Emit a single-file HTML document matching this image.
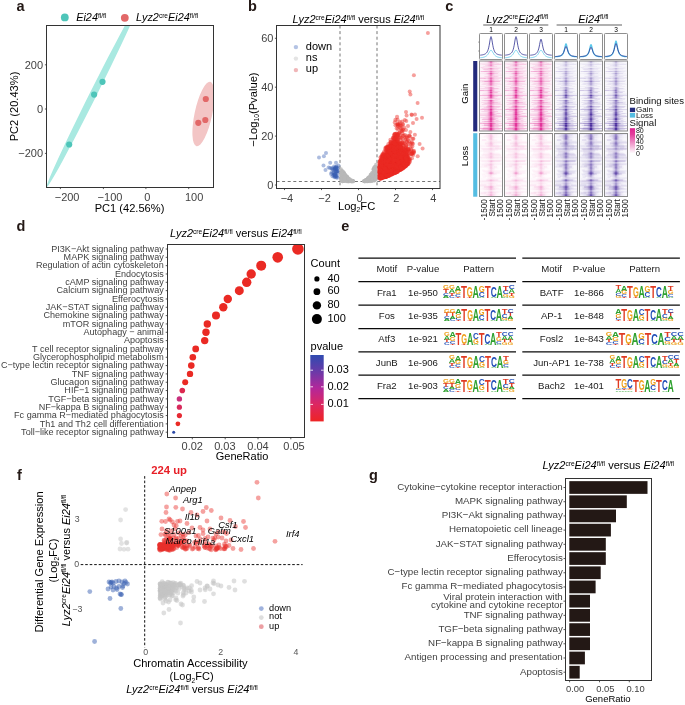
<!DOCTYPE html>
<html lang="en">
<head>
<meta charset="utf-8">
<title>Figure</title>
<style>
html,body{margin:0;padding:0;background:#fff;}
body{width:685px;height:705px;overflow:hidden;}
svg{display:block;font-family:"Liberation Sans", sans-serif;}
svg text{white-space:pre;}
</style>
</head>
<body>
<svg width="685" height="705" viewBox="0 0 685 705">
<rect x="0" y="0" width="685" height="705" fill="#fff"/>
<g id="panel-a">
<text x="16.6" y="11.4" font-size="14.5" font-weight="bold" fill="#231815">a</text>
<circle cx="64.8" cy="17.4" r="3.9" fill="#4ec5b9"/>
<text x="76.2" y="21.4" font-size="10.9"><tspan font-style="italic">Ei24</tspan><tspan font-size="6.54" dy="-3.27">fl/fl</tspan></text>
<circle cx="124.8" cy="17.8" r="3.9" fill="#e26868"/>
<text x="136.1" y="21.4" font-size="10.9"><tspan font-style="italic">Lyz2</tspan><tspan font-size="6.54" dy="-3.27">cre</tspan><tspan font-style="italic" dy="3.27">Ei24</tspan><tspan font-size="6.54" dy="-3.27">fl/fl</tspan></text>
<clipPath id="ca"><rect x="46.5" y="25.5" width="167" height="162"/></clipPath>
<g clip-path="url(#ca)">
<ellipse cx="0" cy="0" rx="104" ry="3.5" fill="#a9e9e1" transform="translate(93 94.6) rotate(-63.4)"/>
<ellipse cx="0" cy="0" rx="33" ry="8.8" fill="#f3c5c5" transform="translate(203.4 114) rotate(-78)"/>
</g>
<circle cx="102.5" cy="81.8" r="3.1" fill="#4ec5b9"/>
<circle cx="94.1" cy="94.6" r="3.1" fill="#4ec5b9"/>
<circle cx="69.2" cy="144.5" r="3.1" fill="#4ec5b9"/>
<circle cx="205.8" cy="99" r="3.1" fill="#e26868"/>
<circle cx="205.3" cy="120" r="3.1" fill="#e26868"/>
<circle cx="198.3" cy="122.8" r="3.1" fill="#e26868"/>
<rect x="46.5" y="25.5" width="167" height="162" fill="none" stroke="#333" stroke-width="1"/>
<text x="43" y="68.7" font-size="11" text-anchor="end" fill="#424242">200</text>
<line x1="44.9" y1="64.8" x2="46.5" y2="64.8" stroke="#333" stroke-width="0.8"/>
<text x="43" y="112.9" font-size="11" text-anchor="end" fill="#424242">0</text>
<line x1="44.9" y1="109" x2="46.5" y2="109" stroke="#333" stroke-width="0.8"/>
<text x="43" y="157.3" font-size="11" text-anchor="end" fill="#424242">−200</text>
<line x1="44.9" y1="153.4" x2="46.5" y2="153.4" stroke="#333" stroke-width="0.8"/>
<text x="67.1" y="200.6" font-size="11" text-anchor="middle" fill="#424242">−200</text>
<line x1="60.4" y1="187.5" x2="60.4" y2="189.1" stroke="#333" stroke-width="0.8"/>
<text x="110" y="200.6" font-size="11" text-anchor="middle" fill="#424242">−100</text>
<line x1="103.4" y1="187.5" x2="103.4" y2="189.1" stroke="#333" stroke-width="0.8"/>
<text x="147.2" y="200.6" font-size="11" text-anchor="middle" fill="#424242">0</text>
<line x1="145.9" y1="187.5" x2="145.9" y2="189.1" stroke="#333" stroke-width="0.8"/>
<text x="194.1" y="200.6" font-size="11" text-anchor="middle" fill="#424242">100</text>
<line x1="188.7" y1="187.5" x2="188.7" y2="189.1" stroke="#333" stroke-width="0.8"/>
<text font-size="11.1" text-anchor="middle" transform="translate(18.2 106.5) rotate(-90)">PC2 (20.43%)</text>
<text x="129.5" y="211.5" font-size="11.1" text-anchor="middle">PC1 (42.56%)</text>
</g>
<g id="panel-b">
<text x="248" y="11.4" font-size="14.5" font-weight="bold" fill="#231815">b</text>
<text x="292.5" y="22.8" font-size="11"><tspan font-style="italic">Lyz2</tspan><tspan font-size="6.6" dy="-3.3">cre</tspan><tspan font-style="italic" dy="3.3">Ei24</tspan><tspan font-size="6.6" dy="-3.3">fl/fl</tspan><tspan dy="3.3"> versus </tspan><tspan font-style="italic">Ei24</tspan><tspan font-size="6.6" dy="-3.3">fl/fl</tspan></text>
<line x1="340" y1="25.5" x2="340" y2="188.5" stroke="#6e6e6e" stroke-width="0.95" stroke-dasharray="3 2.6"/>
<line x1="377" y1="25.5" x2="377" y2="188.5" stroke="#6e6e6e" stroke-width="0.95" stroke-dasharray="3 2.6"/>
<line x1="276.5" y1="181.5" x2="440" y2="181.5" stroke="#6e6e6e" stroke-width="0.95" stroke-dasharray="3 2.6"/>
<g fill="#b8b8b8" fill-opacity="0.75">
<circle cx="375.58" cy="174.71" r="1.8"/>
<circle cx="351.75" cy="180.93" r="1.8"/>
<circle cx="371.89" cy="172.75" r="1.8"/>
<circle cx="352.43" cy="181.17" r="1.8"/>
<circle cx="349.18" cy="179.95" r="1.8"/>
<circle cx="342.6" cy="180.16" r="1.8"/>
<circle cx="344.6" cy="176.71" r="1.8"/>
<circle cx="345.18" cy="178.59" r="1.8"/>
<circle cx="352.24" cy="180.71" r="1.8"/>
<circle cx="370.05" cy="178" r="1.8"/>
<circle cx="371.64" cy="175.26" r="1.8"/>
<circle cx="345.13" cy="176.73" r="1.8"/>
<circle cx="365.69" cy="180.4" r="1.8"/>
<circle cx="344.73" cy="177.53" r="1.8"/>
<circle cx="373.91" cy="175.21" r="1.8"/>
<circle cx="369.36" cy="180.18" r="1.8"/>
<circle cx="343.89" cy="179.28" r="1.8"/>
<circle cx="371.26" cy="174.06" r="1.8"/>
<circle cx="368.44" cy="177.28" r="1.8"/>
<circle cx="345.89" cy="180.49" r="1.8"/>
<circle cx="366.56" cy="180.43" r="1.8"/>
<circle cx="341.29" cy="180.51" r="1.8"/>
<circle cx="369.1" cy="179.74" r="1.8"/>
<circle cx="371.85" cy="177.18" r="1.8"/>
<circle cx="341.45" cy="175.19" r="1.8"/>
<circle cx="351.97" cy="180.79" r="1.8"/>
<circle cx="368.4" cy="179.91" r="1.8"/>
<circle cx="364.23" cy="181.17" r="1.8"/>
<circle cx="344.81" cy="177.61" r="1.8"/>
<circle cx="343.18" cy="180.22" r="1.8"/>
<circle cx="347.2" cy="177.03" r="1.8"/>
<circle cx="365.4" cy="180.92" r="1.8"/>
<circle cx="374.96" cy="168.49" r="1.8"/>
<circle cx="373.19" cy="169.55" r="1.8"/>
<circle cx="375.67" cy="178.92" r="1.8"/>
<circle cx="350.45" cy="180.28" r="1.8"/>
<circle cx="346.19" cy="177.94" r="1.8"/>
<circle cx="368.36" cy="180.95" r="1.8"/>
<circle cx="372.18" cy="178.32" r="1.8"/>
<circle cx="343.98" cy="176.8" r="1.8"/>
<circle cx="346.52" cy="176.55" r="1.8"/>
<circle cx="369.8" cy="179.11" r="1.8"/>
<circle cx="372.44" cy="180.91" r="1.8"/>
<circle cx="341.07" cy="175.34" r="1.8"/>
<circle cx="347.9" cy="181.36" r="1.8"/>
<circle cx="345.29" cy="177.62" r="1.8"/>
<circle cx="372.22" cy="180.85" r="1.8"/>
<circle cx="344.78" cy="180.38" r="1.8"/>
<circle cx="375.65" cy="170.99" r="1.8"/>
<circle cx="366.11" cy="179.91" r="1.8"/>
<circle cx="370.75" cy="179.16" r="1.8"/>
<circle cx="351.23" cy="181.07" r="1.8"/>
<circle cx="370.73" cy="176.24" r="1.8"/>
<circle cx="349.67" cy="179.15" r="1.8"/>
<circle cx="366.48" cy="180.34" r="1.8"/>
<circle cx="343.28" cy="178.49" r="1.8"/>
<circle cx="343.92" cy="179.13" r="1.8"/>
<circle cx="375.2" cy="175.7" r="1.8"/>
<circle cx="345.66" cy="176.23" r="1.8"/>
<circle cx="372.46" cy="174.98" r="1.8"/>
<circle cx="342.8" cy="172.46" r="1.8"/>
<circle cx="349.74" cy="180.35" r="1.8"/>
<circle cx="341.02" cy="170.32" r="1.8"/>
<circle cx="368.06" cy="178.86" r="1.8"/>
<circle cx="370.37" cy="174.89" r="1.8"/>
<circle cx="375.65" cy="175.17" r="1.8"/>
<circle cx="351.23" cy="180.88" r="1.8"/>
<circle cx="367.32" cy="179.65" r="1.8"/>
<circle cx="346.26" cy="177.6" r="1.8"/>
<circle cx="342.52" cy="180.19" r="1.8"/>
<circle cx="373.96" cy="171.24" r="1.8"/>
<circle cx="375.01" cy="174.59" r="1.8"/>
<circle cx="365.51" cy="180.14" r="1.8"/>
<circle cx="370.56" cy="176.06" r="1.8"/>
<circle cx="343.62" cy="179.91" r="1.8"/>
<circle cx="352.65" cy="181.06" r="1.8"/>
<circle cx="374.2" cy="179.49" r="1.8"/>
<circle cx="372.68" cy="177.66" r="1.8"/>
<circle cx="352.8" cy="180.91" r="1.8"/>
<circle cx="345.73" cy="175.25" r="1.8"/>
<circle cx="375.95" cy="178.02" r="1.8"/>
<circle cx="352.64" cy="181.39" r="1.8"/>
<circle cx="343.23" cy="178.17" r="1.8"/>
<circle cx="374.48" cy="180.67" r="1.8"/>
<circle cx="375.1" cy="170.79" r="1.8"/>
<circle cx="374.41" cy="168.63" r="1.8"/>
<circle cx="345.67" cy="177.99" r="1.8"/>
<circle cx="342.15" cy="172.07" r="1.8"/>
<circle cx="343.1" cy="179.98" r="1.8"/>
<circle cx="346.32" cy="177.22" r="1.8"/>
<circle cx="348.08" cy="179.5" r="1.8"/>
<circle cx="373.98" cy="180.11" r="1.8"/>
<circle cx="349.08" cy="180.73" r="1.8"/>
<circle cx="345.94" cy="177.92" r="1.8"/>
<circle cx="346.67" cy="178.16" r="1.8"/>
<circle cx="343.95" cy="177.37" r="1.8"/>
<circle cx="371.06" cy="179.53" r="1.8"/>
<circle cx="375.34" cy="166.54" r="1.8"/>
<circle cx="342.47" cy="179.97" r="1.8"/>
<circle cx="347.27" cy="180.03" r="1.8"/>
<circle cx="346.84" cy="180.43" r="1.8"/>
<circle cx="373.98" cy="169.18" r="1.8"/>
<circle cx="341.5" cy="172.97" r="1.8"/>
<circle cx="366.42" cy="179.61" r="1.8"/>
<circle cx="367.53" cy="178.42" r="1.8"/>
<circle cx="374.97" cy="178.97" r="1.8"/>
<circle cx="350.3" cy="180.68" r="1.8"/>
<circle cx="369.09" cy="180.55" r="1.8"/>
<circle cx="365.6" cy="181" r="1.8"/>
<circle cx="371.57" cy="177.55" r="1.8"/>
<circle cx="347.36" cy="179.1" r="1.8"/>
<circle cx="371.11" cy="181.04" r="1.8"/>
<circle cx="341.19" cy="180.12" r="1.8"/>
<circle cx="368.23" cy="177.84" r="1.8"/>
<circle cx="348.79" cy="181.15" r="1.8"/>
<circle cx="374.63" cy="171.28" r="1.8"/>
<circle cx="369.89" cy="178.15" r="1.8"/>
<circle cx="373.13" cy="180.5" r="1.8"/>
<circle cx="342.87" cy="179.56" r="1.8"/>
<circle cx="348.81" cy="181.52" r="1.8"/>
<circle cx="342.85" cy="180.65" r="1.8"/>
<circle cx="351.86" cy="180.57" r="1.8"/>
<circle cx="363.94" cy="180.79" r="1.8"/>
<circle cx="375.38" cy="177.04" r="1.8"/>
<circle cx="352.31" cy="180.88" r="1.8"/>
<circle cx="341.22" cy="177.94" r="1.8"/>
<circle cx="349.72" cy="180.79" r="1.8"/>
<circle cx="371.32" cy="179.79" r="1.8"/>
<circle cx="370.98" cy="180.13" r="1.8"/>
<circle cx="374.17" cy="167.41" r="1.8"/>
<circle cx="352.96" cy="180.99" r="1.8"/>
<circle cx="345.87" cy="179.96" r="1.8"/>
<circle cx="365.84" cy="180.14" r="1.8"/>
<circle cx="372.67" cy="175.48" r="1.8"/>
<circle cx="375.79" cy="176.06" r="1.8"/>
<circle cx="341.09" cy="176.74" r="1.8"/>
<circle cx="347.12" cy="179.82" r="1.8"/>
<circle cx="342.5" cy="181.41" r="1.8"/>
<circle cx="370.18" cy="181.2" r="1.8"/>
<circle cx="374.83" cy="171.06" r="1.8"/>
<circle cx="372.06" cy="174.64" r="1.8"/>
<circle cx="346.48" cy="180.66" r="1.8"/>
<circle cx="363.68" cy="181.3" r="1.8"/>
<circle cx="375.82" cy="171.75" r="1.8"/>
<circle cx="352.5" cy="180.76" r="1.8"/>
<circle cx="347.7" cy="181.57" r="1.8"/>
<circle cx="365.46" cy="181.16" r="1.8"/>
<circle cx="349.08" cy="179.21" r="1.8"/>
<circle cx="348.87" cy="181.29" r="1.8"/>
<circle cx="371.93" cy="177.72" r="1.8"/>
<circle cx="368.65" cy="180.49" r="1.8"/>
<circle cx="344.32" cy="175.31" r="1.8"/>
<circle cx="373.78" cy="171.92" r="1.8"/>
<circle cx="366.52" cy="179.9" r="1.8"/>
<circle cx="352.3" cy="180.75" r="1.8"/>
<circle cx="373.47" cy="171.21" r="1.8"/>
<circle cx="341.79" cy="171.89" r="1.8"/>
<circle cx="342.6" cy="174.88" r="1.8"/>
<circle cx="351.52" cy="181.52" r="1.8"/>
<circle cx="375.69" cy="174.92" r="1.8"/>
<circle cx="371.62" cy="175.78" r="1.8"/>
<circle cx="346.15" cy="181.56" r="1.8"/>
<circle cx="343.38" cy="176.45" r="1.8"/>
<circle cx="344.3" cy="181" r="1.8"/>
<circle cx="367.97" cy="181.29" r="1.8"/>
<circle cx="367.74" cy="178.89" r="1.8"/>
<circle cx="343.47" cy="171.76" r="1.8"/>
<circle cx="374.59" cy="180.41" r="1.8"/>
<circle cx="373.81" cy="173.27" r="1.8"/>
<circle cx="351.66" cy="181.39" r="1.8"/>
<circle cx="372.62" cy="173.91" r="1.8"/>
<circle cx="353.04" cy="181.53" r="1.8"/>
<circle cx="375.81" cy="179.79" r="1.8"/>
<circle cx="344.13" cy="178.95" r="1.8"/>
<circle cx="370.58" cy="178.1" r="1.8"/>
<circle cx="340.99" cy="173.72" r="1.8"/>
<circle cx="375.87" cy="164.64" r="1.8"/>
<circle cx="348.54" cy="181.31" r="1.8"/>
<circle cx="376.02" cy="174.44" r="1.8"/>
<circle cx="351.71" cy="181.47" r="1.8"/>
<circle cx="375.63" cy="179.25" r="1.8"/>
<circle cx="374.99" cy="170.29" r="1.8"/>
<circle cx="346.05" cy="176" r="1.8"/>
<circle cx="364.28" cy="181.57" r="1.8"/>
<circle cx="372.93" cy="176.84" r="1.8"/>
<circle cx="346.99" cy="179.62" r="1.8"/>
<circle cx="342.46" cy="181.56" r="1.8"/>
<circle cx="374.52" cy="179.78" r="1.8"/>
<circle cx="343.74" cy="172.9" r="1.8"/>
<circle cx="367.99" cy="181.33" r="1.8"/>
<circle cx="376.06" cy="170.65" r="1.8"/>
<circle cx="375.36" cy="168.8" r="1.8"/>
<circle cx="348.65" cy="181.4" r="1.8"/>
<circle cx="372.44" cy="179.98" r="1.8"/>
<circle cx="370.25" cy="179.39" r="1.8"/>
<circle cx="373.99" cy="175.65" r="1.8"/>
<circle cx="342.74" cy="174.49" r="1.8"/>
<circle cx="343.68" cy="181.1" r="1.8"/>
<circle cx="370.42" cy="176.16" r="1.8"/>
<circle cx="370.81" cy="174.43" r="1.8"/>
<circle cx="350.16" cy="180.68" r="1.8"/>
<circle cx="368.57" cy="178.22" r="1.8"/>
<circle cx="369.9" cy="180.05" r="1.8"/>
<circle cx="371.61" cy="177.95" r="1.8"/>
<circle cx="344.47" cy="180.94" r="1.8"/>
<circle cx="371.53" cy="177.47" r="1.8"/>
<circle cx="376.04" cy="173.25" r="1.8"/>
<circle cx="345.49" cy="179.85" r="1.8"/>
<circle cx="347.88" cy="181.19" r="1.8"/>
<circle cx="347.56" cy="177.88" r="1.8"/>
<circle cx="342" cy="172.21" r="1.8"/>
<circle cx="369.62" cy="177.12" r="1.8"/>
<circle cx="347.45" cy="179.99" r="1.8"/>
<circle cx="346.05" cy="177.92" r="1.8"/>
<circle cx="366.15" cy="180.57" r="1.8"/>
<circle cx="351.39" cy="180.33" r="1.8"/>
<circle cx="369.82" cy="178.78" r="1.8"/>
<circle cx="374.62" cy="168.3" r="1.8"/>
<circle cx="350.82" cy="180.84" r="1.8"/>
<circle cx="375.77" cy="172.83" r="1.8"/>
<circle cx="347.28" cy="177.06" r="1.8"/>
<circle cx="375.81" cy="177.12" r="1.8"/>
<circle cx="349.41" cy="181.16" r="1.8"/>
<circle cx="341.48" cy="171.9" r="1.8"/>
<circle cx="365.48" cy="180.41" r="1.8"/>
<circle cx="343.04" cy="179.08" r="1.8"/>
<circle cx="344.45" cy="178.97" r="1.8"/>
<circle cx="344.65" cy="177.21" r="1.8"/>
<circle cx="373.11" cy="180.23" r="1.8"/>
<circle cx="348.4" cy="178.1" r="1.8"/>
<circle cx="347.32" cy="180.5" r="1.8"/>
<circle cx="353.09" cy="181.34" r="1.8"/>
<circle cx="368.32" cy="180.24" r="1.8"/>
<circle cx="346.3" cy="180.16" r="1.8"/>
<circle cx="352.61" cy="181.21" r="1.8"/>
<circle cx="364.93" cy="181.35" r="1.8"/>
<circle cx="365.41" cy="181.24" r="1.8"/>
<circle cx="375.36" cy="177.75" r="1.8"/>
<circle cx="343.92" cy="174.86" r="1.8"/>
<circle cx="372.94" cy="179.26" r="1.8"/>
<circle cx="373.52" cy="175.08" r="1.8"/>
<circle cx="346.07" cy="180.31" r="1.8"/>
<circle cx="349.32" cy="180.95" r="1.8"/>
<circle cx="365.88" cy="180.46" r="1.8"/>
<circle cx="341.91" cy="175.44" r="1.8"/>
<circle cx="341.41" cy="179.6" r="1.8"/>
<circle cx="364.91" cy="181.55" r="1.8"/>
<circle cx="347" cy="177.89" r="1.8"/>
<circle cx="347.26" cy="177.18" r="1.8"/>
<circle cx="373.46" cy="168.87" r="1.8"/>
<circle cx="348.04" cy="180.82" r="1.8"/>
<circle cx="364.44" cy="180.94" r="1.8"/>
<circle cx="374.52" cy="166.8" r="1.8"/>
<circle cx="366.81" cy="181.57" r="1.8"/>
<circle cx="365.4" cy="180.97" r="1.8"/>
<circle cx="345.35" cy="176.05" r="1.8"/>
<circle cx="369.3" cy="177.04" r="1.8"/>
<circle cx="365.52" cy="180.49" r="1.8"/>
<circle cx="347.5" cy="177.33" r="1.8"/>
<circle cx="348.11" cy="178.64" r="1.8"/>
<circle cx="364.41" cy="181.19" r="1.8"/>
<circle cx="364.63" cy="181.54" r="1.8"/>
<circle cx="342.83" cy="180.89" r="1.8"/>
<circle cx="343.39" cy="172.43" r="1.8"/>
<circle cx="369.38" cy="179.69" r="1.8"/>
<circle cx="348.9" cy="179.27" r="1.8"/>
<circle cx="375.35" cy="176.56" r="1.8"/>
<circle cx="352.73" cy="181.38" r="1.8"/>
<circle cx="373.28" cy="175.81" r="1.8"/>
<circle cx="374.03" cy="168.84" r="1.8"/>
<circle cx="366.26" cy="180.54" r="1.8"/>
<circle cx="342.84" cy="173.4" r="1.8"/>
<circle cx="344.85" cy="178.96" r="1.8"/>
<circle cx="370.53" cy="175.79" r="1.8"/>
<circle cx="345.89" cy="179.01" r="1.8"/>
<circle cx="349.09" cy="181.38" r="1.8"/>
<circle cx="346.23" cy="178.24" r="1.8"/>
<circle cx="341.11" cy="169.14" r="1.8"/>
<circle cx="348.86" cy="181.3" r="1.8"/>
<circle cx="346.93" cy="176.36" r="1.8"/>
<circle cx="366.87" cy="181.23" r="1.8"/>
<circle cx="372.29" cy="174.54" r="1.8"/>
<circle cx="343.07" cy="178.43" r="1.8"/>
<circle cx="371.71" cy="178.08" r="1.8"/>
<circle cx="367.25" cy="180.83" r="1.8"/>
<circle cx="349.25" cy="180.76" r="1.8"/>
<circle cx="348.07" cy="179.99" r="1.8"/>
<circle cx="345.94" cy="180.07" r="1.8"/>
<circle cx="344.36" cy="172.96" r="1.8"/>
<circle cx="353.29" cy="180.92" r="1.8"/>
<circle cx="342.46" cy="170.87" r="1.8"/>
<circle cx="342.11" cy="178.71" r="1.8"/>
<circle cx="349.89" cy="179.26" r="1.8"/>
<circle cx="341.59" cy="176.66" r="1.8"/>
<circle cx="346.6" cy="180.1" r="1.8"/>
<circle cx="351.17" cy="180.67" r="1.8"/>
<circle cx="367.5" cy="180.36" r="1.8"/>
<circle cx="352.29" cy="180.59" r="1.8"/>
<circle cx="344.93" cy="176.45" r="1.8"/>
<circle cx="342.72" cy="172.34" r="1.8"/>
<circle cx="372.9" cy="179.43" r="1.8"/>
<circle cx="365.35" cy="181.53" r="1.8"/>
<circle cx="371.51" cy="181.01" r="1.8"/>
<circle cx="342.91" cy="174.29" r="1.8"/>
<circle cx="344.51" cy="180.8" r="1.8"/>
<circle cx="347.2" cy="180.23" r="1.8"/>
<circle cx="372.79" cy="176.81" r="1.8"/>
<circle cx="348.25" cy="179.4" r="1.8"/>
<circle cx="369.99" cy="181.46" r="1.8"/>
<circle cx="372.54" cy="177.31" r="1.8"/>
<circle cx="367.31" cy="181.56" r="1.8"/>
<circle cx="346.9" cy="177.22" r="1.8"/>
<circle cx="371.83" cy="178.07" r="1.8"/>
<circle cx="350.78" cy="181.49" r="1.8"/>
<circle cx="344.5" cy="173.85" r="1.8"/>
<circle cx="345.22" cy="174.66" r="1.8"/>
<circle cx="350.54" cy="181.04" r="1.8"/>
<circle cx="341.63" cy="180.15" r="1.8"/>
<circle cx="373.67" cy="171.14" r="1.8"/>
<circle cx="348.38" cy="178.48" r="1.8"/>
<circle cx="341.16" cy="174.82" r="1.8"/>
<circle cx="344.85" cy="176.49" r="1.8"/>
<circle cx="341.84" cy="173.65" r="1.8"/>
<circle cx="344.5" cy="174.31" r="1.8"/>
<circle cx="372.23" cy="179.55" r="1.8"/>
<circle cx="367.01" cy="180.97" r="1.8"/>
<circle cx="375.49" cy="178.89" r="1.8"/>
<circle cx="366.11" cy="181.09" r="1.8"/>
<circle cx="352.36" cy="181.03" r="1.8"/>
<circle cx="344.21" cy="178.69" r="1.8"/>
</g>
<g fill="#3a60b2" fill-opacity="0.42">
<circle cx="334.61" cy="167.94" r="2"/>
<circle cx="335.12" cy="169.05" r="2"/>
<circle cx="335.81" cy="175.88" r="2"/>
<circle cx="335.16" cy="174.12" r="2"/>
<circle cx="334.8" cy="176.17" r="2"/>
<circle cx="334.52" cy="177.29" r="2"/>
<circle cx="333.68" cy="172.96" r="2"/>
<circle cx="337.25" cy="171.82" r="2"/>
<circle cx="334.79" cy="168.52" r="2"/>
<circle cx="331.52" cy="172.77" r="2"/>
<circle cx="334.57" cy="174.19" r="2"/>
<circle cx="336.24" cy="168.94" r="2"/>
<circle cx="332.45" cy="176.26" r="2"/>
<circle cx="337.45" cy="177.66" r="2"/>
<circle cx="334.9" cy="169.81" r="2"/>
<circle cx="336.16" cy="177.54" r="2"/>
<circle cx="337.5" cy="171.4" r="2"/>
<circle cx="330.13" cy="167.91" r="2"/>
<circle cx="336.31" cy="171.62" r="2"/>
<circle cx="337.38" cy="170.8" r="2"/>
<circle cx="336.15" cy="167.67" r="2"/>
<circle cx="336.41" cy="175.69" r="2"/>
<circle cx="335.26" cy="170.37" r="2"/>
<circle cx="331.79" cy="169.08" r="2"/>
<circle cx="336.4" cy="171.7" r="2"/>
<circle cx="331.05" cy="174.07" r="2"/>
<circle cx="335.43" cy="167.26" r="2"/>
<circle cx="333.26" cy="172.72" r="2"/>
<circle cx="337.36" cy="173.71" r="2"/>
<circle cx="333.52" cy="175.14" r="2"/>
<circle cx="334.94" cy="174.23" r="2"/>
<circle cx="336.47" cy="171.36" r="2"/>
<circle cx="334.2" cy="174.99" r="2"/>
<circle cx="335.99" cy="169.03" r="2"/>
<circle cx="334.58" cy="175.27" r="2"/>
<circle cx="337.47" cy="168.33" r="2"/>
<circle cx="336.49" cy="166.49" r="2"/>
<circle cx="333.51" cy="169.91" r="2"/>
<circle cx="336.35" cy="167.55" r="2"/>
<circle cx="337.54" cy="168.37" r="2"/>
<circle cx="333.24" cy="169.19" r="2"/>
<circle cx="335.24" cy="174.37" r="2"/>
<circle cx="335.13" cy="176.59" r="2"/>
<circle cx="336.89" cy="176.49" r="2"/>
<circle cx="319" cy="157.6" r="2"/>
<circle cx="323.9" cy="156.2" r="2"/>
<circle cx="326" cy="153.1" r="2"/>
<circle cx="323.5" cy="165.4" r="2"/>
<circle cx="325.5" cy="170.1" r="2"/>
<circle cx="330.2" cy="162.7" r="2"/>
<circle cx="336" cy="162.7" r="2"/>
<circle cx="328.6" cy="167.4" r="2"/>
<circle cx="332" cy="168" r="2"/>
<circle cx="334" cy="166.5" r="2"/>
<circle cx="338.5" cy="165.5" r="2"/>
</g>
<g fill="#ea2a24" fill-opacity="0.45">
<circle cx="399.14" cy="163.51" r="2.1"/>
<circle cx="406.09" cy="161.19" r="2.1"/>
<circle cx="380.31" cy="178.27" r="2.1"/>
<circle cx="386.38" cy="172.17" r="2.1"/>
<circle cx="383.73" cy="170.93" r="2.1"/>
<circle cx="385.84" cy="156.14" r="2.1"/>
<circle cx="399.96" cy="155.77" r="2.1"/>
<circle cx="406.4" cy="164.01" r="2.1"/>
<circle cx="381.2" cy="172.32" r="2.1"/>
<circle cx="397.41" cy="160.6" r="2.1"/>
<circle cx="390.5" cy="162.2" r="2.1"/>
<circle cx="401.68" cy="166.3" r="2.1"/>
<circle cx="394.49" cy="136.18" r="2.1"/>
<circle cx="391.65" cy="145.54" r="2.1"/>
<circle cx="385.15" cy="159.5" r="2.1"/>
<circle cx="388.06" cy="162.43" r="2.1"/>
<circle cx="402.24" cy="160.73" r="2.1"/>
<circle cx="381.03" cy="164.71" r="2.1"/>
<circle cx="403.37" cy="165.74" r="2.1"/>
<circle cx="394.39" cy="151.34" r="2.1"/>
<circle cx="390.79" cy="167.13" r="2.1"/>
<circle cx="399.56" cy="147.82" r="2.1"/>
<circle cx="391.06" cy="150.53" r="2.1"/>
<circle cx="393.54" cy="162.04" r="2.1"/>
<circle cx="408.47" cy="163.36" r="2.1"/>
<circle cx="380.05" cy="170.68" r="2.1"/>
<circle cx="394.5" cy="172.74" r="2.1"/>
<circle cx="380.26" cy="167.96" r="2.1"/>
<circle cx="400.25" cy="147.08" r="2.1"/>
<circle cx="381.42" cy="157.99" r="2.1"/>
<circle cx="388.72" cy="148.74" r="2.1"/>
<circle cx="392.23" cy="163.69" r="2.1"/>
<circle cx="382.55" cy="176.6" r="2.1"/>
<circle cx="407.88" cy="157.67" r="2.1"/>
<circle cx="394.07" cy="154.05" r="2.1"/>
<circle cx="383.54" cy="169.27" r="2.1"/>
<circle cx="396.97" cy="136.33" r="2.1"/>
<circle cx="400.21" cy="164.82" r="2.1"/>
<circle cx="403.63" cy="163.97" r="2.1"/>
<circle cx="404.94" cy="161.53" r="2.1"/>
<circle cx="380.73" cy="166.23" r="2.1"/>
<circle cx="392.37" cy="144.96" r="2.1"/>
<circle cx="401.18" cy="161.91" r="2.1"/>
<circle cx="402.48" cy="155.85" r="2.1"/>
<circle cx="379.86" cy="161.56" r="2.1"/>
<circle cx="407.68" cy="162.62" r="2.1"/>
<circle cx="388.66" cy="167.01" r="2.1"/>
<circle cx="388.53" cy="172.99" r="2.1"/>
<circle cx="400.1" cy="169.74" r="2.1"/>
<circle cx="405.1" cy="160" r="2.1"/>
<circle cx="393.71" cy="169.79" r="2.1"/>
<circle cx="404.99" cy="149.81" r="2.1"/>
<circle cx="385.16" cy="159.56" r="2.1"/>
<circle cx="397.96" cy="148.85" r="2.1"/>
<circle cx="396.37" cy="170.99" r="2.1"/>
<circle cx="384.48" cy="166.94" r="2.1"/>
<circle cx="385.5" cy="176.35" r="2.1"/>
<circle cx="395.69" cy="168.55" r="2.1"/>
<circle cx="388.99" cy="174.46" r="2.1"/>
<circle cx="397.35" cy="168.39" r="2.1"/>
<circle cx="390.17" cy="162.05" r="2.1"/>
<circle cx="404.16" cy="156.12" r="2.1"/>
<circle cx="387.32" cy="166.84" r="2.1"/>
<circle cx="396.63" cy="133.59" r="2.1"/>
<circle cx="384.72" cy="175.99" r="2.1"/>
<circle cx="390.06" cy="150.2" r="2.1"/>
<circle cx="401.31" cy="163.03" r="2.1"/>
<circle cx="393.86" cy="171.96" r="2.1"/>
<circle cx="391.75" cy="173.28" r="2.1"/>
<circle cx="394.29" cy="151.25" r="2.1"/>
<circle cx="380.11" cy="166.7" r="2.1"/>
<circle cx="393.6" cy="148.46" r="2.1"/>
<circle cx="393.1" cy="150.48" r="2.1"/>
<circle cx="406.7" cy="155.53" r="2.1"/>
<circle cx="390.3" cy="174.19" r="2.1"/>
<circle cx="404.66" cy="163.52" r="2.1"/>
<circle cx="386.07" cy="174.74" r="2.1"/>
<circle cx="386.65" cy="150.55" r="2.1"/>
<circle cx="380.32" cy="173.76" r="2.1"/>
<circle cx="387.09" cy="169.82" r="2.1"/>
<circle cx="404.68" cy="165.74" r="2.1"/>
<circle cx="383.78" cy="170.28" r="2.1"/>
<circle cx="384.35" cy="163.9" r="2.1"/>
<circle cx="382.54" cy="174.86" r="2.1"/>
<circle cx="394.21" cy="153.43" r="2.1"/>
<circle cx="393.95" cy="143.1" r="2.1"/>
<circle cx="393.04" cy="159.28" r="2.1"/>
<circle cx="385.22" cy="172.79" r="2.1"/>
<circle cx="407.32" cy="158.59" r="2.1"/>
<circle cx="389.9" cy="169.89" r="2.1"/>
<circle cx="393.51" cy="172.32" r="2.1"/>
<circle cx="388.84" cy="154.11" r="2.1"/>
<circle cx="395.45" cy="171.57" r="2.1"/>
<circle cx="403.93" cy="156.67" r="2.1"/>
<circle cx="384.36" cy="172.04" r="2.1"/>
<circle cx="379.86" cy="162.28" r="2.1"/>
<circle cx="384.22" cy="156.22" r="2.1"/>
<circle cx="385.55" cy="162.59" r="2.1"/>
<circle cx="390.8" cy="169.95" r="2.1"/>
<circle cx="399.05" cy="165.69" r="2.1"/>
<circle cx="383.45" cy="165.05" r="2.1"/>
<circle cx="390.8" cy="163.44" r="2.1"/>
<circle cx="388.75" cy="154.16" r="2.1"/>
<circle cx="382.57" cy="176.85" r="2.1"/>
<circle cx="394.55" cy="143.41" r="2.1"/>
<circle cx="382.61" cy="163.18" r="2.1"/>
<circle cx="382.36" cy="168.96" r="2.1"/>
<circle cx="399.31" cy="168.91" r="2.1"/>
<circle cx="390.59" cy="166.67" r="2.1"/>
<circle cx="407.1" cy="160.21" r="2.1"/>
<circle cx="386.38" cy="172.08" r="2.1"/>
<circle cx="381.48" cy="162.11" r="2.1"/>
<circle cx="383.97" cy="155.97" r="2.1"/>
<circle cx="381.94" cy="174.65" r="2.1"/>
<circle cx="389.15" cy="164.12" r="2.1"/>
<circle cx="387.73" cy="174.29" r="2.1"/>
<circle cx="383.21" cy="160.46" r="2.1"/>
<circle cx="383.21" cy="156.02" r="2.1"/>
<circle cx="382.59" cy="163.9" r="2.1"/>
<circle cx="398.9" cy="147.45" r="2.1"/>
<circle cx="384.17" cy="174.12" r="2.1"/>
<circle cx="395.17" cy="159.69" r="2.1"/>
<circle cx="382.23" cy="175.04" r="2.1"/>
<circle cx="388.32" cy="161.2" r="2.1"/>
<circle cx="385.39" cy="168.88" r="2.1"/>
<circle cx="396.7" cy="165.05" r="2.1"/>
<circle cx="401.7" cy="161.99" r="2.1"/>
<circle cx="383.78" cy="165.43" r="2.1"/>
<circle cx="403.51" cy="151.38" r="2.1"/>
<circle cx="404.15" cy="166.03" r="2.1"/>
<circle cx="395.42" cy="137.17" r="2.1"/>
<circle cx="389" cy="170.38" r="2.1"/>
<circle cx="399.49" cy="161.83" r="2.1"/>
<circle cx="389.73" cy="159.88" r="2.1"/>
<circle cx="397.07" cy="165.1" r="2.1"/>
<circle cx="403.06" cy="157.49" r="2.1"/>
<circle cx="390.43" cy="142.54" r="2.1"/>
<circle cx="402.59" cy="163.8" r="2.1"/>
<circle cx="379.8" cy="175.59" r="2.1"/>
<circle cx="397.16" cy="161.64" r="2.1"/>
<circle cx="381.62" cy="160.72" r="2.1"/>
<circle cx="388.9" cy="160.45" r="2.1"/>
<circle cx="379.67" cy="165.83" r="2.1"/>
<circle cx="394.01" cy="135.04" r="2.1"/>
<circle cx="389.01" cy="169.36" r="2.1"/>
<circle cx="386.17" cy="169.01" r="2.1"/>
<circle cx="402.17" cy="158.63" r="2.1"/>
<circle cx="385.29" cy="154.76" r="2.1"/>
<circle cx="405.87" cy="162.74" r="2.1"/>
<circle cx="384.86" cy="170.58" r="2.1"/>
<circle cx="389.49" cy="155.02" r="2.1"/>
<circle cx="385.22" cy="162.68" r="2.1"/>
<circle cx="379.32" cy="174.63" r="2.1"/>
<circle cx="383.18" cy="158.4" r="2.1"/>
<circle cx="382.26" cy="169.3" r="2.1"/>
<circle cx="385.36" cy="161.61" r="2.1"/>
<circle cx="382.07" cy="161.62" r="2.1"/>
<circle cx="401.15" cy="161.17" r="2.1"/>
<circle cx="392.17" cy="171.89" r="2.1"/>
<circle cx="382.9" cy="177.25" r="2.1"/>
<circle cx="398.39" cy="154.91" r="2.1"/>
<circle cx="403.95" cy="162" r="2.1"/>
<circle cx="390.58" cy="146.2" r="2.1"/>
<circle cx="391.86" cy="169.71" r="2.1"/>
<circle cx="382.39" cy="168.48" r="2.1"/>
<circle cx="390.11" cy="161.57" r="2.1"/>
<circle cx="384.28" cy="151.71" r="2.1"/>
<circle cx="396.31" cy="170.13" r="2.1"/>
<circle cx="379.53" cy="176.69" r="2.1"/>
<circle cx="388.09" cy="153.76" r="2.1"/>
<circle cx="386.87" cy="174.08" r="2.1"/>
<circle cx="396.79" cy="138.88" r="2.1"/>
<circle cx="385.1" cy="163" r="2.1"/>
<circle cx="389.72" cy="156.74" r="2.1"/>
<circle cx="393.54" cy="140.68" r="2.1"/>
<circle cx="403.17" cy="153.06" r="2.1"/>
<circle cx="400.84" cy="162.24" r="2.1"/>
<circle cx="395.77" cy="162.57" r="2.1"/>
<circle cx="390.22" cy="149.79" r="2.1"/>
<circle cx="398.64" cy="143.58" r="2.1"/>
<circle cx="390.37" cy="172.26" r="2.1"/>
<circle cx="387.5" cy="163.16" r="2.1"/>
<circle cx="397.38" cy="171.86" r="2.1"/>
<circle cx="381.42" cy="165.3" r="2.1"/>
<circle cx="393.99" cy="139.15" r="2.1"/>
<circle cx="387.52" cy="176.24" r="2.1"/>
<circle cx="381.43" cy="173.51" r="2.1"/>
<circle cx="382.87" cy="169.47" r="2.1"/>
<circle cx="391.22" cy="167.03" r="2.1"/>
<circle cx="388.11" cy="170.64" r="2.1"/>
<circle cx="395.35" cy="152.32" r="2.1"/>
<circle cx="391.59" cy="159.19" r="2.1"/>
<circle cx="395.73" cy="153.53" r="2.1"/>
<circle cx="389.17" cy="174.09" r="2.1"/>
<circle cx="406.65" cy="163.59" r="2.1"/>
<circle cx="396.43" cy="170.14" r="2.1"/>
<circle cx="383.87" cy="159.01" r="2.1"/>
<circle cx="399.92" cy="147.73" r="2.1"/>
<circle cx="396.07" cy="168.88" r="2.1"/>
<circle cx="399.8" cy="157.64" r="2.1"/>
<circle cx="387.73" cy="167.77" r="2.1"/>
<circle cx="380.52" cy="167.54" r="2.1"/>
<circle cx="387.05" cy="153.9" r="2.1"/>
<circle cx="401.3" cy="155.93" r="2.1"/>
<circle cx="399.51" cy="166.34" r="2.1"/>
<circle cx="382.18" cy="170.62" r="2.1"/>
<circle cx="388.93" cy="156.77" r="2.1"/>
<circle cx="385.16" cy="161.8" r="2.1"/>
<circle cx="388.58" cy="151.13" r="2.1"/>
<circle cx="393.64" cy="165.16" r="2.1"/>
<circle cx="383.42" cy="160.65" r="2.1"/>
<circle cx="383.64" cy="157.52" r="2.1"/>
<circle cx="385.56" cy="170.72" r="2.1"/>
<circle cx="386.52" cy="155.41" r="2.1"/>
<circle cx="404.88" cy="159.64" r="2.1"/>
<circle cx="396.67" cy="136.41" r="2.1"/>
<circle cx="394.75" cy="134.04" r="2.1"/>
<circle cx="402.55" cy="159.69" r="2.1"/>
<circle cx="383.76" cy="164.37" r="2.1"/>
<circle cx="398.98" cy="166.04" r="2.1"/>
<circle cx="391.66" cy="172.5" r="2.1"/>
<circle cx="382.38" cy="169.17" r="2.1"/>
<circle cx="387.38" cy="171.6" r="2.1"/>
<circle cx="397.08" cy="140.14" r="2.1"/>
<circle cx="402.22" cy="143.33" r="2.1"/>
<circle cx="382.4" cy="176.98" r="2.1"/>
<circle cx="382.3" cy="162.43" r="2.1"/>
<circle cx="385.09" cy="159.35" r="2.1"/>
<circle cx="382.8" cy="171.02" r="2.1"/>
<circle cx="386.12" cy="159.58" r="2.1"/>
<circle cx="387.38" cy="158.37" r="2.1"/>
<circle cx="383.65" cy="174.89" r="2.1"/>
<circle cx="380.66" cy="176.17" r="2.1"/>
<circle cx="380.98" cy="178.43" r="2.1"/>
<circle cx="403.46" cy="155.1" r="2.1"/>
<circle cx="382.76" cy="157.17" r="2.1"/>
<circle cx="379.79" cy="172.88" r="2.1"/>
<circle cx="395.46" cy="163.64" r="2.1"/>
<circle cx="381.8" cy="178" r="2.1"/>
<circle cx="391.63" cy="166.37" r="2.1"/>
<circle cx="385.38" cy="155.05" r="2.1"/>
<circle cx="384.23" cy="154.8" r="2.1"/>
<circle cx="386.17" cy="172.42" r="2.1"/>
<circle cx="389.42" cy="153.96" r="2.1"/>
<circle cx="389" cy="171.58" r="2.1"/>
<circle cx="400.56" cy="169.88" r="2.1"/>
<circle cx="390.2" cy="166.59" r="2.1"/>
<circle cx="380.65" cy="174.44" r="2.1"/>
<circle cx="386.3" cy="157.78" r="2.1"/>
<circle cx="407.81" cy="162.69" r="2.1"/>
<circle cx="388.7" cy="159.65" r="2.1"/>
<circle cx="394.12" cy="164.18" r="2.1"/>
<circle cx="392.51" cy="155.64" r="2.1"/>
<circle cx="386.35" cy="165.07" r="2.1"/>
<circle cx="382.28" cy="166.41" r="2.1"/>
<circle cx="381.99" cy="167.34" r="2.1"/>
<circle cx="403.96" cy="167.56" r="2.1"/>
<circle cx="381.48" cy="171.87" r="2.1"/>
<circle cx="391.97" cy="160.78" r="2.1"/>
<circle cx="380.44" cy="161.49" r="2.1"/>
<circle cx="382.77" cy="160.07" r="2.1"/>
<circle cx="392.54" cy="164.15" r="2.1"/>
<circle cx="393.51" cy="157.47" r="2.1"/>
<circle cx="399.02" cy="161.65" r="2.1"/>
<circle cx="402.9" cy="148.39" r="2.1"/>
<circle cx="406.04" cy="154" r="2.1"/>
<circle cx="404.52" cy="155.52" r="2.1"/>
<circle cx="381.91" cy="176.37" r="2.1"/>
<circle cx="393.3" cy="137.92" r="2.1"/>
<circle cx="399.58" cy="147.09" r="2.1"/>
<circle cx="391.84" cy="155.61" r="2.1"/>
<circle cx="390.97" cy="165.72" r="2.1"/>
<circle cx="402.52" cy="168.65" r="2.1"/>
<circle cx="389.17" cy="155.55" r="2.1"/>
<circle cx="388.97" cy="151.78" r="2.1"/>
<circle cx="385.62" cy="176.13" r="2.1"/>
<circle cx="395.72" cy="172.24" r="2.1"/>
<circle cx="400.27" cy="168.31" r="2.1"/>
<circle cx="400.5" cy="169.14" r="2.1"/>
<circle cx="387.98" cy="159.03" r="2.1"/>
<circle cx="384.75" cy="177.23" r="2.1"/>
<circle cx="386.7" cy="168.57" r="2.1"/>
<circle cx="379.83" cy="176.85" r="2.1"/>
<circle cx="405.63" cy="165.98" r="2.1"/>
<circle cx="386.69" cy="175.67" r="2.1"/>
<circle cx="398.44" cy="153.85" r="2.1"/>
<circle cx="386.44" cy="172.06" r="2.1"/>
<circle cx="385.11" cy="161.76" r="2.1"/>
<circle cx="396.71" cy="155.02" r="2.1"/>
<circle cx="391.68" cy="149.96" r="2.1"/>
<circle cx="380.33" cy="164.6" r="2.1"/>
<circle cx="387.11" cy="165.43" r="2.1"/>
<circle cx="379.77" cy="172.97" r="2.1"/>
<circle cx="407.88" cy="159.27" r="2.1"/>
<circle cx="401.31" cy="159.24" r="2.1"/>
<circle cx="387.69" cy="170.69" r="2.1"/>
<circle cx="404.41" cy="162.94" r="2.1"/>
<circle cx="380.03" cy="168.25" r="2.1"/>
<circle cx="394.52" cy="138.38" r="2.1"/>
<circle cx="387.18" cy="159.64" r="2.1"/>
<circle cx="386.11" cy="165.25" r="2.1"/>
<circle cx="401.95" cy="166.9" r="2.1"/>
<circle cx="394" cy="143.15" r="2.1"/>
<circle cx="404.71" cy="166.88" r="2.1"/>
<circle cx="389.9" cy="154.89" r="2.1"/>
<circle cx="400.95" cy="168.91" r="2.1"/>
<circle cx="399.77" cy="169.22" r="2.1"/>
<circle cx="382.93" cy="174.45" r="2.1"/>
<circle cx="380.35" cy="160.82" r="2.1"/>
<circle cx="403.03" cy="167.81" r="2.1"/>
<circle cx="382.61" cy="169.17" r="2.1"/>
<circle cx="401.55" cy="157.46" r="2.1"/>
<circle cx="393.62" cy="170.74" r="2.1"/>
<circle cx="381.13" cy="173.56" r="2.1"/>
<circle cx="386.22" cy="173.27" r="2.1"/>
<circle cx="396.53" cy="171.38" r="2.1"/>
<circle cx="388.41" cy="166.85" r="2.1"/>
<circle cx="403.94" cy="164.34" r="2.1"/>
<circle cx="387.6" cy="168.22" r="2.1"/>
<circle cx="395.92" cy="171.63" r="2.1"/>
<circle cx="399.35" cy="144.93" r="2.1"/>
<circle cx="381.19" cy="165.12" r="2.1"/>
<circle cx="394.47" cy="145.82" r="2.1"/>
<circle cx="385.44" cy="156.09" r="2.1"/>
<circle cx="398.08" cy="170.42" r="2.1"/>
<circle cx="394.21" cy="169.33" r="2.1"/>
<circle cx="394.9" cy="154.73" r="2.1"/>
<circle cx="395.02" cy="141.8" r="2.1"/>
<circle cx="383.21" cy="156.6" r="2.1"/>
<circle cx="383.65" cy="161.79" r="2.1"/>
<circle cx="395.2" cy="150.27" r="2.1"/>
<circle cx="392.95" cy="167.99" r="2.1"/>
<circle cx="407.12" cy="158.79" r="2.1"/>
<circle cx="380.07" cy="172.17" r="2.1"/>
<circle cx="409.06" cy="161.98" r="2.1"/>
<circle cx="391.62" cy="155.49" r="2.1"/>
<circle cx="403.74" cy="156.08" r="2.1"/>
<circle cx="381.62" cy="164.36" r="2.1"/>
<circle cx="388.28" cy="159.93" r="2.1"/>
<circle cx="397.03" cy="164" r="2.1"/>
<circle cx="381.52" cy="172.96" r="2.1"/>
<circle cx="384.2" cy="171.36" r="2.1"/>
<circle cx="390.93" cy="152.79" r="2.1"/>
<circle cx="389.87" cy="169.04" r="2.1"/>
<circle cx="382.27" cy="177.12" r="2.1"/>
<circle cx="397.87" cy="169.08" r="2.1"/>
<circle cx="405.7" cy="150.19" r="2.1"/>
<circle cx="384.48" cy="175.47" r="2.1"/>
<circle cx="393.87" cy="149.65" r="2.1"/>
<circle cx="395.11" cy="146.92" r="2.1"/>
<circle cx="404.54" cy="153.32" r="2.1"/>
<circle cx="395.33" cy="141.1" r="2.1"/>
<circle cx="383.02" cy="168.58" r="2.1"/>
<circle cx="404.7" cy="165.65" r="2.1"/>
<circle cx="382.14" cy="168.37" r="2.1"/>
<circle cx="406.98" cy="159.92" r="2.1"/>
<circle cx="391.84" cy="151.38" r="2.1"/>
<circle cx="386.9" cy="153.19" r="2.1"/>
<circle cx="390.63" cy="152.7" r="2.1"/>
<circle cx="386.01" cy="162.24" r="2.1"/>
<circle cx="397.07" cy="170.51" r="2.1"/>
<circle cx="394.92" cy="168.65" r="2.1"/>
<circle cx="409.07" cy="159.24" r="2.1"/>
<circle cx="394.93" cy="153.4" r="2.1"/>
<circle cx="397.16" cy="152" r="2.1"/>
<circle cx="379.66" cy="164.99" r="2.1"/>
<circle cx="382.89" cy="153.95" r="2.1"/>
<circle cx="394.76" cy="149.69" r="2.1"/>
<circle cx="381.36" cy="162.99" r="2.1"/>
<circle cx="384.12" cy="176.16" r="2.1"/>
<circle cx="386.25" cy="175.72" r="2.1"/>
<circle cx="386.68" cy="166.32" r="2.1"/>
<circle cx="380.91" cy="171.87" r="2.1"/>
<circle cx="390.6" cy="141.81" r="2.1"/>
<circle cx="389.02" cy="164.7" r="2.1"/>
<circle cx="396.15" cy="167.41" r="2.1"/>
<circle cx="410" cy="158.92" r="2.1"/>
<circle cx="380.34" cy="178.39" r="2.1"/>
<circle cx="386.37" cy="175.74" r="2.1"/>
<circle cx="396.22" cy="140.39" r="2.1"/>
<circle cx="383.2" cy="165.03" r="2.1"/>
<circle cx="389.59" cy="164.41" r="2.1"/>
<circle cx="400.45" cy="150.73" r="2.1"/>
<circle cx="394.17" cy="157.91" r="2.1"/>
<circle cx="403.04" cy="144.75" r="2.1"/>
<circle cx="383.25" cy="168.85" r="2.1"/>
<circle cx="384.95" cy="174.26" r="2.1"/>
<circle cx="388.42" cy="175.19" r="2.1"/>
<circle cx="380.35" cy="160.31" r="2.1"/>
<circle cx="382" cy="176.61" r="2.1"/>
<circle cx="396.65" cy="152.77" r="2.1"/>
<circle cx="389.8" cy="156.61" r="2.1"/>
<circle cx="391.9" cy="153.91" r="2.1"/>
<circle cx="390.77" cy="173.25" r="2.1"/>
<circle cx="385.63" cy="165.49" r="2.1"/>
<circle cx="401.35" cy="145.27" r="2.1"/>
<circle cx="387.99" cy="151.77" r="2.1"/>
<circle cx="387.03" cy="160.64" r="2.1"/>
<circle cx="385.27" cy="176.47" r="2.1"/>
<circle cx="390.35" cy="145.33" r="2.1"/>
<circle cx="395.73" cy="152.97" r="2.1"/>
<circle cx="389.21" cy="174.38" r="2.1"/>
<circle cx="386.09" cy="176.17" r="2.1"/>
<circle cx="403.34" cy="167.74" r="2.1"/>
<circle cx="398.31" cy="137.71" r="2.1"/>
<circle cx="395.4" cy="149.7" r="2.1"/>
<circle cx="380.63" cy="176.71" r="2.1"/>
<circle cx="390.19" cy="170.16" r="2.1"/>
<circle cx="383" cy="169.81" r="2.1"/>
<circle cx="382.31" cy="168.85" r="2.1"/>
<circle cx="390.71" cy="174.42" r="2.1"/>
<circle cx="389.27" cy="149.83" r="2.1"/>
<circle cx="387.69" cy="165.7" r="2.1"/>
<circle cx="382.26" cy="164.74" r="2.1"/>
<circle cx="407.46" cy="157.56" r="2.1"/>
<circle cx="402.25" cy="154.06" r="2.1"/>
<circle cx="392.48" cy="166.07" r="2.1"/>
<circle cx="380.08" cy="169.29" r="2.1"/>
<circle cx="391.65" cy="167.71" r="2.1"/>
<circle cx="394.52" cy="161.97" r="2.1"/>
<circle cx="384.77" cy="173.83" r="2.1"/>
<circle cx="386.8" cy="171.2" r="2.1"/>
<circle cx="382.03" cy="164.79" r="2.1"/>
<circle cx="393.36" cy="159.31" r="2.1"/>
<circle cx="393.17" cy="171.02" r="2.1"/>
<circle cx="381.15" cy="176.73" r="2.1"/>
<circle cx="380.28" cy="164.83" r="2.1"/>
<circle cx="386.04" cy="164.55" r="2.1"/>
<circle cx="388.34" cy="163.83" r="2.1"/>
<circle cx="395.39" cy="138.18" r="2.1"/>
<circle cx="388.46" cy="175.33" r="2.1"/>
<circle cx="386.91" cy="147.69" r="2.1"/>
<circle cx="401.88" cy="158.58" r="2.1"/>
<circle cx="384.07" cy="171.14" r="2.1"/>
<circle cx="386.15" cy="175.42" r="2.1"/>
<circle cx="396.75" cy="157.9" r="2.1"/>
<circle cx="397.92" cy="163.66" r="2.1"/>
<circle cx="394.32" cy="167.87" r="2.1"/>
<circle cx="392.29" cy="174.11" r="2.1"/>
<circle cx="392.02" cy="152.88" r="2.1"/>
<circle cx="381.91" cy="173.53" r="2.1"/>
<circle cx="402" cy="165.33" r="2.1"/>
<circle cx="389.81" cy="150.72" r="2.1"/>
<circle cx="387.48" cy="173.92" r="2.1"/>
<circle cx="384.82" cy="158.6" r="2.1"/>
<circle cx="385.72" cy="166.95" r="2.1"/>
<circle cx="391.36" cy="170.55" r="2.1"/>
<circle cx="397.9" cy="134.4" r="2.1"/>
<circle cx="387.09" cy="157.79" r="2.1"/>
<circle cx="392.97" cy="167.44" r="2.1"/>
<circle cx="394.51" cy="168.9" r="2.1"/>
<circle cx="384.21" cy="163.34" r="2.1"/>
<circle cx="384.82" cy="170.46" r="2.1"/>
<circle cx="386.8" cy="155.87" r="2.1"/>
<circle cx="402.18" cy="157.2" r="2.1"/>
<circle cx="392.84" cy="161.87" r="2.1"/>
<circle cx="396.8" cy="164.07" r="2.1"/>
<circle cx="400.15" cy="147.19" r="2.1"/>
<circle cx="389" cy="174.41" r="2.1"/>
<circle cx="396.02" cy="148.79" r="2.1"/>
<circle cx="382.05" cy="169.08" r="2.1"/>
<circle cx="406.44" cy="152.16" r="2.1"/>
<circle cx="382.34" cy="167.77" r="2.1"/>
<circle cx="402.75" cy="165.59" r="2.1"/>
<circle cx="406.29" cy="161.71" r="2.1"/>
<circle cx="390.77" cy="144.09" r="2.1"/>
<circle cx="383.19" cy="170.94" r="2.1"/>
<circle cx="388.11" cy="149.35" r="2.1"/>
<circle cx="402.99" cy="148.37" r="2.1"/>
<circle cx="397.86" cy="148.2" r="2.1"/>
<circle cx="388.51" cy="151.2" r="2.1"/>
<circle cx="389.08" cy="149.88" r="2.1"/>
<circle cx="382.54" cy="171.93" r="2.1"/>
<circle cx="395.57" cy="141.6" r="2.1"/>
<circle cx="383.86" cy="168.51" r="2.1"/>
<circle cx="387.05" cy="164.44" r="2.1"/>
<circle cx="381.42" cy="172.31" r="2.1"/>
<circle cx="391.96" cy="149.3" r="2.1"/>
<circle cx="379.73" cy="178.46" r="2.1"/>
<circle cx="403.37" cy="166.51" r="2.1"/>
<circle cx="397.41" cy="150.92" r="2.1"/>
<circle cx="383.74" cy="159.55" r="2.1"/>
<circle cx="404.66" cy="164.8" r="2.1"/>
<circle cx="404.11" cy="164.46" r="2.1"/>
<circle cx="390.03" cy="146.66" r="2.1"/>
<circle cx="397.26" cy="157.66" r="2.1"/>
<circle cx="403.29" cy="162.72" r="2.1"/>
<circle cx="387.88" cy="164.17" r="2.1"/>
<circle cx="382.26" cy="167.7" r="2.1"/>
<circle cx="386.64" cy="167.13" r="2.1"/>
<circle cx="384.52" cy="160.57" r="2.1"/>
<circle cx="388.14" cy="175.66" r="2.1"/>
<circle cx="387.23" cy="149.72" r="2.1"/>
<circle cx="381.87" cy="166.37" r="2.1"/>
<circle cx="393.16" cy="171.17" r="2.1"/>
<circle cx="403.9" cy="146.06" r="2.1"/>
<circle cx="403.51" cy="153.27" r="2.1"/>
<circle cx="384.88" cy="177.12" r="2.1"/>
<circle cx="381.2" cy="173.85" r="2.1"/>
<circle cx="391.8" cy="170.5" r="2.1"/>
<circle cx="387.76" cy="146.63" r="2.1"/>
<circle cx="395.78" cy="149.6" r="2.1"/>
<circle cx="402.28" cy="164.89" r="2.1"/>
<circle cx="394.84" cy="171.64" r="2.1"/>
<circle cx="394.76" cy="145.77" r="2.1"/>
<circle cx="389.74" cy="155.18" r="2.1"/>
<circle cx="381.22" cy="167.36" r="2.1"/>
<circle cx="388.97" cy="155.01" r="2.1"/>
<circle cx="387.83" cy="166.22" r="2.1"/>
<circle cx="380.62" cy="168.41" r="2.1"/>
<circle cx="398.59" cy="168.05" r="2.1"/>
<circle cx="396.72" cy="142.65" r="2.1"/>
<circle cx="409.57" cy="160.52" r="2.1"/>
<circle cx="396.75" cy="154.42" r="2.1"/>
<circle cx="403.16" cy="167.86" r="2.1"/>
<circle cx="383.14" cy="166.28" r="2.1"/>
<circle cx="396.7" cy="155" r="2.1"/>
<circle cx="382.41" cy="162.44" r="2.1"/>
<circle cx="381.09" cy="169.32" r="2.1"/>
<circle cx="401.56" cy="163.43" r="2.1"/>
<circle cx="407.45" cy="155.74" r="2.1"/>
<circle cx="389.58" cy="167.27" r="2.1"/>
<circle cx="386.26" cy="173.35" r="2.1"/>
<circle cx="385.09" cy="162.22" r="2.1"/>
<circle cx="400.71" cy="148.65" r="2.1"/>
<circle cx="385.89" cy="176.29" r="2.1"/>
<circle cx="401.33" cy="160.79" r="2.1"/>
<circle cx="380.43" cy="171.46" r="2.1"/>
<circle cx="394.56" cy="138.3" r="2.1"/>
<circle cx="383.23" cy="172.51" r="2.1"/>
<circle cx="385.32" cy="160.59" r="2.1"/>
<circle cx="391.53" cy="148.07" r="2.1"/>
<circle cx="403.83" cy="165.68" r="2.1"/>
<circle cx="396.06" cy="168.92" r="2.1"/>
<circle cx="401.99" cy="168.06" r="2.1"/>
<circle cx="398.91" cy="169.96" r="2.1"/>
<circle cx="388.1" cy="173.21" r="2.1"/>
<circle cx="393.18" cy="147.51" r="2.1"/>
<circle cx="394.74" cy="160.63" r="2.1"/>
<circle cx="403.09" cy="159.08" r="2.1"/>
<circle cx="397.5" cy="162.98" r="2.1"/>
<circle cx="387.8" cy="164.99" r="2.1"/>
<circle cx="386.91" cy="173.17" r="2.1"/>
<circle cx="398.23" cy="161.69" r="2.1"/>
<circle cx="382.01" cy="164.67" r="2.1"/>
<circle cx="388.09" cy="165.9" r="2.1"/>
<circle cx="383.61" cy="166.48" r="2.1"/>
<circle cx="398.44" cy="168.03" r="2.1"/>
<circle cx="389.01" cy="171.51" r="2.1"/>
<circle cx="405.78" cy="159.59" r="2.1"/>
<circle cx="385.82" cy="176.61" r="2.1"/>
<circle cx="382.95" cy="165.85" r="2.1"/>
<circle cx="381.6" cy="177.75" r="2.1"/>
<circle cx="383.86" cy="161.17" r="2.1"/>
<circle cx="388.54" cy="154.15" r="2.1"/>
<circle cx="399.32" cy="162.15" r="2.1"/>
<circle cx="391.01" cy="152.22" r="2.1"/>
<circle cx="382.29" cy="166.89" r="2.1"/>
<circle cx="385.21" cy="167.16" r="2.1"/>
<circle cx="392.17" cy="156.73" r="2.1"/>
<circle cx="396.46" cy="171.92" r="2.1"/>
<circle cx="382.9" cy="169.19" r="2.1"/>
<circle cx="398.2" cy="150.68" r="2.1"/>
<circle cx="393.37" cy="142.71" r="2.1"/>
<circle cx="395.22" cy="172.89" r="2.1"/>
<circle cx="388.83" cy="147.57" r="2.1"/>
<circle cx="389.64" cy="154.49" r="2.1"/>
<circle cx="397.65" cy="164.31" r="2.1"/>
<circle cx="398.66" cy="154.6" r="2.1"/>
<circle cx="383.64" cy="169.65" r="2.1"/>
<circle cx="392.43" cy="155.19" r="2.1"/>
<circle cx="402.49" cy="165.74" r="2.1"/>
<circle cx="403.63" cy="152.61" r="2.1"/>
<circle cx="389.69" cy="154.6" r="2.1"/>
<circle cx="391.87" cy="150.36" r="2.1"/>
<circle cx="386.44" cy="168.92" r="2.1"/>
<circle cx="385.13" cy="172.23" r="2.1"/>
<circle cx="409.05" cy="159.36" r="2.1"/>
<circle cx="384.14" cy="175.17" r="2.1"/>
<circle cx="407.36" cy="163.88" r="2.1"/>
<circle cx="391.99" cy="173.06" r="2.1"/>
<circle cx="382.06" cy="171.58" r="2.1"/>
<circle cx="399.29" cy="153.77" r="2.1"/>
<circle cx="389.69" cy="175.29" r="2.1"/>
<circle cx="397.83" cy="153.8" r="2.1"/>
<circle cx="381.42" cy="168.48" r="2.1"/>
<circle cx="400.39" cy="148.99" r="2.1"/>
<circle cx="394.27" cy="166.73" r="2.1"/>
<circle cx="405.75" cy="163.34" r="2.1"/>
<circle cx="400.16" cy="147.39" r="2.1"/>
<circle cx="404.94" cy="166.19" r="2.1"/>
<circle cx="394.01" cy="151.21" r="2.1"/>
<circle cx="380.87" cy="163.71" r="2.1"/>
<circle cx="388.18" cy="163.5" r="2.1"/>
<circle cx="405.03" cy="166.43" r="2.1"/>
<circle cx="402.61" cy="154.11" r="2.1"/>
<circle cx="382.06" cy="166.2" r="2.1"/>
<circle cx="396.91" cy="161.93" r="2.1"/>
<circle cx="405.94" cy="150.01" r="2.1"/>
<circle cx="383.34" cy="170.2" r="2.1"/>
<circle cx="386.36" cy="160.78" r="2.1"/>
<circle cx="380.27" cy="177" r="2.1"/>
<circle cx="395.21" cy="143.92" r="2.1"/>
<circle cx="392.18" cy="149.83" r="2.1"/>
<circle cx="404.18" cy="166" r="2.1"/>
<circle cx="389.42" cy="160.51" r="2.1"/>
<circle cx="387.01" cy="157.39" r="2.1"/>
<circle cx="386.01" cy="169.1" r="2.1"/>
<circle cx="381.48" cy="167.15" r="2.1"/>
<circle cx="388.06" cy="149.46" r="2.1"/>
<circle cx="398.47" cy="143.34" r="2.1"/>
<circle cx="386.64" cy="159.88" r="2.1"/>
<circle cx="400.47" cy="165.04" r="2.1"/>
<circle cx="409.87" cy="161.67" r="2.1"/>
<circle cx="406.31" cy="160.22" r="2.1"/>
<circle cx="389.97" cy="163.52" r="2.1"/>
<circle cx="384.4" cy="162.86" r="2.1"/>
<circle cx="397.41" cy="139.14" r="2.1"/>
<circle cx="380.75" cy="171.82" r="2.1"/>
<circle cx="398.35" cy="166.25" r="2.1"/>
<circle cx="380.95" cy="171.82" r="2.1"/>
<circle cx="383.78" cy="174.86" r="2.1"/>
<circle cx="379.79" cy="177.48" r="2.1"/>
<circle cx="399.8" cy="142.51" r="2.1"/>
<circle cx="389.87" cy="173.74" r="2.1"/>
<circle cx="401.54" cy="163.25" r="2.1"/>
<circle cx="393.67" cy="156.14" r="2.1"/>
<circle cx="399.16" cy="168.56" r="2.1"/>
<circle cx="392.67" cy="171.88" r="2.1"/>
<circle cx="388.6" cy="165.46" r="2.1"/>
<circle cx="382.77" cy="159.43" r="2.1"/>
<circle cx="388.27" cy="153.9" r="2.1"/>
<circle cx="399" cy="160.5" r="2.1"/>
<circle cx="386.17" cy="164.73" r="2.1"/>
<circle cx="381.82" cy="159.85" r="2.1"/>
<circle cx="395.28" cy="161.08" r="2.1"/>
<circle cx="392.93" cy="160.95" r="2.1"/>
<circle cx="392.14" cy="144.97" r="2.1"/>
<circle cx="399.9" cy="158.3" r="2.1"/>
<circle cx="388.98" cy="175.68" r="2.1"/>
<circle cx="393.6" cy="164.89" r="2.1"/>
<circle cx="393.04" cy="162.03" r="2.1"/>
<circle cx="393.55" cy="142.72" r="2.1"/>
<circle cx="398.26" cy="169.12" r="2.1"/>
<circle cx="386.79" cy="169.17" r="2.1"/>
<circle cx="394.44" cy="170.47" r="2.1"/>
<circle cx="390.73" cy="158.61" r="2.1"/>
<circle cx="404.52" cy="164.34" r="2.1"/>
<circle cx="388.49" cy="174.59" r="2.1"/>
<circle cx="387.71" cy="167.09" r="2.1"/>
<circle cx="381.35" cy="160.93" r="2.1"/>
<circle cx="392.49" cy="163.24" r="2.1"/>
<circle cx="389.84" cy="173.22" r="2.1"/>
<circle cx="397.66" cy="165.12" r="2.1"/>
<circle cx="380.64" cy="175.28" r="2.1"/>
<circle cx="385.84" cy="167.5" r="2.1"/>
<circle cx="394.55" cy="168.78" r="2.1"/>
<circle cx="382.03" cy="177.76" r="2.1"/>
<circle cx="405.27" cy="154.26" r="2.1"/>
<circle cx="382.24" cy="167.04" r="2.1"/>
<circle cx="379.97" cy="175.95" r="2.1"/>
<circle cx="379.51" cy="172.15" r="2.1"/>
<circle cx="390.78" cy="143.87" r="2.1"/>
<circle cx="389.45" cy="174.38" r="2.1"/>
<circle cx="397.54" cy="171.56" r="2.1"/>
<circle cx="389.03" cy="160.19" r="2.1"/>
<circle cx="379.35" cy="169.24" r="2.1"/>
<circle cx="382.42" cy="170.97" r="2.1"/>
<circle cx="401.94" cy="155.07" r="2.1"/>
<circle cx="385.35" cy="176.71" r="2.1"/>
<circle cx="391.98" cy="153.61" r="2.1"/>
<circle cx="381.92" cy="162.65" r="2.1"/>
<circle cx="406" cy="156.01" r="2.1"/>
<circle cx="391.17" cy="146.7" r="2.1"/>
<circle cx="397.96" cy="171.57" r="2.1"/>
<circle cx="400.29" cy="161.22" r="2.1"/>
<circle cx="384.8" cy="167.96" r="2.1"/>
<circle cx="400.97" cy="167.75" r="2.1"/>
<circle cx="384.74" cy="156.72" r="2.1"/>
<circle cx="385.32" cy="162.57" r="2.1"/>
<circle cx="385.56" cy="164.09" r="2.1"/>
<circle cx="383.06" cy="171.47" r="2.1"/>
<circle cx="395.74" cy="172.73" r="2.1"/>
<circle cx="390.08" cy="145.63" r="2.1"/>
<circle cx="386" cy="168.87" r="2.1"/>
<circle cx="384.12" cy="176.88" r="2.1"/>
<circle cx="387.56" cy="173.02" r="2.1"/>
<circle cx="396.26" cy="159.28" r="2.1"/>
<circle cx="383.57" cy="175.63" r="2.1"/>
<circle cx="397.83" cy="163.18" r="2.1"/>
<circle cx="391.33" cy="151.27" r="2.1"/>
<circle cx="402.05" cy="161.31" r="2.1"/>
<circle cx="402.05" cy="157.77" r="2.1"/>
<circle cx="379.58" cy="169.78" r="2.1"/>
<circle cx="399.42" cy="162.38" r="2.1"/>
<circle cx="398.33" cy="167.4" r="2.1"/>
<circle cx="380.8" cy="167.16" r="2.1"/>
<circle cx="392.84" cy="142.63" r="2.1"/>
<circle cx="388.86" cy="157.18" r="2.1"/>
<circle cx="386.01" cy="167.44" r="2.1"/>
<circle cx="384.61" cy="176.46" r="2.1"/>
<circle cx="395.33" cy="165.15" r="2.1"/>
<circle cx="389" cy="166.71" r="2.1"/>
<circle cx="393.19" cy="137.68" r="2.1"/>
<circle cx="401.64" cy="165.34" r="2.1"/>
<circle cx="385.75" cy="163.77" r="2.1"/>
<circle cx="397.99" cy="153.64" r="2.1"/>
<circle cx="387.54" cy="175.22" r="2.1"/>
<circle cx="392.01" cy="155.91" r="2.1"/>
<circle cx="388.89" cy="171.65" r="2.1"/>
<circle cx="394.53" cy="153.04" r="2.1"/>
<circle cx="396.95" cy="165.85" r="2.1"/>
<circle cx="400.25" cy="148.22" r="2.1"/>
<circle cx="385.66" cy="162.5" r="2.1"/>
<circle cx="388.24" cy="164.82" r="2.1"/>
<circle cx="396.46" cy="151.74" r="2.1"/>
<circle cx="387.39" cy="162.2" r="2.1"/>
<circle cx="400.93" cy="156.02" r="2.1"/>
<circle cx="402.87" cy="159.9" r="2.1"/>
<circle cx="405.42" cy="158.15" r="2.1"/>
<circle cx="387.4" cy="172.78" r="2.1"/>
<circle cx="385.22" cy="162.31" r="2.1"/>
<circle cx="382.73" cy="171.18" r="2.1"/>
<circle cx="390.54" cy="160.71" r="2.1"/>
<circle cx="394.72" cy="156.91" r="2.1"/>
<circle cx="381.53" cy="175.99" r="2.1"/>
<circle cx="396.86" cy="165.25" r="2.1"/>
<circle cx="382.8" cy="177.29" r="2.1"/>
<circle cx="390.39" cy="165.08" r="2.1"/>
<circle cx="394.97" cy="164.31" r="2.1"/>
<circle cx="395.26" cy="155.66" r="2.1"/>
<circle cx="397.84" cy="161.57" r="2.1"/>
<circle cx="393.27" cy="148.29" r="2.1"/>
<circle cx="379.79" cy="172.3" r="2.1"/>
<circle cx="395.7" cy="143.41" r="2.1"/>
<circle cx="387.51" cy="167.1" r="2.1"/>
<circle cx="396.6" cy="170.14" r="2.1"/>
<circle cx="395.42" cy="170.77" r="2.1"/>
<circle cx="398.55" cy="169.98" r="2.1"/>
<circle cx="387.16" cy="160.38" r="2.1"/>
<circle cx="389.95" cy="167.43" r="2.1"/>
<circle cx="405.86" cy="162.17" r="2.1"/>
<circle cx="394.84" cy="173.18" r="2.1"/>
<circle cx="393.12" cy="173.24" r="2.1"/>
<circle cx="400.73" cy="164.32" r="2.1"/>
<circle cx="400.15" cy="167.97" r="2.1"/>
<circle cx="379.88" cy="166.56" r="2.1"/>
<circle cx="389.01" cy="150.51" r="2.1"/>
<circle cx="380.57" cy="173.94" r="2.1"/>
<circle cx="395.43" cy="138.64" r="2.1"/>
<circle cx="385.46" cy="155.96" r="2.1"/>
<circle cx="385.78" cy="164.69" r="2.1"/>
<circle cx="394.58" cy="142.48" r="2.1"/>
<circle cx="397.68" cy="168.59" r="2.1"/>
<circle cx="395.4" cy="165.85" r="2.1"/>
<circle cx="392.12" cy="156.01" r="2.1"/>
<circle cx="395.84" cy="151.93" r="2.1"/>
<circle cx="407.33" cy="164.59" r="2.1"/>
<circle cx="401.93" cy="152.86" r="2.1"/>
<circle cx="400.01" cy="158.11" r="2.1"/>
<circle cx="392.15" cy="170.49" r="2.1"/>
<circle cx="385.35" cy="155.8" r="2.1"/>
<circle cx="406.91" cy="157.63" r="2.1"/>
<circle cx="392.4" cy="173.25" r="2.1"/>
<circle cx="385.61" cy="158.01" r="2.1"/>
<circle cx="384.52" cy="160.92" r="2.1"/>
<circle cx="398.27" cy="156.66" r="2.1"/>
<circle cx="386.28" cy="172.1" r="2.1"/>
<circle cx="403.11" cy="155.45" r="2.1"/>
<circle cx="395.88" cy="169.86" r="2.1"/>
<circle cx="397.59" cy="170.5" r="2.1"/>
<circle cx="381.98" cy="170.82" r="2.1"/>
<circle cx="400.37" cy="161.93" r="2.1"/>
<circle cx="389.9" cy="166.63" r="2.1"/>
<circle cx="393.39" cy="172.36" r="2.1"/>
<circle cx="391.04" cy="166.95" r="2.1"/>
<circle cx="384.82" cy="173.9" r="2.1"/>
<circle cx="381.57" cy="170.83" r="2.1"/>
<circle cx="381.38" cy="165.51" r="2.1"/>
<circle cx="395.89" cy="161.98" r="2.1"/>
<circle cx="380.7" cy="167.9" r="2.1"/>
<circle cx="381.42" cy="176.03" r="2.1"/>
<circle cx="398.25" cy="142.08" r="2.1"/>
<circle cx="400.98" cy="148.11" r="2.1"/>
<circle cx="397.03" cy="141.68" r="2.1"/>
<circle cx="397.66" cy="144.24" r="2.1"/>
<circle cx="382.75" cy="176.48" r="2.1"/>
<circle cx="393.15" cy="138.72" r="2.1"/>
<circle cx="408.57" cy="155.59" r="2.1"/>
<circle cx="393.69" cy="163.02" r="2.1"/>
<circle cx="386.64" cy="167.57" r="2.1"/>
<circle cx="401.24" cy="158.16" r="2.1"/>
<circle cx="406.42" cy="160.78" r="2.1"/>
<circle cx="403.46" cy="165.02" r="2.1"/>
<circle cx="406.43" cy="148.98" r="2.1"/>
<circle cx="384.75" cy="165.7" r="2.1"/>
<circle cx="392.5" cy="145.04" r="2.1"/>
<circle cx="407.71" cy="149.47" r="2.1"/>
<circle cx="383.87" cy="172.23" r="2.1"/>
<circle cx="394.59" cy="170.51" r="2.1"/>
<circle cx="380.91" cy="178.47" r="2.1"/>
<circle cx="392.75" cy="173.17" r="2.1"/>
<circle cx="406.52" cy="156.32" r="2.1"/>
<circle cx="388.47" cy="175.78" r="2.1"/>
<circle cx="380.84" cy="169.43" r="2.1"/>
<circle cx="402.85" cy="150.9" r="2.1"/>
<circle cx="382.87" cy="158.9" r="2.1"/>
<circle cx="388.52" cy="169.32" r="2.1"/>
<circle cx="381.28" cy="177.14" r="2.1"/>
<circle cx="389.81" cy="150.5" r="2.1"/>
<circle cx="382.73" cy="169.34" r="2.1"/>
<circle cx="401.26" cy="158.85" r="2.1"/>
<circle cx="390.62" cy="166.75" r="2.1"/>
<circle cx="402.97" cy="161.2" r="2.1"/>
<circle cx="383.35" cy="156.78" r="2.1"/>
<circle cx="382.94" cy="174.33" r="2.1"/>
<circle cx="402.16" cy="155.01" r="2.1"/>
<circle cx="381.84" cy="170.02" r="2.1"/>
<circle cx="401.32" cy="150.44" r="2.1"/>
<circle cx="384.28" cy="165.97" r="2.1"/>
<circle cx="381.8" cy="174.14" r="2.1"/>
<circle cx="385.94" cy="150.52" r="2.1"/>
<circle cx="408.45" cy="149.79" r="2.1"/>
<circle cx="396.46" cy="169.14" r="2.1"/>
<circle cx="396.52" cy="143.9" r="2.1"/>
<circle cx="404.12" cy="166.92" r="2.1"/>
<circle cx="391.64" cy="161.18" r="2.1"/>
<circle cx="383.78" cy="157.99" r="2.1"/>
<circle cx="397.42" cy="150.95" r="2.1"/>
<circle cx="393.02" cy="160.03" r="2.1"/>
<circle cx="400.04" cy="167.08" r="2.1"/>
<circle cx="391.94" cy="160.16" r="2.1"/>
<circle cx="404.99" cy="151.17" r="2.1"/>
<circle cx="393.72" cy="168.25" r="2.1"/>
<circle cx="399.12" cy="157.8" r="2.1"/>
<circle cx="386.46" cy="165.02" r="2.1"/>
<circle cx="392.76" cy="166.44" r="2.1"/>
<circle cx="384.14" cy="166.33" r="2.1"/>
<circle cx="395.74" cy="170.05" r="2.1"/>
<circle cx="386.32" cy="155.54" r="2.1"/>
<circle cx="393.53" cy="166.51" r="2.1"/>
<circle cx="405.8" cy="154.56" r="2.1"/>
<circle cx="398.67" cy="167.72" r="2.1"/>
<circle cx="394.69" cy="165.35" r="2.1"/>
<circle cx="388.42" cy="144.18" r="2.1"/>
<circle cx="392.37" cy="169.31" r="2.1"/>
<circle cx="397.83" cy="168.97" r="2.1"/>
<circle cx="381.57" cy="169.18" r="2.1"/>
<circle cx="385.97" cy="162.06" r="2.1"/>
<circle cx="406.36" cy="165.63" r="2.1"/>
<circle cx="396.44" cy="159.63" r="2.1"/>
<circle cx="387.51" cy="146.83" r="2.1"/>
<circle cx="385.98" cy="174.68" r="2.1"/>
<circle cx="402.83" cy="162.14" r="2.1"/>
<circle cx="387.8" cy="156.29" r="2.1"/>
<circle cx="388.79" cy="154.53" r="2.1"/>
<circle cx="396.24" cy="154.18" r="2.1"/>
<circle cx="397.93" cy="149.92" r="2.1"/>
<circle cx="395.51" cy="170.48" r="2.1"/>
<circle cx="406.41" cy="155.02" r="2.1"/>
<circle cx="404.48" cy="156.14" r="2.1"/>
<circle cx="387.14" cy="166.74" r="2.1"/>
<circle cx="392.5" cy="151.47" r="2.1"/>
<circle cx="403.27" cy="165.28" r="2.1"/>
<circle cx="402.95" cy="161.42" r="2.1"/>
<circle cx="383.38" cy="174.58" r="2.1"/>
<circle cx="385.44" cy="158.39" r="2.1"/>
<circle cx="381.33" cy="166.82" r="2.1"/>
<circle cx="386.75" cy="156.06" r="2.1"/>
<circle cx="392.57" cy="171.28" r="2.1"/>
<circle cx="390.66" cy="172.48" r="2.1"/>
<circle cx="394.26" cy="141.27" r="2.1"/>
<circle cx="404.35" cy="154.4" r="2.1"/>
<circle cx="381.9" cy="162.54" r="2.1"/>
<circle cx="388.49" cy="169.9" r="2.1"/>
<circle cx="406.22" cy="161.5" r="2.1"/>
<circle cx="401.12" cy="156.79" r="2.1"/>
<circle cx="381.48" cy="177.73" r="2.1"/>
<circle cx="397.14" cy="134.93" r="2.1"/>
<circle cx="384.85" cy="176.99" r="2.1"/>
<circle cx="400.37" cy="169.8" r="2.1"/>
<circle cx="388.46" cy="166.16" r="2.1"/>
<circle cx="406.05" cy="160.1" r="2.1"/>
<circle cx="386.21" cy="165.27" r="2.1"/>
<circle cx="380.48" cy="176.01" r="2.1"/>
<circle cx="381.59" cy="173.96" r="2.1"/>
<circle cx="399.15" cy="167.38" r="2.1"/>
<circle cx="400.49" cy="149.24" r="2.1"/>
<circle cx="396.14" cy="163.36" r="2.1"/>
<circle cx="381.31" cy="162.17" r="2.1"/>
<circle cx="380.18" cy="177.18" r="2.1"/>
<circle cx="399" cy="170.54" r="2.1"/>
<circle cx="400.78" cy="156.44" r="2.1"/>
<circle cx="391.28" cy="146.29" r="2.1"/>
<circle cx="395.06" cy="170.76" r="2.1"/>
<circle cx="388.3" cy="153.66" r="2.1"/>
<circle cx="393.67" cy="157.71" r="2.1"/>
<circle cx="391.6" cy="148.37" r="2.1"/>
<circle cx="397.08" cy="153.94" r="2.1"/>
<circle cx="394.49" cy="164.66" r="2.1"/>
<circle cx="407.75" cy="159.24" r="2.1"/>
<circle cx="396.46" cy="171.37" r="2.1"/>
<circle cx="404.73" cy="152.02" r="2.1"/>
<circle cx="381.61" cy="173.17" r="2.1"/>
<circle cx="394.64" cy="168.14" r="2.1"/>
<circle cx="382.33" cy="175.71" r="2.1"/>
<circle cx="384.37" cy="173.48" r="2.1"/>
<circle cx="388.77" cy="157.43" r="2.1"/>
<circle cx="379.66" cy="170.74" r="2.1"/>
<circle cx="381.73" cy="171.61" r="2.1"/>
<circle cx="390.79" cy="170.46" r="2.1"/>
<circle cx="383.14" cy="168.94" r="2.1"/>
<circle cx="395.67" cy="160.31" r="2.1"/>
<circle cx="396.6" cy="164.83" r="2.1"/>
<circle cx="395.25" cy="158.22" r="2.1"/>
<circle cx="404.59" cy="155.91" r="2.1"/>
<circle cx="404.2" cy="153.52" r="2.1"/>
<circle cx="385.4" cy="173.57" r="2.1"/>
<circle cx="391.97" cy="151.06" r="2.1"/>
<circle cx="394.42" cy="172.94" r="2.1"/>
<circle cx="396.63" cy="160.48" r="2.1"/>
<circle cx="394.34" cy="149.12" r="2.1"/>
<circle cx="386.61" cy="173.89" r="2.1"/>
<circle cx="394.97" cy="144.03" r="2.1"/>
<circle cx="390.08" cy="171.14" r="2.1"/>
<circle cx="392" cy="166.24" r="2.1"/>
<circle cx="381.99" cy="170.24" r="2.1"/>
<circle cx="399.09" cy="149.35" r="2.1"/>
<circle cx="399.21" cy="169.45" r="2.1"/>
<circle cx="405.65" cy="165.77" r="2.1"/>
<circle cx="391.9" cy="150.76" r="2.1"/>
<circle cx="393.25" cy="171.54" r="2.1"/>
<circle cx="402.57" cy="160.78" r="2.1"/>
<circle cx="407.43" cy="163.46" r="2.1"/>
<circle cx="395.75" cy="172.22" r="2.1"/>
<circle cx="384.35" cy="171.42" r="2.1"/>
<circle cx="399.41" cy="150.22" r="2.1"/>
<circle cx="392.7" cy="171.71" r="2.1"/>
<circle cx="394.91" cy="171.25" r="2.1"/>
<circle cx="391.84" cy="142.86" r="2.1"/>
<circle cx="394.92" cy="145.87" r="2.1"/>
<circle cx="391.67" cy="164.28" r="2.1"/>
<circle cx="390.46" cy="167.06" r="2.1"/>
<circle cx="399.75" cy="169.92" r="2.1"/>
<circle cx="400.28" cy="154.82" r="2.1"/>
<circle cx="387.89" cy="151.3" r="2.1"/>
<circle cx="392.82" cy="164.36" r="2.1"/>
<circle cx="380.26" cy="176.62" r="2.1"/>
<circle cx="395.58" cy="153.81" r="2.1"/>
<circle cx="397.29" cy="161.21" r="2.1"/>
<circle cx="387.09" cy="152.38" r="2.1"/>
<circle cx="389.63" cy="165.62" r="2.1"/>
<circle cx="383.71" cy="163.01" r="2.1"/>
<circle cx="392" cy="148.85" r="2.1"/>
<circle cx="399.14" cy="150.55" r="2.1"/>
<circle cx="394.05" cy="155.64" r="2.1"/>
<circle cx="400.21" cy="149.58" r="2.1"/>
<circle cx="400.39" cy="158.7" r="2.1"/>
<circle cx="385.59" cy="176.63" r="2.1"/>
<circle cx="399.07" cy="150.2" r="2.1"/>
<circle cx="384.97" cy="162.08" r="2.1"/>
<circle cx="395.71" cy="154.29" r="2.1"/>
<circle cx="382.38" cy="173.55" r="2.1"/>
<circle cx="389.4" cy="165.29" r="2.1"/>
<circle cx="397.47" cy="169.39" r="2.1"/>
<circle cx="391.55" cy="146.43" r="2.1"/>
<circle cx="390.94" cy="142.04" r="2.1"/>
<circle cx="399.33" cy="145.09" r="2.1"/>
<circle cx="386.06" cy="176.8" r="2.1"/>
<circle cx="393.56" cy="160.91" r="2.1"/>
<circle cx="394.33" cy="147.76" r="2.1"/>
<circle cx="390.83" cy="165.61" r="2.1"/>
<circle cx="396.79" cy="163.95" r="2.1"/>
<circle cx="381.61" cy="156.6" r="2.1"/>
<circle cx="383.47" cy="156.43" r="2.1"/>
<circle cx="386.23" cy="164.08" r="2.1"/>
<circle cx="396.56" cy="165.2" r="2.1"/>
<circle cx="394.17" cy="156.46" r="2.1"/>
<circle cx="383.24" cy="162.63" r="2.1"/>
<circle cx="382.26" cy="161.82" r="2.1"/>
<circle cx="390.21" cy="147.66" r="2.1"/>
<circle cx="380" cy="173.41" r="2.1"/>
<circle cx="388.71" cy="174.18" r="2.1"/>
<circle cx="388.44" cy="150.6" r="2.1"/>
<circle cx="393.09" cy="158.03" r="2.1"/>
<circle cx="407.81" cy="151.96" r="2.1"/>
<circle cx="383.59" cy="163.78" r="2.1"/>
<circle cx="381.48" cy="174.11" r="2.1"/>
<circle cx="407.7" cy="158.95" r="2.1"/>
<circle cx="387.26" cy="172.33" r="2.1"/>
<circle cx="393.21" cy="147.49" r="2.1"/>
<circle cx="395.48" cy="167.43" r="2.1"/>
<circle cx="382.47" cy="173.22" r="2.1"/>
<circle cx="399.73" cy="146.99" r="2.1"/>
<circle cx="388.26" cy="166.75" r="2.1"/>
<circle cx="402.97" cy="153.68" r="2.1"/>
<circle cx="382.19" cy="174.92" r="2.1"/>
<circle cx="388.52" cy="160.52" r="2.1"/>
<circle cx="392.02" cy="165.34" r="2.1"/>
<circle cx="385.21" cy="171.91" r="2.1"/>
<circle cx="386.58" cy="155.76" r="2.1"/>
<circle cx="381.08" cy="168.74" r="2.1"/>
<circle cx="389.79" cy="164.01" r="2.1"/>
<circle cx="380.93" cy="168.45" r="2.1"/>
<circle cx="391.86" cy="149.02" r="2.1"/>
<circle cx="408.48" cy="163.8" r="2.1"/>
<circle cx="380.88" cy="167.79" r="2.1"/>
<circle cx="406.03" cy="165.39" r="2.1"/>
<circle cx="399.51" cy="154.24" r="2.1"/>
<circle cx="388.35" cy="167.81" r="2.1"/>
<circle cx="407.09" cy="154.15" r="2.1"/>
<circle cx="407.02" cy="160.22" r="2.1"/>
<circle cx="385.15" cy="158.95" r="2.1"/>
<circle cx="385.51" cy="147.95" r="2.1"/>
<circle cx="388.8" cy="175.56" r="2.1"/>
<circle cx="396.54" cy="168.56" r="2.1"/>
<circle cx="399.06" cy="165.66" r="2.1"/>
<circle cx="391.25" cy="172.44" r="2.1"/>
<circle cx="385.46" cy="158.69" r="2.1"/>
<circle cx="407.84" cy="153.75" r="2.1"/>
<circle cx="381.85" cy="174.15" r="2.1"/>
<circle cx="380.41" cy="169.83" r="2.1"/>
<circle cx="390.36" cy="148.38" r="2.1"/>
<circle cx="401.64" cy="149.08" r="2.1"/>
<circle cx="387.05" cy="174" r="2.1"/>
<circle cx="387.62" cy="164.28" r="2.1"/>
<circle cx="407.32" cy="162.8" r="2.1"/>
<circle cx="379.69" cy="172.06" r="2.1"/>
<circle cx="398.21" cy="146.3" r="2.1"/>
<circle cx="383.39" cy="174.5" r="2.1"/>
<circle cx="408.45" cy="149.1" r="2.1"/>
<circle cx="383.8" cy="172.78" r="2.1"/>
<circle cx="390.62" cy="168.29" r="2.1"/>
<circle cx="381.8" cy="156.02" r="2.1"/>
<circle cx="393.74" cy="142.46" r="2.1"/>
<circle cx="388.9" cy="146.56" r="2.1"/>
<circle cx="393.16" cy="171.16" r="2.1"/>
<circle cx="383.91" cy="162.09" r="2.1"/>
<circle cx="382.97" cy="154.87" r="2.1"/>
<circle cx="400.53" cy="165.41" r="2.1"/>
<circle cx="382.05" cy="164.78" r="2.1"/>
<circle cx="397.63" cy="142" r="2.1"/>
<circle cx="386.26" cy="147.91" r="2.1"/>
<circle cx="386.61" cy="161.67" r="2.1"/>
<circle cx="407.24" cy="161.15" r="2.1"/>
<circle cx="396.2" cy="164.38" r="2.1"/>
<circle cx="403.51" cy="161.95" r="2.1"/>
<circle cx="383.01" cy="166.43" r="2.1"/>
<circle cx="382.56" cy="175.86" r="2.1"/>
<circle cx="388.25" cy="174" r="2.1"/>
<circle cx="391.05" cy="151.95" r="2.1"/>
<circle cx="380.35" cy="178.53" r="2.1"/>
<circle cx="388" cy="169.42" r="2.1"/>
<circle cx="402.75" cy="163.58" r="2.1"/>
<circle cx="394.15" cy="171.74" r="2.1"/>
<circle cx="385.19" cy="166.98" r="2.1"/>
<circle cx="389.59" cy="159.8" r="2.1"/>
<circle cx="389.81" cy="174.67" r="2.1"/>
<circle cx="404.03" cy="154.96" r="2.1"/>
<circle cx="390.97" cy="158.39" r="2.1"/>
<circle cx="382.17" cy="160.28" r="2.1"/>
<circle cx="386.27" cy="162.01" r="2.1"/>
<circle cx="392.44" cy="147.13" r="2.1"/>
<circle cx="383.69" cy="176.42" r="2.1"/>
<circle cx="386.26" cy="176.29" r="2.1"/>
<circle cx="391.13" cy="168.2" r="2.1"/>
<circle cx="389.71" cy="166.49" r="2.1"/>
<circle cx="396.97" cy="169.01" r="2.1"/>
<circle cx="391.67" cy="168.79" r="2.1"/>
<circle cx="404.31" cy="165.69" r="2.1"/>
<circle cx="395.73" cy="152.17" r="2.1"/>
<circle cx="401.29" cy="157.97" r="2.1"/>
<circle cx="391.61" cy="157.59" r="2.1"/>
<circle cx="394.23" cy="163.11" r="2.1"/>
<circle cx="404.56" cy="165.61" r="2.1"/>
<circle cx="388.31" cy="161.99" r="2.1"/>
<circle cx="379.9" cy="176.28" r="2.1"/>
<circle cx="406.75" cy="151.6" r="2.1"/>
<circle cx="393.97" cy="173.11" r="2.1"/>
<circle cx="384.12" cy="163.94" r="2.1"/>
<circle cx="389.68" cy="163.37" r="2.1"/>
<circle cx="387.01" cy="171.68" r="2.1"/>
<circle cx="397.23" cy="146.22" r="2.1"/>
<circle cx="386.4" cy="174.92" r="2.1"/>
<circle cx="386.94" cy="176.47" r="2.1"/>
<circle cx="395.67" cy="148.72" r="2.1"/>
<circle cx="385.68" cy="159.76" r="2.1"/>
<circle cx="397.73" cy="150.97" r="2.1"/>
<circle cx="405.5" cy="148.74" r="2.1"/>
<circle cx="398.24" cy="139.39" r="2.1"/>
<circle cx="385.97" cy="167.74" r="2.1"/>
<circle cx="390.62" cy="159.31" r="2.1"/>
<circle cx="387.3" cy="173.06" r="2.1"/>
<circle cx="391.86" cy="159.91" r="2.1"/>
<circle cx="400.81" cy="168.68" r="2.1"/>
<circle cx="380.27" cy="171.85" r="2.1"/>
<circle cx="395.92" cy="164.92" r="2.1"/>
<circle cx="381.97" cy="177.39" r="2.1"/>
<circle cx="385.91" cy="156.49" r="2.1"/>
<circle cx="382.6" cy="163.65" r="2.1"/>
<circle cx="403.18" cy="167.73" r="2.1"/>
<circle cx="391.61" cy="161.22" r="2.1"/>
<circle cx="391.44" cy="164.53" r="2.1"/>
<circle cx="392.58" cy="165.38" r="2.1"/>
<circle cx="393.52" cy="167.37" r="2.1"/>
<circle cx="402.31" cy="150.96" r="2.1"/>
<circle cx="386.6" cy="156.73" r="2.1"/>
<circle cx="395.54" cy="161.3" r="2.1"/>
<circle cx="390.46" cy="139.74" r="2.1"/>
<circle cx="399.44" cy="164.08" r="2.1"/>
<circle cx="408.56" cy="155.52" r="2.1"/>
<circle cx="391.89" cy="169.59" r="2.1"/>
<circle cx="388.77" cy="163.6" r="2.1"/>
<circle cx="388.68" cy="163.45" r="2.1"/>
<circle cx="399.91" cy="137.72" r="2.1"/>
<circle cx="380.85" cy="164.64" r="2.1"/>
<circle cx="395.26" cy="171.28" r="2.1"/>
<circle cx="394.25" cy="145.81" r="2.1"/>
<circle cx="406.76" cy="155.06" r="2.1"/>
<circle cx="393.38" cy="158.86" r="2.1"/>
<circle cx="383.74" cy="155.66" r="2.1"/>
<circle cx="399.33" cy="143.84" r="2.1"/>
<circle cx="382.48" cy="171.85" r="2.1"/>
<circle cx="379.25" cy="167.74" r="2.1"/>
<circle cx="389.78" cy="150.46" r="2.1"/>
<circle cx="403.52" cy="154.11" r="2.1"/>
<circle cx="396.79" cy="144.26" r="2.1"/>
<circle cx="389.03" cy="162.56" r="2.1"/>
<circle cx="394.38" cy="158.85" r="2.1"/>
<circle cx="391.43" cy="174.19" r="2.1"/>
<circle cx="397.31" cy="158.86" r="2.1"/>
<circle cx="398.01" cy="162.87" r="2.1"/>
<circle cx="384.42" cy="177.23" r="2.1"/>
<circle cx="401.99" cy="165.12" r="2.1"/>
<circle cx="403.4" cy="164.05" r="2.1"/>
<circle cx="401.08" cy="168.43" r="2.1"/>
<circle cx="393.14" cy="173.29" r="2.1"/>
<circle cx="381.04" cy="178.25" r="2.1"/>
<circle cx="384.26" cy="176.68" r="2.1"/>
<circle cx="381.94" cy="163.39" r="2.1"/>
<circle cx="389" cy="173.36" r="2.1"/>
<circle cx="392.57" cy="163.1" r="2.1"/>
<circle cx="388.94" cy="162.47" r="2.1"/>
<circle cx="398.68" cy="167.36" r="2.1"/>
<circle cx="387.15" cy="167.62" r="2.1"/>
<circle cx="399" cy="155.84" r="2.1"/>
<circle cx="400.26" cy="161.94" r="2.1"/>
<circle cx="391.73" cy="153.84" r="2.1"/>
<circle cx="391.73" cy="151.48" r="2.1"/>
<circle cx="394.45" cy="148.04" r="2.1"/>
<circle cx="394.46" cy="165.62" r="2.1"/>
<circle cx="386.23" cy="151.74" r="2.1"/>
<circle cx="397.91" cy="135.27" r="2.1"/>
<circle cx="388.48" cy="150.07" r="2.1"/>
<circle cx="395.07" cy="169.93" r="2.1"/>
<circle cx="395.05" cy="171.68" r="2.1"/>
<circle cx="400.65" cy="164.67" r="2.1"/>
<circle cx="383.45" cy="157.66" r="2.1"/>
<circle cx="379.55" cy="166.84" r="2.1"/>
<circle cx="385.98" cy="171.26" r="2.1"/>
<circle cx="383.32" cy="176.95" r="2.1"/>
<circle cx="384.54" cy="157.56" r="2.1"/>
<circle cx="398.14" cy="170.16" r="2.1"/>
<circle cx="405.39" cy="155.83" r="2.1"/>
<circle cx="399.2" cy="167.19" r="2.1"/>
<circle cx="394.43" cy="157.89" r="2.1"/>
<circle cx="391.41" cy="169.08" r="2.1"/>
<circle cx="382.14" cy="174.91" r="2.1"/>
<circle cx="405.83" cy="163.9" r="2.1"/>
<circle cx="380.66" cy="171.59" r="2.1"/>
<circle cx="384.53" cy="163.71" r="2.1"/>
<circle cx="386.34" cy="176" r="2.1"/>
<circle cx="391.62" cy="163.71" r="2.1"/>
<circle cx="385.28" cy="167.72" r="2.1"/>
<circle cx="389.24" cy="169.49" r="2.1"/>
<circle cx="398.54" cy="144.3" r="2.1"/>
<circle cx="400.06" cy="145.75" r="2.1"/>
<circle cx="390.06" cy="150.08" r="2.1"/>
<circle cx="382.78" cy="175.3" r="2.1"/>
<circle cx="406.55" cy="164.44" r="2.1"/>
<circle cx="387.11" cy="169.59" r="2.1"/>
<circle cx="395.17" cy="143.43" r="2.1"/>
<circle cx="383.45" cy="163.62" r="2.1"/>
<circle cx="389.78" cy="168.13" r="2.1"/>
<circle cx="384.29" cy="171.5" r="2.1"/>
<circle cx="382.21" cy="165.42" r="2.1"/>
<circle cx="401.32" cy="169.08" r="2.1"/>
<circle cx="379.56" cy="175.56" r="2.1"/>
<circle cx="383.18" cy="176.31" r="2.1"/>
<circle cx="391.38" cy="174.8" r="2.1"/>
<circle cx="388.05" cy="148.55" r="2.1"/>
<circle cx="391.42" cy="174.08" r="2.1"/>
<circle cx="386.18" cy="155.17" r="2.1"/>
<circle cx="386.77" cy="157.14" r="2.1"/>
<circle cx="385.95" cy="158.01" r="2.1"/>
<circle cx="398.5" cy="158.72" r="2.1"/>
<circle cx="392.14" cy="150.82" r="2.1"/>
<circle cx="386.48" cy="169.73" r="2.1"/>
<circle cx="394.05" cy="151.56" r="2.1"/>
<circle cx="386.84" cy="175.09" r="2.1"/>
<circle cx="406.67" cy="164.47" r="2.1"/>
<circle cx="383.63" cy="170.33" r="2.1"/>
<circle cx="388.24" cy="161.25" r="2.1"/>
<circle cx="402.06" cy="142.62" r="2.1"/>
<circle cx="386.59" cy="173.88" r="2.1"/>
<circle cx="396.61" cy="155.04" r="2.1"/>
<circle cx="391.53" cy="166.82" r="2.1"/>
<circle cx="389.76" cy="152.38" r="2.1"/>
<circle cx="385" cy="155.65" r="2.1"/>
<circle cx="386.31" cy="174.62" r="2.1"/>
<circle cx="401.26" cy="148.12" r="2.1"/>
<circle cx="395.26" cy="150.47" r="2.1"/>
<circle cx="402.09" cy="153.75" r="2.1"/>
<circle cx="389.81" cy="161.3" r="2.1"/>
<circle cx="394.14" cy="162.45" r="2.1"/>
<circle cx="386.33" cy="176.57" r="2.1"/>
<circle cx="388.92" cy="151.72" r="2.1"/>
<circle cx="388.94" cy="157.27" r="2.1"/>
<circle cx="400.58" cy="154.72" r="2.1"/>
<circle cx="388.39" cy="173.08" r="2.1"/>
<circle cx="400.67" cy="149.8" r="2.1"/>
<circle cx="388.09" cy="157.96" r="2.1"/>
<circle cx="380.6" cy="172.12" r="2.1"/>
<circle cx="393.53" cy="157.27" r="2.1"/>
<circle cx="401.27" cy="165.87" r="2.1"/>
<circle cx="398.98" cy="166.32" r="2.1"/>
<circle cx="403.08" cy="161.88" r="2.1"/>
<circle cx="401.65" cy="147.94" r="2.1"/>
<circle cx="396.04" cy="144.07" r="2.1"/>
<circle cx="391.35" cy="152.92" r="2.1"/>
<circle cx="404.99" cy="164.95" r="2.1"/>
<circle cx="382.83" cy="171.51" r="2.1"/>
<circle cx="380.86" cy="172.19" r="2.1"/>
<circle cx="380.69" cy="163.42" r="2.1"/>
<circle cx="381.2" cy="171.35" r="2.1"/>
<circle cx="385.52" cy="173.22" r="2.1"/>
<circle cx="389.92" cy="163.33" r="2.1"/>
<circle cx="394.87" cy="160.91" r="2.1"/>
<circle cx="406.3" cy="161.21" r="2.1"/>
<circle cx="405.69" cy="153.88" r="2.1"/>
<circle cx="400.26" cy="152.2" r="2.1"/>
<circle cx="388.81" cy="161.3" r="2.1"/>
<circle cx="392.93" cy="159.27" r="2.1"/>
<circle cx="397.13" cy="155.61" r="2.1"/>
<circle cx="389.5" cy="159.01" r="2.1"/>
<circle cx="386.37" cy="147" r="2.1"/>
<circle cx="394.92" cy="164.49" r="2.1"/>
<circle cx="402.95" cy="155.08" r="2.1"/>
<circle cx="396.79" cy="159.13" r="2.1"/>
<circle cx="379.91" cy="170.43" r="2.1"/>
<circle cx="384.54" cy="173.07" r="2.1"/>
<circle cx="398.31" cy="145.96" r="2.1"/>
<circle cx="392.88" cy="159.58" r="2.1"/>
<circle cx="383.16" cy="171.61" r="2.1"/>
<circle cx="390.02" cy="170.55" r="2.1"/>
<circle cx="389.35" cy="166.2" r="2.1"/>
<circle cx="379.65" cy="167.49" r="2.1"/>
<circle cx="405.86" cy="150.89" r="2.1"/>
<circle cx="402.3" cy="164.61" r="2.1"/>
<circle cx="391.87" cy="174.07" r="2.1"/>
<circle cx="397.2" cy="170.72" r="2.1"/>
<circle cx="393.78" cy="164.51" r="2.1"/>
<circle cx="400.01" cy="167.83" r="2.1"/>
<circle cx="393.22" cy="164.28" r="2.1"/>
<circle cx="382.02" cy="177.64" r="2.1"/>
<circle cx="400.11" cy="150.13" r="2.1"/>
<circle cx="379.49" cy="171.19" r="2.1"/>
<circle cx="392.92" cy="173.9" r="2.1"/>
<circle cx="381.76" cy="176.84" r="2.1"/>
<circle cx="390.84" cy="165.2" r="2.1"/>
<circle cx="384.23" cy="167.78" r="2.1"/>
<circle cx="384.68" cy="175.71" r="2.1"/>
<circle cx="382.13" cy="169.67" r="2.1"/>
<circle cx="396.45" cy="154.41" r="2.1"/>
<circle cx="388.52" cy="172.77" r="2.1"/>
<circle cx="384.96" cy="168.52" r="2.1"/>
<circle cx="401.52" cy="164.05" r="2.1"/>
<circle cx="382.2" cy="154.95" r="2.1"/>
<circle cx="407.85" cy="164.26" r="2.1"/>
<circle cx="385.06" cy="166.09" r="2.1"/>
<circle cx="397.87" cy="163.32" r="2.1"/>
<circle cx="391.94" cy="165.25" r="2.1"/>
<circle cx="381.77" cy="174.13" r="2.1"/>
<circle cx="388.52" cy="157.82" r="2.1"/>
<circle cx="399.36" cy="168.11" r="2.1"/>
<circle cx="400.35" cy="163.36" r="2.1"/>
<circle cx="394.27" cy="151.8" r="2.1"/>
<circle cx="393.33" cy="142.56" r="2.1"/>
<circle cx="393.32" cy="172.05" r="2.1"/>
<circle cx="395.98" cy="165.72" r="2.1"/>
<circle cx="385.28" cy="167.39" r="2.1"/>
<circle cx="397.3" cy="165.85" r="2.1"/>
<circle cx="402.01" cy="160.02" r="2.1"/>
<circle cx="380.22" cy="171.46" r="2.1"/>
<circle cx="399.97" cy="147.9" r="2.1"/>
<circle cx="381.2" cy="177.18" r="2.1"/>
<circle cx="382.93" cy="166.75" r="2.1"/>
<circle cx="398.39" cy="166.79" r="2.1"/>
<circle cx="401.36" cy="147.37" r="2.1"/>
<circle cx="396.87" cy="160.21" r="2.1"/>
<circle cx="385.92" cy="175.99" r="2.1"/>
<circle cx="386.89" cy="173.47" r="2.1"/>
<circle cx="381.35" cy="174.57" r="2.1"/>
<circle cx="391.49" cy="149.04" r="2.1"/>
<circle cx="383.84" cy="162.24" r="2.1"/>
<circle cx="389.76" cy="149.18" r="2.1"/>
<circle cx="398.51" cy="166.71" r="2.1"/>
<circle cx="398.96" cy="153.95" r="2.1"/>
<circle cx="393.46" cy="162.86" r="2.1"/>
<circle cx="401.9" cy="160.2" r="2.1"/>
<circle cx="382.95" cy="169.25" r="2.1"/>
<circle cx="386.4" cy="168.24" r="2.1"/>
<circle cx="392.8" cy="161.78" r="2.1"/>
<circle cx="406.88" cy="160.08" r="2.1"/>
<circle cx="394.14" cy="142.89" r="2.1"/>
<circle cx="397.34" cy="161.07" r="2.1"/>
<circle cx="389.71" cy="167.29" r="2.1"/>
<circle cx="397.39" cy="161.47" r="2.1"/>
<circle cx="399" cy="157.79" r="2.1"/>
<circle cx="396.97" cy="167.56" r="2.1"/>
<circle cx="406.4" cy="165.05" r="2.1"/>
<circle cx="391.7" cy="159.84" r="2.1"/>
<circle cx="392.79" cy="155.91" r="2.1"/>
<circle cx="391.96" cy="173.93" r="2.1"/>
<circle cx="386.6" cy="174.88" r="2.1"/>
<circle cx="388.63" cy="166.63" r="2.1"/>
<circle cx="392.81" cy="155.96" r="2.1"/>
<circle cx="389.82" cy="148.63" r="2.1"/>
<circle cx="389.6" cy="170.62" r="2.1"/>
<circle cx="384.63" cy="172.25" r="2.1"/>
<circle cx="388.59" cy="146.65" r="2.1"/>
<circle cx="406.89" cy="163.67" r="2.1"/>
<circle cx="393.43" cy="161.78" r="2.1"/>
<circle cx="401.44" cy="155.9" r="2.1"/>
<circle cx="405.45" cy="147.83" r="2.1"/>
<circle cx="380.12" cy="164.31" r="2.1"/>
<circle cx="382.67" cy="172.99" r="2.1"/>
<circle cx="401.48" cy="154.28" r="2.1"/>
<circle cx="387.41" cy="162.3" r="2.1"/>
<circle cx="398.62" cy="169.76" r="2.1"/>
<circle cx="390.49" cy="172.42" r="2.1"/>
<circle cx="408.27" cy="160.56" r="2.1"/>
<circle cx="396.21" cy="164.6" r="2.1"/>
<circle cx="391.42" cy="165.24" r="2.1"/>
<circle cx="389.59" cy="158.97" r="2.1"/>
<circle cx="386.44" cy="164.61" r="2.1"/>
<circle cx="388.38" cy="155.7" r="2.1"/>
<circle cx="396.48" cy="149.88" r="2.1"/>
<circle cx="379.86" cy="161.84" r="2.1"/>
<circle cx="396.94" cy="168.3" r="2.1"/>
<circle cx="396.28" cy="155.33" r="2.1"/>
<circle cx="397.31" cy="159.58" r="2.1"/>
<circle cx="383.19" cy="159.75" r="2.1"/>
<circle cx="396.3" cy="160.17" r="2.1"/>
<circle cx="384.76" cy="175.11" r="2.1"/>
<circle cx="385.86" cy="176.88" r="2.1"/>
<circle cx="387.02" cy="175.4" r="2.1"/>
<circle cx="389.46" cy="150.59" r="2.1"/>
<circle cx="386.95" cy="175.45" r="2.1"/>
<circle cx="396.13" cy="171.39" r="2.1"/>
<circle cx="387.9" cy="164.37" r="2.1"/>
<circle cx="384.05" cy="167.28" r="2.1"/>
<circle cx="406.3" cy="159.56" r="2.1"/>
<circle cx="383.91" cy="176.19" r="2.1"/>
<circle cx="382.67" cy="177.15" r="2.1"/>
<circle cx="393.12" cy="163.37" r="2.1"/>
<circle cx="403.37" cy="148.33" r="2.1"/>
<circle cx="380.2" cy="177.1" r="2.1"/>
<circle cx="399.42" cy="147.32" r="2.1"/>
<circle cx="397.46" cy="154.75" r="2.1"/>
<circle cx="403.27" cy="162.98" r="2.1"/>
<circle cx="381.51" cy="165.06" r="2.1"/>
<circle cx="403.8" cy="164.19" r="2.1"/>
<circle cx="398.96" cy="164.69" r="2.1"/>
<circle cx="397.32" cy="171.62" r="2.1"/>
<circle cx="398.7" cy="155.64" r="2.1"/>
<circle cx="390.33" cy="170.82" r="2.1"/>
<circle cx="388.95" cy="165.63" r="2.1"/>
<circle cx="390.28" cy="173.7" r="2.1"/>
<circle cx="380.55" cy="157.29" r="2.1"/>
<circle cx="380.78" cy="160.23" r="2.1"/>
<circle cx="382.38" cy="177.5" r="2.1"/>
<circle cx="401.34" cy="168.65" r="2.1"/>
<circle cx="382.1" cy="159.57" r="2.1"/>
<circle cx="389.61" cy="147.19" r="2.1"/>
<circle cx="385.85" cy="155.92" r="2.1"/>
<circle cx="391.02" cy="169.01" r="2.1"/>
<circle cx="405.13" cy="157.95" r="2.1"/>
<circle cx="394.99" cy="144.17" r="2.1"/>
<circle cx="405.73" cy="162.64" r="2.1"/>
<circle cx="394.34" cy="147.96" r="2.1"/>
<circle cx="394.89" cy="172.02" r="2.1"/>
<circle cx="391.93" cy="171.22" r="2.1"/>
<circle cx="385.13" cy="174.26" r="2.1"/>
<circle cx="405.71" cy="160.2" r="2.1"/>
<circle cx="390.6" cy="170.95" r="2.1"/>
<circle cx="387.07" cy="171.27" r="2.1"/>
<circle cx="406.44" cy="157.95" r="2.1"/>
<circle cx="383.27" cy="174.47" r="2.1"/>
<circle cx="387.05" cy="176.48" r="2.1"/>
<circle cx="384.46" cy="170.19" r="2.1"/>
<circle cx="381.65" cy="175.66" r="2.1"/>
<circle cx="388.97" cy="175.67" r="2.1"/>
<circle cx="384.24" cy="174.18" r="2.1"/>
<circle cx="401.27" cy="157.52" r="2.1"/>
<circle cx="381.03" cy="170.66" r="2.1"/>
<circle cx="387.21" cy="164.22" r="2.1"/>
<circle cx="379.34" cy="167.36" r="2.1"/>
<circle cx="404.73" cy="149.79" r="2.1"/>
<circle cx="400.35" cy="157.09" r="2.1"/>
<circle cx="398.56" cy="146.73" r="2.1"/>
<circle cx="386.02" cy="163.98" r="2.1"/>
<circle cx="388.16" cy="165.3" r="2.1"/>
<circle cx="390.71" cy="153.97" r="2.1"/>
<circle cx="395.88" cy="156.47" r="2.1"/>
<circle cx="386.7" cy="154.41" r="2.1"/>
<circle cx="394.08" cy="159.53" r="2.1"/>
<circle cx="403.43" cy="152.98" r="2.1"/>
<circle cx="382.2" cy="175.7" r="2.1"/>
<circle cx="393.37" cy="168.99" r="2.1"/>
<circle cx="396.32" cy="166.58" r="2.1"/>
<circle cx="382.35" cy="171.87" r="2.1"/>
<circle cx="388.36" cy="171.71" r="2.1"/>
<circle cx="382.08" cy="168.61" r="2.1"/>
<circle cx="399.76" cy="162.05" r="2.1"/>
<circle cx="380.53" cy="170.12" r="2.1"/>
<circle cx="394.94" cy="152.27" r="2.1"/>
<circle cx="388.16" cy="175.69" r="2.1"/>
<circle cx="381.34" cy="175.38" r="2.1"/>
<circle cx="387.06" cy="160.65" r="2.1"/>
<circle cx="383.39" cy="160.07" r="2.1"/>
<circle cx="387.68" cy="154.56" r="2.1"/>
<circle cx="383.63" cy="162.02" r="2.1"/>
<circle cx="381.84" cy="175.8" r="2.1"/>
<circle cx="391.96" cy="165.6" r="2.1"/>
<circle cx="387.92" cy="171.49" r="2.1"/>
<circle cx="398.1" cy="163.82" r="2.1"/>
<circle cx="390.45" cy="153.35" r="2.1"/>
<circle cx="400.76" cy="148.47" r="2.1"/>
<circle cx="400.27" cy="146.45" r="2.1"/>
<circle cx="385.93" cy="175.29" r="2.1"/>
<circle cx="386.02" cy="160.91" r="2.1"/>
<circle cx="404.25" cy="166.53" r="2.1"/>
<circle cx="383.36" cy="177.54" r="2.1"/>
<circle cx="398.89" cy="161.46" r="2.1"/>
<circle cx="398.15" cy="152.17" r="2.1"/>
<circle cx="400.61" cy="143.48" r="2.1"/>
<circle cx="401.21" cy="167.44" r="2.1"/>
<circle cx="398.75" cy="162.74" r="2.1"/>
<circle cx="401.59" cy="168.52" r="2.1"/>
<circle cx="400.15" cy="167.22" r="2.1"/>
<circle cx="391.27" cy="172.45" r="2.1"/>
<circle cx="393.61" cy="160.41" r="2.1"/>
<circle cx="386.19" cy="171.03" r="2.1"/>
<circle cx="387.41" cy="148.18" r="2.1"/>
<circle cx="394.76" cy="134.6" r="2.1"/>
<circle cx="393.08" cy="156.99" r="2.1"/>
<circle cx="381.31" cy="176.19" r="2.1"/>
<circle cx="385.33" cy="149.22" r="2.1"/>
<circle cx="380.99" cy="162.87" r="2.1"/>
<circle cx="387.77" cy="170.27" r="2.1"/>
<circle cx="390.99" cy="146.25" r="2.1"/>
<circle cx="382.81" cy="166.64" r="2.1"/>
<circle cx="379.27" cy="163.49" r="2.1"/>
<circle cx="390.43" cy="174.77" r="2.1"/>
<circle cx="394.72" cy="157" r="2.1"/>
<circle cx="390.26" cy="170.69" r="2.1"/>
<circle cx="385.1" cy="160.43" r="2.1"/>
<circle cx="395.59" cy="172.23" r="2.1"/>
<circle cx="382.12" cy="157.75" r="2.1"/>
<circle cx="385" cy="169.45" r="2.1"/>
<circle cx="391.26" cy="170.78" r="2.1"/>
<circle cx="381.45" cy="164.72" r="2.1"/>
<circle cx="388.36" cy="155.78" r="2.1"/>
<circle cx="383.71" cy="154.13" r="2.1"/>
<circle cx="397.18" cy="171.8" r="2.1"/>
<circle cx="383.41" cy="174.15" r="2.1"/>
<circle cx="379.37" cy="178.32" r="2.1"/>
<circle cx="400.38" cy="143.55" r="2.1"/>
<circle cx="388.17" cy="160.76" r="2.1"/>
<circle cx="393.14" cy="149.46" r="2.1"/>
<circle cx="395.05" cy="155.27" r="2.1"/>
<circle cx="383.78" cy="172.34" r="2.1"/>
<circle cx="402.2" cy="168.87" r="2.1"/>
<circle cx="389.45" cy="167.07" r="2.1"/>
<circle cx="385.8" cy="175.05" r="2.1"/>
<circle cx="383.77" cy="153.11" r="2.1"/>
<circle cx="381.85" cy="162.33" r="2.1"/>
<circle cx="387.1" cy="161.89" r="2.1"/>
<circle cx="389.63" cy="152.55" r="2.1"/>
<circle cx="394.85" cy="160.25" r="2.1"/>
<circle cx="382" cy="176.58" r="2.1"/>
<circle cx="388.91" cy="151.56" r="2.1"/>
<circle cx="382.05" cy="178.07" r="2.1"/>
<circle cx="381.32" cy="165.65" r="2.1"/>
<circle cx="381.27" cy="159.15" r="2.1"/>
<circle cx="394.06" cy="166.26" r="2.1"/>
<circle cx="386.91" cy="176.04" r="2.1"/>
<circle cx="397.04" cy="148.15" r="2.1"/>
<circle cx="385.4" cy="168.89" r="2.1"/>
<circle cx="399.38" cy="123.49" r="2.1"/>
<circle cx="406.23" cy="145.57" r="2.1"/>
<circle cx="402.97" cy="139.19" r="2.1"/>
<circle cx="406.63" cy="141.66" r="2.1"/>
<circle cx="412.96" cy="143.77" r="2.1"/>
<circle cx="401.76" cy="130.41" r="2.1"/>
<circle cx="403.55" cy="135.64" r="2.1"/>
<circle cx="402.58" cy="124.82" r="2.1"/>
<circle cx="399.43" cy="133.36" r="2.1"/>
<circle cx="397.73" cy="124.05" r="2.1"/>
<circle cx="400.69" cy="139.98" r="2.1"/>
<circle cx="406.81" cy="142.04" r="2.1"/>
<circle cx="396.16" cy="133.97" r="2.1"/>
<circle cx="397.07" cy="116.94" r="2.1"/>
<circle cx="412.15" cy="153.75" r="2.1"/>
<circle cx="411.36" cy="150.66" r="2.1"/>
<circle cx="412.29" cy="146.39" r="2.1"/>
<circle cx="395.07" cy="133.86" r="2.1"/>
<circle cx="402.33" cy="133.37" r="2.1"/>
<circle cx="413.6" cy="151.59" r="2.1"/>
<circle cx="403.3" cy="143.47" r="2.1"/>
<circle cx="397.74" cy="125.9" r="2.1"/>
<circle cx="410.66" cy="146.81" r="2.1"/>
<circle cx="395.44" cy="119.97" r="2.1"/>
<circle cx="410.17" cy="143.53" r="2.1"/>
<circle cx="413.79" cy="152.8" r="2.1"/>
<circle cx="399.93" cy="127.58" r="2.1"/>
<circle cx="399.01" cy="125.02" r="2.1"/>
<circle cx="406.71" cy="136.43" r="2.1"/>
<circle cx="406.95" cy="137.92" r="2.1"/>
<circle cx="399.76" cy="132.22" r="2.1"/>
<circle cx="408.45" cy="150.26" r="2.1"/>
<circle cx="411.18" cy="153.61" r="2.1"/>
<circle cx="396.75" cy="128.55" r="2.1"/>
<circle cx="397.27" cy="124.85" r="2.1"/>
<circle cx="405.46" cy="139.51" r="2.1"/>
<circle cx="409.41" cy="135.7" r="2.1"/>
<circle cx="413.88" cy="150.94" r="2.1"/>
<circle cx="394.81" cy="122.42" r="2.1"/>
<circle cx="413.53" cy="152.45" r="2.1"/>
<circle cx="406.18" cy="146.88" r="2.1"/>
<circle cx="410.04" cy="136.65" r="2.1"/>
<circle cx="402.83" cy="135.82" r="2.1"/>
<circle cx="409.56" cy="151.71" r="2.1"/>
<circle cx="411.8" cy="142.31" r="2.1"/>
<circle cx="398.32" cy="134.97" r="2.1"/>
<circle cx="405.94" cy="137.56" r="2.1"/>
<circle cx="399.94" cy="136.38" r="2.1"/>
<circle cx="406.18" cy="145.28" r="2.1"/>
<circle cx="404.34" cy="143.19" r="2.1"/>
<circle cx="411.82" cy="143.46" r="2.1"/>
<circle cx="401.01" cy="128.69" r="2.1"/>
<circle cx="397.57" cy="119.83" r="2.1"/>
<circle cx="400.21" cy="125.64" r="2.1"/>
<circle cx="402.86" cy="129.32" r="2.1"/>
<circle cx="403.32" cy="130.39" r="2.1"/>
<circle cx="402.81" cy="142.53" r="2.1"/>
<circle cx="411.28" cy="149.45" r="2.1"/>
<circle cx="409.76" cy="151.39" r="2.1"/>
<circle cx="408.08" cy="148.62" r="2.1"/>
<circle cx="409.18" cy="140.75" r="2.1"/>
<circle cx="412.66" cy="138.75" r="2.1"/>
<circle cx="411.59" cy="153.73" r="2.1"/>
<circle cx="395.57" cy="125.28" r="2.1"/>
<circle cx="412.2" cy="152.85" r="2.1"/>
<circle cx="413.15" cy="154.9" r="2.1"/>
<circle cx="411.78" cy="154.05" r="2.1"/>
<circle cx="401.72" cy="137.59" r="2.1"/>
<circle cx="408.39" cy="143.79" r="2.1"/>
<circle cx="407.81" cy="139.99" r="2.1"/>
<circle cx="427.9" cy="32.9" r="2"/>
<circle cx="413.9" cy="75.3" r="2"/>
<circle cx="409.7" cy="91.4" r="2"/>
<circle cx="410.4" cy="94.6" r="2"/>
<circle cx="417.6" cy="103" r="2"/>
<circle cx="406" cy="112.1" r="2"/>
<circle cx="406.6" cy="115.6" r="2"/>
<circle cx="411.5" cy="114.4" r="2"/>
<circle cx="411.8" cy="114.9" r="2"/>
<circle cx="415" cy="114.4" r="2"/>
<circle cx="422" cy="117.7" r="2"/>
<circle cx="416.6" cy="119.1" r="2"/>
<circle cx="404.8" cy="120" r="2"/>
<circle cx="406.3" cy="121" r="2"/>
<circle cx="402.2" cy="121.5" r="2"/>
<circle cx="413" cy="122.9" r="2"/>
<circle cx="397.7" cy="124.5" r="2"/>
<circle cx="401.2" cy="125.5" r="2"/>
<circle cx="404.2" cy="127.6" r="2"/>
<circle cx="410.4" cy="132.1" r="2"/>
<circle cx="414.9" cy="134.7" r="2"/>
<circle cx="413.4" cy="138.8" r="2"/>
<circle cx="419.6" cy="143.9" r="2"/>
<circle cx="422.6" cy="148.6" r="2"/>
<circle cx="417.7" cy="156.2" r="2"/>
<circle cx="412" cy="158.2" r="2"/>
<circle cx="400" cy="122" r="2"/>
<circle cx="403" cy="124" r="2"/>
<circle cx="408" cy="126" r="2"/>
<circle cx="398" cy="129" r="2"/>
<circle cx="402" cy="131" r="2"/>
<circle cx="406" cy="130" r="2"/>
<circle cx="399" cy="133" r="2"/>
<circle cx="409" cy="136" r="2"/>
<circle cx="405" cy="135" r="2"/>
</g>
<rect x="276.5" y="25.5" width="163.5" height="163" fill="none" stroke="#333" stroke-width="1"/>
<text x="273.4" y="42.2" font-size="11" text-anchor="end" fill="#424242">60</text>
<line x1="274.9" y1="38.3" x2="276.5" y2="38.3" stroke="#333" stroke-width="0.8"/>
<text x="273.4" y="91.1" font-size="11" text-anchor="end" fill="#424242">40</text>
<line x1="274.9" y1="87.2" x2="276.5" y2="87.2" stroke="#333" stroke-width="0.8"/>
<text x="273.4" y="140" font-size="11" text-anchor="end" fill="#424242">20</text>
<line x1="274.9" y1="136.1" x2="276.5" y2="136.1" stroke="#333" stroke-width="0.8"/>
<text x="273.4" y="188.9" font-size="11" text-anchor="end" fill="#424242">0</text>
<line x1="274.9" y1="185" x2="276.5" y2="185" stroke="#333" stroke-width="0.8"/>
<text x="286.9" y="201.5" font-size="11" text-anchor="middle" fill="#424242">−4</text>
<line x1="284.5" y1="188.5" x2="284.5" y2="190.1" stroke="#333" stroke-width="0.8"/>
<text x="324.6" y="201.5" font-size="11" text-anchor="middle" fill="#424242">−2</text>
<line x1="321.5" y1="188.5" x2="321.5" y2="190.1" stroke="#333" stroke-width="0.8"/>
<text x="359.6" y="201.5" font-size="11" text-anchor="middle" fill="#424242">0</text>
<line x1="358.5" y1="188.5" x2="358.5" y2="190.1" stroke="#333" stroke-width="0.8"/>
<text x="396.4" y="201.5" font-size="11" text-anchor="middle" fill="#424242">2</text>
<line x1="395.5" y1="188.5" x2="395.5" y2="190.1" stroke="#333" stroke-width="0.8"/>
<text x="433.4" y="201.5" font-size="11" text-anchor="middle" fill="#424242">4</text>
<line x1="432.5" y1="188.5" x2="432.5" y2="190.1" stroke="#333" stroke-width="0.8"/>
<text x="356.6" y="210" font-size="11.2" text-anchor="middle"><tspan>Log</tspan><tspan font-size="6.72" dy="2.24">2</tspan><tspan dy="-2.24">FC</tspan></text>
<text font-size="11.2" text-anchor="middle" transform="translate(256.8 109.6) rotate(-90)"><tspan>−Log</tspan><tspan font-size="6.72" dy="2.24">10</tspan><tspan dy="-2.24">(Pvalue)</tspan></text>
<circle cx="295.9" cy="47.1" r="2.2" fill="#b4c3e4"/>
<text x="305.8" y="49.7" font-size="11">down</text>
<circle cx="295.9" cy="58.6" r="2.2" fill="#e4e4e4"/>
<text x="305.8" y="61" font-size="11">ns</text>
<circle cx="295.9" cy="70.1" r="2.2" fill="#f0b6b8"/>
<text x="305.8" y="71.6" font-size="11">up</text>
</g>
<g id="panel-c">
<text x="445.2" y="11.4" font-size="14.5" font-weight="bold" fill="#231815">c</text>
<text x="486.3" y="22.6" font-size="10.9"><tspan font-style="italic">Lyz2</tspan><tspan font-size="6.54" dy="-3.27">cre</tspan><tspan font-style="italic" dy="3.27">Ei24</tspan><tspan font-size="6.54" dy="-3.27">fl/fl</tspan></text>
<text x="578.3" y="22.6" font-size="10.9"><tspan font-style="italic">Ei24</tspan><tspan font-size="6.54" dy="-3.27">fl/fl</tspan></text>
<line x1="483.2" y1="24.9" x2="548.3" y2="24.9" stroke="#969696" stroke-width="1.5"/>
<line x1="556.6" y1="24.9" x2="622" y2="24.9" stroke="#969696" stroke-width="1.5"/>
<defs>
<linearGradient id="gp" x1="0" x2="1" y1="0" y2="0"><stop offset="0.12" stop-color="#e2339a" stop-opacity="0"/><stop offset="0.33" stop-color="#e2339a" stop-opacity="0.1"/><stop offset="0.43" stop-color="#e2339a" stop-opacity="0.5"/><stop offset="0.475" stop-color="#e2339a" stop-opacity="1"/><stop offset="0.525" stop-color="#e2339a" stop-opacity="1"/><stop offset="0.57" stop-color="#e2339a" stop-opacity="0.5"/><stop offset="0.67" stop-color="#e2339a" stop-opacity="0.1"/><stop offset="0.88" stop-color="#e2339a" stop-opacity="0"/></linearGradient>
<linearGradient id="gv" x1="0" x2="1" y1="0" y2="0"><stop offset="0.12" stop-color="#4b2e9e" stop-opacity="0"/><stop offset="0.33" stop-color="#4b2e9e" stop-opacity="0.1"/><stop offset="0.43" stop-color="#4b2e9e" stop-opacity="0.5"/><stop offset="0.475" stop-color="#4b2e9e" stop-opacity="1"/><stop offset="0.525" stop-color="#4b2e9e" stop-opacity="1"/><stop offset="0.57" stop-color="#4b2e9e" stop-opacity="0.5"/><stop offset="0.67" stop-color="#4b2e9e" stop-opacity="0.1"/><stop offset="0.88" stop-color="#4b2e9e" stop-opacity="0"/></linearGradient>
<linearGradient id="sig" x1="0" x2="0" y1="0" y2="1"><stop offset="0" stop-color="#e0218f"/><stop offset="0.25" stop-color="#e33f9d"/><stop offset="1" stop-color="#ffffff"/></linearGradient>
<rect id="h0" x="479.5" width="23" height="1.06" fill="url(#gp)"/>
<rect id="h1" x="504.5" width="23" height="1.06" fill="url(#gp)"/>
<rect id="h2" x="529.5" width="23" height="1.06" fill="url(#gp)"/>
<rect id="h3" x="554.5" width="23" height="1.06" fill="url(#gv)"/>
<rect id="h4" x="579.5" width="23" height="1.06" fill="url(#gv)"/>
<rect id="h5" x="604.5" width="23" height="1.06" fill="url(#gv)"/>
</defs>
<rect x="479.5" y="33.5" width="23" height="26" fill="#fff" stroke="#8f8f8f" stroke-width="1" rx="0.8"/>
<polyline points="480.2,57.75 480.67,57.7 481.14,57.65 481.61,57.59 482.08,57.52 482.55,57.45 483.02,57.36 483.49,57.25 483.96,57.12 484.43,56.98 484.9,56.8 485.37,56.59 485.83,56.33 486.3,56.02 486.77,55.65 487.24,55.2 487.71,54.65 488.18,54.01 488.65,53.28 489.12,52.47 489.59,51.64 490.06,50.91 490.53,50.39 491,50.2 491.47,50.39 491.94,50.91 492.41,51.64 492.88,52.47 493.35,53.28 493.82,54.01 494.29,54.65 494.76,55.2 495.23,55.65 495.7,56.02 496.17,56.33 496.63,56.59 497.1,56.8 497.57,56.98 498.04,57.12 498.51,57.25 498.98,57.36 499.45,57.45 499.92,57.52 500.39,57.59 500.86,57.65 501.33,57.7 501.8,57.75" fill="none" stroke="#5cc8ea" stroke-width="0.8" stroke-linejoin="round"/>
<polyline points="480.2,55.15 480.67,55.11 481.14,55.05 481.61,54.99 482.08,54.92 482.55,54.83 483.02,54.73 483.49,54.61 483.96,54.47 484.43,54.29 484.9,54.08 485.37,53.81 485.83,53.47 486.3,53.05 486.77,52.49 487.24,51.77 487.71,50.81 488.18,49.54 488.65,47.85 489.12,45.66 489.59,42.96 490.06,40.03 490.53,37.58 491,36.6 491.47,37.58 491.94,40.03 492.41,42.96 492.88,45.66 493.35,47.85 493.82,49.54 494.29,50.81 494.76,51.77 495.23,52.49 495.7,53.05 496.17,53.47 496.63,53.81 497.1,54.08 497.57,54.29 498.04,54.47 498.51,54.61 498.98,54.73 499.45,54.83 499.92,54.92 500.39,54.99 500.86,55.05 501.33,55.11 501.8,55.15" fill="none" stroke="#2e3192" stroke-width="0.8" stroke-linejoin="round"/>
<rect x="479.5" y="61" width="23" height="70" fill="#fff"/>
<rect x="479.5" y="61" width="23" height="70" fill="#e2339a" opacity="0.06"/>
<g fill="#e2339a"><rect x="484.49" y="61" width="16.5" height="1.05" opacity="0.09"/><rect x="493.83" y="62" width="3.05" height="1.05" opacity="0.06"/><rect x="496.46" y="63" width="6.01" height="1.05" opacity="0.05"/><rect x="479.62" y="63" width="19.32" height="1.05" opacity="0.04"/><rect x="480.06" y="63" width="19.42" height="1.05" opacity="0.02"/><rect x="479.84" y="64" width="22.62" height="1.05" opacity="0.05"/><rect x="482.34" y="64" width="18.58" height="1.05" opacity="0.06"/><rect x="494.78" y="64" width="6.75" height="1.05" opacity="0.08"/><rect x="485.13" y="65" width="4.29" height="1.05" opacity="0.1"/><rect x="483.28" y="66" width="13.91" height="1.05" opacity="0.08"/><rect x="481.73" y="66" width="19.47" height="1.05" opacity="0.02"/><rect x="480.54" y="67" width="20.05" height="1.05" opacity="0.07"/><rect x="480.72" y="67" width="2.9" height="1.05" opacity="0.08"/><rect x="482.46" y="68" width="18" height="1.05" opacity="0.06"/><rect x="481.83" y="68" width="16.68" height="1.05" opacity="0.06"/><rect x="483.93" y="68" width="17.27" height="1.05" opacity="0.03"/><rect x="483.56" y="69" width="4.76" height="1.05" opacity="0.12"/><rect x="482.75" y="69" width="15.52" height="1.05" opacity="0.09"/><rect x="484.61" y="70" width="16.87" height="1.05" opacity="0.06"/><rect x="483.47" y="71" width="16.9" height="1.05" opacity="0.08"/><rect x="480.36" y="71" width="15.87" height="1.05" opacity="0.07"/><rect x="480.99" y="71" width="21.22" height="1.05" opacity="0.04"/><rect x="480.65" y="71" width="6.9" height="1.05" opacity="0.19"/><rect x="492.49" y="72" width="6.89" height="1.05" opacity="0.07"/><rect x="480.01" y="73" width="21.1" height="1.05" opacity="0.05"/><rect x="486.4" y="73" width="11.5" height="1.05" opacity="0.12"/><rect x="484.5" y="74" width="17.57" height="1.05" opacity="0.04"/><rect x="493.88" y="75" width="8.43" height="1.05" opacity="0.07"/><rect x="493.52" y="76" width="4.19" height="1.05" opacity="0.12"/><rect x="484.38" y="76" width="6.1" height="1.05" opacity="0.07"/><rect x="484.55" y="76" width="14.43" height="1.05" opacity="0.05"/><rect x="480.12" y="77" width="22.11" height="1.05" opacity="0.1"/><rect x="487.83" y="77" width="8.55" height="1.05" opacity="0.03"/><rect x="483.77" y="78" width="16.56" height="1.05" opacity="0.07"/><rect x="479.84" y="78" width="22.44" height="1.05" opacity="0.06"/><rect x="479.96" y="78" width="5.75" height="1.05" opacity="0.18"/><rect x="492.93" y="79" width="5.83" height="1.05" opacity="0.07"/><rect x="479.79" y="80" width="21.31" height="1.05" opacity="0.11"/><rect x="479.61" y="81" width="8.06" height="1.05" opacity="0.09"/><rect x="484.91" y="81" width="3.08" height="1.05" opacity="0.07"/><rect x="482.01" y="81" width="17.69" height="1.05" opacity="0.11"/><rect x="484.1" y="81" width="16.1" height="1.05" opacity="0.17"/><rect x="480.5" y="82" width="14.97" height="1.05" opacity="0.03"/><rect x="489.38" y="83" width="3.31" height="1.05" opacity="0.07"/><rect x="483.36" y="83" width="17.03" height="1.05" opacity="0.07"/><rect x="481.95" y="83" width="15.56" height="1.05" opacity="0.04"/><rect x="480.92" y="84" width="5.21" height="1.05" opacity="0.04"/><rect x="482.35" y="84" width="19.36" height="1.05" opacity="0.07"/><rect x="486" y="85" width="5.54" height="1.05" opacity="0.07"/><rect x="491.67" y="85" width="5.47" height="1.05" opacity="0.07"/><rect x="479.7" y="86" width="20.2" height="1.05" opacity="0.06"/><rect x="484.82" y="87" width="8.79" height="1.05" opacity="0.13"/><rect x="480.11" y="88" width="18.07" height="1.05" opacity="0.12"/><rect x="491.01" y="88" width="8.47" height="1.05" opacity="0.11"/><rect x="491.01" y="89" width="3.42" height="1.05" opacity="0.03"/><rect x="479.59" y="89" width="20.92" height="1.05" opacity="0.03"/><rect x="479.95" y="90" width="3.91" height="1.05" opacity="0.13"/><rect x="479.5" y="90" width="11.5" height="1.05" opacity="0.23"/><rect x="492.8" y="91" width="7.1" height="1.05" opacity="0.13"/><rect x="494.85" y="92" width="2.99" height="1.05" opacity="0.09"/><rect x="494.14" y="92" width="3.45" height="1.05" opacity="0.15"/><rect x="482.82" y="93" width="18.99" height="1.05" opacity="0.05"/><rect x="482.16" y="94" width="19.47" height="1.05" opacity="0.07"/><rect x="482" y="95" width="17.02" height="1.05" opacity="0.03"/><rect x="479.5" y="95" width="23" height="1.05" opacity="0.28"/><rect x="492.64" y="96" width="5.42" height="1.05" opacity="0.05"/><rect x="489.86" y="96" width="7.63" height="1.05" opacity="0.08"/><rect x="481.66" y="97" width="8.54" height="1.05" opacity="0.04"/><rect x="486.92" y="97" width="8.66" height="1.05" opacity="0.07"/><rect x="480.84" y="98" width="16.26" height="1.05" opacity="0.08"/><rect x="484.38" y="98" width="15.94" height="1.05" opacity="0.11"/><rect x="494.51" y="99" width="5.42" height="1.05" opacity="0.1"/><rect x="483.81" y="100" width="14.01" height="1.05" opacity="0.07"/><rect x="481.8" y="100" width="11.5" height="1.05" opacity="0.14"/><rect x="484.33" y="101" width="16.76" height="1.05" opacity="0.04"/><rect x="481.23" y="102" width="19.31" height="1.05" opacity="0.11"/><rect x="487.51" y="102" width="6.35" height="1.05" opacity="0.11"/><rect x="492.46" y="102" width="5.34" height="1.05" opacity="0.13"/><rect x="484.55" y="103" width="15.96" height="1.05" opacity="0.12"/><rect x="483.07" y="103" width="8.26" height="1.05" opacity="0.06"/><rect x="481.83" y="104" width="20.28" height="1.05" opacity="0.13"/><rect x="487.21" y="105" width="4.78" height="1.05" opacity="0.14"/><rect x="479.95" y="106" width="21.47" height="1.05" opacity="0.08"/><rect x="486.4" y="106" width="13.8" height="1.05" opacity="0.15"/><rect x="486.26" y="107" width="2.8" height="1.05" opacity="0.08"/><rect x="483.75" y="107" width="15.73" height="1.05" opacity="0.13"/><rect x="481.73" y="108" width="14.9" height="1.05" opacity="0.13"/><rect x="480.89" y="109" width="8.61" height="1.05" opacity="0.14"/><rect x="479.5" y="109" width="23" height="1.05" opacity="0.18"/><rect x="484.04" y="110" width="7.64" height="1.05" opacity="0.11"/><rect x="493.47" y="111" width="4.47" height="1.05" opacity="0.17"/><rect x="481.4" y="111" width="6.21" height="1.05" opacity="0.12"/><rect x="488.49" y="112" width="7.13" height="1.05" opacity="0.06"/><rect x="496.49" y="113" width="3.91" height="1.05" opacity="0.12"/><rect x="479.59" y="113" width="22.37" height="1.05" opacity="0.08"/><rect x="490.29" y="114" width="6.33" height="1.05" opacity="0.12"/><rect x="480.02" y="114" width="15.42" height="1.05" opacity="0.1"/><rect x="480.36" y="115" width="20.6" height="1.05" opacity="0.06"/><rect x="479.55" y="115" width="21.83" height="1.05" opacity="0.1"/><rect x="485.48" y="116" width="5.04" height="1.05" opacity="0.11"/><rect x="493.3" y="116" width="9.2" height="1.05" opacity="0.21"/><rect x="494.72" y="117" width="5.03" height="1.05" opacity="0.06"/><rect x="480.43" y="117" width="14.72" height="1.05" opacity="0.13"/><rect x="482.61" y="118" width="15.54" height="1.05" opacity="0.12"/><rect x="488.63" y="118" width="7.58" height="1.05" opacity="0.06"/><rect x="481.97" y="119" width="18.65" height="1.05" opacity="0.05"/><rect x="481.8" y="119" width="13.8" height="1.05" opacity="0.2"/><rect x="495.6" y="120" width="2.95" height="1.05" opacity="0.15"/><rect x="481.9" y="121" width="18.88" height="1.05" opacity="0.12"/><rect x="484.24" y="121" width="7.18" height="1.05" opacity="0.14"/><rect x="482.17" y="121" width="19.33" height="1.05" opacity="0.03"/><rect x="488.44" y="122" width="5.93" height="1.05" opacity="0.09"/><rect x="479.66" y="122" width="18.67" height="1.05" opacity="0.09"/><rect x="483.33" y="123" width="19.01" height="1.05" opacity="0.15"/><rect x="480.69" y="123" width="21.09" height="1.05" opacity="0.03"/><rect x="479.5" y="123" width="16.1" height="1.05" opacity="0.29"/><rect x="484.07" y="124" width="14.52" height="1.05" opacity="0.17"/><rect x="481.62" y="125" width="7.23" height="1.05" opacity="0.14"/><rect x="484.1" y="125" width="18.4" height="1.05" opacity="0.22"/><rect x="491.06" y="126" width="7.37" height="1.05" opacity="0.07"/><rect x="491.77" y="126" width="8.76" height="1.05" opacity="0.09"/><rect x="479.85" y="127" width="14.8" height="1.05" opacity="0.03"/><rect x="483.34" y="127" width="15.28" height="1.05" opacity="0.13"/><rect x="480.48" y="128" width="19.77" height="1.05" opacity="0.1"/><rect x="482.69" y="128" width="5.35" height="1.05" opacity="0.2"/><rect x="479.5" y="128" width="23" height="1.05" opacity="0.24"/><rect x="482.56" y="129" width="17.21" height="1.05" opacity="0.12"/><rect x="481.42" y="129" width="13.82" height="1.05" opacity="0.12"/><rect x="481.05" y="130" width="15.6" height="1.05" opacity="0.06"/></g>
<use href="#h0" y="61" opacity="0.74"/><use href="#h0" y="62" opacity="0.59"/><use href="#h0" y="63" opacity="0.35"/><use href="#h0" y="64" opacity="0.39"/><use href="#h0" y="65" opacity="0.53"/><use href="#h0" y="66" opacity="0.22"/><use href="#h0" y="67" opacity="0.09"/><use href="#h0" y="68" opacity="0.47"/><use href="#h0" y="69" opacity="0.32"/><use href="#h0" y="70" opacity="0.23"/><use href="#h0" y="71" opacity="0.57"/><use href="#h0" y="72" opacity="0.46"/><use href="#h0" y="73" opacity="0.75"/><use href="#h0" y="74" opacity="0.52"/><use href="#h0" y="75" opacity="0.5"/><use href="#h0" y="76" opacity="0.33"/><use href="#h0" y="77" opacity="0.46"/><use href="#h0" y="78" opacity="0.66"/><use href="#h0" y="79" opacity="0.55"/><use href="#h0" y="80" opacity="0.66"/><use href="#h0" y="81" opacity="0.8"/><use href="#h0" y="82" opacity="0.58"/><use href="#h0" y="83" opacity="0.54"/><use href="#h0" y="84" opacity="0.59"/><use href="#h0" y="85" opacity="0.41"/><use href="#h0" y="86" opacity="0.18"/><use href="#h0" y="87" opacity="0.54"/><use href="#h0" y="88" opacity="0.51"/><use href="#h0" y="89" opacity="0.6"/><use href="#h0" y="90" opacity="0.86"/><use href="#h0" y="91" opacity="0.68"/><use href="#h0" y="92" opacity="0.9"/><use href="#h0" y="93" opacity="0.58"/><use href="#h0" y="94" opacity="0.7"/><use href="#h0" y="95" opacity="1"/><use href="#h0" y="96" opacity="0.84"/><use href="#h0" y="97" opacity="0.8"/><use href="#h0" y="98" opacity="0.41"/><use href="#h0" y="99" opacity="0.27"/><use href="#h0" y="100" opacity="0.83"/><use href="#h0" y="101" opacity="0.68"/><use href="#h0" y="102" opacity="0.56"/><use href="#h0" y="103" opacity="0.6"/><use href="#h0" y="104" opacity="0.48"/><use href="#h0" y="105" opacity="0.47"/><use href="#h0" y="106" opacity="0.8"/><use href="#h0" y="107" opacity="0.57"/><use href="#h0" y="108" opacity="0.59"/><use href="#h0" y="109" opacity="0.98"/><use href="#h0" y="110" opacity="0.76"/><use href="#h0" y="111" opacity="0.8"/><use href="#h0" y="112" opacity="0.98"/><use href="#h0" y="113" opacity="0.97"/><use href="#h0" y="114" opacity="0.97"/><use href="#h0" y="115" opacity="0.88"/><use href="#h0" y="116" opacity="0.73"/><use href="#h0" y="117" opacity="0.8"/><use href="#h0" y="118" opacity="0.9"/><use href="#h0" y="119" opacity="0.95"/><use href="#h0" y="120" opacity="0.8"/><use href="#h0" y="121" opacity="0.83"/><use href="#h0" y="122" opacity="0.48"/><use href="#h0" y="123" opacity="1"/><use href="#h0" y="124" opacity="0.89"/><use href="#h0" y="125" opacity="1"/><use href="#h0" y="126" opacity="0.9"/><use href="#h0" y="127" opacity="0.65"/><use href="#h0" y="128" opacity="1"/><use href="#h0" y="129" opacity="1"/><use href="#h0" y="130" opacity="0.83"/>
<rect x="479.5" y="61" width="23" height="70" fill="none" stroke="#8a8a8a" stroke-width="1"/>
<rect x="479.5" y="133.5" width="23" height="63" fill="#fff"/>
<rect x="479.5" y="133.5" width="23" height="63" fill="#e2339a" opacity="0.01"/>
<g fill="#e2339a"><rect x="479.54" y="133.5" width="19.12" height="1.05" opacity="0.01"/><rect x="479.58" y="133.5" width="22.59" height="1.05" opacity="0.07"/><rect x="485.89" y="134.5" width="4.98" height="1.05" opacity="0.05"/><rect x="494.13" y="134.5" width="3.46" height="1.05" opacity="0.07"/><rect x="498.42" y="134.5" width="3" height="1.05" opacity="0.02"/><rect x="484.37" y="135.5" width="8.67" height="1.05" opacity="0.07"/><rect x="480.62" y="136.5" width="16.71" height="1.05" opacity="0.02"/><rect x="482.35" y="136.5" width="20.14" height="1.05" opacity="0.03"/><rect x="486.32" y="137.5" width="6.2" height="1.05" opacity="0.03"/><rect x="486.8" y="138.5" width="5.69" height="1.05" opacity="0.03"/><rect x="489.39" y="138.5" width="2.97" height="1.05" opacity="0.06"/><rect x="488.4" y="139.5" width="8.88" height="1.05" opacity="0.06"/><rect x="481.8" y="139.5" width="4.6" height="1.05" opacity="0.14"/><rect x="486.11" y="140.5" width="15.17" height="1.05" opacity="0.03"/><rect x="493.9" y="141.5" width="8.25" height="1.05" opacity="0.04"/><rect x="480.69" y="141.5" width="20.51" height="1.05" opacity="0.03"/><rect x="485.17" y="142.5" width="17.27" height="1.05" opacity="0.07"/><rect x="480.04" y="143.5" width="16.91" height="1.05" opacity="0.03"/><rect x="484.79" y="143.5" width="8.35" height="1.05" opacity="0.06"/><rect x="491.63" y="144.5" width="7.04" height="1.05" opacity="0.04"/><rect x="488.45" y="144.5" width="4.57" height="1.05" opacity="0.06"/><rect x="479.83" y="145.5" width="22.5" height="1.05" opacity="0.04"/><rect x="480.54" y="145.5" width="18.83" height="1.05" opacity="0.05"/><rect x="486.4" y="145.5" width="16.1" height="1.05" opacity="0.09"/><rect x="492.32" y="146.5" width="6.93" height="1.05" opacity="0.03"/><rect x="492.33" y="146.5" width="7.51" height="1.05" opacity="0.04"/><rect x="494.93" y="147.5" width="7.19" height="1.05" opacity="0.08"/><rect x="480.22" y="147.5" width="18.67" height="1.05" opacity="0.05"/><rect x="481.54" y="148.5" width="20.16" height="1.05" opacity="0.05"/><rect x="480.67" y="148.5" width="20.98" height="1.05" opacity="0.04"/><rect x="482.18" y="148.5" width="19.54" height="1.05" opacity="0.04"/><rect x="482.91" y="149.5" width="15.27" height="1.05" opacity="0.06"/><rect x="481.32" y="149.5" width="20.11" height="1.05" opacity="0.01"/><rect x="480.66" y="150.5" width="14.3" height="1.05" opacity="0.03"/><rect x="479.76" y="150.5" width="15.58" height="1.05" opacity="0.04"/><rect x="483.41" y="151.5" width="6.56" height="1.05" opacity="0.07"/><rect x="482.22" y="152.5" width="16.36" height="1.05" opacity="0.02"/><rect x="484.94" y="153.5" width="14.13" height="1.05" opacity="0.01"/><rect x="483.03" y="153.5" width="16.92" height="1.05" opacity="0.06"/><rect x="480.61" y="154.5" width="21.28" height="1.05" opacity="0.03"/><rect x="481.6" y="154.5" width="19.28" height="1.05" opacity="0.08"/><rect x="495.56" y="155.5" width="5.02" height="1.05" opacity="0.02"/><rect x="481.96" y="155.5" width="19.01" height="1.05" opacity="0.02"/><rect x="484.95" y="155.5" width="8.5" height="1.05" opacity="0.05"/><rect x="479.6" y="156.5" width="22.75" height="1.05" opacity="0.08"/><rect x="497.71" y="157.5" width="4.43" height="1.05" opacity="0.04"/><rect x="485.67" y="157.5" width="16.74" height="1.05" opacity="0.04"/><rect x="480.09" y="157.5" width="18.19" height="1.05" opacity="0.06"/><rect x="481.16" y="158.5" width="20.99" height="1.05" opacity="0.02"/><rect x="479.97" y="159.5" width="22.4" height="1.05" opacity="0.03"/><rect x="487.19" y="159.5" width="15.22" height="1.05" opacity="0.03"/><rect x="481.47" y="160.5" width="19.73" height="1.05" opacity="0.07"/><rect x="480.16" y="160.5" width="20.8" height="1.05" opacity="0.04"/><rect x="491" y="160.5" width="9.2" height="1.05" opacity="0.09"/><rect x="481.51" y="161.5" width="18.67" height="1.05" opacity="0.04"/><rect x="484.55" y="162.5" width="2.99" height="1.05" opacity="0.04"/><rect x="487.42" y="162.5" width="8.48" height="1.05" opacity="0.02"/><rect x="482.26" y="163.5" width="19.1" height="1.05" opacity="0.04"/><rect x="479.81" y="163.5" width="22.19" height="1.05" opacity="0.04"/><rect x="484.87" y="164.5" width="16.53" height="1.05" opacity="0.01"/><rect x="486.32" y="164.5" width="7.23" height="1.05" opacity="0.03"/><rect x="481.55" y="164.5" width="8.62" height="1.05" opacity="0.06"/><rect x="480.45" y="165.5" width="16.84" height="1.05" opacity="0.04"/><rect x="484.05" y="165.5" width="3.2" height="1.05" opacity="0.06"/><rect x="494.01" y="166.5" width="2.92" height="1.05" opacity="0.09"/><rect x="480.27" y="166.5" width="7.28" height="1.05" opacity="0.06"/><rect x="489.55" y="167.5" width="8.89" height="1.05" opacity="0.03"/><rect x="491.27" y="168.5" width="3.72" height="1.05" opacity="0.04"/><rect x="481.66" y="169.5" width="3.04" height="1.05" opacity="0.04"/><rect x="482.4" y="170.5" width="19.09" height="1.05" opacity="0.07"/><rect x="483.28" y="171.5" width="16.69" height="1.05" opacity="0.04"/><rect x="485.56" y="172.5" width="14.31" height="1.05" opacity="0.03"/><rect x="494.96" y="172.5" width="6.02" height="1.05" opacity="0.05"/><rect x="489.73" y="172.5" width="4.46" height="1.05" opacity="0.04"/><rect x="488.7" y="172.5" width="4.6" height="1.05" opacity="0.18"/><rect x="481.37" y="173.5" width="15.03" height="1.05" opacity="0.03"/><rect x="493.11" y="173.5" width="3.91" height="1.05" opacity="0.05"/><rect x="481.95" y="174.5" width="3.35" height="1.05" opacity="0.05"/><rect x="485.04" y="175.5" width="5.85" height="1.05" opacity="0.06"/><rect x="482.5" y="176.5" width="3.11" height="1.05" opacity="0.07"/><rect x="487.41" y="177.5" width="14.87" height="1.05" opacity="0.06"/><rect x="491.58" y="177.5" width="3.66" height="1.05" opacity="0.04"/><rect x="480.74" y="178.5" width="19.45" height="1.05" opacity="0.04"/><rect x="492.43" y="179.5" width="6.93" height="1.05" opacity="0.04"/><rect x="486.4" y="179.5" width="11.5" height="1.05" opacity="0.11"/><rect x="481.65" y="180.5" width="19.25" height="1.05" opacity="0.06"/><rect x="479.78" y="180.5" width="14.69" height="1.05" opacity="0.03"/><rect x="479.99" y="180.5" width="21.98" height="1.05" opacity="0.05"/><rect x="480.13" y="181.5" width="21.99" height="1.05" opacity="0.04"/><rect x="480.74" y="182.5" width="15.22" height="1.05" opacity="0.03"/><rect x="479.67" y="182.5" width="21.9" height="1.05" opacity="0.02"/><rect x="481.04" y="183.5" width="16.44" height="1.05" opacity="0.05"/><rect x="496.26" y="184.5" width="5.14" height="1.05" opacity="0.06"/><rect x="479.5" y="184.5" width="6.9" height="1.05" opacity="0.11"/><rect x="479.56" y="185.5" width="22.5" height="1.05" opacity="0.06"/><rect x="481.68" y="185.5" width="20.01" height="1.05" opacity="0.03"/><rect x="480.05" y="186.5" width="15.92" height="1.05" opacity="0.04"/><rect x="484.1" y="186.5" width="9.2" height="1.05" opacity="0.17"/><rect x="482.46" y="187.5" width="16.67" height="1.05" opacity="0.03"/><rect x="482.05" y="187.5" width="7.38" height="1.05" opacity="0.03"/><rect x="488.66" y="187.5" width="8.82" height="1.05" opacity="0.04"/><rect x="486.23" y="188.5" width="14.36" height="1.05" opacity="0.03"/><rect x="483.61" y="188.5" width="18.85" height="1.05" opacity="0.05"/><rect x="480.09" y="188.5" width="14.66" height="1.05" opacity="0.07"/><rect x="484.34" y="189.5" width="3.11" height="1.05" opacity="0.02"/><rect x="481.71" y="189.5" width="14.35" height="1.05" opacity="0.03"/><rect x="488.1" y="190.5" width="14.15" height="1.05" opacity="0.03"/><rect x="479.86" y="191.5" width="18.69" height="1.05" opacity="0.04"/><rect x="483.38" y="191.5" width="18.79" height="1.05" opacity="0.04"/><rect x="484.38" y="192.5" width="13.96" height="1.05" opacity="0.04"/><rect x="490.64" y="192.5" width="5.19" height="1.05" opacity="0.07"/><rect x="487.7" y="192.5" width="4.74" height="1.05" opacity="0.07"/><rect x="480.65" y="192.5" width="5.75" height="1.05" opacity="0.12"/><rect x="480.05" y="193.5" width="16.67" height="1.05" opacity="0.05"/><rect x="480.16" y="194.5" width="14.99" height="1.05" opacity="0.02"/><rect x="482.53" y="194.5" width="17.74" height="1.05" opacity="0.02"/><rect x="486.4" y="194.5" width="9.2" height="1.05" opacity="0.09"/><rect x="483.48" y="195.5" width="3.07" height="1.05" opacity="0.04"/></g>
<use href="#h0" y="133.5" opacity="0.17"/><use href="#h0" y="134.5" opacity="0.22"/><use href="#h0" y="135.5" opacity="0.21"/><use href="#h0" y="136.5" opacity="0.27"/><use href="#h0" y="137.5" opacity="0.22"/><use href="#h0" y="138.5" opacity="0.24"/><use href="#h0" y="139.5" opacity="0.12"/><use href="#h0" y="140.5" opacity="0.13"/><use href="#h0" y="141.5" opacity="0.22"/><use href="#h0" y="142.5" opacity="0.22"/><use href="#h0" y="143.5" opacity="0.25"/><use href="#h0" y="144.5" opacity="0.12"/><use href="#h0" y="145.5" opacity="0.14"/><use href="#h0" y="146.5" opacity="0.09"/><use href="#h0" y="147.5" opacity="0.12"/><use href="#h0" y="148.5" opacity="0.14"/><use href="#h0" y="149.5" opacity="0.07"/><use href="#h0" y="150.5" opacity="0.07"/><use href="#h0" y="151.5" opacity="0.08"/><use href="#h0" y="152.5" opacity="0.23"/><use href="#h0" y="153.5" opacity="0.22"/><use href="#h0" y="154.5" opacity="0.1"/><use href="#h0" y="155.5" opacity="0.2"/><use href="#h0" y="156.5" opacity="0.22"/><use href="#h0" y="157.5" opacity="0.16"/><use href="#h0" y="158.5" opacity="0.09"/><use href="#h0" y="159.5" opacity="0.03"/><use href="#h0" y="160.5" opacity="0.26"/><use href="#h0" y="161.5" opacity="0.17"/><use href="#h0" y="162.5" opacity="0.08"/><use href="#h0" y="163.5" opacity="0.22"/><use href="#h0" y="164.5" opacity="0.23"/><use href="#h0" y="165.5" opacity="0.16"/><use href="#h0" y="166.5" opacity="0.24"/><use href="#h0" y="167.5" opacity="0.2"/><use href="#h0" y="168.5" opacity="0.2"/><use href="#h0" y="169.5" opacity="0.12"/><use href="#h0" y="170.5" opacity="0.21"/><use href="#h0" y="171.5" opacity="0.21"/><use href="#h0" y="172.5" opacity="0.44"/><use href="#h0" y="173.5" opacity="0.31"/><use href="#h0" y="174.5" opacity="0.15"/><use href="#h0" y="175.5" opacity="0.12"/><use href="#h0" y="176.5" opacity="0.08"/><use href="#h0" y="177.5" opacity="0.06"/><use href="#h0" y="178.5" opacity="0.03"/><use href="#h0" y="179.5" opacity="0.27"/><use href="#h0" y="180.5" opacity="0.18"/><use href="#h0" y="181.5" opacity="0.05"/><use href="#h0" y="182.5" opacity="0.14"/><use href="#h0" y="183.5" opacity="0.13"/><use href="#h0" y="184.5" opacity="0.15"/><use href="#h0" y="185.5" opacity="0.2"/><use href="#h0" y="186.5" opacity="0.33"/><use href="#h0" y="187.5" opacity="0.21"/><use href="#h0" y="188.5" opacity="0.28"/><use href="#h0" y="189.5" opacity="0.17"/><use href="#h0" y="190.5" opacity="0.08"/><use href="#h0" y="191.5" opacity="0.23"/><use href="#h0" y="192.5" opacity="0.16"/><use href="#h0" y="193.5" opacity="0.16"/><use href="#h0" y="194.5" opacity="0.38"/><use href="#h0" y="195.5" opacity="0.23"/>
<rect x="479.5" y="133.5" width="23" height="63" fill="none" stroke="#8a8a8a" stroke-width="1"/>
<rect x="504.5" y="33.5" width="23" height="26" fill="#fff" stroke="#8f8f8f" stroke-width="1" rx="0.8"/>
<polyline points="505.2,57.75 505.67,57.7 506.14,57.65 506.61,57.59 507.08,57.52 507.55,57.45 508.02,57.36 508.49,57.25 508.96,57.12 509.43,56.98 509.9,56.8 510.37,56.59 510.83,56.33 511.3,56.02 511.77,55.65 512.24,55.2 512.71,54.65 513.18,54.01 513.65,53.28 514.12,52.47 514.59,51.64 515.06,50.91 515.53,50.39 516,50.2 516.47,50.39 516.94,50.91 517.41,51.64 517.88,52.47 518.35,53.28 518.82,54.01 519.29,54.65 519.76,55.2 520.23,55.65 520.7,56.02 521.17,56.33 521.63,56.59 522.1,56.8 522.57,56.98 523.04,57.12 523.51,57.25 523.98,57.36 524.45,57.45 524.92,57.52 525.39,57.59 525.86,57.65 526.33,57.7 526.8,57.75" fill="none" stroke="#5cc8ea" stroke-width="0.8" stroke-linejoin="round"/>
<polyline points="505.2,55.15 505.67,55.11 506.14,55.05 506.61,54.99 507.08,54.92 507.55,54.83 508.02,54.73 508.49,54.61 508.96,54.47 509.43,54.29 509.9,54.08 510.37,53.81 510.83,53.47 511.3,53.05 511.77,52.49 512.24,51.77 512.71,50.81 513.18,49.54 513.65,47.85 514.12,45.66 514.59,42.96 515.06,40.03 515.53,37.58 516,36.6 516.47,37.58 516.94,40.03 517.41,42.96 517.88,45.66 518.35,47.85 518.82,49.54 519.29,50.81 519.76,51.77 520.23,52.49 520.7,53.05 521.17,53.47 521.63,53.81 522.1,54.08 522.57,54.29 523.04,54.47 523.51,54.61 523.98,54.73 524.45,54.83 524.92,54.92 525.39,54.99 525.86,55.05 526.33,55.11 526.8,55.15" fill="none" stroke="#2e3192" stroke-width="0.8" stroke-linejoin="round"/>
<rect x="504.5" y="61" width="23" height="70" fill="#fff"/>
<rect x="504.5" y="61" width="23" height="70" fill="#e2339a" opacity="0.06"/>
<g fill="#e2339a"><rect x="509.49" y="61" width="16.5" height="1.05" opacity="0.09"/><rect x="518.83" y="62" width="3.05" height="1.05" opacity="0.06"/><rect x="521.46" y="63" width="6.01" height="1.05" opacity="0.05"/><rect x="504.62" y="63" width="19.32" height="1.05" opacity="0.03"/><rect x="505.06" y="63" width="19.42" height="1.05" opacity="0.03"/><rect x="504.84" y="64" width="22.62" height="1.05" opacity="0.05"/><rect x="507.34" y="64" width="18.58" height="1.05" opacity="0.07"/><rect x="519.78" y="64" width="6.75" height="1.05" opacity="0.08"/><rect x="510.13" y="65" width="4.29" height="1.05" opacity="0.1"/><rect x="508.28" y="66" width="13.91" height="1.05" opacity="0.06"/><rect x="506.73" y="66" width="19.47" height="1.05" opacity="0.03"/><rect x="505.54" y="67" width="20.05" height="1.05" opacity="0.09"/><rect x="505.72" y="67" width="2.9" height="1.05" opacity="0.08"/><rect x="507.46" y="68" width="18" height="1.05" opacity="0.04"/><rect x="506.83" y="68" width="16.68" height="1.05" opacity="0.06"/><rect x="508.93" y="68" width="17.27" height="1.05" opacity="0.02"/><rect x="508.56" y="69" width="4.76" height="1.05" opacity="0.09"/><rect x="507.75" y="69" width="15.52" height="1.05" opacity="0.07"/><rect x="509.61" y="70" width="16.87" height="1.05" opacity="0.07"/><rect x="508.47" y="71" width="16.9" height="1.05" opacity="0.1"/><rect x="505.36" y="71" width="15.87" height="1.05" opacity="0.07"/><rect x="505.99" y="71" width="21.22" height="1.05" opacity="0.03"/><rect x="505.65" y="71" width="6.9" height="1.05" opacity="0.17"/><rect x="517.49" y="72" width="6.89" height="1.05" opacity="0.07"/><rect x="505.01" y="73" width="21.1" height="1.05" opacity="0.06"/><rect x="511.4" y="73" width="11.5" height="1.05" opacity="0.13"/><rect x="509.5" y="74" width="17.57" height="1.05" opacity="0.03"/><rect x="518.88" y="75" width="8.43" height="1.05" opacity="0.08"/><rect x="518.52" y="76" width="4.19" height="1.05" opacity="0.13"/><rect x="509.38" y="76" width="6.1" height="1.05" opacity="0.07"/><rect x="509.55" y="76" width="14.43" height="1.05" opacity="0.06"/><rect x="505.12" y="77" width="22.11" height="1.05" opacity="0.12"/><rect x="512.83" y="77" width="8.55" height="1.05" opacity="0.04"/><rect x="508.77" y="78" width="16.56" height="1.05" opacity="0.08"/><rect x="504.84" y="78" width="22.44" height="1.05" opacity="0.06"/><rect x="504.96" y="78" width="5.75" height="1.05" opacity="0.19"/><rect x="517.93" y="79" width="5.83" height="1.05" opacity="0.06"/><rect x="504.79" y="80" width="21.31" height="1.05" opacity="0.1"/><rect x="504.61" y="81" width="8.06" height="1.05" opacity="0.09"/><rect x="509.91" y="81" width="3.08" height="1.05" opacity="0.07"/><rect x="507.01" y="81" width="17.69" height="1.05" opacity="0.11"/><rect x="509.1" y="81" width="16.1" height="1.05" opacity="0.18"/><rect x="505.5" y="82" width="14.97" height="1.05" opacity="0.02"/><rect x="514.38" y="83" width="3.31" height="1.05" opacity="0.07"/><rect x="508.36" y="83" width="17.03" height="1.05" opacity="0.08"/><rect x="506.95" y="83" width="15.56" height="1.05" opacity="0.04"/><rect x="505.92" y="84" width="5.21" height="1.05" opacity="0.05"/><rect x="507.35" y="84" width="19.36" height="1.05" opacity="0.07"/><rect x="511" y="85" width="5.54" height="1.05" opacity="0.1"/><rect x="516.67" y="85" width="5.47" height="1.05" opacity="0.09"/><rect x="504.7" y="86" width="20.2" height="1.05" opacity="0.08"/><rect x="509.82" y="87" width="8.79" height="1.05" opacity="0.15"/><rect x="505.11" y="88" width="18.07" height="1.05" opacity="0.1"/><rect x="516.01" y="88" width="8.47" height="1.05" opacity="0.1"/><rect x="516.01" y="89" width="3.42" height="1.05" opacity="0.04"/><rect x="504.59" y="89" width="20.92" height="1.05" opacity="0.04"/><rect x="504.95" y="90" width="3.91" height="1.05" opacity="0.12"/><rect x="504.5" y="90" width="11.5" height="1.05" opacity="0.18"/><rect x="517.8" y="91" width="7.1" height="1.05" opacity="0.11"/><rect x="519.85" y="92" width="2.99" height="1.05" opacity="0.07"/><rect x="519.14" y="92" width="3.45" height="1.05" opacity="0.13"/><rect x="507.82" y="93" width="18.99" height="1.05" opacity="0.06"/><rect x="507.16" y="94" width="19.47" height="1.05" opacity="0.06"/><rect x="507" y="95" width="17.02" height="1.05" opacity="0.04"/><rect x="504.5" y="95" width="23" height="1.05" opacity="0.25"/><rect x="517.64" y="96" width="5.42" height="1.05" opacity="0.05"/><rect x="514.86" y="96" width="7.63" height="1.05" opacity="0.09"/><rect x="506.66" y="97" width="8.54" height="1.05" opacity="0.04"/><rect x="511.92" y="97" width="8.66" height="1.05" opacity="0.1"/><rect x="505.84" y="98" width="16.26" height="1.05" opacity="0.1"/><rect x="509.38" y="98" width="15.94" height="1.05" opacity="0.11"/><rect x="519.51" y="99" width="5.42" height="1.05" opacity="0.09"/><rect x="508.81" y="100" width="14.01" height="1.05" opacity="0.06"/><rect x="506.8" y="100" width="11.5" height="1.05" opacity="0.16"/><rect x="509.33" y="101" width="16.76" height="1.05" opacity="0.05"/><rect x="506.23" y="102" width="19.31" height="1.05" opacity="0.12"/><rect x="512.51" y="102" width="6.35" height="1.05" opacity="0.14"/><rect x="517.46" y="102" width="5.34" height="1.05" opacity="0.17"/><rect x="509.55" y="103" width="15.96" height="1.05" opacity="0.12"/><rect x="508.07" y="103" width="8.26" height="1.05" opacity="0.07"/><rect x="506.83" y="104" width="20.28" height="1.05" opacity="0.14"/><rect x="512.21" y="105" width="4.78" height="1.05" opacity="0.1"/><rect x="504.95" y="106" width="21.47" height="1.05" opacity="0.06"/><rect x="511.4" y="106" width="13.8" height="1.05" opacity="0.18"/><rect x="511.26" y="107" width="2.8" height="1.05" opacity="0.08"/><rect x="508.75" y="107" width="15.73" height="1.05" opacity="0.14"/><rect x="506.73" y="108" width="14.9" height="1.05" opacity="0.1"/><rect x="505.89" y="109" width="8.61" height="1.05" opacity="0.18"/><rect x="504.5" y="109" width="23" height="1.05" opacity="0.26"/><rect x="509.04" y="110" width="7.64" height="1.05" opacity="0.12"/><rect x="518.47" y="111" width="4.47" height="1.05" opacity="0.17"/><rect x="506.4" y="111" width="6.21" height="1.05" opacity="0.12"/><rect x="513.49" y="112" width="7.13" height="1.05" opacity="0.07"/><rect x="521.49" y="113" width="3.91" height="1.05" opacity="0.12"/><rect x="504.59" y="113" width="22.37" height="1.05" opacity="0.06"/><rect x="515.29" y="114" width="6.33" height="1.05" opacity="0.11"/><rect x="505.02" y="114" width="15.42" height="1.05" opacity="0.14"/><rect x="505.36" y="115" width="20.6" height="1.05" opacity="0.06"/><rect x="504.55" y="115" width="21.83" height="1.05" opacity="0.08"/><rect x="510.48" y="116" width="5.04" height="1.05" opacity="0.1"/><rect x="518.3" y="116" width="9.2" height="1.05" opacity="0.31"/><rect x="519.72" y="117" width="5.03" height="1.05" opacity="0.06"/><rect x="505.43" y="117" width="14.72" height="1.05" opacity="0.12"/><rect x="507.61" y="118" width="15.54" height="1.05" opacity="0.12"/><rect x="513.63" y="118" width="7.58" height="1.05" opacity="0.06"/><rect x="506.97" y="119" width="18.65" height="1.05" opacity="0.06"/><rect x="506.8" y="119" width="13.8" height="1.05" opacity="0.17"/><rect x="520.6" y="120" width="2.95" height="1.05" opacity="0.14"/><rect x="506.9" y="121" width="18.88" height="1.05" opacity="0.09"/><rect x="509.24" y="121" width="7.18" height="1.05" opacity="0.17"/><rect x="507.17" y="121" width="19.33" height="1.05" opacity="0.03"/><rect x="513.44" y="122" width="5.93" height="1.05" opacity="0.1"/><rect x="504.66" y="122" width="18.67" height="1.05" opacity="0.09"/><rect x="508.33" y="123" width="19.01" height="1.05" opacity="0.15"/><rect x="505.69" y="123" width="21.09" height="1.05" opacity="0.03"/><rect x="504.5" y="123" width="16.1" height="1.05" opacity="0.29"/><rect x="509.07" y="124" width="14.52" height="1.05" opacity="0.17"/><rect x="506.62" y="125" width="7.23" height="1.05" opacity="0.16"/><rect x="509.1" y="125" width="18.4" height="1.05" opacity="0.25"/><rect x="516.06" y="126" width="7.37" height="1.05" opacity="0.09"/><rect x="516.77" y="126" width="8.76" height="1.05" opacity="0.09"/><rect x="504.85" y="127" width="14.8" height="1.05" opacity="0.04"/><rect x="508.34" y="127" width="15.28" height="1.05" opacity="0.15"/><rect x="505.48" y="128" width="19.77" height="1.05" opacity="0.08"/><rect x="507.69" y="128" width="5.35" height="1.05" opacity="0.16"/><rect x="504.5" y="128" width="23" height="1.05" opacity="0.23"/><rect x="507.56" y="129" width="17.21" height="1.05" opacity="0.12"/><rect x="506.42" y="129" width="13.82" height="1.05" opacity="0.13"/><rect x="506.05" y="130" width="15.6" height="1.05" opacity="0.05"/></g>
<use href="#h1" y="61" opacity="0.76"/><use href="#h1" y="62" opacity="0.62"/><use href="#h1" y="63" opacity="0.33"/><use href="#h1" y="64" opacity="0.45"/><use href="#h1" y="65" opacity="0.52"/><use href="#h1" y="66" opacity="0.22"/><use href="#h1" y="67" opacity="0.11"/><use href="#h1" y="68" opacity="0.45"/><use href="#h1" y="69" opacity="0.3"/><use href="#h1" y="70" opacity="0.24"/><use href="#h1" y="71" opacity="0.58"/><use href="#h1" y="72" opacity="0.52"/><use href="#h1" y="73" opacity="0.73"/><use href="#h1" y="74" opacity="0.49"/><use href="#h1" y="75" opacity="0.55"/><use href="#h1" y="76" opacity="0.32"/><use href="#h1" y="77" opacity="0.48"/><use href="#h1" y="78" opacity="0.65"/><use href="#h1" y="79" opacity="0.53"/><use href="#h1" y="80" opacity="0.64"/><use href="#h1" y="81" opacity="0.78"/><use href="#h1" y="82" opacity="0.6"/><use href="#h1" y="83" opacity="0.53"/><use href="#h1" y="84" opacity="0.52"/><use href="#h1" y="85" opacity="0.4"/><use href="#h1" y="86" opacity="0.19"/><use href="#h1" y="87" opacity="0.61"/><use href="#h1" y="88" opacity="0.54"/><use href="#h1" y="89" opacity="0.61"/><use href="#h1" y="90" opacity="0.95"/><use href="#h1" y="91" opacity="0.67"/><use href="#h1" y="92" opacity="0.77"/><use href="#h1" y="93" opacity="0.55"/><use href="#h1" y="94" opacity="0.66"/><use href="#h1" y="95" opacity="1"/><use href="#h1" y="96" opacity="0.79"/><use href="#h1" y="97" opacity="0.81"/><use href="#h1" y="98" opacity="0.43"/><use href="#h1" y="99" opacity="0.25"/><use href="#h1" y="100" opacity="0.86"/><use href="#h1" y="101" opacity="0.64"/><use href="#h1" y="102" opacity="0.59"/><use href="#h1" y="103" opacity="0.57"/><use href="#h1" y="104" opacity="0.41"/><use href="#h1" y="105" opacity="0.48"/><use href="#h1" y="106" opacity="0.84"/><use href="#h1" y="107" opacity="0.62"/><use href="#h1" y="108" opacity="0.49"/><use href="#h1" y="109" opacity="0.99"/><use href="#h1" y="110" opacity="0.85"/><use href="#h1" y="111" opacity="0.84"/><use href="#h1" y="112" opacity="0.9"/><use href="#h1" y="113" opacity="0.88"/><use href="#h1" y="114" opacity="1"/><use href="#h1" y="115" opacity="0.78"/><use href="#h1" y="116" opacity="0.83"/><use href="#h1" y="117" opacity="0.84"/><use href="#h1" y="118" opacity="1"/><use href="#h1" y="119" opacity="0.92"/><use href="#h1" y="120" opacity="0.74"/><use href="#h1" y="121" opacity="0.75"/><use href="#h1" y="122" opacity="0.45"/><use href="#h1" y="123" opacity="1"/><use href="#h1" y="124" opacity="0.97"/><use href="#h1" y="125" opacity="1"/><use href="#h1" y="126" opacity="0.84"/><use href="#h1" y="127" opacity="0.64"/><use href="#h1" y="128" opacity="1"/><use href="#h1" y="129" opacity="0.97"/><use href="#h1" y="130" opacity="0.75"/>
<rect x="504.5" y="61" width="23" height="70" fill="none" stroke="#8a8a8a" stroke-width="1"/>
<rect x="504.5" y="133.5" width="23" height="63" fill="#fff"/>
<rect x="504.5" y="133.5" width="23" height="63" fill="#e2339a" opacity="0.01"/>
<g fill="#e2339a"><rect x="504.54" y="133.5" width="19.12" height="1.05" opacity="0.02"/><rect x="504.58" y="133.5" width="22.59" height="1.05" opacity="0.07"/><rect x="510.89" y="134.5" width="4.98" height="1.05" opacity="0.05"/><rect x="519.13" y="134.5" width="3.46" height="1.05" opacity="0.06"/><rect x="523.42" y="134.5" width="3" height="1.05" opacity="0.02"/><rect x="509.37" y="135.5" width="8.67" height="1.05" opacity="0.06"/><rect x="505.62" y="136.5" width="16.71" height="1.05" opacity="0.02"/><rect x="507.35" y="136.5" width="20.14" height="1.05" opacity="0.02"/><rect x="511.32" y="137.5" width="6.2" height="1.05" opacity="0.04"/><rect x="511.8" y="138.5" width="5.69" height="1.05" opacity="0.02"/><rect x="514.39" y="138.5" width="2.97" height="1.05" opacity="0.08"/><rect x="513.4" y="139.5" width="8.88" height="1.05" opacity="0.07"/><rect x="506.8" y="139.5" width="4.6" height="1.05" opacity="0.14"/><rect x="511.11" y="140.5" width="15.17" height="1.05" opacity="0.02"/><rect x="518.9" y="141.5" width="8.25" height="1.05" opacity="0.05"/><rect x="505.69" y="141.5" width="20.51" height="1.05" opacity="0.03"/><rect x="510.17" y="142.5" width="17.27" height="1.05" opacity="0.08"/><rect x="505.04" y="143.5" width="16.91" height="1.05" opacity="0.03"/><rect x="509.79" y="143.5" width="8.35" height="1.05" opacity="0.06"/><rect x="516.63" y="144.5" width="7.04" height="1.05" opacity="0.04"/><rect x="513.45" y="144.5" width="4.57" height="1.05" opacity="0.08"/><rect x="504.83" y="145.5" width="22.5" height="1.05" opacity="0.05"/><rect x="505.54" y="145.5" width="18.83" height="1.05" opacity="0.06"/><rect x="511.4" y="145.5" width="16.1" height="1.05" opacity="0.11"/><rect x="517.32" y="146.5" width="6.93" height="1.05" opacity="0.04"/><rect x="517.33" y="146.5" width="7.51" height="1.05" opacity="0.05"/><rect x="519.93" y="147.5" width="7.19" height="1.05" opacity="0.07"/><rect x="505.22" y="147.5" width="18.67" height="1.05" opacity="0.07"/><rect x="506.54" y="148.5" width="20.16" height="1.05" opacity="0.06"/><rect x="505.67" y="148.5" width="20.98" height="1.05" opacity="0.05"/><rect x="507.18" y="148.5" width="19.54" height="1.05" opacity="0.05"/><rect x="507.91" y="149.5" width="15.27" height="1.05" opacity="0.04"/><rect x="506.32" y="149.5" width="20.11" height="1.05" opacity="0.02"/><rect x="505.66" y="150.5" width="14.3" height="1.05" opacity="0.04"/><rect x="504.76" y="150.5" width="15.58" height="1.05" opacity="0.04"/><rect x="508.41" y="151.5" width="6.56" height="1.05" opacity="0.06"/><rect x="507.22" y="152.5" width="16.36" height="1.05" opacity="0.02"/><rect x="509.94" y="153.5" width="14.13" height="1.05" opacity="0.02"/><rect x="508.03" y="153.5" width="16.92" height="1.05" opacity="0.06"/><rect x="505.61" y="154.5" width="21.28" height="1.05" opacity="0.04"/><rect x="506.6" y="154.5" width="19.28" height="1.05" opacity="0.07"/><rect x="520.56" y="155.5" width="5.02" height="1.05" opacity="0.02"/><rect x="506.96" y="155.5" width="19.01" height="1.05" opacity="0.02"/><rect x="509.95" y="155.5" width="8.5" height="1.05" opacity="0.04"/><rect x="504.6" y="156.5" width="22.75" height="1.05" opacity="0.08"/><rect x="522.71" y="157.5" width="4.43" height="1.05" opacity="0.04"/><rect x="510.67" y="157.5" width="16.74" height="1.05" opacity="0.04"/><rect x="505.09" y="157.5" width="18.19" height="1.05" opacity="0.05"/><rect x="506.16" y="158.5" width="20.99" height="1.05" opacity="0.01"/><rect x="504.97" y="159.5" width="22.4" height="1.05" opacity="0.03"/><rect x="512.19" y="159.5" width="15.22" height="1.05" opacity="0.03"/><rect x="506.47" y="160.5" width="19.73" height="1.05" opacity="0.05"/><rect x="505.16" y="160.5" width="20.8" height="1.05" opacity="0.05"/><rect x="516" y="160.5" width="9.2" height="1.05" opacity="0.1"/><rect x="506.51" y="161.5" width="18.67" height="1.05" opacity="0.04"/><rect x="509.55" y="162.5" width="2.99" height="1.05" opacity="0.04"/><rect x="512.42" y="162.5" width="8.48" height="1.05" opacity="0.02"/><rect x="507.26" y="163.5" width="19.1" height="1.05" opacity="0.06"/><rect x="504.81" y="163.5" width="22.19" height="1.05" opacity="0.04"/><rect x="509.87" y="164.5" width="16.53" height="1.05" opacity="0.02"/><rect x="511.32" y="164.5" width="7.23" height="1.05" opacity="0.04"/><rect x="506.55" y="164.5" width="8.62" height="1.05" opacity="0.04"/><rect x="505.45" y="165.5" width="16.84" height="1.05" opacity="0.04"/><rect x="509.05" y="165.5" width="3.2" height="1.05" opacity="0.08"/><rect x="519.01" y="166.5" width="2.92" height="1.05" opacity="0.09"/><rect x="505.27" y="166.5" width="7.28" height="1.05" opacity="0.07"/><rect x="514.55" y="167.5" width="8.89" height="1.05" opacity="0.02"/><rect x="516.27" y="168.5" width="3.72" height="1.05" opacity="0.04"/><rect x="506.66" y="169.5" width="3.04" height="1.05" opacity="0.04"/><rect x="507.4" y="170.5" width="19.09" height="1.05" opacity="0.07"/><rect x="508.28" y="171.5" width="16.69" height="1.05" opacity="0.04"/><rect x="510.56" y="172.5" width="14.31" height="1.05" opacity="0.02"/><rect x="519.96" y="172.5" width="6.02" height="1.05" opacity="0.05"/><rect x="514.73" y="172.5" width="4.46" height="1.05" opacity="0.04"/><rect x="513.7" y="172.5" width="4.6" height="1.05" opacity="0.13"/><rect x="506.37" y="173.5" width="15.03" height="1.05" opacity="0.04"/><rect x="518.11" y="173.5" width="3.91" height="1.05" opacity="0.05"/><rect x="506.95" y="174.5" width="3.35" height="1.05" opacity="0.05"/><rect x="510.04" y="175.5" width="5.85" height="1.05" opacity="0.07"/><rect x="507.5" y="176.5" width="3.11" height="1.05" opacity="0.08"/><rect x="512.41" y="177.5" width="14.87" height="1.05" opacity="0.05"/><rect x="516.58" y="177.5" width="3.66" height="1.05" opacity="0.04"/><rect x="505.74" y="178.5" width="19.45" height="1.05" opacity="0.04"/><rect x="517.43" y="179.5" width="6.93" height="1.05" opacity="0.04"/><rect x="511.4" y="179.5" width="11.5" height="1.05" opacity="0.11"/><rect x="506.65" y="180.5" width="19.25" height="1.05" opacity="0.06"/><rect x="504.78" y="180.5" width="14.69" height="1.05" opacity="0.03"/><rect x="504.99" y="180.5" width="21.98" height="1.05" opacity="0.05"/><rect x="505.13" y="181.5" width="21.99" height="1.05" opacity="0.04"/><rect x="505.74" y="182.5" width="15.22" height="1.05" opacity="0.04"/><rect x="504.67" y="182.5" width="21.9" height="1.05" opacity="0.03"/><rect x="506.04" y="183.5" width="16.44" height="1.05" opacity="0.04"/><rect x="521.26" y="184.5" width="5.14" height="1.05" opacity="0.05"/><rect x="504.5" y="184.5" width="6.9" height="1.05" opacity="0.1"/><rect x="504.56" y="185.5" width="22.5" height="1.05" opacity="0.06"/><rect x="506.68" y="185.5" width="20.01" height="1.05" opacity="0.03"/><rect x="505.05" y="186.5" width="15.92" height="1.05" opacity="0.04"/><rect x="509.1" y="186.5" width="9.2" height="1.05" opacity="0.13"/><rect x="507.46" y="187.5" width="16.67" height="1.05" opacity="0.04"/><rect x="507.05" y="187.5" width="7.38" height="1.05" opacity="0.04"/><rect x="513.66" y="187.5" width="8.82" height="1.05" opacity="0.04"/><rect x="511.23" y="188.5" width="14.36" height="1.05" opacity="0.04"/><rect x="508.61" y="188.5" width="18.85" height="1.05" opacity="0.05"/><rect x="505.09" y="188.5" width="14.66" height="1.05" opacity="0.06"/><rect x="509.34" y="189.5" width="3.11" height="1.05" opacity="0.02"/><rect x="506.71" y="189.5" width="14.35" height="1.05" opacity="0.04"/><rect x="513.1" y="190.5" width="14.15" height="1.05" opacity="0.02"/><rect x="504.86" y="191.5" width="18.69" height="1.05" opacity="0.04"/><rect x="508.38" y="191.5" width="18.79" height="1.05" opacity="0.06"/><rect x="509.38" y="192.5" width="13.96" height="1.05" opacity="0.04"/><rect x="515.64" y="192.5" width="5.19" height="1.05" opacity="0.07"/><rect x="512.7" y="192.5" width="4.74" height="1.05" opacity="0.07"/><rect x="505.65" y="192.5" width="5.75" height="1.05" opacity="0.15"/><rect x="505.05" y="193.5" width="16.67" height="1.05" opacity="0.06"/><rect x="505.16" y="194.5" width="14.99" height="1.05" opacity="0.03"/><rect x="507.53" y="194.5" width="17.74" height="1.05" opacity="0.03"/><rect x="511.4" y="194.5" width="9.2" height="1.05" opacity="0.12"/><rect x="508.48" y="195.5" width="3.07" height="1.05" opacity="0.04"/></g>
<use href="#h1" y="133.5" opacity="0.16"/><use href="#h1" y="134.5" opacity="0.2"/><use href="#h1" y="135.5" opacity="0.21"/><use href="#h1" y="136.5" opacity="0.28"/><use href="#h1" y="137.5" opacity="0.26"/><use href="#h1" y="138.5" opacity="0.24"/><use href="#h1" y="139.5" opacity="0.12"/><use href="#h1" y="140.5" opacity="0.13"/><use href="#h1" y="141.5" opacity="0.23"/><use href="#h1" y="142.5" opacity="0.2"/><use href="#h1" y="143.5" opacity="0.27"/><use href="#h1" y="144.5" opacity="0.12"/><use href="#h1" y="145.5" opacity="0.14"/><use href="#h1" y="146.5" opacity="0.09"/><use href="#h1" y="147.5" opacity="0.13"/><use href="#h1" y="148.5" opacity="0.15"/><use href="#h1" y="149.5" opacity="0.07"/><use href="#h1" y="150.5" opacity="0.07"/><use href="#h1" y="151.5" opacity="0.08"/><use href="#h1" y="152.5" opacity="0.22"/><use href="#h1" y="153.5" opacity="0.23"/><use href="#h1" y="154.5" opacity="0.11"/><use href="#h1" y="155.5" opacity="0.18"/><use href="#h1" y="156.5" opacity="0.22"/><use href="#h1" y="157.5" opacity="0.15"/><use href="#h1" y="158.5" opacity="0.08"/><use href="#h1" y="159.5" opacity="0.03"/><use href="#h1" y="160.5" opacity="0.24"/><use href="#h1" y="161.5" opacity="0.16"/><use href="#h1" y="162.5" opacity="0.09"/><use href="#h1" y="163.5" opacity="0.2"/><use href="#h1" y="164.5" opacity="0.22"/><use href="#h1" y="165.5" opacity="0.14"/><use href="#h1" y="166.5" opacity="0.23"/><use href="#h1" y="167.5" opacity="0.18"/><use href="#h1" y="168.5" opacity="0.2"/><use href="#h1" y="169.5" opacity="0.13"/><use href="#h1" y="170.5" opacity="0.2"/><use href="#h1" y="171.5" opacity="0.21"/><use href="#h1" y="172.5" opacity="0.46"/><use href="#h1" y="173.5" opacity="0.34"/><use href="#h1" y="174.5" opacity="0.15"/><use href="#h1" y="175.5" opacity="0.13"/><use href="#h1" y="176.5" opacity="0.08"/><use href="#h1" y="177.5" opacity="0.06"/><use href="#h1" y="178.5" opacity="0.04"/><use href="#h1" y="179.5" opacity="0.25"/><use href="#h1" y="180.5" opacity="0.21"/><use href="#h1" y="181.5" opacity="0.05"/><use href="#h1" y="182.5" opacity="0.14"/><use href="#h1" y="183.5" opacity="0.11"/><use href="#h1" y="184.5" opacity="0.16"/><use href="#h1" y="185.5" opacity="0.17"/><use href="#h1" y="186.5" opacity="0.34"/><use href="#h1" y="187.5" opacity="0.25"/><use href="#h1" y="188.5" opacity="0.26"/><use href="#h1" y="189.5" opacity="0.18"/><use href="#h1" y="190.5" opacity="0.08"/><use href="#h1" y="191.5" opacity="0.19"/><use href="#h1" y="192.5" opacity="0.14"/><use href="#h1" y="193.5" opacity="0.17"/><use href="#h1" y="194.5" opacity="0.39"/><use href="#h1" y="195.5" opacity="0.23"/>
<rect x="504.5" y="133.5" width="23" height="63" fill="none" stroke="#8a8a8a" stroke-width="1"/>
<rect x="529.5" y="33.5" width="23" height="26" fill="#fff" stroke="#8f8f8f" stroke-width="1" rx="0.8"/>
<polyline points="530.2,57.75 530.67,57.7 531.14,57.65 531.61,57.59 532.08,57.52 532.55,57.45 533.02,57.36 533.49,57.25 533.96,57.12 534.43,56.98 534.9,56.8 535.37,56.59 535.83,56.33 536.3,56.02 536.77,55.65 537.24,55.2 537.71,54.65 538.18,54.01 538.65,53.28 539.12,52.47 539.59,51.64 540.06,50.91 540.53,50.39 541,50.2 541.47,50.39 541.94,50.91 542.41,51.64 542.88,52.47 543.35,53.28 543.82,54.01 544.29,54.65 544.76,55.2 545.23,55.65 545.7,56.02 546.17,56.33 546.63,56.59 547.1,56.8 547.57,56.98 548.04,57.12 548.51,57.25 548.98,57.36 549.45,57.45 549.92,57.52 550.39,57.59 550.86,57.65 551.33,57.7 551.8,57.75" fill="none" stroke="#5cc8ea" stroke-width="0.8" stroke-linejoin="round"/>
<polyline points="530.2,55.21 530.67,55.17 531.14,55.13 531.61,55.07 532.08,55.01 532.55,54.94 533.02,54.85 533.49,54.75 533.96,54.62 534.43,54.47 534.9,54.29 535.37,54.06 535.83,53.77 536.3,53.4 536.77,52.92 537.24,52.29 537.71,51.47 538.18,50.37 538.65,48.91 539.12,47.02 539.59,44.69 540.06,42.16 540.53,40.05 541,39.2 541.47,40.05 541.94,42.16 542.41,44.69 542.88,47.02 543.35,48.91 543.82,50.37 544.29,51.47 544.76,52.29 545.23,52.92 545.7,53.4 546.17,53.77 546.63,54.06 547.1,54.29 547.57,54.47 548.04,54.62 548.51,54.75 548.98,54.85 549.45,54.94 549.92,55.01 550.39,55.07 550.86,55.13 551.33,55.17 551.8,55.21" fill="none" stroke="#2e3192" stroke-width="0.8" stroke-linejoin="round"/>
<rect x="529.5" y="61" width="23" height="70" fill="#fff"/>
<rect x="529.5" y="61" width="23" height="70" fill="#e2339a" opacity="0.06"/>
<g fill="#e2339a"><rect x="534.49" y="61" width="16.5" height="1.05" opacity="0.08"/><rect x="543.83" y="62" width="3.05" height="1.05" opacity="0.05"/><rect x="546.46" y="63" width="6.01" height="1.05" opacity="0.05"/><rect x="529.62" y="63" width="19.32" height="1.05" opacity="0.04"/><rect x="530.06" y="63" width="19.42" height="1.05" opacity="0.02"/><rect x="529.84" y="64" width="22.62" height="1.05" opacity="0.04"/><rect x="532.34" y="64" width="18.58" height="1.05" opacity="0.08"/><rect x="544.78" y="64" width="6.75" height="1.05" opacity="0.08"/><rect x="535.13" y="65" width="4.29" height="1.05" opacity="0.09"/><rect x="533.28" y="66" width="13.91" height="1.05" opacity="0.08"/><rect x="531.73" y="66" width="19.47" height="1.05" opacity="0.02"/><rect x="530.54" y="67" width="20.05" height="1.05" opacity="0.09"/><rect x="530.72" y="67" width="2.9" height="1.05" opacity="0.1"/><rect x="532.46" y="68" width="18" height="1.05" opacity="0.05"/><rect x="531.83" y="68" width="16.68" height="1.05" opacity="0.08"/><rect x="533.93" y="68" width="17.27" height="1.05" opacity="0.02"/><rect x="533.56" y="69" width="4.76" height="1.05" opacity="0.11"/><rect x="532.75" y="69" width="15.52" height="1.05" opacity="0.07"/><rect x="534.61" y="70" width="16.87" height="1.05" opacity="0.07"/><rect x="533.47" y="71" width="16.9" height="1.05" opacity="0.09"/><rect x="530.36" y="71" width="15.87" height="1.05" opacity="0.06"/><rect x="530.99" y="71" width="21.22" height="1.05" opacity="0.04"/><rect x="530.65" y="71" width="6.9" height="1.05" opacity="0.21"/><rect x="542.49" y="72" width="6.89" height="1.05" opacity="0.05"/><rect x="530.01" y="73" width="21.1" height="1.05" opacity="0.06"/><rect x="536.4" y="73" width="11.5" height="1.05" opacity="0.11"/><rect x="534.5" y="74" width="17.57" height="1.05" opacity="0.04"/><rect x="543.88" y="75" width="8.43" height="1.05" opacity="0.07"/><rect x="543.52" y="76" width="4.19" height="1.05" opacity="0.09"/><rect x="534.38" y="76" width="6.1" height="1.05" opacity="0.06"/><rect x="534.55" y="76" width="14.43" height="1.05" opacity="0.04"/><rect x="530.12" y="77" width="22.11" height="1.05" opacity="0.09"/><rect x="537.83" y="77" width="8.55" height="1.05" opacity="0.03"/><rect x="533.77" y="78" width="16.56" height="1.05" opacity="0.06"/><rect x="529.84" y="78" width="22.44" height="1.05" opacity="0.05"/><rect x="529.96" y="78" width="5.75" height="1.05" opacity="0.2"/><rect x="542.93" y="79" width="5.83" height="1.05" opacity="0.06"/><rect x="529.79" y="80" width="21.31" height="1.05" opacity="0.1"/><rect x="529.61" y="81" width="8.06" height="1.05" opacity="0.08"/><rect x="534.91" y="81" width="3.08" height="1.05" opacity="0.05"/><rect x="532.01" y="81" width="17.69" height="1.05" opacity="0.11"/><rect x="534.1" y="81" width="16.1" height="1.05" opacity="0.13"/><rect x="530.5" y="82" width="14.97" height="1.05" opacity="0.02"/><rect x="539.38" y="83" width="3.31" height="1.05" opacity="0.08"/><rect x="533.36" y="83" width="17.03" height="1.05" opacity="0.09"/><rect x="531.95" y="83" width="15.56" height="1.05" opacity="0.03"/><rect x="530.92" y="84" width="5.21" height="1.05" opacity="0.05"/><rect x="532.35" y="84" width="19.36" height="1.05" opacity="0.06"/><rect x="536" y="85" width="5.54" height="1.05" opacity="0.08"/><rect x="541.67" y="85" width="5.47" height="1.05" opacity="0.07"/><rect x="529.7" y="86" width="20.2" height="1.05" opacity="0.08"/><rect x="534.82" y="87" width="8.79" height="1.05" opacity="0.13"/><rect x="530.11" y="88" width="18.07" height="1.05" opacity="0.09"/><rect x="541.01" y="88" width="8.47" height="1.05" opacity="0.13"/><rect x="541.01" y="89" width="3.42" height="1.05" opacity="0.03"/><rect x="529.59" y="89" width="20.92" height="1.05" opacity="0.04"/><rect x="529.95" y="90" width="3.91" height="1.05" opacity="0.14"/><rect x="529.5" y="90" width="11.5" height="1.05" opacity="0.22"/><rect x="542.8" y="91" width="7.1" height="1.05" opacity="0.15"/><rect x="544.85" y="92" width="2.99" height="1.05" opacity="0.09"/><rect x="544.14" y="92" width="3.45" height="1.05" opacity="0.16"/><rect x="532.82" y="93" width="18.99" height="1.05" opacity="0.06"/><rect x="532.16" y="94" width="19.47" height="1.05" opacity="0.06"/><rect x="532" y="95" width="17.02" height="1.05" opacity="0.04"/><rect x="529.5" y="95" width="23" height="1.05" opacity="0.28"/><rect x="542.64" y="96" width="5.42" height="1.05" opacity="0.06"/><rect x="539.86" y="96" width="7.63" height="1.05" opacity="0.1"/><rect x="531.66" y="97" width="8.54" height="1.05" opacity="0.05"/><rect x="536.92" y="97" width="8.66" height="1.05" opacity="0.07"/><rect x="530.84" y="98" width="16.26" height="1.05" opacity="0.09"/><rect x="534.38" y="98" width="15.94" height="1.05" opacity="0.11"/><rect x="544.51" y="99" width="5.42" height="1.05" opacity="0.11"/><rect x="533.81" y="100" width="14.01" height="1.05" opacity="0.06"/><rect x="531.8" y="100" width="11.5" height="1.05" opacity="0.17"/><rect x="534.33" y="101" width="16.76" height="1.05" opacity="0.03"/><rect x="531.23" y="102" width="19.31" height="1.05" opacity="0.14"/><rect x="537.51" y="102" width="6.35" height="1.05" opacity="0.14"/><rect x="542.46" y="102" width="5.34" height="1.05" opacity="0.16"/><rect x="534.55" y="103" width="15.96" height="1.05" opacity="0.1"/><rect x="533.07" y="103" width="8.26" height="1.05" opacity="0.07"/><rect x="531.83" y="104" width="20.28" height="1.05" opacity="0.12"/><rect x="537.21" y="105" width="4.78" height="1.05" opacity="0.14"/><rect x="529.95" y="106" width="21.47" height="1.05" opacity="0.07"/><rect x="536.4" y="106" width="13.8" height="1.05" opacity="0.16"/><rect x="536.26" y="107" width="2.8" height="1.05" opacity="0.09"/><rect x="533.75" y="107" width="15.73" height="1.05" opacity="0.13"/><rect x="531.73" y="108" width="14.9" height="1.05" opacity="0.12"/><rect x="530.89" y="109" width="8.61" height="1.05" opacity="0.17"/><rect x="529.5" y="109" width="23" height="1.05" opacity="0.23"/><rect x="534.04" y="110" width="7.64" height="1.05" opacity="0.14"/><rect x="543.47" y="111" width="4.47" height="1.05" opacity="0.17"/><rect x="531.4" y="111" width="6.21" height="1.05" opacity="0.11"/><rect x="538.49" y="112" width="7.13" height="1.05" opacity="0.07"/><rect x="546.49" y="113" width="3.91" height="1.05" opacity="0.11"/><rect x="529.59" y="113" width="22.37" height="1.05" opacity="0.08"/><rect x="540.29" y="114" width="6.33" height="1.05" opacity="0.1"/><rect x="530.02" y="114" width="15.42" height="1.05" opacity="0.13"/><rect x="530.36" y="115" width="20.6" height="1.05" opacity="0.07"/><rect x="529.55" y="115" width="21.83" height="1.05" opacity="0.1"/><rect x="535.48" y="116" width="5.04" height="1.05" opacity="0.08"/><rect x="543.3" y="116" width="9.2" height="1.05" opacity="0.25"/><rect x="544.72" y="117" width="5.03" height="1.05" opacity="0.05"/><rect x="530.43" y="117" width="14.72" height="1.05" opacity="0.14"/><rect x="532.61" y="118" width="15.54" height="1.05" opacity="0.15"/><rect x="538.63" y="118" width="7.58" height="1.05" opacity="0.05"/><rect x="531.97" y="119" width="18.65" height="1.05" opacity="0.06"/><rect x="531.8" y="119" width="13.8" height="1.05" opacity="0.21"/><rect x="545.6" y="120" width="2.95" height="1.05" opacity="0.18"/><rect x="531.9" y="121" width="18.88" height="1.05" opacity="0.12"/><rect x="534.24" y="121" width="7.18" height="1.05" opacity="0.13"/><rect x="532.17" y="121" width="19.33" height="1.05" opacity="0.03"/><rect x="538.44" y="122" width="5.93" height="1.05" opacity="0.09"/><rect x="529.66" y="122" width="18.67" height="1.05" opacity="0.08"/><rect x="533.33" y="123" width="19.01" height="1.05" opacity="0.15"/><rect x="530.69" y="123" width="21.09" height="1.05" opacity="0.04"/><rect x="529.5" y="123" width="16.1" height="1.05" opacity="0.34"/><rect x="534.07" y="124" width="14.52" height="1.05" opacity="0.18"/><rect x="531.62" y="125" width="7.23" height="1.05" opacity="0.17"/><rect x="534.1" y="125" width="18.4" height="1.05" opacity="0.23"/><rect x="541.06" y="126" width="7.37" height="1.05" opacity="0.09"/><rect x="541.77" y="126" width="8.76" height="1.05" opacity="0.09"/><rect x="529.85" y="127" width="14.8" height="1.05" opacity="0.04"/><rect x="533.34" y="127" width="15.28" height="1.05" opacity="0.14"/><rect x="530.48" y="128" width="19.77" height="1.05" opacity="0.08"/><rect x="532.69" y="128" width="5.35" height="1.05" opacity="0.18"/><rect x="529.5" y="128" width="23" height="1.05" opacity="0.24"/><rect x="532.56" y="129" width="17.21" height="1.05" opacity="0.09"/><rect x="531.42" y="129" width="13.82" height="1.05" opacity="0.12"/><rect x="531.05" y="130" width="15.6" height="1.05" opacity="0.06"/></g>
<use href="#h2" y="61" opacity="0.76"/><use href="#h2" y="62" opacity="0.58"/><use href="#h2" y="63" opacity="0.34"/><use href="#h2" y="64" opacity="0.41"/><use href="#h2" y="65" opacity="0.47"/><use href="#h2" y="66" opacity="0.25"/><use href="#h2" y="67" opacity="0.09"/><use href="#h2" y="68" opacity="0.44"/><use href="#h2" y="69" opacity="0.34"/><use href="#h2" y="70" opacity="0.27"/><use href="#h2" y="71" opacity="0.66"/><use href="#h2" y="72" opacity="0.45"/><use href="#h2" y="73" opacity="0.64"/><use href="#h2" y="74" opacity="0.47"/><use href="#h2" y="75" opacity="0.59"/><use href="#h2" y="76" opacity="0.27"/><use href="#h2" y="77" opacity="0.43"/><use href="#h2" y="78" opacity="0.62"/><use href="#h2" y="79" opacity="0.57"/><use href="#h2" y="80" opacity="0.58"/><use href="#h2" y="81" opacity="0.71"/><use href="#h2" y="82" opacity="0.55"/><use href="#h2" y="83" opacity="0.52"/><use href="#h2" y="84" opacity="0.52"/><use href="#h2" y="85" opacity="0.39"/><use href="#h2" y="86" opacity="0.18"/><use href="#h2" y="87" opacity="0.62"/><use href="#h2" y="88" opacity="0.49"/><use href="#h2" y="89" opacity="0.61"/><use href="#h2" y="90" opacity="0.95"/><use href="#h2" y="91" opacity="0.68"/><use href="#h2" y="92" opacity="0.87"/><use href="#h2" y="93" opacity="0.53"/><use href="#h2" y="94" opacity="0.72"/><use href="#h2" y="95" opacity="1"/><use href="#h2" y="96" opacity="0.77"/><use href="#h2" y="97" opacity="0.88"/><use href="#h2" y="98" opacity="0.39"/><use href="#h2" y="99" opacity="0.23"/><use href="#h2" y="100" opacity="0.82"/><use href="#h2" y="101" opacity="0.63"/><use href="#h2" y="102" opacity="0.57"/><use href="#h2" y="103" opacity="0.61"/><use href="#h2" y="104" opacity="0.45"/><use href="#h2" y="105" opacity="0.53"/><use href="#h2" y="106" opacity="0.93"/><use href="#h2" y="107" opacity="0.61"/><use href="#h2" y="108" opacity="0.59"/><use href="#h2" y="109" opacity="1"/><use href="#h2" y="110" opacity="0.75"/><use href="#h2" y="111" opacity="0.73"/><use href="#h2" y="112" opacity="0.87"/><use href="#h2" y="113" opacity="0.86"/><use href="#h2" y="114" opacity="1"/><use href="#h2" y="115" opacity="0.87"/><use href="#h2" y="116" opacity="0.75"/><use href="#h2" y="117" opacity="0.83"/><use href="#h2" y="118" opacity="0.95"/><use href="#h2" y="119" opacity="0.94"/><use href="#h2" y="120" opacity="0.86"/><use href="#h2" y="121" opacity="0.78"/><use href="#h2" y="122" opacity="0.47"/><use href="#h2" y="123" opacity="1"/><use href="#h2" y="124" opacity="0.98"/><use href="#h2" y="125" opacity="1"/><use href="#h2" y="126" opacity="0.86"/><use href="#h2" y="127" opacity="0.65"/><use href="#h2" y="128" opacity="1"/><use href="#h2" y="129" opacity="1"/><use href="#h2" y="130" opacity="0.82"/>
<rect x="529.5" y="61" width="23" height="70" fill="none" stroke="#8a8a8a" stroke-width="1"/>
<rect x="529.5" y="133.5" width="23" height="63" fill="#fff"/>
<rect x="529.5" y="133.5" width="23" height="63" fill="#e2339a" opacity="0.01"/>
<g fill="#e2339a"><rect x="529.54" y="133.5" width="19.12" height="1.05" opacity="0.01"/><rect x="529.58" y="133.5" width="22.59" height="1.05" opacity="0.05"/><rect x="535.89" y="134.5" width="4.98" height="1.05" opacity="0.06"/><rect x="544.13" y="134.5" width="3.46" height="1.05" opacity="0.08"/><rect x="548.42" y="134.5" width="3" height="1.05" opacity="0.03"/><rect x="534.37" y="135.5" width="8.67" height="1.05" opacity="0.08"/><rect x="530.62" y="136.5" width="16.71" height="1.05" opacity="0.02"/><rect x="532.35" y="136.5" width="20.14" height="1.05" opacity="0.02"/><rect x="536.32" y="137.5" width="6.2" height="1.05" opacity="0.03"/><rect x="536.8" y="138.5" width="5.69" height="1.05" opacity="0.03"/><rect x="539.39" y="138.5" width="2.97" height="1.05" opacity="0.08"/><rect x="538.4" y="139.5" width="8.88" height="1.05" opacity="0.07"/><rect x="531.8" y="139.5" width="4.6" height="1.05" opacity="0.11"/><rect x="536.11" y="140.5" width="15.17" height="1.05" opacity="0.03"/><rect x="543.9" y="141.5" width="8.25" height="1.05" opacity="0.05"/><rect x="530.69" y="141.5" width="20.51" height="1.05" opacity="0.03"/><rect x="535.17" y="142.5" width="17.27" height="1.05" opacity="0.08"/><rect x="530.04" y="143.5" width="16.91" height="1.05" opacity="0.03"/><rect x="534.79" y="143.5" width="8.35" height="1.05" opacity="0.07"/><rect x="541.63" y="144.5" width="7.04" height="1.05" opacity="0.05"/><rect x="538.45" y="144.5" width="4.57" height="1.05" opacity="0.07"/><rect x="529.83" y="145.5" width="22.5" height="1.05" opacity="0.05"/><rect x="530.54" y="145.5" width="18.83" height="1.05" opacity="0.05"/><rect x="536.4" y="145.5" width="16.1" height="1.05" opacity="0.1"/><rect x="542.32" y="146.5" width="6.93" height="1.05" opacity="0.04"/><rect x="542.33" y="146.5" width="7.51" height="1.05" opacity="0.05"/><rect x="544.93" y="147.5" width="7.19" height="1.05" opacity="0.08"/><rect x="530.22" y="147.5" width="18.67" height="1.05" opacity="0.05"/><rect x="531.54" y="148.5" width="20.16" height="1.05" opacity="0.07"/><rect x="530.67" y="148.5" width="20.98" height="1.05" opacity="0.05"/><rect x="532.18" y="148.5" width="19.54" height="1.05" opacity="0.06"/><rect x="532.91" y="149.5" width="15.27" height="1.05" opacity="0.06"/><rect x="531.32" y="149.5" width="20.11" height="1.05" opacity="0.02"/><rect x="530.66" y="150.5" width="14.3" height="1.05" opacity="0.04"/><rect x="529.76" y="150.5" width="15.58" height="1.05" opacity="0.04"/><rect x="533.41" y="151.5" width="6.56" height="1.05" opacity="0.07"/><rect x="532.22" y="152.5" width="16.36" height="1.05" opacity="0.02"/><rect x="534.94" y="153.5" width="14.13" height="1.05" opacity="0.02"/><rect x="533.03" y="153.5" width="16.92" height="1.05" opacity="0.06"/><rect x="530.61" y="154.5" width="21.28" height="1.05" opacity="0.03"/><rect x="531.6" y="154.5" width="19.28" height="1.05" opacity="0.06"/><rect x="545.56" y="155.5" width="5.02" height="1.05" opacity="0.02"/><rect x="531.96" y="155.5" width="19.01" height="1.05" opacity="0.02"/><rect x="534.95" y="155.5" width="8.5" height="1.05" opacity="0.04"/><rect x="529.6" y="156.5" width="22.75" height="1.05" opacity="0.07"/><rect x="547.71" y="157.5" width="4.43" height="1.05" opacity="0.04"/><rect x="535.67" y="157.5" width="16.74" height="1.05" opacity="0.05"/><rect x="530.09" y="157.5" width="18.19" height="1.05" opacity="0.04"/><rect x="531.16" y="158.5" width="20.99" height="1.05" opacity="0.01"/><rect x="529.97" y="159.5" width="22.4" height="1.05" opacity="0.02"/><rect x="537.19" y="159.5" width="15.22" height="1.05" opacity="0.03"/><rect x="531.47" y="160.5" width="19.73" height="1.05" opacity="0.06"/><rect x="530.16" y="160.5" width="20.8" height="1.05" opacity="0.05"/><rect x="541" y="160.5" width="9.2" height="1.05" opacity="0.11"/><rect x="531.51" y="161.5" width="18.67" height="1.05" opacity="0.03"/><rect x="534.55" y="162.5" width="2.99" height="1.05" opacity="0.05"/><rect x="537.42" y="162.5" width="8.48" height="1.05" opacity="0.02"/><rect x="532.26" y="163.5" width="19.1" height="1.05" opacity="0.06"/><rect x="529.81" y="163.5" width="22.19" height="1.05" opacity="0.04"/><rect x="534.87" y="164.5" width="16.53" height="1.05" opacity="0.02"/><rect x="536.32" y="164.5" width="7.23" height="1.05" opacity="0.03"/><rect x="531.55" y="164.5" width="8.62" height="1.05" opacity="0.05"/><rect x="530.45" y="165.5" width="16.84" height="1.05" opacity="0.05"/><rect x="534.05" y="165.5" width="3.2" height="1.05" opacity="0.06"/><rect x="544.01" y="166.5" width="2.92" height="1.05" opacity="0.09"/><rect x="530.27" y="166.5" width="7.28" height="1.05" opacity="0.08"/><rect x="539.55" y="167.5" width="8.89" height="1.05" opacity="0.03"/><rect x="541.27" y="168.5" width="3.72" height="1.05" opacity="0.04"/><rect x="531.66" y="169.5" width="3.04" height="1.05" opacity="0.04"/><rect x="532.4" y="170.5" width="19.09" height="1.05" opacity="0.06"/><rect x="533.28" y="171.5" width="16.69" height="1.05" opacity="0.05"/><rect x="535.56" y="172.5" width="14.31" height="1.05" opacity="0.02"/><rect x="544.96" y="172.5" width="6.02" height="1.05" opacity="0.06"/><rect x="539.73" y="172.5" width="4.46" height="1.05" opacity="0.04"/><rect x="538.7" y="172.5" width="4.6" height="1.05" opacity="0.16"/><rect x="531.37" y="173.5" width="15.03" height="1.05" opacity="0.04"/><rect x="543.11" y="173.5" width="3.91" height="1.05" opacity="0.06"/><rect x="531.95" y="174.5" width="3.35" height="1.05" opacity="0.06"/><rect x="535.04" y="175.5" width="5.85" height="1.05" opacity="0.08"/><rect x="532.5" y="176.5" width="3.11" height="1.05" opacity="0.08"/><rect x="537.41" y="177.5" width="14.87" height="1.05" opacity="0.05"/><rect x="541.58" y="177.5" width="3.66" height="1.05" opacity="0.03"/><rect x="530.74" y="178.5" width="19.45" height="1.05" opacity="0.04"/><rect x="542.43" y="179.5" width="6.93" height="1.05" opacity="0.04"/><rect x="536.4" y="179.5" width="11.5" height="1.05" opacity="0.12"/><rect x="531.65" y="180.5" width="19.25" height="1.05" opacity="0.05"/><rect x="529.78" y="180.5" width="14.69" height="1.05" opacity="0.03"/><rect x="529.99" y="180.5" width="21.98" height="1.05" opacity="0.06"/><rect x="530.13" y="181.5" width="21.99" height="1.05" opacity="0.04"/><rect x="530.74" y="182.5" width="15.22" height="1.05" opacity="0.03"/><rect x="529.67" y="182.5" width="21.9" height="1.05" opacity="0.02"/><rect x="531.04" y="183.5" width="16.44" height="1.05" opacity="0.04"/><rect x="546.26" y="184.5" width="5.14" height="1.05" opacity="0.05"/><rect x="529.5" y="184.5" width="6.9" height="1.05" opacity="0.12"/><rect x="529.56" y="185.5" width="22.5" height="1.05" opacity="0.05"/><rect x="531.68" y="185.5" width="20.01" height="1.05" opacity="0.02"/><rect x="530.05" y="186.5" width="15.92" height="1.05" opacity="0.03"/><rect x="534.1" y="186.5" width="9.2" height="1.05" opacity="0.14"/><rect x="532.46" y="187.5" width="16.67" height="1.05" opacity="0.03"/><rect x="532.05" y="187.5" width="7.38" height="1.05" opacity="0.03"/><rect x="538.66" y="187.5" width="8.82" height="1.05" opacity="0.04"/><rect x="536.23" y="188.5" width="14.36" height="1.05" opacity="0.04"/><rect x="533.61" y="188.5" width="18.85" height="1.05" opacity="0.04"/><rect x="530.09" y="188.5" width="14.66" height="1.05" opacity="0.06"/><rect x="534.34" y="189.5" width="3.11" height="1.05" opacity="0.02"/><rect x="531.71" y="189.5" width="14.35" height="1.05" opacity="0.04"/><rect x="538.1" y="190.5" width="14.15" height="1.05" opacity="0.02"/><rect x="529.86" y="191.5" width="18.69" height="1.05" opacity="0.03"/><rect x="533.38" y="191.5" width="18.79" height="1.05" opacity="0.06"/><rect x="534.38" y="192.5" width="13.96" height="1.05" opacity="0.04"/><rect x="540.64" y="192.5" width="5.19" height="1.05" opacity="0.06"/><rect x="537.7" y="192.5" width="4.74" height="1.05" opacity="0.07"/><rect x="530.65" y="192.5" width="5.75" height="1.05" opacity="0.15"/><rect x="530.05" y="193.5" width="16.67" height="1.05" opacity="0.05"/><rect x="530.16" y="194.5" width="14.99" height="1.05" opacity="0.03"/><rect x="532.53" y="194.5" width="17.74" height="1.05" opacity="0.03"/><rect x="536.4" y="194.5" width="9.2" height="1.05" opacity="0.12"/><rect x="533.48" y="195.5" width="3.07" height="1.05" opacity="0.04"/></g>
<use href="#h2" y="133.5" opacity="0.19"/><use href="#h2" y="134.5" opacity="0.19"/><use href="#h2" y="135.5" opacity="0.23"/><use href="#h2" y="136.5" opacity="0.27"/><use href="#h2" y="137.5" opacity="0.22"/><use href="#h2" y="138.5" opacity="0.28"/><use href="#h2" y="139.5" opacity="0.13"/><use href="#h2" y="140.5" opacity="0.14"/><use href="#h2" y="141.5" opacity="0.24"/><use href="#h2" y="142.5" opacity="0.21"/><use href="#h2" y="143.5" opacity="0.24"/><use href="#h2" y="144.5" opacity="0.12"/><use href="#h2" y="145.5" opacity="0.14"/><use href="#h2" y="146.5" opacity="0.1"/><use href="#h2" y="147.5" opacity="0.14"/><use href="#h2" y="148.5" opacity="0.17"/><use href="#h2" y="149.5" opacity="0.07"/><use href="#h2" y="150.5" opacity="0.06"/><use href="#h2" y="151.5" opacity="0.08"/><use href="#h2" y="152.5" opacity="0.2"/><use href="#h2" y="153.5" opacity="0.22"/><use href="#h2" y="154.5" opacity="0.12"/><use href="#h2" y="155.5" opacity="0.21"/><use href="#h2" y="156.5" opacity="0.23"/><use href="#h2" y="157.5" opacity="0.16"/><use href="#h2" y="158.5" opacity="0.08"/><use href="#h2" y="159.5" opacity="0.03"/><use href="#h2" y="160.5" opacity="0.26"/><use href="#h2" y="161.5" opacity="0.17"/><use href="#h2" y="162.5" opacity="0.08"/><use href="#h2" y="163.5" opacity="0.21"/><use href="#h2" y="164.5" opacity="0.23"/><use href="#h2" y="165.5" opacity="0.14"/><use href="#h2" y="166.5" opacity="0.22"/><use href="#h2" y="167.5" opacity="0.19"/><use href="#h2" y="168.5" opacity="0.2"/><use href="#h2" y="169.5" opacity="0.11"/><use href="#h2" y="170.5" opacity="0.23"/><use href="#h2" y="171.5" opacity="0.23"/><use href="#h2" y="172.5" opacity="0.41"/><use href="#h2" y="173.5" opacity="0.33"/><use href="#h2" y="174.5" opacity="0.15"/><use href="#h2" y="175.5" opacity="0.14"/><use href="#h2" y="176.5" opacity="0.09"/><use href="#h2" y="177.5" opacity="0.05"/><use href="#h2" y="178.5" opacity="0.04"/><use href="#h2" y="179.5" opacity="0.26"/><use href="#h2" y="180.5" opacity="0.2"/><use href="#h2" y="181.5" opacity="0.05"/><use href="#h2" y="182.5" opacity="0.16"/><use href="#h2" y="183.5" opacity="0.11"/><use href="#h2" y="184.5" opacity="0.16"/><use href="#h2" y="185.5" opacity="0.19"/><use href="#h2" y="186.5" opacity="0.32"/><use href="#h2" y="187.5" opacity="0.24"/><use href="#h2" y="188.5" opacity="0.25"/><use href="#h2" y="189.5" opacity="0.21"/><use href="#h2" y="190.5" opacity="0.08"/><use href="#h2" y="191.5" opacity="0.2"/><use href="#h2" y="192.5" opacity="0.14"/><use href="#h2" y="193.5" opacity="0.17"/><use href="#h2" y="194.5" opacity="0.37"/><use href="#h2" y="195.5" opacity="0.27"/>
<rect x="529.5" y="133.5" width="23" height="63" fill="none" stroke="#8a8a8a" stroke-width="1"/>
<rect x="554.5" y="33.5" width="23" height="26" fill="#fff" stroke="#8f8f8f" stroke-width="1" rx="0.8"/>
<polyline points="555.2,56.75 555.67,56.73 556.14,56.7 556.61,56.66 557.08,56.62 557.55,56.58 558.02,56.52 558.49,56.45 558.96,56.37 559.43,56.27 559.9,56.15 560.37,56 560.83,55.8 561.3,55.55 561.77,55.23 562.24,54.79 562.71,54.21 563.18,53.41 563.65,52.31 564.12,50.82 564.59,48.88 565.06,46.63 565.53,44.63 566,43.8 566.47,44.63 566.94,46.63 567.41,48.88 567.88,50.82 568.35,52.31 568.82,53.41 569.29,54.21 569.76,54.79 570.23,55.23 570.7,55.55 571.17,55.8 571.63,56 572.1,56.15 572.57,56.27 573.04,56.37 573.51,56.45 573.98,56.52 574.45,56.58 574.92,56.62 575.39,56.66 575.86,56.7 576.33,56.73 576.8,56.75" fill="none" stroke="#5cc8ea" stroke-width="1.3" stroke-linejoin="round"/>
<polyline points="555.2,56.53 555.67,56.5 556.14,56.47 556.61,56.43 557.08,56.39 557.55,56.33 558.02,56.27 558.49,56.2 558.96,56.11 559.43,56.01 559.9,55.88 560.37,55.72 560.83,55.52 561.3,55.27 561.77,54.94 562.24,54.52 562.71,53.97 563.18,53.24 563.65,52.3 564.12,51.1 564.59,49.65 565.06,48.13 565.53,46.89 566,46.4 566.47,46.89 566.94,48.13 567.41,49.65 567.88,51.1 568.35,52.3 568.82,53.24 569.29,53.97 569.76,54.52 570.23,54.94 570.7,55.27 571.17,55.52 571.63,55.72 572.1,55.88 572.57,56.01 573.04,56.11 573.51,56.2 573.98,56.27 574.45,56.33 574.92,56.39 575.39,56.43 575.86,56.47 576.33,56.5 576.8,56.53" fill="none" stroke="#2e3192" stroke-width="0.8" stroke-linejoin="round"/>
<rect x="554.5" y="61" width="23" height="70" fill="#fff"/>
<rect x="554.5" y="61" width="23" height="70" fill="#4b2e9e" opacity="0.03"/>
<g fill="#4b2e9e"><rect x="559.49" y="61" width="16.5" height="1.05" opacity="0.04"/><rect x="568.83" y="62" width="3.05" height="1.05" opacity="0.03"/><rect x="571.46" y="63" width="6.01" height="1.05" opacity="0.02"/><rect x="554.62" y="63" width="19.32" height="1.05" opacity="0.02"/><rect x="555.06" y="63" width="19.42" height="1.05" opacity="0.01"/><rect x="554.84" y="64" width="22.62" height="1.05" opacity="0.02"/><rect x="557.34" y="64" width="18.58" height="1.05" opacity="0.03"/><rect x="569.78" y="64" width="6.75" height="1.05" opacity="0.04"/><rect x="560.13" y="65" width="4.29" height="1.05" opacity="0.05"/><rect x="558.28" y="66" width="13.91" height="1.05" opacity="0.03"/><rect x="556.73" y="66" width="19.47" height="1.05" opacity="0.01"/><rect x="555.54" y="67" width="20.05" height="1.05" opacity="0.04"/><rect x="555.72" y="67" width="2.9" height="1.05" opacity="0.04"/><rect x="557.46" y="68" width="18" height="1.05" opacity="0.02"/><rect x="556.83" y="68" width="16.68" height="1.05" opacity="0.03"/><rect x="558.93" y="68" width="17.27" height="1.05" opacity="0.01"/><rect x="558.56" y="69" width="4.76" height="1.05" opacity="0.05"/><rect x="557.75" y="69" width="15.52" height="1.05" opacity="0.04"/><rect x="559.61" y="70" width="16.87" height="1.05" opacity="0.03"/><rect x="558.47" y="71" width="16.9" height="1.05" opacity="0.05"/><rect x="555.36" y="71" width="15.87" height="1.05" opacity="0.03"/><rect x="555.99" y="71" width="21.22" height="1.05" opacity="0.02"/><rect x="555.65" y="71" width="6.9" height="1.05" opacity="0.1"/><rect x="567.49" y="72" width="6.89" height="1.05" opacity="0.03"/><rect x="555.01" y="73" width="21.1" height="1.05" opacity="0.03"/><rect x="561.4" y="73" width="11.5" height="1.05" opacity="0.05"/><rect x="559.5" y="74" width="17.57" height="1.05" opacity="0.02"/><rect x="568.88" y="75" width="8.43" height="1.05" opacity="0.04"/><rect x="568.52" y="76" width="4.19" height="1.05" opacity="0.07"/><rect x="559.38" y="76" width="6.1" height="1.05" opacity="0.03"/><rect x="559.55" y="76" width="14.43" height="1.05" opacity="0.03"/><rect x="555.12" y="77" width="22.11" height="1.05" opacity="0.06"/><rect x="562.83" y="77" width="8.55" height="1.05" opacity="0.02"/><rect x="558.77" y="78" width="16.56" height="1.05" opacity="0.05"/><rect x="554.84" y="78" width="22.44" height="1.05" opacity="0.03"/><rect x="554.96" y="78" width="5.75" height="1.05" opacity="0.1"/><rect x="567.93" y="79" width="5.83" height="1.05" opacity="0.03"/><rect x="554.79" y="80" width="21.31" height="1.05" opacity="0.07"/><rect x="554.61" y="81" width="8.06" height="1.05" opacity="0.06"/><rect x="559.91" y="81" width="3.08" height="1.05" opacity="0.04"/><rect x="557.01" y="81" width="17.69" height="1.05" opacity="0.07"/><rect x="559.1" y="81" width="16.1" height="1.05" opacity="0.1"/><rect x="555.5" y="82" width="14.97" height="1.05" opacity="0.02"/><rect x="564.38" y="83" width="3.31" height="1.05" opacity="0.04"/><rect x="558.36" y="83" width="17.03" height="1.05" opacity="0.05"/><rect x="556.95" y="83" width="15.56" height="1.05" opacity="0.02"/><rect x="555.92" y="84" width="5.21" height="1.05" opacity="0.03"/><rect x="557.35" y="84" width="19.36" height="1.05" opacity="0.03"/><rect x="561" y="85" width="5.54" height="1.05" opacity="0.05"/><rect x="566.67" y="85" width="5.47" height="1.05" opacity="0.06"/><rect x="554.7" y="86" width="20.2" height="1.05" opacity="0.04"/><rect x="559.82" y="87" width="8.79" height="1.05" opacity="0.09"/><rect x="555.11" y="88" width="18.07" height="1.05" opacity="0.08"/><rect x="566.01" y="88" width="8.47" height="1.05" opacity="0.06"/><rect x="566.01" y="89" width="3.42" height="1.05" opacity="0.02"/><rect x="554.59" y="89" width="20.92" height="1.05" opacity="0.03"/><rect x="554.95" y="90" width="3.91" height="1.05" opacity="0.08"/><rect x="554.5" y="90" width="11.5" height="1.05" opacity="0.13"/><rect x="567.8" y="91" width="7.1" height="1.05" opacity="0.09"/><rect x="569.85" y="92" width="2.99" height="1.05" opacity="0.06"/><rect x="569.14" y="92" width="3.45" height="1.05" opacity="0.08"/><rect x="557.82" y="93" width="18.99" height="1.05" opacity="0.03"/><rect x="557.16" y="94" width="19.47" height="1.05" opacity="0.04"/><rect x="557" y="95" width="17.02" height="1.05" opacity="0.03"/><rect x="554.5" y="95" width="23" height="1.05" opacity="0.21"/><rect x="567.64" y="96" width="5.42" height="1.05" opacity="0.03"/><rect x="564.86" y="96" width="7.63" height="1.05" opacity="0.07"/><rect x="556.66" y="97" width="8.54" height="1.05" opacity="0.04"/><rect x="561.92" y="97" width="8.66" height="1.05" opacity="0.06"/><rect x="555.84" y="98" width="16.26" height="1.05" opacity="0.05"/><rect x="559.38" y="98" width="15.94" height="1.05" opacity="0.09"/><rect x="569.51" y="99" width="5.42" height="1.05" opacity="0.07"/><rect x="558.81" y="100" width="14.01" height="1.05" opacity="0.06"/><rect x="556.8" y="100" width="11.5" height="1.05" opacity="0.12"/><rect x="559.33" y="101" width="16.76" height="1.05" opacity="0.04"/><rect x="556.23" y="102" width="19.31" height="1.05" opacity="0.07"/><rect x="562.51" y="102" width="6.35" height="1.05" opacity="0.1"/><rect x="567.46" y="102" width="5.34" height="1.05" opacity="0.12"/><rect x="559.55" y="103" width="15.96" height="1.05" opacity="0.07"/><rect x="558.07" y="103" width="8.26" height="1.05" opacity="0.04"/><rect x="556.83" y="104" width="20.28" height="1.05" opacity="0.1"/><rect x="562.21" y="105" width="4.78" height="1.05" opacity="0.11"/><rect x="554.95" y="106" width="21.47" height="1.05" opacity="0.05"/><rect x="561.4" y="106" width="13.8" height="1.05" opacity="0.12"/><rect x="561.26" y="107" width="2.8" height="1.05" opacity="0.06"/><rect x="558.75" y="107" width="15.73" height="1.05" opacity="0.13"/><rect x="556.73" y="108" width="14.9" height="1.05" opacity="0.09"/><rect x="555.89" y="109" width="8.61" height="1.05" opacity="0.14"/><rect x="554.5" y="109" width="23" height="1.05" opacity="0.15"/><rect x="559.04" y="110" width="7.64" height="1.05" opacity="0.08"/><rect x="568.47" y="111" width="4.47" height="1.05" opacity="0.12"/><rect x="556.4" y="111" width="6.21" height="1.05" opacity="0.08"/><rect x="563.49" y="112" width="7.13" height="1.05" opacity="0.05"/><rect x="571.49" y="113" width="3.91" height="1.05" opacity="0.08"/><rect x="554.59" y="113" width="22.37" height="1.05" opacity="0.06"/><rect x="565.29" y="114" width="6.33" height="1.05" opacity="0.08"/><rect x="555.02" y="114" width="15.42" height="1.05" opacity="0.1"/><rect x="555.36" y="115" width="20.6" height="1.05" opacity="0.04"/><rect x="554.55" y="115" width="21.83" height="1.05" opacity="0.06"/><rect x="560.48" y="116" width="5.04" height="1.05" opacity="0.08"/><rect x="568.3" y="116" width="9.2" height="1.05" opacity="0.23"/><rect x="569.72" y="117" width="5.03" height="1.05" opacity="0.05"/><rect x="555.43" y="117" width="14.72" height="1.05" opacity="0.12"/><rect x="557.61" y="118" width="15.54" height="1.05" opacity="0.11"/><rect x="563.63" y="118" width="7.58" height="1.05" opacity="0.06"/><rect x="556.97" y="119" width="18.65" height="1.05" opacity="0.05"/><rect x="556.8" y="119" width="13.8" height="1.05" opacity="0.13"/><rect x="570.6" y="120" width="2.95" height="1.05" opacity="0.16"/><rect x="556.9" y="121" width="18.88" height="1.05" opacity="0.11"/><rect x="559.24" y="121" width="7.18" height="1.05" opacity="0.14"/><rect x="557.17" y="121" width="19.33" height="1.05" opacity="0.02"/><rect x="563.44" y="122" width="5.93" height="1.05" opacity="0.07"/><rect x="554.66" y="122" width="18.67" height="1.05" opacity="0.09"/><rect x="558.33" y="123" width="19.01" height="1.05" opacity="0.15"/><rect x="555.69" y="123" width="21.09" height="1.05" opacity="0.03"/><rect x="554.5" y="123" width="16.1" height="1.05" opacity="0.22"/><rect x="559.07" y="124" width="14.52" height="1.05" opacity="0.14"/><rect x="556.62" y="125" width="7.23" height="1.05" opacity="0.15"/><rect x="559.1" y="125" width="18.4" height="1.05" opacity="0.27"/><rect x="566.06" y="126" width="7.37" height="1.05" opacity="0.09"/><rect x="566.77" y="126" width="8.76" height="1.05" opacity="0.08"/><rect x="554.85" y="127" width="14.8" height="1.05" opacity="0.04"/><rect x="558.34" y="127" width="15.28" height="1.05" opacity="0.1"/><rect x="555.48" y="128" width="19.77" height="1.05" opacity="0.08"/><rect x="557.69" y="128" width="5.35" height="1.05" opacity="0.16"/><rect x="554.5" y="128" width="23" height="1.05" opacity="0.21"/><rect x="557.56" y="129" width="17.21" height="1.05" opacity="0.11"/><rect x="556.42" y="129" width="13.82" height="1.05" opacity="0.13"/><rect x="556.05" y="130" width="15.6" height="1.05" opacity="0.05"/></g>
<use href="#h3" y="61" opacity="0.35"/><use href="#h3" y="62" opacity="0.26"/><use href="#h3" y="63" opacity="0.16"/><use href="#h3" y="64" opacity="0.22"/><use href="#h3" y="65" opacity="0.25"/><use href="#h3" y="66" opacity="0.12"/><use href="#h3" y="67" opacity="0.05"/><use href="#h3" y="68" opacity="0.22"/><use href="#h3" y="69" opacity="0.18"/><use href="#h3" y="70" opacity="0.12"/><use href="#h3" y="71" opacity="0.32"/><use href="#h3" y="72" opacity="0.28"/><use href="#h3" y="73" opacity="0.35"/><use href="#h3" y="74" opacity="0.26"/><use href="#h3" y="75" opacity="0.3"/><use href="#h3" y="76" opacity="0.17"/><use href="#h3" y="77" opacity="0.25"/><use href="#h3" y="78" opacity="0.38"/><use href="#h3" y="79" opacity="0.3"/><use href="#h3" y="80" opacity="0.39"/><use href="#h3" y="81" opacity="0.45"/><use href="#h3" y="82" opacity="0.33"/><use href="#h3" y="83" opacity="0.31"/><use href="#h3" y="84" opacity="0.33"/><use href="#h3" y="85" opacity="0.24"/><use href="#h3" y="86" opacity="0.11"/><use href="#h3" y="87" opacity="0.35"/><use href="#h3" y="88" opacity="0.29"/><use href="#h3" y="89" opacity="0.41"/><use href="#h3" y="90" opacity="0.59"/><use href="#h3" y="91" opacity="0.46"/><use href="#h3" y="92" opacity="0.57"/><use href="#h3" y="93" opacity="0.41"/><use href="#h3" y="94" opacity="0.53"/><use href="#h3" y="95" opacity="0.8"/><use href="#h3" y="96" opacity="0.58"/><use href="#h3" y="97" opacity="0.65"/><use href="#h3" y="98" opacity="0.26"/><use href="#h3" y="99" opacity="0.18"/><use href="#h3" y="100" opacity="0.6"/><use href="#h3" y="101" opacity="0.53"/><use href="#h3" y="102" opacity="0.42"/><use href="#h3" y="103" opacity="0.49"/><use href="#h3" y="104" opacity="0.3"/><use href="#h3" y="105" opacity="0.35"/><use href="#h3" y="106" opacity="0.66"/><use href="#h3" y="107" opacity="0.42"/><use href="#h3" y="108" opacity="0.39"/><use href="#h3" y="109" opacity="0.77"/><use href="#h3" y="110" opacity="0.64"/><use href="#h3" y="111" opacity="0.57"/><use href="#h3" y="112" opacity="0.72"/><use href="#h3" y="113" opacity="0.77"/><use href="#h3" y="114" opacity="0.76"/><use href="#h3" y="115" opacity="0.64"/><use href="#h3" y="116" opacity="0.6"/><use href="#h3" y="117" opacity="0.7"/><use href="#h3" y="118" opacity="0.8"/><use href="#h3" y="119" opacity="0.77"/><use href="#h3" y="120" opacity="0.67"/><use href="#h3" y="121" opacity="0.69"/><use href="#h3" y="122" opacity="0.45"/><use href="#h3" y="123" opacity="1"/><use href="#h3" y="124" opacity="0.75"/><use href="#h3" y="125" opacity="1"/><use href="#h3" y="126" opacity="0.84"/><use href="#h3" y="127" opacity="0.58"/><use href="#h3" y="128" opacity="1"/><use href="#h3" y="129" opacity="0.89"/><use href="#h3" y="130" opacity="0.67"/>
<rect x="554.5" y="61" width="23" height="70" fill="none" stroke="#8a8a8a" stroke-width="1"/>
<rect x="554.5" y="133.5" width="23" height="63" fill="#fff"/>
<rect x="554.5" y="133.5" width="23" height="63" fill="#4b2e9e" opacity="0.03"/>
<g fill="#4b2e9e"><rect x="554.54" y="133.5" width="19.12" height="1.05" opacity="0.03"/><rect x="554.58" y="133.5" width="22.59" height="1.05" opacity="0.09"/><rect x="560.89" y="134.5" width="4.98" height="1.05" opacity="0.09"/><rect x="569.13" y="134.5" width="3.46" height="1.05" opacity="0.12"/><rect x="573.42" y="134.5" width="3" height="1.05" opacity="0.04"/><rect x="559.37" y="135.5" width="8.67" height="1.05" opacity="0.14"/><rect x="555.62" y="136.5" width="16.71" height="1.05" opacity="0.03"/><rect x="557.35" y="136.5" width="20.14" height="1.05" opacity="0.04"/><rect x="561.32" y="137.5" width="6.2" height="1.05" opacity="0.06"/><rect x="561.8" y="138.5" width="5.69" height="1.05" opacity="0.04"/><rect x="564.39" y="138.5" width="2.97" height="1.05" opacity="0.1"/><rect x="563.4" y="139.5" width="8.88" height="1.05" opacity="0.12"/><rect x="556.8" y="139.5" width="4.6" height="1.05" opacity="0.22"/><rect x="561.11" y="140.5" width="15.17" height="1.05" opacity="0.06"/><rect x="568.9" y="141.5" width="8.25" height="1.05" opacity="0.08"/><rect x="555.69" y="141.5" width="20.51" height="1.05" opacity="0.04"/><rect x="560.17" y="142.5" width="17.27" height="1.05" opacity="0.12"/><rect x="555.04" y="143.5" width="16.91" height="1.05" opacity="0.06"/><rect x="559.79" y="143.5" width="8.35" height="1.05" opacity="0.12"/><rect x="566.63" y="144.5" width="7.04" height="1.05" opacity="0.08"/><rect x="563.45" y="144.5" width="4.57" height="1.05" opacity="0.1"/><rect x="554.83" y="145.5" width="22.5" height="1.05" opacity="0.09"/><rect x="555.54" y="145.5" width="18.83" height="1.05" opacity="0.08"/><rect x="561.4" y="145.5" width="16.1" height="1.05" opacity="0.15"/><rect x="567.32" y="146.5" width="6.93" height="1.05" opacity="0.07"/><rect x="567.33" y="146.5" width="7.51" height="1.05" opacity="0.05"/><rect x="569.93" y="147.5" width="7.19" height="1.05" opacity="0.12"/><rect x="555.22" y="147.5" width="18.67" height="1.05" opacity="0.1"/><rect x="556.54" y="148.5" width="20.16" height="1.05" opacity="0.08"/><rect x="555.67" y="148.5" width="20.98" height="1.05" opacity="0.09"/><rect x="557.18" y="148.5" width="19.54" height="1.05" opacity="0.09"/><rect x="557.91" y="149.5" width="15.27" height="1.05" opacity="0.09"/><rect x="556.32" y="149.5" width="20.11" height="1.05" opacity="0.02"/><rect x="555.66" y="150.5" width="14.3" height="1.05" opacity="0.06"/><rect x="554.76" y="150.5" width="15.58" height="1.05" opacity="0.06"/><rect x="558.41" y="151.5" width="6.56" height="1.05" opacity="0.14"/><rect x="557.22" y="152.5" width="16.36" height="1.05" opacity="0.04"/><rect x="559.94" y="153.5" width="14.13" height="1.05" opacity="0.03"/><rect x="558.03" y="153.5" width="16.92" height="1.05" opacity="0.13"/><rect x="555.61" y="154.5" width="21.28" height="1.05" opacity="0.05"/><rect x="556.6" y="154.5" width="19.28" height="1.05" opacity="0.13"/><rect x="570.56" y="155.5" width="5.02" height="1.05" opacity="0.03"/><rect x="556.96" y="155.5" width="19.01" height="1.05" opacity="0.03"/><rect x="559.95" y="155.5" width="8.5" height="1.05" opacity="0.09"/><rect x="554.6" y="156.5" width="22.75" height="1.05" opacity="0.13"/><rect x="572.71" y="157.5" width="4.43" height="1.05" opacity="0.07"/><rect x="560.67" y="157.5" width="16.74" height="1.05" opacity="0.06"/><rect x="555.09" y="157.5" width="18.19" height="1.05" opacity="0.08"/><rect x="556.16" y="158.5" width="20.99" height="1.05" opacity="0.03"/><rect x="554.97" y="159.5" width="22.4" height="1.05" opacity="0.06"/><rect x="562.19" y="159.5" width="15.22" height="1.05" opacity="0.04"/><rect x="556.47" y="160.5" width="19.73" height="1.05" opacity="0.11"/><rect x="555.16" y="160.5" width="20.8" height="1.05" opacity="0.07"/><rect x="566" y="160.5" width="9.2" height="1.05" opacity="0.19"/><rect x="556.51" y="161.5" width="18.67" height="1.05" opacity="0.06"/><rect x="559.55" y="162.5" width="2.99" height="1.05" opacity="0.06"/><rect x="562.42" y="162.5" width="8.48" height="1.05" opacity="0.04"/><rect x="557.26" y="163.5" width="19.1" height="1.05" opacity="0.09"/><rect x="554.81" y="163.5" width="22.19" height="1.05" opacity="0.05"/><rect x="559.87" y="164.5" width="16.53" height="1.05" opacity="0.03"/><rect x="561.32" y="164.5" width="7.23" height="1.05" opacity="0.05"/><rect x="556.55" y="164.5" width="8.62" height="1.05" opacity="0.09"/><rect x="555.45" y="165.5" width="16.84" height="1.05" opacity="0.08"/><rect x="559.05" y="165.5" width="3.2" height="1.05" opacity="0.13"/><rect x="569.01" y="166.5" width="2.92" height="1.05" opacity="0.15"/><rect x="555.27" y="166.5" width="7.28" height="1.05" opacity="0.1"/><rect x="564.55" y="167.5" width="8.89" height="1.05" opacity="0.05"/><rect x="566.27" y="168.5" width="3.72" height="1.05" opacity="0.08"/><rect x="556.66" y="169.5" width="3.04" height="1.05" opacity="0.06"/><rect x="557.4" y="170.5" width="19.09" height="1.05" opacity="0.12"/><rect x="558.28" y="171.5" width="16.69" height="1.05" opacity="0.08"/><rect x="560.56" y="172.5" width="14.31" height="1.05" opacity="0.03"/><rect x="569.96" y="172.5" width="6.02" height="1.05" opacity="0.08"/><rect x="564.73" y="172.5" width="4.46" height="1.05" opacity="0.05"/><rect x="563.7" y="172.5" width="4.6" height="1.05" opacity="0.3"/><rect x="556.37" y="173.5" width="15.03" height="1.05" opacity="0.07"/><rect x="568.11" y="173.5" width="3.91" height="1.05" opacity="0.1"/><rect x="556.95" y="174.5" width="3.35" height="1.05" opacity="0.09"/><rect x="560.04" y="175.5" width="5.85" height="1.05" opacity="0.12"/><rect x="557.5" y="176.5" width="3.11" height="1.05" opacity="0.15"/><rect x="562.41" y="177.5" width="14.87" height="1.05" opacity="0.1"/><rect x="566.58" y="177.5" width="3.66" height="1.05" opacity="0.07"/><rect x="555.74" y="178.5" width="19.45" height="1.05" opacity="0.05"/><rect x="567.43" y="179.5" width="6.93" height="1.05" opacity="0.09"/><rect x="561.4" y="179.5" width="11.5" height="1.05" opacity="0.15"/><rect x="556.65" y="180.5" width="19.25" height="1.05" opacity="0.09"/><rect x="554.78" y="180.5" width="14.69" height="1.05" opacity="0.05"/><rect x="554.99" y="180.5" width="21.98" height="1.05" opacity="0.09"/><rect x="555.13" y="181.5" width="21.99" height="1.05" opacity="0.06"/><rect x="555.74" y="182.5" width="15.22" height="1.05" opacity="0.05"/><rect x="554.67" y="182.5" width="21.9" height="1.05" opacity="0.04"/><rect x="556.04" y="183.5" width="16.44" height="1.05" opacity="0.08"/><rect x="571.26" y="184.5" width="5.14" height="1.05" opacity="0.12"/><rect x="554.5" y="184.5" width="6.9" height="1.05" opacity="0.21"/><rect x="554.56" y="185.5" width="22.5" height="1.05" opacity="0.1"/><rect x="556.68" y="185.5" width="20.01" height="1.05" opacity="0.04"/><rect x="555.05" y="186.5" width="15.92" height="1.05" opacity="0.05"/><rect x="559.1" y="186.5" width="9.2" height="1.05" opacity="0.28"/><rect x="557.46" y="187.5" width="16.67" height="1.05" opacity="0.04"/><rect x="557.05" y="187.5" width="7.38" height="1.05" opacity="0.05"/><rect x="563.66" y="187.5" width="8.82" height="1.05" opacity="0.08"/><rect x="561.23" y="188.5" width="14.36" height="1.05" opacity="0.05"/><rect x="558.61" y="188.5" width="18.85" height="1.05" opacity="0.07"/><rect x="555.09" y="188.5" width="14.66" height="1.05" opacity="0.13"/><rect x="559.34" y="189.5" width="3.11" height="1.05" opacity="0.04"/><rect x="556.71" y="189.5" width="14.35" height="1.05" opacity="0.07"/><rect x="563.1" y="190.5" width="14.15" height="1.05" opacity="0.03"/><rect x="554.86" y="191.5" width="18.69" height="1.05" opacity="0.05"/><rect x="558.38" y="191.5" width="18.79" height="1.05" opacity="0.1"/><rect x="559.38" y="192.5" width="13.96" height="1.05" opacity="0.08"/><rect x="565.64" y="192.5" width="5.19" height="1.05" opacity="0.09"/><rect x="562.7" y="192.5" width="4.74" height="1.05" opacity="0.14"/><rect x="555.65" y="192.5" width="5.75" height="1.05" opacity="0.24"/><rect x="555.05" y="193.5" width="16.67" height="1.05" opacity="0.1"/><rect x="555.16" y="194.5" width="14.99" height="1.05" opacity="0.05"/><rect x="557.53" y="194.5" width="17.74" height="1.05" opacity="0.05"/><rect x="561.4" y="194.5" width="9.2" height="1.05" opacity="0.19"/><rect x="558.48" y="195.5" width="3.07" height="1.05" opacity="0.07"/></g>
<use href="#h3" y="133.5" opacity="0.45"/><use href="#h3" y="134.5" opacity="0.57"/><use href="#h3" y="135.5" opacity="0.63"/><use href="#h3" y="136.5" opacity="0.7"/><use href="#h3" y="137.5" opacity="0.69"/><use href="#h3" y="138.5" opacity="0.68"/><use href="#h3" y="139.5" opacity="0.31"/><use href="#h3" y="140.5" opacity="0.33"/><use href="#h3" y="141.5" opacity="0.6"/><use href="#h3" y="142.5" opacity="0.56"/><use href="#h3" y="143.5" opacity="0.63"/><use href="#h3" y="144.5" opacity="0.32"/><use href="#h3" y="145.5" opacity="0.39"/><use href="#h3" y="146.5" opacity="0.29"/><use href="#h3" y="147.5" opacity="0.4"/><use href="#h3" y="148.5" opacity="0.43"/><use href="#h3" y="149.5" opacity="0.18"/><use href="#h3" y="150.5" opacity="0.19"/><use href="#h3" y="151.5" opacity="0.22"/><use href="#h3" y="152.5" opacity="0.65"/><use href="#h3" y="153.5" opacity="0.66"/><use href="#h3" y="154.5" opacity="0.34"/><use href="#h3" y="155.5" opacity="0.55"/><use href="#h3" y="156.5" opacity="0.63"/><use href="#h3" y="157.5" opacity="0.41"/><use href="#h3" y="158.5" opacity="0.23"/><use href="#h3" y="159.5" opacity="0.1"/><use href="#h3" y="160.5" opacity="0.68"/><use href="#h3" y="161.5" opacity="0.52"/><use href="#h3" y="162.5" opacity="0.22"/><use href="#h3" y="163.5" opacity="0.6"/><use href="#h3" y="164.5" opacity="0.71"/><use href="#h3" y="165.5" opacity="0.45"/><use href="#h3" y="166.5" opacity="0.75"/><use href="#h3" y="167.5" opacity="0.57"/><use href="#h3" y="168.5" opacity="0.64"/><use href="#h3" y="169.5" opacity="0.34"/><use href="#h3" y="170.5" opacity="0.61"/><use href="#h3" y="171.5" opacity="0.57"/><use href="#h3" y="172.5" opacity="1"/><use href="#h3" y="173.5" opacity="1"/><use href="#h3" y="174.5" opacity="0.49"/><use href="#h3" y="175.5" opacity="0.4"/><use href="#h3" y="176.5" opacity="0.24"/><use href="#h3" y="177.5" opacity="0.17"/><use href="#h3" y="178.5" opacity="0.1"/><use href="#h3" y="179.5" opacity="0.86"/><use href="#h3" y="180.5" opacity="0.53"/><use href="#h3" y="181.5" opacity="0.17"/><use href="#h3" y="182.5" opacity="0.41"/><use href="#h3" y="183.5" opacity="0.38"/><use href="#h3" y="184.5" opacity="0.49"/><use href="#h3" y="185.5" opacity="0.61"/><use href="#h3" y="186.5" opacity="1"/><use href="#h3" y="187.5" opacity="0.73"/><use href="#h3" y="188.5" opacity="0.8"/><use href="#h3" y="189.5" opacity="0.64"/><use href="#h3" y="190.5" opacity="0.25"/><use href="#h3" y="191.5" opacity="0.67"/><use href="#h3" y="192.5" opacity="0.45"/><use href="#h3" y="193.5" opacity="0.6"/><use href="#h3" y="194.5" opacity="1"/><use href="#h3" y="195.5" opacity="0.86"/>
<rect x="554.5" y="133.5" width="23" height="63" fill="none" stroke="#8a8a8a" stroke-width="1"/>
<rect x="579.5" y="33.5" width="23" height="26" fill="#fff" stroke="#8f8f8f" stroke-width="1" rx="0.8"/>
<polyline points="580.2,56.77 580.67,56.74 581.14,56.72 581.61,56.68 582.08,56.65 582.55,56.6 583.02,56.55 583.49,56.49 583.96,56.41 584.43,56.32 584.9,56.2 585.37,56.06 585.83,55.87 586.3,55.64 586.77,55.33 587.24,54.93 587.71,54.38 588.18,53.62 588.65,52.59 589.12,51.19 589.59,49.37 590.06,47.26 590.53,45.38 591,44.6 591.47,45.38 591.94,47.26 592.41,49.37 592.88,51.19 593.35,52.59 593.82,53.62 594.29,54.38 594.76,54.93 595.23,55.33 595.7,55.64 596.17,55.87 596.63,56.06 597.1,56.2 597.57,56.32 598.04,56.41 598.51,56.49 598.98,56.55 599.45,56.6 599.92,56.65 600.39,56.68 600.86,56.72 601.33,56.74 601.8,56.77" fill="none" stroke="#5cc8ea" stroke-width="1.3" stroke-linejoin="round"/>
<polyline points="580.2,56.55 580.67,56.52 581.14,56.49 581.61,56.46 582.08,56.42 582.55,56.37 583.02,56.31 583.49,56.25 583.96,56.17 584.43,56.07 584.9,55.95 585.37,55.8 585.83,55.62 586.3,55.39 586.77,55.09 587.24,54.7 587.71,54.19 588.18,53.52 588.65,52.65 589.12,51.53 589.59,50.2 590.06,48.8 590.53,47.65 591,47.2 591.47,47.65 591.94,48.8 592.41,50.2 592.88,51.53 593.35,52.65 593.82,53.52 594.29,54.19 594.76,54.7 595.23,55.09 595.7,55.39 596.17,55.62 596.63,55.8 597.1,55.95 597.57,56.07 598.04,56.17 598.51,56.25 598.98,56.31 599.45,56.37 599.92,56.42 600.39,56.46 600.86,56.49 601.33,56.52 601.8,56.55" fill="none" stroke="#2e3192" stroke-width="0.8" stroke-linejoin="round"/>
<rect x="579.5" y="61" width="23" height="70" fill="#fff"/>
<rect x="579.5" y="61" width="23" height="70" fill="#4b2e9e" opacity="0.03"/>
<g fill="#4b2e9e"><rect x="584.49" y="61" width="16.5" height="1.05" opacity="0.03"/><rect x="593.83" y="62" width="3.05" height="1.05" opacity="0.02"/><rect x="596.46" y="63" width="6.01" height="1.05" opacity="0.02"/><rect x="579.62" y="63" width="19.32" height="1.05" opacity="0.02"/><rect x="580.06" y="63" width="19.42" height="1.05" opacity="0.01"/><rect x="579.84" y="64" width="22.62" height="1.05" opacity="0.03"/><rect x="582.34" y="64" width="18.58" height="1.05" opacity="0.03"/><rect x="594.78" y="64" width="6.75" height="1.05" opacity="0.03"/><rect x="585.13" y="65" width="4.29" height="1.05" opacity="0.05"/><rect x="583.28" y="66" width="13.91" height="1.05" opacity="0.04"/><rect x="581.73" y="66" width="19.47" height="1.05" opacity="0.01"/><rect x="580.54" y="67" width="20.05" height="1.05" opacity="0.03"/><rect x="580.72" y="67" width="2.9" height="1.05" opacity="0.04"/><rect x="582.46" y="68" width="18" height="1.05" opacity="0.03"/><rect x="581.83" y="68" width="16.68" height="1.05" opacity="0.03"/><rect x="583.93" y="68" width="17.27" height="1.05" opacity="0.01"/><rect x="583.56" y="69" width="4.76" height="1.05" opacity="0.05"/><rect x="582.75" y="69" width="15.52" height="1.05" opacity="0.05"/><rect x="584.61" y="70" width="16.87" height="1.05" opacity="0.03"/><rect x="583.47" y="71" width="16.9" height="1.05" opacity="0.05"/><rect x="580.36" y="71" width="15.87" height="1.05" opacity="0.03"/><rect x="580.99" y="71" width="21.22" height="1.05" opacity="0.02"/><rect x="580.65" y="71" width="6.9" height="1.05" opacity="0.09"/><rect x="592.49" y="72" width="6.89" height="1.05" opacity="0.03"/><rect x="580.01" y="73" width="21.1" height="1.05" opacity="0.03"/><rect x="586.4" y="73" width="11.5" height="1.05" opacity="0.06"/><rect x="584.5" y="74" width="17.57" height="1.05" opacity="0.02"/><rect x="593.88" y="75" width="8.43" height="1.05" opacity="0.03"/><rect x="593.52" y="76" width="4.19" height="1.05" opacity="0.06"/><rect x="584.38" y="76" width="6.1" height="1.05" opacity="0.03"/><rect x="584.55" y="76" width="14.43" height="1.05" opacity="0.03"/><rect x="580.12" y="77" width="22.11" height="1.05" opacity="0.07"/><rect x="587.83" y="77" width="8.55" height="1.05" opacity="0.02"/><rect x="583.77" y="78" width="16.56" height="1.05" opacity="0.04"/><rect x="579.84" y="78" width="22.44" height="1.05" opacity="0.03"/><rect x="579.96" y="78" width="5.75" height="1.05" opacity="0.11"/><rect x="592.93" y="79" width="5.83" height="1.05" opacity="0.05"/><rect x="579.79" y="80" width="21.31" height="1.05" opacity="0.06"/><rect x="579.61" y="81" width="8.06" height="1.05" opacity="0.06"/><rect x="584.91" y="81" width="3.08" height="1.05" opacity="0.03"/><rect x="582.01" y="81" width="17.69" height="1.05" opacity="0.07"/><rect x="584.1" y="81" width="16.1" height="1.05" opacity="0.1"/><rect x="580.5" y="82" width="14.97" height="1.05" opacity="0.02"/><rect x="589.38" y="83" width="3.31" height="1.05" opacity="0.03"/><rect x="583.36" y="83" width="17.03" height="1.05" opacity="0.05"/><rect x="581.95" y="83" width="15.56" height="1.05" opacity="0.03"/><rect x="580.92" y="84" width="5.21" height="1.05" opacity="0.03"/><rect x="582.35" y="84" width="19.36" height="1.05" opacity="0.04"/><rect x="586" y="85" width="5.54" height="1.05" opacity="0.04"/><rect x="591.67" y="85" width="5.47" height="1.05" opacity="0.06"/><rect x="579.7" y="86" width="20.2" height="1.05" opacity="0.04"/><rect x="584.82" y="87" width="8.79" height="1.05" opacity="0.09"/><rect x="580.11" y="88" width="18.07" height="1.05" opacity="0.08"/><rect x="591.01" y="88" width="8.47" height="1.05" opacity="0.07"/><rect x="591.01" y="89" width="3.42" height="1.05" opacity="0.03"/><rect x="579.59" y="89" width="20.92" height="1.05" opacity="0.02"/><rect x="579.95" y="90" width="3.91" height="1.05" opacity="0.07"/><rect x="579.5" y="90" width="11.5" height="1.05" opacity="0.17"/><rect x="592.8" y="91" width="7.1" height="1.05" opacity="0.1"/><rect x="594.85" y="92" width="2.99" height="1.05" opacity="0.07"/><rect x="594.14" y="92" width="3.45" height="1.05" opacity="0.11"/><rect x="582.82" y="93" width="18.99" height="1.05" opacity="0.04"/><rect x="582.16" y="94" width="19.47" height="1.05" opacity="0.05"/><rect x="582" y="95" width="17.02" height="1.05" opacity="0.03"/><rect x="579.5" y="95" width="23" height="1.05" opacity="0.19"/><rect x="592.64" y="96" width="5.42" height="1.05" opacity="0.04"/><rect x="589.86" y="96" width="7.63" height="1.05" opacity="0.07"/><rect x="581.66" y="97" width="8.54" height="1.05" opacity="0.04"/><rect x="586.92" y="97" width="8.66" height="1.05" opacity="0.07"/><rect x="580.84" y="98" width="16.26" height="1.05" opacity="0.07"/><rect x="584.38" y="98" width="15.94" height="1.05" opacity="0.1"/><rect x="594.51" y="99" width="5.42" height="1.05" opacity="0.09"/><rect x="583.81" y="100" width="14.01" height="1.05" opacity="0.06"/><rect x="581.8" y="100" width="11.5" height="1.05" opacity="0.1"/><rect x="584.33" y="101" width="16.76" height="1.05" opacity="0.03"/><rect x="581.23" y="102" width="19.31" height="1.05" opacity="0.08"/><rect x="587.51" y="102" width="6.35" height="1.05" opacity="0.09"/><rect x="592.46" y="102" width="5.34" height="1.05" opacity="0.1"/><rect x="584.55" y="103" width="15.96" height="1.05" opacity="0.09"/><rect x="583.07" y="103" width="8.26" height="1.05" opacity="0.05"/><rect x="581.83" y="104" width="20.28" height="1.05" opacity="0.09"/><rect x="587.21" y="105" width="4.78" height="1.05" opacity="0.09"/><rect x="579.95" y="106" width="21.47" height="1.05" opacity="0.06"/><rect x="586.4" y="106" width="13.8" height="1.05" opacity="0.14"/><rect x="586.26" y="107" width="2.8" height="1.05" opacity="0.07"/><rect x="583.75" y="107" width="15.73" height="1.05" opacity="0.1"/><rect x="581.73" y="108" width="14.9" height="1.05" opacity="0.08"/><rect x="580.89" y="109" width="8.61" height="1.05" opacity="0.12"/><rect x="579.5" y="109" width="23" height="1.05" opacity="0.18"/><rect x="584.04" y="110" width="7.64" height="1.05" opacity="0.11"/><rect x="593.47" y="111" width="4.47" height="1.05" opacity="0.14"/><rect x="581.4" y="111" width="6.21" height="1.05" opacity="0.07"/><rect x="588.49" y="112" width="7.13" height="1.05" opacity="0.06"/><rect x="596.49" y="113" width="3.91" height="1.05" opacity="0.08"/><rect x="579.59" y="113" width="22.37" height="1.05" opacity="0.05"/><rect x="590.29" y="114" width="6.33" height="1.05" opacity="0.09"/><rect x="580.02" y="114" width="15.42" height="1.05" opacity="0.11"/><rect x="580.36" y="115" width="20.6" height="1.05" opacity="0.06"/><rect x="579.55" y="115" width="21.83" height="1.05" opacity="0.08"/><rect x="585.48" y="116" width="5.04" height="1.05" opacity="0.07"/><rect x="593.3" y="116" width="9.2" height="1.05" opacity="0.2"/><rect x="594.72" y="117" width="5.03" height="1.05" opacity="0.05"/><rect x="580.43" y="117" width="14.72" height="1.05" opacity="0.1"/><rect x="582.61" y="118" width="15.54" height="1.05" opacity="0.1"/><rect x="588.63" y="118" width="7.58" height="1.05" opacity="0.05"/><rect x="581.97" y="119" width="18.65" height="1.05" opacity="0.04"/><rect x="581.8" y="119" width="13.8" height="1.05" opacity="0.13"/><rect x="595.6" y="120" width="2.95" height="1.05" opacity="0.15"/><rect x="581.9" y="121" width="18.88" height="1.05" opacity="0.09"/><rect x="584.24" y="121" width="7.18" height="1.05" opacity="0.13"/><rect x="582.17" y="121" width="19.33" height="1.05" opacity="0.02"/><rect x="588.44" y="122" width="5.93" height="1.05" opacity="0.09"/><rect x="579.66" y="122" width="18.67" height="1.05" opacity="0.1"/><rect x="583.33" y="123" width="19.01" height="1.05" opacity="0.14"/><rect x="580.69" y="123" width="21.09" height="1.05" opacity="0.03"/><rect x="579.5" y="123" width="16.1" height="1.05" opacity="0.3"/><rect x="584.07" y="124" width="14.52" height="1.05" opacity="0.13"/><rect x="581.62" y="125" width="7.23" height="1.05" opacity="0.15"/><rect x="584.1" y="125" width="18.4" height="1.05" opacity="0.25"/><rect x="591.06" y="126" width="7.37" height="1.05" opacity="0.07"/><rect x="591.77" y="126" width="8.76" height="1.05" opacity="0.11"/><rect x="579.85" y="127" width="14.8" height="1.05" opacity="0.03"/><rect x="583.34" y="127" width="15.28" height="1.05" opacity="0.1"/><rect x="580.48" y="128" width="19.77" height="1.05" opacity="0.08"/><rect x="582.69" y="128" width="5.35" height="1.05" opacity="0.16"/><rect x="579.5" y="128" width="23" height="1.05" opacity="0.28"/><rect x="582.56" y="129" width="17.21" height="1.05" opacity="0.1"/><rect x="581.42" y="129" width="13.82" height="1.05" opacity="0.12"/><rect x="581.05" y="130" width="15.6" height="1.05" opacity="0.05"/></g>
<use href="#h4" y="61" opacity="0.41"/><use href="#h4" y="62" opacity="0.27"/><use href="#h4" y="63" opacity="0.14"/><use href="#h4" y="64" opacity="0.22"/><use href="#h4" y="65" opacity="0.22"/><use href="#h4" y="66" opacity="0.11"/><use href="#h4" y="67" opacity="0.05"/><use href="#h4" y="68" opacity="0.25"/><use href="#h4" y="69" opacity="0.16"/><use href="#h4" y="70" opacity="0.12"/><use href="#h4" y="71" opacity="0.29"/><use href="#h4" y="72" opacity="0.27"/><use href="#h4" y="73" opacity="0.39"/><use href="#h4" y="74" opacity="0.29"/><use href="#h4" y="75" opacity="0.28"/><use href="#h4" y="76" opacity="0.16"/><use href="#h4" y="77" opacity="0.27"/><use href="#h4" y="78" opacity="0.4"/><use href="#h4" y="79" opacity="0.33"/><use href="#h4" y="80" opacity="0.35"/><use href="#h4" y="81" opacity="0.5"/><use href="#h4" y="82" opacity="0.34"/><use href="#h4" y="83" opacity="0.3"/><use href="#h4" y="84" opacity="0.35"/><use href="#h4" y="85" opacity="0.22"/><use href="#h4" y="86" opacity="0.11"/><use href="#h4" y="87" opacity="0.33"/><use href="#h4" y="88" opacity="0.34"/><use href="#h4" y="89" opacity="0.41"/><use href="#h4" y="90" opacity="0.57"/><use href="#h4" y="91" opacity="0.44"/><use href="#h4" y="92" opacity="0.57"/><use href="#h4" y="93" opacity="0.38"/><use href="#h4" y="94" opacity="0.44"/><use href="#h4" y="95" opacity="0.83"/><use href="#h4" y="96" opacity="0.54"/><use href="#h4" y="97" opacity="0.63"/><use href="#h4" y="98" opacity="0.27"/><use href="#h4" y="99" opacity="0.16"/><use href="#h4" y="100" opacity="0.58"/><use href="#h4" y="101" opacity="0.53"/><use href="#h4" y="102" opacity="0.38"/><use href="#h4" y="103" opacity="0.42"/><use href="#h4" y="104" opacity="0.32"/><use href="#h4" y="105" opacity="0.35"/><use href="#h4" y="106" opacity="0.68"/><use href="#h4" y="107" opacity="0.47"/><use href="#h4" y="108" opacity="0.43"/><use href="#h4" y="109" opacity="0.8"/><use href="#h4" y="110" opacity="0.62"/><use href="#h4" y="111" opacity="0.64"/><use href="#h4" y="112" opacity="0.7"/><use href="#h4" y="113" opacity="0.78"/><use href="#h4" y="114" opacity="0.92"/><use href="#h4" y="115" opacity="0.72"/><use href="#h4" y="116" opacity="0.63"/><use href="#h4" y="117" opacity="0.64"/><use href="#h4" y="118" opacity="0.8"/><use href="#h4" y="119" opacity="0.87"/><use href="#h4" y="120" opacity="0.72"/><use href="#h4" y="121" opacity="0.65"/><use href="#h4" y="122" opacity="0.38"/><use href="#h4" y="123" opacity="1"/><use href="#h4" y="124" opacity="0.84"/><use href="#h4" y="125" opacity="1"/><use href="#h4" y="126" opacity="0.83"/><use href="#h4" y="127" opacity="0.69"/><use href="#h4" y="128" opacity="1"/><use href="#h4" y="129" opacity="1"/><use href="#h4" y="130" opacity="0.69"/>
<rect x="579.5" y="61" width="23" height="70" fill="none" stroke="#8a8a8a" stroke-width="1"/>
<rect x="579.5" y="133.5" width="23" height="63" fill="#fff"/>
<rect x="579.5" y="133.5" width="23" height="63" fill="#4b2e9e" opacity="0.03"/>
<g fill="#4b2e9e"><rect x="579.54" y="133.5" width="19.12" height="1.05" opacity="0.03"/><rect x="579.58" y="133.5" width="22.59" height="1.05" opacity="0.09"/><rect x="585.89" y="134.5" width="4.98" height="1.05" opacity="0.1"/><rect x="594.13" y="134.5" width="3.46" height="1.05" opacity="0.13"/><rect x="598.42" y="134.5" width="3" height="1.05" opacity="0.04"/><rect x="584.37" y="135.5" width="8.67" height="1.05" opacity="0.14"/><rect x="580.62" y="136.5" width="16.71" height="1.05" opacity="0.03"/><rect x="582.35" y="136.5" width="20.14" height="1.05" opacity="0.03"/><rect x="586.32" y="137.5" width="6.2" height="1.05" opacity="0.06"/><rect x="586.8" y="138.5" width="5.69" height="1.05" opacity="0.03"/><rect x="589.39" y="138.5" width="2.97" height="1.05" opacity="0.13"/><rect x="588.4" y="139.5" width="8.88" height="1.05" opacity="0.09"/><rect x="581.8" y="139.5" width="4.6" height="1.05" opacity="0.19"/><rect x="586.11" y="140.5" width="15.17" height="1.05" opacity="0.05"/><rect x="593.9" y="141.5" width="8.25" height="1.05" opacity="0.07"/><rect x="580.69" y="141.5" width="20.51" height="1.05" opacity="0.06"/><rect x="585.17" y="142.5" width="17.27" height="1.05" opacity="0.1"/><rect x="580.04" y="143.5" width="16.91" height="1.05" opacity="0.04"/><rect x="584.79" y="143.5" width="8.35" height="1.05" opacity="0.11"/><rect x="591.63" y="144.5" width="7.04" height="1.05" opacity="0.07"/><rect x="588.45" y="144.5" width="4.57" height="1.05" opacity="0.1"/><rect x="579.83" y="145.5" width="22.5" height="1.05" opacity="0.08"/><rect x="580.54" y="145.5" width="18.83" height="1.05" opacity="0.09"/><rect x="586.4" y="145.5" width="16.1" height="1.05" opacity="0.18"/><rect x="592.32" y="146.5" width="6.93" height="1.05" opacity="0.07"/><rect x="592.33" y="146.5" width="7.51" height="1.05" opacity="0.06"/><rect x="594.93" y="147.5" width="7.19" height="1.05" opacity="0.11"/><rect x="580.22" y="147.5" width="18.67" height="1.05" opacity="0.1"/><rect x="581.54" y="148.5" width="20.16" height="1.05" opacity="0.1"/><rect x="580.67" y="148.5" width="20.98" height="1.05" opacity="0.08"/><rect x="582.18" y="148.5" width="19.54" height="1.05" opacity="0.1"/><rect x="582.91" y="149.5" width="15.27" height="1.05" opacity="0.1"/><rect x="581.32" y="149.5" width="20.11" height="1.05" opacity="0.02"/><rect x="580.66" y="150.5" width="14.3" height="1.05" opacity="0.06"/><rect x="579.76" y="150.5" width="15.58" height="1.05" opacity="0.07"/><rect x="583.41" y="151.5" width="6.56" height="1.05" opacity="0.13"/><rect x="582.22" y="152.5" width="16.36" height="1.05" opacity="0.03"/><rect x="584.94" y="153.5" width="14.13" height="1.05" opacity="0.03"/><rect x="583.03" y="153.5" width="16.92" height="1.05" opacity="0.14"/><rect x="580.61" y="154.5" width="21.28" height="1.05" opacity="0.05"/><rect x="581.6" y="154.5" width="19.28" height="1.05" opacity="0.12"/><rect x="595.56" y="155.5" width="5.02" height="1.05" opacity="0.03"/><rect x="581.96" y="155.5" width="19.01" height="1.05" opacity="0.04"/><rect x="584.95" y="155.5" width="8.5" height="1.05" opacity="0.07"/><rect x="579.6" y="156.5" width="22.75" height="1.05" opacity="0.1"/><rect x="597.71" y="157.5" width="4.43" height="1.05" opacity="0.08"/><rect x="585.67" y="157.5" width="16.74" height="1.05" opacity="0.07"/><rect x="580.09" y="157.5" width="18.19" height="1.05" opacity="0.08"/><rect x="581.16" y="158.5" width="20.99" height="1.05" opacity="0.03"/><rect x="579.97" y="159.5" width="22.4" height="1.05" opacity="0.04"/><rect x="587.19" y="159.5" width="15.22" height="1.05" opacity="0.05"/><rect x="581.47" y="160.5" width="19.73" height="1.05" opacity="0.09"/><rect x="580.16" y="160.5" width="20.8" height="1.05" opacity="0.08"/><rect x="591" y="160.5" width="9.2" height="1.05" opacity="0.19"/><rect x="581.51" y="161.5" width="18.67" height="1.05" opacity="0.06"/><rect x="584.55" y="162.5" width="2.99" height="1.05" opacity="0.08"/><rect x="587.42" y="162.5" width="8.48" height="1.05" opacity="0.03"/><rect x="582.26" y="163.5" width="19.1" height="1.05" opacity="0.1"/><rect x="579.81" y="163.5" width="22.19" height="1.05" opacity="0.06"/><rect x="584.87" y="164.5" width="16.53" height="1.05" opacity="0.03"/><rect x="586.32" y="164.5" width="7.23" height="1.05" opacity="0.05"/><rect x="581.55" y="164.5" width="8.62" height="1.05" opacity="0.08"/><rect x="580.45" y="165.5" width="16.84" height="1.05" opacity="0.08"/><rect x="584.05" y="165.5" width="3.2" height="1.05" opacity="0.12"/><rect x="594.01" y="166.5" width="2.92" height="1.05" opacity="0.11"/><rect x="580.27" y="166.5" width="7.28" height="1.05" opacity="0.1"/><rect x="589.55" y="167.5" width="8.89" height="1.05" opacity="0.04"/><rect x="591.27" y="168.5" width="3.72" height="1.05" opacity="0.08"/><rect x="581.66" y="169.5" width="3.04" height="1.05" opacity="0.08"/><rect x="582.4" y="170.5" width="19.09" height="1.05" opacity="0.1"/><rect x="583.28" y="171.5" width="16.69" height="1.05" opacity="0.07"/><rect x="585.56" y="172.5" width="14.31" height="1.05" opacity="0.04"/><rect x="594.96" y="172.5" width="6.02" height="1.05" opacity="0.1"/><rect x="589.73" y="172.5" width="4.46" height="1.05" opacity="0.06"/><rect x="588.7" y="172.5" width="4.6" height="1.05" opacity="0.31"/><rect x="581.37" y="173.5" width="15.03" height="1.05" opacity="0.07"/><rect x="593.11" y="173.5" width="3.91" height="1.05" opacity="0.1"/><rect x="581.95" y="174.5" width="3.35" height="1.05" opacity="0.09"/><rect x="585.04" y="175.5" width="5.85" height="1.05" opacity="0.11"/><rect x="582.5" y="176.5" width="3.11" height="1.05" opacity="0.12"/><rect x="587.41" y="177.5" width="14.87" height="1.05" opacity="0.09"/><rect x="591.58" y="177.5" width="3.66" height="1.05" opacity="0.06"/><rect x="580.74" y="178.5" width="19.45" height="1.05" opacity="0.05"/><rect x="592.43" y="179.5" width="6.93" height="1.05" opacity="0.07"/><rect x="586.4" y="179.5" width="11.5" height="1.05" opacity="0.18"/><rect x="581.65" y="180.5" width="19.25" height="1.05" opacity="0.11"/><rect x="579.78" y="180.5" width="14.69" height="1.05" opacity="0.03"/><rect x="579.99" y="180.5" width="21.98" height="1.05" opacity="0.11"/><rect x="580.13" y="181.5" width="21.99" height="1.05" opacity="0.07"/><rect x="580.74" y="182.5" width="15.22" height="1.05" opacity="0.06"/><rect x="579.67" y="182.5" width="21.9" height="1.05" opacity="0.06"/><rect x="581.04" y="183.5" width="16.44" height="1.05" opacity="0.07"/><rect x="596.26" y="184.5" width="5.14" height="1.05" opacity="0.09"/><rect x="579.5" y="184.5" width="6.9" height="1.05" opacity="0.17"/><rect x="579.56" y="185.5" width="22.5" height="1.05" opacity="0.08"/><rect x="581.68" y="185.5" width="20.01" height="1.05" opacity="0.04"/><rect x="580.05" y="186.5" width="15.92" height="1.05" opacity="0.06"/><rect x="584.1" y="186.5" width="9.2" height="1.05" opacity="0.29"/><rect x="582.46" y="187.5" width="16.67" height="1.05" opacity="0.06"/><rect x="582.05" y="187.5" width="7.38" height="1.05" opacity="0.06"/><rect x="588.66" y="187.5" width="8.82" height="1.05" opacity="0.07"/><rect x="586.23" y="188.5" width="14.36" height="1.05" opacity="0.06"/><rect x="583.61" y="188.5" width="18.85" height="1.05" opacity="0.07"/><rect x="580.09" y="188.5" width="14.66" height="1.05" opacity="0.09"/><rect x="584.34" y="189.5" width="3.11" height="1.05" opacity="0.04"/><rect x="581.71" y="189.5" width="14.35" height="1.05" opacity="0.07"/><rect x="588.1" y="190.5" width="14.15" height="1.05" opacity="0.04"/><rect x="579.86" y="191.5" width="18.69" height="1.05" opacity="0.06"/><rect x="583.38" y="191.5" width="18.79" height="1.05" opacity="0.07"/><rect x="584.38" y="192.5" width="13.96" height="1.05" opacity="0.06"/><rect x="590.64" y="192.5" width="5.19" height="1.05" opacity="0.13"/><rect x="587.7" y="192.5" width="4.74" height="1.05" opacity="0.12"/><rect x="580.65" y="192.5" width="5.75" height="1.05" opacity="0.18"/><rect x="580.05" y="193.5" width="16.67" height="1.05" opacity="0.09"/><rect x="580.16" y="194.5" width="14.99" height="1.05" opacity="0.04"/><rect x="582.53" y="194.5" width="17.74" height="1.05" opacity="0.04"/><rect x="586.4" y="194.5" width="9.2" height="1.05" opacity="0.2"/><rect x="583.48" y="195.5" width="3.07" height="1.05" opacity="0.05"/></g>
<use href="#h4" y="133.5" opacity="0.46"/><use href="#h4" y="134.5" opacity="0.57"/><use href="#h4" y="135.5" opacity="0.57"/><use href="#h4" y="136.5" opacity="0.63"/><use href="#h4" y="137.5" opacity="0.66"/><use href="#h4" y="138.5" opacity="0.73"/><use href="#h4" y="139.5" opacity="0.34"/><use href="#h4" y="140.5" opacity="0.31"/><use href="#h4" y="141.5" opacity="0.62"/><use href="#h4" y="142.5" opacity="0.54"/><use href="#h4" y="143.5" opacity="0.62"/><use href="#h4" y="144.5" opacity="0.29"/><use href="#h4" y="145.5" opacity="0.33"/><use href="#h4" y="146.5" opacity="0.24"/><use href="#h4" y="147.5" opacity="0.41"/><use href="#h4" y="148.5" opacity="0.45"/><use href="#h4" y="149.5" opacity="0.18"/><use href="#h4" y="150.5" opacity="0.18"/><use href="#h4" y="151.5" opacity="0.21"/><use href="#h4" y="152.5" opacity="0.62"/><use href="#h4" y="153.5" opacity="0.57"/><use href="#h4" y="154.5" opacity="0.33"/><use href="#h4" y="155.5" opacity="0.5"/><use href="#h4" y="156.5" opacity="0.56"/><use href="#h4" y="157.5" opacity="0.43"/><use href="#h4" y="158.5" opacity="0.23"/><use href="#h4" y="159.5" opacity="0.09"/><use href="#h4" y="160.5" opacity="0.63"/><use href="#h4" y="161.5" opacity="0.46"/><use href="#h4" y="162.5" opacity="0.26"/><use href="#h4" y="163.5" opacity="0.56"/><use href="#h4" y="164.5" opacity="0.65"/><use href="#h4" y="165.5" opacity="0.44"/><use href="#h4" y="166.5" opacity="0.63"/><use href="#h4" y="167.5" opacity="0.59"/><use href="#h4" y="168.5" opacity="0.61"/><use href="#h4" y="169.5" opacity="0.36"/><use href="#h4" y="170.5" opacity="0.65"/><use href="#h4" y="171.5" opacity="0.6"/><use href="#h4" y="172.5" opacity="1"/><use href="#h4" y="173.5" opacity="0.96"/><use href="#h4" y="174.5" opacity="0.49"/><use href="#h4" y="175.5" opacity="0.43"/><use href="#h4" y="176.5" opacity="0.23"/><use href="#h4" y="177.5" opacity="0.16"/><use href="#h4" y="178.5" opacity="0.1"/><use href="#h4" y="179.5" opacity="0.83"/><use href="#h4" y="180.5" opacity="0.53"/><use href="#h4" y="181.5" opacity="0.18"/><use href="#h4" y="182.5" opacity="0.46"/><use href="#h4" y="183.5" opacity="0.36"/><use href="#h4" y="184.5" opacity="0.48"/><use href="#h4" y="185.5" opacity="0.65"/><use href="#h4" y="186.5" opacity="1"/><use href="#h4" y="187.5" opacity="0.76"/><use href="#h4" y="188.5" opacity="0.81"/><use href="#h4" y="189.5" opacity="0.58"/><use href="#h4" y="190.5" opacity="0.25"/><use href="#h4" y="191.5" opacity="0.66"/><use href="#h4" y="192.5" opacity="0.53"/><use href="#h4" y="193.5" opacity="0.54"/><use href="#h4" y="194.5" opacity="1"/><use href="#h4" y="195.5" opacity="0.86"/>
<rect x="579.5" y="133.5" width="23" height="63" fill="none" stroke="#8a8a8a" stroke-width="1"/>
<rect x="604.5" y="33.5" width="23" height="26" fill="#fff" stroke="#8f8f8f" stroke-width="1" rx="0.8"/>
<polyline points="605.2,56.7 605.67,56.67 606.14,56.63 606.61,56.59 607.08,56.54 607.55,56.49 608.02,56.42 608.49,56.34 608.96,56.24 609.43,56.12 609.9,55.97 610.37,55.78 610.83,55.55 611.3,55.25 611.77,54.85 612.24,54.32 612.71,53.61 613.18,52.64 613.65,51.31 614.12,49.5 614.59,47.15 615.06,44.43 615.53,42.01 616,41 616.47,42.01 616.94,44.43 617.41,47.15 617.88,49.5 618.35,51.31 618.82,52.64 619.29,53.61 619.76,54.32 620.23,54.85 620.7,55.25 621.17,55.55 621.63,55.78 622.1,55.97 622.57,56.12 623.04,56.24 623.51,56.34 623.98,56.42 624.45,56.49 624.92,56.54 625.39,56.59 625.86,56.63 626.33,56.67 626.8,56.7" fill="none" stroke="#5cc8ea" stroke-width="1.3" stroke-linejoin="round"/>
<polyline points="605.2,56.45 605.67,56.42 606.14,56.38 606.61,56.33 607.08,56.27 607.55,56.21 608.02,56.13 608.49,56.04 608.96,55.93 609.43,55.8 609.9,55.63 610.37,55.43 610.83,55.18 611.3,54.85 611.77,54.44 612.24,53.91 612.71,53.21 613.18,52.29 613.65,51.09 614.12,49.56 614.59,47.73 615.06,45.8 615.53,44.22 616,43.6 616.47,44.22 616.94,45.8 617.41,47.73 617.88,49.56 618.35,51.09 618.82,52.29 619.29,53.21 619.76,53.91 620.23,54.44 620.7,54.85 621.17,55.18 621.63,55.43 622.1,55.63 622.57,55.8 623.04,55.93 623.51,56.04 623.98,56.13 624.45,56.21 624.92,56.27 625.39,56.33 625.86,56.38 626.33,56.42 626.8,56.45" fill="none" stroke="#2e3192" stroke-width="0.8" stroke-linejoin="round"/>
<rect x="604.5" y="61" width="23" height="70" fill="#fff"/>
<rect x="604.5" y="61" width="23" height="70" fill="#4b2e9e" opacity="0.03"/>
<g fill="#4b2e9e"><rect x="609.49" y="61" width="16.5" height="1.05" opacity="0.04"/><rect x="618.83" y="62" width="3.05" height="1.05" opacity="0.02"/><rect x="621.46" y="63" width="6.01" height="1.05" opacity="0.02"/><rect x="604.62" y="63" width="19.32" height="1.05" opacity="0.01"/><rect x="605.06" y="63" width="19.42" height="1.05" opacity="0.01"/><rect x="604.84" y="64" width="22.62" height="1.05" opacity="0.02"/><rect x="607.34" y="64" width="18.58" height="1.05" opacity="0.03"/><rect x="619.78" y="64" width="6.75" height="1.05" opacity="0.04"/><rect x="610.13" y="65" width="4.29" height="1.05" opacity="0.06"/><rect x="608.28" y="66" width="13.91" height="1.05" opacity="0.03"/><rect x="606.73" y="66" width="19.47" height="1.05" opacity="0.01"/><rect x="605.54" y="67" width="20.05" height="1.05" opacity="0.04"/><rect x="605.72" y="67" width="2.9" height="1.05" opacity="0.04"/><rect x="607.46" y="68" width="18" height="1.05" opacity="0.03"/><rect x="606.83" y="68" width="16.68" height="1.05" opacity="0.03"/><rect x="608.93" y="68" width="17.27" height="1.05" opacity="0.01"/><rect x="608.56" y="69" width="4.76" height="1.05" opacity="0.05"/><rect x="607.75" y="69" width="15.52" height="1.05" opacity="0.04"/><rect x="609.61" y="70" width="16.87" height="1.05" opacity="0.04"/><rect x="608.47" y="71" width="16.9" height="1.05" opacity="0.06"/><rect x="605.36" y="71" width="15.87" height="1.05" opacity="0.04"/><rect x="605.99" y="71" width="21.22" height="1.05" opacity="0.02"/><rect x="605.65" y="71" width="6.9" height="1.05" opacity="0.09"/><rect x="617.49" y="72" width="6.89" height="1.05" opacity="0.04"/><rect x="605.01" y="73" width="21.1" height="1.05" opacity="0.03"/><rect x="611.4" y="73" width="11.5" height="1.05" opacity="0.07"/><rect x="609.5" y="74" width="17.57" height="1.05" opacity="0.02"/><rect x="618.88" y="75" width="8.43" height="1.05" opacity="0.05"/><rect x="618.52" y="76" width="4.19" height="1.05" opacity="0.06"/><rect x="609.38" y="76" width="6.1" height="1.05" opacity="0.04"/><rect x="609.55" y="76" width="14.43" height="1.05" opacity="0.03"/><rect x="605.12" y="77" width="22.11" height="1.05" opacity="0.06"/><rect x="612.83" y="77" width="8.55" height="1.05" opacity="0.02"/><rect x="608.77" y="78" width="16.56" height="1.05" opacity="0.05"/><rect x="604.84" y="78" width="22.44" height="1.05" opacity="0.03"/><rect x="604.96" y="78" width="5.75" height="1.05" opacity="0.09"/><rect x="617.93" y="79" width="5.83" height="1.05" opacity="0.03"/><rect x="604.79" y="80" width="21.31" height="1.05" opacity="0.06"/><rect x="604.61" y="81" width="8.06" height="1.05" opacity="0.06"/><rect x="609.91" y="81" width="3.08" height="1.05" opacity="0.03"/><rect x="607.01" y="81" width="17.69" height="1.05" opacity="0.05"/><rect x="609.1" y="81" width="16.1" height="1.05" opacity="0.08"/><rect x="605.5" y="82" width="14.97" height="1.05" opacity="0.02"/><rect x="614.38" y="83" width="3.31" height="1.05" opacity="0.04"/><rect x="608.36" y="83" width="17.03" height="1.05" opacity="0.06"/><rect x="606.95" y="83" width="15.56" height="1.05" opacity="0.02"/><rect x="605.92" y="84" width="5.21" height="1.05" opacity="0.04"/><rect x="607.35" y="84" width="19.36" height="1.05" opacity="0.04"/><rect x="611" y="85" width="5.54" height="1.05" opacity="0.04"/><rect x="616.67" y="85" width="5.47" height="1.05" opacity="0.05"/><rect x="604.7" y="86" width="20.2" height="1.05" opacity="0.05"/><rect x="609.82" y="87" width="8.79" height="1.05" opacity="0.07"/><rect x="605.11" y="88" width="18.07" height="1.05" opacity="0.06"/><rect x="616.01" y="88" width="8.47" height="1.05" opacity="0.07"/><rect x="616.01" y="89" width="3.42" height="1.05" opacity="0.02"/><rect x="604.59" y="89" width="20.92" height="1.05" opacity="0.03"/><rect x="604.95" y="90" width="3.91" height="1.05" opacity="0.07"/><rect x="604.5" y="90" width="11.5" height="1.05" opacity="0.17"/><rect x="617.8" y="91" width="7.1" height="1.05" opacity="0.09"/><rect x="619.85" y="92" width="2.99" height="1.05" opacity="0.07"/><rect x="619.14" y="92" width="3.45" height="1.05" opacity="0.09"/><rect x="607.82" y="93" width="18.99" height="1.05" opacity="0.03"/><rect x="607.16" y="94" width="19.47" height="1.05" opacity="0.06"/><rect x="607" y="95" width="17.02" height="1.05" opacity="0.02"/><rect x="604.5" y="95" width="23" height="1.05" opacity="0.15"/><rect x="617.64" y="96" width="5.42" height="1.05" opacity="0.04"/><rect x="614.86" y="96" width="7.63" height="1.05" opacity="0.07"/><rect x="606.66" y="97" width="8.54" height="1.05" opacity="0.04"/><rect x="611.92" y="97" width="8.66" height="1.05" opacity="0.07"/><rect x="605.84" y="98" width="16.26" height="1.05" opacity="0.08"/><rect x="609.38" y="98" width="15.94" height="1.05" opacity="0.1"/><rect x="619.51" y="99" width="5.42" height="1.05" opacity="0.07"/><rect x="608.81" y="100" width="14.01" height="1.05" opacity="0.05"/><rect x="606.8" y="100" width="11.5" height="1.05" opacity="0.12"/><rect x="609.33" y="101" width="16.76" height="1.05" opacity="0.03"/><rect x="606.23" y="102" width="19.31" height="1.05" opacity="0.1"/><rect x="612.51" y="102" width="6.35" height="1.05" opacity="0.09"/><rect x="617.46" y="102" width="5.34" height="1.05" opacity="0.12"/><rect x="609.55" y="103" width="15.96" height="1.05" opacity="0.09"/><rect x="608.07" y="103" width="8.26" height="1.05" opacity="0.04"/><rect x="606.83" y="104" width="20.28" height="1.05" opacity="0.09"/><rect x="612.21" y="105" width="4.78" height="1.05" opacity="0.11"/><rect x="604.95" y="106" width="21.47" height="1.05" opacity="0.05"/><rect x="611.4" y="106" width="13.8" height="1.05" opacity="0.12"/><rect x="611.26" y="107" width="2.8" height="1.05" opacity="0.06"/><rect x="608.75" y="107" width="15.73" height="1.05" opacity="0.13"/><rect x="606.73" y="108" width="14.9" height="1.05" opacity="0.08"/><rect x="605.89" y="109" width="8.61" height="1.05" opacity="0.11"/><rect x="604.5" y="109" width="23" height="1.05" opacity="0.15"/><rect x="609.04" y="110" width="7.64" height="1.05" opacity="0.09"/><rect x="618.47" y="111" width="4.47" height="1.05" opacity="0.14"/><rect x="606.4" y="111" width="6.21" height="1.05" opacity="0.09"/><rect x="613.49" y="112" width="7.13" height="1.05" opacity="0.05"/><rect x="621.49" y="113" width="3.91" height="1.05" opacity="0.09"/><rect x="604.59" y="113" width="22.37" height="1.05" opacity="0.06"/><rect x="615.29" y="114" width="6.33" height="1.05" opacity="0.07"/><rect x="605.02" y="114" width="15.42" height="1.05" opacity="0.11"/><rect x="605.36" y="115" width="20.6" height="1.05" opacity="0.04"/><rect x="604.55" y="115" width="21.83" height="1.05" opacity="0.06"/><rect x="610.48" y="116" width="5.04" height="1.05" opacity="0.09"/><rect x="618.3" y="116" width="9.2" height="1.05" opacity="0.19"/><rect x="619.72" y="117" width="5.03" height="1.05" opacity="0.05"/><rect x="605.43" y="117" width="14.72" height="1.05" opacity="0.11"/><rect x="607.61" y="118" width="15.54" height="1.05" opacity="0.1"/><rect x="613.63" y="118" width="7.58" height="1.05" opacity="0.06"/><rect x="606.97" y="119" width="18.65" height="1.05" opacity="0.04"/><rect x="606.8" y="119" width="13.8" height="1.05" opacity="0.14"/><rect x="620.6" y="120" width="2.95" height="1.05" opacity="0.12"/><rect x="606.9" y="121" width="18.88" height="1.05" opacity="0.11"/><rect x="609.24" y="121" width="7.18" height="1.05" opacity="0.12"/><rect x="607.17" y="121" width="19.33" height="1.05" opacity="0.03"/><rect x="613.44" y="122" width="5.93" height="1.05" opacity="0.1"/><rect x="604.66" y="122" width="18.67" height="1.05" opacity="0.09"/><rect x="608.33" y="123" width="19.01" height="1.05" opacity="0.12"/><rect x="605.69" y="123" width="21.09" height="1.05" opacity="0.03"/><rect x="604.5" y="123" width="16.1" height="1.05" opacity="0.25"/><rect x="609.07" y="124" width="14.52" height="1.05" opacity="0.12"/><rect x="606.62" y="125" width="7.23" height="1.05" opacity="0.14"/><rect x="609.1" y="125" width="18.4" height="1.05" opacity="0.25"/><rect x="616.06" y="126" width="7.37" height="1.05" opacity="0.08"/><rect x="616.77" y="126" width="8.76" height="1.05" opacity="0.11"/><rect x="604.85" y="127" width="14.8" height="1.05" opacity="0.04"/><rect x="608.34" y="127" width="15.28" height="1.05" opacity="0.1"/><rect x="605.48" y="128" width="19.77" height="1.05" opacity="0.07"/><rect x="607.69" y="128" width="5.35" height="1.05" opacity="0.18"/><rect x="604.5" y="128" width="23" height="1.05" opacity="0.21"/><rect x="607.56" y="129" width="17.21" height="1.05" opacity="0.11"/><rect x="606.42" y="129" width="13.82" height="1.05" opacity="0.11"/><rect x="606.05" y="130" width="15.6" height="1.05" opacity="0.05"/></g>
<use href="#h5" y="61" opacity="0.39"/><use href="#h5" y="62" opacity="0.27"/><use href="#h5" y="63" opacity="0.17"/><use href="#h5" y="64" opacity="0.19"/><use href="#h5" y="65" opacity="0.23"/><use href="#h5" y="66" opacity="0.12"/><use href="#h5" y="67" opacity="0.04"/><use href="#h5" y="68" opacity="0.24"/><use href="#h5" y="69" opacity="0.16"/><use href="#h5" y="70" opacity="0.14"/><use href="#h5" y="71" opacity="0.3"/><use href="#h5" y="72" opacity="0.24"/><use href="#h5" y="73" opacity="0.37"/><use href="#h5" y="74" opacity="0.26"/><use href="#h5" y="75" opacity="0.29"/><use href="#h5" y="76" opacity="0.17"/><use href="#h5" y="77" opacity="0.24"/><use href="#h5" y="78" opacity="0.39"/><use href="#h5" y="79" opacity="0.29"/><use href="#h5" y="80" opacity="0.34"/><use href="#h5" y="81" opacity="0.42"/><use href="#h5" y="82" opacity="0.34"/><use href="#h5" y="83" opacity="0.31"/><use href="#h5" y="84" opacity="0.36"/><use href="#h5" y="85" opacity="0.22"/><use href="#h5" y="86" opacity="0.12"/><use href="#h5" y="87" opacity="0.35"/><use href="#h5" y="88" opacity="0.34"/><use href="#h5" y="89" opacity="0.42"/><use href="#h5" y="90" opacity="0.55"/><use href="#h5" y="91" opacity="0.48"/><use href="#h5" y="92" opacity="0.59"/><use href="#h5" y="93" opacity="0.36"/><use href="#h5" y="94" opacity="0.5"/><use href="#h5" y="95" opacity="0.72"/><use href="#h5" y="96" opacity="0.52"/><use href="#h5" y="97" opacity="0.54"/><use href="#h5" y="98" opacity="0.3"/><use href="#h5" y="99" opacity="0.17"/><use href="#h5" y="100" opacity="0.59"/><use href="#h5" y="101" opacity="0.49"/><use href="#h5" y="102" opacity="0.39"/><use href="#h5" y="103" opacity="0.44"/><use href="#h5" y="104" opacity="0.36"/><use href="#h5" y="105" opacity="0.4"/><use href="#h5" y="106" opacity="0.59"/><use href="#h5" y="107" opacity="0.48"/><use href="#h5" y="108" opacity="0.4"/><use href="#h5" y="109" opacity="0.77"/><use href="#h5" y="110" opacity="0.61"/><use href="#h5" y="111" opacity="0.62"/><use href="#h5" y="112" opacity="0.73"/><use href="#h5" y="113" opacity="0.76"/><use href="#h5" y="114" opacity="0.85"/><use href="#h5" y="115" opacity="0.73"/><use href="#h5" y="116" opacity="0.59"/><use href="#h5" y="117" opacity="0.58"/><use href="#h5" y="118" opacity="0.84"/><use href="#h5" y="119" opacity="0.93"/><use href="#h5" y="120" opacity="0.61"/><use href="#h5" y="121" opacity="0.67"/><use href="#h5" y="122" opacity="0.37"/><use href="#h5" y="123" opacity="1"/><use href="#h5" y="124" opacity="0.86"/><use href="#h5" y="125" opacity="1"/><use href="#h5" y="126" opacity="0.76"/><use href="#h5" y="127" opacity="0.68"/><use href="#h5" y="128" opacity="1"/><use href="#h5" y="129" opacity="0.94"/><use href="#h5" y="130" opacity="0.68"/>
<rect x="604.5" y="61" width="23" height="70" fill="none" stroke="#8a8a8a" stroke-width="1"/>
<rect x="604.5" y="133.5" width="23" height="63" fill="#fff"/>
<rect x="604.5" y="133.5" width="23" height="63" fill="#4b2e9e" opacity="0.03"/>
<g fill="#4b2e9e"><rect x="604.54" y="133.5" width="19.12" height="1.05" opacity="0.03"/><rect x="604.58" y="133.5" width="22.59" height="1.05" opacity="0.09"/><rect x="610.89" y="134.5" width="4.98" height="1.05" opacity="0.08"/><rect x="619.13" y="134.5" width="3.46" height="1.05" opacity="0.1"/><rect x="623.42" y="134.5" width="3" height="1.05" opacity="0.04"/><rect x="609.37" y="135.5" width="8.67" height="1.05" opacity="0.15"/><rect x="605.62" y="136.5" width="16.71" height="1.05" opacity="0.02"/><rect x="607.35" y="136.5" width="20.14" height="1.05" opacity="0.03"/><rect x="611.32" y="137.5" width="6.2" height="1.05" opacity="0.06"/><rect x="611.8" y="138.5" width="5.69" height="1.05" opacity="0.04"/><rect x="614.39" y="138.5" width="2.97" height="1.05" opacity="0.13"/><rect x="613.4" y="139.5" width="8.88" height="1.05" opacity="0.09"/><rect x="606.8" y="139.5" width="4.6" height="1.05" opacity="0.24"/><rect x="611.11" y="140.5" width="15.17" height="1.05" opacity="0.06"/><rect x="618.9" y="141.5" width="8.25" height="1.05" opacity="0.09"/><rect x="605.69" y="141.5" width="20.51" height="1.05" opacity="0.04"/><rect x="610.17" y="142.5" width="17.27" height="1.05" opacity="0.14"/><rect x="605.04" y="143.5" width="16.91" height="1.05" opacity="0.04"/><rect x="609.79" y="143.5" width="8.35" height="1.05" opacity="0.1"/><rect x="616.63" y="144.5" width="7.04" height="1.05" opacity="0.07"/><rect x="613.45" y="144.5" width="4.57" height="1.05" opacity="0.12"/><rect x="604.83" y="145.5" width="22.5" height="1.05" opacity="0.07"/><rect x="605.54" y="145.5" width="18.83" height="1.05" opacity="0.09"/><rect x="611.4" y="145.5" width="16.1" height="1.05" opacity="0.13"/><rect x="617.32" y="146.5" width="6.93" height="1.05" opacity="0.07"/><rect x="617.33" y="146.5" width="7.51" height="1.05" opacity="0.05"/><rect x="619.93" y="147.5" width="7.19" height="1.05" opacity="0.14"/><rect x="605.22" y="147.5" width="18.67" height="1.05" opacity="0.09"/><rect x="606.54" y="148.5" width="20.16" height="1.05" opacity="0.1"/><rect x="605.67" y="148.5" width="20.98" height="1.05" opacity="0.1"/><rect x="607.18" y="148.5" width="19.54" height="1.05" opacity="0.07"/><rect x="607.91" y="149.5" width="15.27" height="1.05" opacity="0.09"/><rect x="606.32" y="149.5" width="20.11" height="1.05" opacity="0.03"/><rect x="605.66" y="150.5" width="14.3" height="1.05" opacity="0.06"/><rect x="604.76" y="150.5" width="15.58" height="1.05" opacity="0.06"/><rect x="608.41" y="151.5" width="6.56" height="1.05" opacity="0.11"/><rect x="607.22" y="152.5" width="16.36" height="1.05" opacity="0.03"/><rect x="609.94" y="153.5" width="14.13" height="1.05" opacity="0.04"/><rect x="608.03" y="153.5" width="16.92" height="1.05" opacity="0.11"/><rect x="605.61" y="154.5" width="21.28" height="1.05" opacity="0.06"/><rect x="606.6" y="154.5" width="19.28" height="1.05" opacity="0.14"/><rect x="620.56" y="155.5" width="5.02" height="1.05" opacity="0.04"/><rect x="606.96" y="155.5" width="19.01" height="1.05" opacity="0.04"/><rect x="609.95" y="155.5" width="8.5" height="1.05" opacity="0.09"/><rect x="604.6" y="156.5" width="22.75" height="1.05" opacity="0.11"/><rect x="622.71" y="157.5" width="4.43" height="1.05" opacity="0.08"/><rect x="610.67" y="157.5" width="16.74" height="1.05" opacity="0.06"/><rect x="605.09" y="157.5" width="18.19" height="1.05" opacity="0.09"/><rect x="606.16" y="158.5" width="20.99" height="1.05" opacity="0.03"/><rect x="604.97" y="159.5" width="22.4" height="1.05" opacity="0.05"/><rect x="612.19" y="159.5" width="15.22" height="1.05" opacity="0.04"/><rect x="606.47" y="160.5" width="19.73" height="1.05" opacity="0.1"/><rect x="605.16" y="160.5" width="20.8" height="1.05" opacity="0.06"/><rect x="616" y="160.5" width="9.2" height="1.05" opacity="0.18"/><rect x="606.51" y="161.5" width="18.67" height="1.05" opacity="0.06"/><rect x="609.55" y="162.5" width="2.99" height="1.05" opacity="0.08"/><rect x="612.42" y="162.5" width="8.48" height="1.05" opacity="0.04"/><rect x="607.26" y="163.5" width="19.1" height="1.05" opacity="0.08"/><rect x="604.81" y="163.5" width="22.19" height="1.05" opacity="0.07"/><rect x="609.87" y="164.5" width="16.53" height="1.05" opacity="0.03"/><rect x="611.32" y="164.5" width="7.23" height="1.05" opacity="0.05"/><rect x="606.55" y="164.5" width="8.62" height="1.05" opacity="0.09"/><rect x="605.45" y="165.5" width="16.84" height="1.05" opacity="0.08"/><rect x="609.05" y="165.5" width="3.2" height="1.05" opacity="0.13"/><rect x="619.01" y="166.5" width="2.92" height="1.05" opacity="0.13"/><rect x="605.27" y="166.5" width="7.28" height="1.05" opacity="0.13"/><rect x="614.55" y="167.5" width="8.89" height="1.05" opacity="0.05"/><rect x="616.27" y="168.5" width="3.72" height="1.05" opacity="0.09"/><rect x="606.66" y="169.5" width="3.04" height="1.05" opacity="0.08"/><rect x="607.4" y="170.5" width="19.09" height="1.05" opacity="0.12"/><rect x="608.28" y="171.5" width="16.69" height="1.05" opacity="0.07"/><rect x="610.56" y="172.5" width="14.31" height="1.05" opacity="0.04"/><rect x="619.96" y="172.5" width="6.02" height="1.05" opacity="0.1"/><rect x="614.73" y="172.5" width="4.46" height="1.05" opacity="0.06"/><rect x="613.7" y="172.5" width="4.6" height="1.05" opacity="0.29"/><rect x="606.37" y="173.5" width="15.03" height="1.05" opacity="0.07"/><rect x="618.11" y="173.5" width="3.91" height="1.05" opacity="0.12"/><rect x="606.95" y="174.5" width="3.35" height="1.05" opacity="0.08"/><rect x="610.04" y="175.5" width="5.85" height="1.05" opacity="0.11"/><rect x="607.5" y="176.5" width="3.11" height="1.05" opacity="0.12"/><rect x="612.41" y="177.5" width="14.87" height="1.05" opacity="0.09"/><rect x="616.58" y="177.5" width="3.66" height="1.05" opacity="0.06"/><rect x="605.74" y="178.5" width="19.45" height="1.05" opacity="0.05"/><rect x="617.43" y="179.5" width="6.93" height="1.05" opacity="0.07"/><rect x="611.4" y="179.5" width="11.5" height="1.05" opacity="0.18"/><rect x="606.65" y="180.5" width="19.25" height="1.05" opacity="0.1"/><rect x="604.78" y="180.5" width="14.69" height="1.05" opacity="0.04"/><rect x="604.99" y="180.5" width="21.98" height="1.05" opacity="0.11"/><rect x="605.13" y="181.5" width="21.99" height="1.05" opacity="0.06"/><rect x="605.74" y="182.5" width="15.22" height="1.05" opacity="0.07"/><rect x="604.67" y="182.5" width="21.9" height="1.05" opacity="0.04"/><rect x="606.04" y="183.5" width="16.44" height="1.05" opacity="0.06"/><rect x="621.26" y="184.5" width="5.14" height="1.05" opacity="0.09"/><rect x="604.5" y="184.5" width="6.9" height="1.05" opacity="0.2"/><rect x="604.56" y="185.5" width="22.5" height="1.05" opacity="0.1"/><rect x="606.68" y="185.5" width="20.01" height="1.05" opacity="0.04"/><rect x="605.05" y="186.5" width="15.92" height="1.05" opacity="0.07"/><rect x="609.1" y="186.5" width="9.2" height="1.05" opacity="0.24"/><rect x="607.46" y="187.5" width="16.67" height="1.05" opacity="0.06"/><rect x="607.05" y="187.5" width="7.38" height="1.05" opacity="0.05"/><rect x="613.66" y="187.5" width="8.82" height="1.05" opacity="0.06"/><rect x="611.23" y="188.5" width="14.36" height="1.05" opacity="0.07"/><rect x="608.61" y="188.5" width="18.85" height="1.05" opacity="0.09"/><rect x="605.09" y="188.5" width="14.66" height="1.05" opacity="0.13"/><rect x="609.34" y="189.5" width="3.11" height="1.05" opacity="0.04"/><rect x="606.71" y="189.5" width="14.35" height="1.05" opacity="0.05"/><rect x="613.1" y="190.5" width="14.15" height="1.05" opacity="0.04"/><rect x="604.86" y="191.5" width="18.69" height="1.05" opacity="0.05"/><rect x="608.38" y="191.5" width="18.79" height="1.05" opacity="0.09"/><rect x="609.38" y="192.5" width="13.96" height="1.05" opacity="0.06"/><rect x="615.64" y="192.5" width="5.19" height="1.05" opacity="0.11"/><rect x="612.7" y="192.5" width="4.74" height="1.05" opacity="0.12"/><rect x="605.65" y="192.5" width="5.75" height="1.05" opacity="0.21"/><rect x="605.05" y="193.5" width="16.67" height="1.05" opacity="0.08"/><rect x="605.16" y="194.5" width="14.99" height="1.05" opacity="0.05"/><rect x="607.53" y="194.5" width="17.74" height="1.05" opacity="0.05"/><rect x="611.4" y="194.5" width="9.2" height="1.05" opacity="0.19"/><rect x="608.48" y="195.5" width="3.07" height="1.05" opacity="0.06"/></g>
<use href="#h5" y="133.5" opacity="0.45"/><use href="#h5" y="134.5" opacity="0.56"/><use href="#h5" y="135.5" opacity="0.53"/><use href="#h5" y="136.5" opacity="0.71"/><use href="#h5" y="137.5" opacity="0.68"/><use href="#h5" y="138.5" opacity="0.71"/><use href="#h5" y="139.5" opacity="0.34"/><use href="#h5" y="140.5" opacity="0.33"/><use href="#h5" y="141.5" opacity="0.54"/><use href="#h5" y="142.5" opacity="0.6"/><use href="#h5" y="143.5" opacity="0.66"/><use href="#h5" y="144.5" opacity="0.35"/><use href="#h5" y="145.5" opacity="0.38"/><use href="#h5" y="146.5" opacity="0.27"/><use href="#h5" y="147.5" opacity="0.38"/><use href="#h5" y="148.5" opacity="0.42"/><use href="#h5" y="149.5" opacity="0.16"/><use href="#h5" y="150.5" opacity="0.17"/><use href="#h5" y="151.5" opacity="0.22"/><use href="#h5" y="152.5" opacity="0.64"/><use href="#h5" y="153.5" opacity="0.58"/><use href="#h5" y="154.5" opacity="0.3"/><use href="#h5" y="155.5" opacity="0.5"/><use href="#h5" y="156.5" opacity="0.6"/><use href="#h5" y="157.5" opacity="0.45"/><use href="#h5" y="158.5" opacity="0.25"/><use href="#h5" y="159.5" opacity="0.11"/><use href="#h5" y="160.5" opacity="0.74"/><use href="#h5" y="161.5" opacity="0.44"/><use href="#h5" y="162.5" opacity="0.22"/><use href="#h5" y="163.5" opacity="0.56"/><use href="#h5" y="164.5" opacity="0.67"/><use href="#h5" y="165.5" opacity="0.45"/><use href="#h5" y="166.5" opacity="0.74"/><use href="#h5" y="167.5" opacity="0.57"/><use href="#h5" y="168.5" opacity="0.53"/><use href="#h5" y="169.5" opacity="0.33"/><use href="#h5" y="170.5" opacity="0.59"/><use href="#h5" y="171.5" opacity="0.68"/><use href="#h5" y="172.5" opacity="1"/><use href="#h5" y="173.5" opacity="1"/><use href="#h5" y="174.5" opacity="0.51"/><use href="#h5" y="175.5" opacity="0.37"/><use href="#h5" y="176.5" opacity="0.25"/><use href="#h5" y="177.5" opacity="0.19"/><use href="#h5" y="178.5" opacity="0.1"/><use href="#h5" y="179.5" opacity="0.91"/><use href="#h5" y="180.5" opacity="0.63"/><use href="#h5" y="181.5" opacity="0.16"/><use href="#h5" y="182.5" opacity="0.45"/><use href="#h5" y="183.5" opacity="0.4"/><use href="#h5" y="184.5" opacity="0.52"/><use href="#h5" y="185.5" opacity="0.54"/><use href="#h5" y="186.5" opacity="1"/><use href="#h5" y="187.5" opacity="0.73"/><use href="#h5" y="188.5" opacity="0.93"/><use href="#h5" y="189.5" opacity="0.55"/><use href="#h5" y="190.5" opacity="0.28"/><use href="#h5" y="191.5" opacity="0.63"/><use href="#h5" y="192.5" opacity="0.45"/><use href="#h5" y="193.5" opacity="0.57"/><use href="#h5" y="194.5" opacity="1"/><use href="#h5" y="195.5" opacity="0.86"/>
<rect x="604.5" y="133.5" width="23" height="63" fill="none" stroke="#8a8a8a" stroke-width="1"/>
<line x1="478.2" y1="42.1" x2="479.3" y2="42.1" stroke="#555" stroke-width="0.6"/>
<line x1="478.2" y1="51" x2="479.3" y2="51" stroke="#555" stroke-width="0.6"/>
<text x="491" y="31.9" font-size="6.6" text-anchor="middle">1</text>
<text x="516" y="31.9" font-size="6.6" text-anchor="middle">2</text>
<text x="541" y="31.9" font-size="6.6" text-anchor="middle">3</text>
<text x="566" y="31.9" font-size="6.6" text-anchor="middle">1</text>
<text x="591" y="31.9" font-size="6.6" text-anchor="middle">2</text>
<text x="616" y="31.9" font-size="6.6" text-anchor="middle">3</text>
<rect x="473.2" y="61" width="4.1" height="70.4" fill="#232a7c"/>
<rect x="473.2" y="133.2" width="4.1" height="63.5" fill="#55bde2"/>
<text font-size="9.6" text-anchor="middle" transform="translate(467.9 93.7) rotate(-90)">Gain</text>
<text font-size="9.6" text-anchor="middle" transform="translate(467.9 156) rotate(-90)">Loss</text>
<text font-size="8.2" text-anchor="end" fill="#111" transform="translate(486.8 199.2) rotate(-90)">-1500</text>
<text font-size="8.2" text-anchor="end" fill="#111" transform="translate(494.6 199.2) rotate(-90)">Start</text>
<text font-size="8.2" text-anchor="end" fill="#111" transform="translate(502.6 199.2) rotate(-90)">1500</text>
<text font-size="8.2" text-anchor="end" fill="#111" transform="translate(511.8 199.2) rotate(-90)">-1500</text>
<text font-size="8.2" text-anchor="end" fill="#111" transform="translate(519.6 199.2) rotate(-90)">Start</text>
<text font-size="8.2" text-anchor="end" fill="#111" transform="translate(527.6 199.2) rotate(-90)">1500</text>
<text font-size="8.2" text-anchor="end" fill="#111" transform="translate(536.8 199.2) rotate(-90)">-1500</text>
<text font-size="8.2" text-anchor="end" fill="#111" transform="translate(544.6 199.2) rotate(-90)">Start</text>
<text font-size="8.2" text-anchor="end" fill="#111" transform="translate(552.6 199.2) rotate(-90)">1500</text>
<text font-size="8.2" text-anchor="end" fill="#111" transform="translate(561.8 199.2) rotate(-90)">-1500</text>
<text font-size="8.2" text-anchor="end" fill="#111" transform="translate(569.6 199.2) rotate(-90)">Start</text>
<text font-size="8.2" text-anchor="end" fill="#111" transform="translate(577.6 199.2) rotate(-90)">1500</text>
<text font-size="8.2" text-anchor="end" fill="#111" transform="translate(586.8 199.2) rotate(-90)">-1500</text>
<text font-size="8.2" text-anchor="end" fill="#111" transform="translate(594.6 199.2) rotate(-90)">Start</text>
<text font-size="8.2" text-anchor="end" fill="#111" transform="translate(602.6 199.2) rotate(-90)">1500</text>
<text font-size="8.2" text-anchor="end" fill="#111" transform="translate(611.8 199.2) rotate(-90)">-1500</text>
<text font-size="8.2" text-anchor="end" fill="#111" transform="translate(619.6 199.2) rotate(-90)">Start</text>
<text font-size="8.2" text-anchor="end" fill="#111" transform="translate(627.6 199.2) rotate(-90)">1500</text>
<text x="629.6" y="103.9" font-size="9.6" fill="#111">Binding sites</text>
<rect x="629.9" y="107.7" width="5.2" height="4.4" fill="#232a7c"/>
<rect x="629.9" y="113" width="5.2" height="4.6" fill="#55bde2"/>
<text x="636.1" y="112" font-size="8" fill="#111">Gain</text>
<text x="636.1" y="117.6" font-size="8" fill="#111">Loss</text>
<text x="629.6" y="125.5" font-size="9.6" fill="#111">Signal</text>
<rect x="629.9" y="128.2" width="5.2" height="25.3" fill="url(#sig)"/>
<text x="635.9" y="132.9" font-size="7" fill="#111">80</text>
<text x="635.9" y="138.6" font-size="7" fill="#111">60</text>
<text x="635.9" y="144.4" font-size="7" fill="#111">40</text>
<text x="635.9" y="150" font-size="7" fill="#111">20</text>
<text x="635.9" y="156" font-size="7" fill="#111">0</text>
</g>
<g id="panel-d">
<text x="16.6" y="230.7" font-size="14.5" font-weight="bold" fill="#231815">d</text>
<text x="170" y="237.1" font-size="11"><tspan font-style="italic">Lyz2</tspan><tspan font-size="6.6" dy="-3.3">cre</tspan><tspan font-style="italic" dy="3.3">Ei24</tspan><tspan font-size="6.6" dy="-3.3">fl/fl</tspan><tspan dy="3.3"> versus </tspan><tspan font-style="italic">Ei24</tspan><tspan font-size="6.6" dy="-3.3">fl/fl</tspan></text>
<text x="163.7" y="251.8" font-size="9.05" text-anchor="end" fill="#424242">PI3K−Akt signaling pathway</text>
<line x1="165.7" y1="249" x2="167.5" y2="249" stroke="#333" stroke-width="0.8"/>
<text x="163.7" y="260.13" font-size="9.05" text-anchor="end" fill="#424242">MAPK signaling pathway</text>
<line x1="165.7" y1="257.33" x2="167.5" y2="257.33" stroke="#333" stroke-width="0.8"/>
<text x="163.7" y="268.45" font-size="9.05" text-anchor="end" fill="#424242">Regulation of actin cytoskeleton</text>
<line x1="165.7" y1="265.65" x2="167.5" y2="265.65" stroke="#333" stroke-width="0.8"/>
<text x="163.7" y="276.78" font-size="9.05" text-anchor="end" fill="#424242">Endocytosis</text>
<line x1="165.7" y1="273.98" x2="167.5" y2="273.98" stroke="#333" stroke-width="0.8"/>
<text x="163.7" y="285.11" font-size="9.05" text-anchor="end" fill="#424242">cAMP signaling pathway</text>
<line x1="165.7" y1="282.31" x2="167.5" y2="282.31" stroke="#333" stroke-width="0.8"/>
<text x="163.7" y="293.44" font-size="9.05" text-anchor="end" fill="#424242">Calcium signaling pathway</text>
<line x1="165.7" y1="290.64" x2="167.5" y2="290.64" stroke="#333" stroke-width="0.8"/>
<text x="163.7" y="301.76" font-size="9.05" text-anchor="end" fill="#424242">Efferocytosis</text>
<line x1="165.7" y1="298.96" x2="167.5" y2="298.96" stroke="#333" stroke-width="0.8"/>
<text x="163.7" y="310.09" font-size="9.05" text-anchor="end" fill="#424242">JAK−STAT signaling pathway</text>
<line x1="165.7" y1="307.29" x2="167.5" y2="307.29" stroke="#333" stroke-width="0.8"/>
<text x="163.7" y="318.42" font-size="9.05" text-anchor="end" fill="#424242">Chemokine signaling pathway</text>
<line x1="165.7" y1="315.62" x2="167.5" y2="315.62" stroke="#333" stroke-width="0.8"/>
<text x="163.7" y="326.75" font-size="9.05" text-anchor="end" fill="#424242">mTOR signaling pathway</text>
<line x1="165.7" y1="323.95" x2="167.5" y2="323.95" stroke="#333" stroke-width="0.8"/>
<text x="163.7" y="335.07" font-size="9.05" text-anchor="end" fill="#424242">Autophagy − animal</text>
<line x1="165.7" y1="332.27" x2="167.5" y2="332.27" stroke="#333" stroke-width="0.8"/>
<text x="163.7" y="343.4" font-size="9.05" text-anchor="end" fill="#424242">Apoptosis</text>
<line x1="165.7" y1="340.6" x2="167.5" y2="340.6" stroke="#333" stroke-width="0.8"/>
<text x="163.7" y="351.73" font-size="9.05" text-anchor="end" fill="#424242">T cell receptor signaling pathway</text>
<line x1="165.7" y1="348.93" x2="167.5" y2="348.93" stroke="#333" stroke-width="0.8"/>
<text x="163.7" y="360.05" font-size="9.05" text-anchor="end" fill="#424242">Glycerophospholipid metabolism</text>
<line x1="165.7" y1="357.25" x2="167.5" y2="357.25" stroke="#333" stroke-width="0.8"/>
<text x="163.7" y="368.38" font-size="9.05" text-anchor="end" fill="#424242">C−type lectin receptor signaling pathway</text>
<line x1="165.7" y1="365.58" x2="167.5" y2="365.58" stroke="#333" stroke-width="0.8"/>
<text x="163.7" y="376.71" font-size="9.05" text-anchor="end" fill="#424242">TNF signaling pathway</text>
<line x1="165.7" y1="373.91" x2="167.5" y2="373.91" stroke="#333" stroke-width="0.8"/>
<text x="163.7" y="385.04" font-size="9.05" text-anchor="end" fill="#424242">Glucagon signaling pathway</text>
<line x1="165.7" y1="382.24" x2="167.5" y2="382.24" stroke="#333" stroke-width="0.8"/>
<text x="163.7" y="393.36" font-size="9.05" text-anchor="end" fill="#424242">HIF−1 signaling pathway</text>
<line x1="165.7" y1="390.56" x2="167.5" y2="390.56" stroke="#333" stroke-width="0.8"/>
<text x="163.7" y="401.69" font-size="9.05" text-anchor="end" fill="#424242">TGF−beta signaling pathway</text>
<line x1="165.7" y1="398.89" x2="167.5" y2="398.89" stroke="#333" stroke-width="0.8"/>
<text x="163.7" y="410.02" font-size="9.05" text-anchor="end" fill="#424242">NF−kappa B signaling pathway</text>
<line x1="165.7" y1="407.22" x2="167.5" y2="407.22" stroke="#333" stroke-width="0.8"/>
<text x="163.7" y="418.35" font-size="9.05" text-anchor="end" fill="#424242">Fc gamma R−mediated phagocytosis</text>
<line x1="165.7" y1="415.55" x2="167.5" y2="415.55" stroke="#333" stroke-width="0.8"/>
<text x="163.7" y="426.67" font-size="9.05" text-anchor="end" fill="#424242">Th1 and Th2 cell differentiation</text>
<line x1="165.7" y1="423.87" x2="167.5" y2="423.87" stroke="#333" stroke-width="0.8"/>
<text x="163.7" y="435" font-size="9.05" text-anchor="end" fill="#424242">Toll−like receptor signaling pathway</text>
<line x1="165.7" y1="432.2" x2="167.5" y2="432.2" stroke="#333" stroke-width="0.8"/>
<clipPath id="cd"><rect x="167.5" y="244.5" width="137" height="193"/></clipPath>
<g clip-path="url(#cd)">
<circle cx="297.9" cy="249" r="5.8" fill="#ea2a24"/>
<circle cx="277.7" cy="257.33" r="5.3" fill="#ea2a24"/>
<circle cx="261.2" cy="265.65" r="5" fill="#ea2a24"/>
<circle cx="251.2" cy="273.98" r="4.7" fill="#ea2a24"/>
<circle cx="246.7" cy="282.31" r="4.7" fill="#ea2a24"/>
<circle cx="239.3" cy="290.64" r="4.5" fill="#ea2a24"/>
<circle cx="227.8" cy="298.96" r="4.2" fill="#ea2a24"/>
<circle cx="223.3" cy="307.29" r="4.2" fill="#ea2a24"/>
<circle cx="216" cy="315.62" r="4" fill="#ea2a24"/>
<circle cx="207.3" cy="323.95" r="3.7" fill="#ea2a24"/>
<circle cx="206" cy="332.27" r="3.7" fill="#ea2a24"/>
<circle cx="204.7" cy="340.6" r="3.7" fill="#ea2a24"/>
<circle cx="195.7" cy="348.93" r="3.4" fill="#ea2a24"/>
<circle cx="192.8" cy="357.25" r="3.3" fill="#ea2a24"/>
<circle cx="191.3" cy="365.58" r="3.3" fill="#ea2a24"/>
<circle cx="190" cy="373.91" r="3.2" fill="#ea2a24"/>
<circle cx="185.2" cy="382.24" r="3" fill="#ea2a24"/>
<circle cx="182.3" cy="390.56" r="2.8" fill="#dc2950"/>
<circle cx="179.4" cy="398.89" r="2.7" fill="#c82f7c"/>
<circle cx="179.4" cy="407.22" r="2.6" fill="#d82a5c"/>
<circle cx="179.4" cy="415.55" r="2.6" fill="#e62a34"/>
<circle cx="177.9" cy="423.87" r="2.4" fill="#ea2a24"/>
<circle cx="173.7" cy="432.2" r="1.5" fill="#2b49a6"/>
</g>
<rect x="167.5" y="244.5" width="137" height="193" fill="none" stroke="#333" stroke-width="1"/>
<text x="192.3" y="450.1" font-size="11" text-anchor="middle" fill="#424242">0.02</text>
<line x1="192.3" y1="437.5" x2="192.3" y2="439.3" stroke="#333" stroke-width="0.8"/>
<text x="224.9" y="450.1" font-size="11" text-anchor="middle" fill="#424242">0.03</text>
<line x1="225.2" y1="437.5" x2="225.2" y2="439.3" stroke="#333" stroke-width="0.8"/>
<text x="258" y="450.1" font-size="11" text-anchor="middle" fill="#424242">0.04</text>
<line x1="258" y1="437.5" x2="258" y2="439.3" stroke="#333" stroke-width="0.8"/>
<text x="294" y="450.1" font-size="11" text-anchor="middle" fill="#424242">0.05</text>
<line x1="290.8" y1="437.5" x2="290.8" y2="439.3" stroke="#333" stroke-width="0.8"/>
<text x="242" y="459.6" font-size="11" text-anchor="middle">GeneRatio</text>
<text x="310.6" y="266.8" font-size="11">Count</text>
<circle cx="316.9" cy="278.9" r="2.6" fill="#000"/>
<text x="327.4" y="281.6" font-size="11">40</text>
<circle cx="316.9" cy="291.7" r="3.4" fill="#000"/>
<text x="327.4" y="294.4" font-size="11">60</text>
<circle cx="316.9" cy="305.4" r="4.2" fill="#000"/>
<text x="327.4" y="308.1" font-size="11">80</text>
<circle cx="316.9" cy="319.1" r="5" fill="#000"/>
<text x="327.4" y="321.8" font-size="11">100</text>
<text x="310.6" y="349.7" font-size="11">pvalue</text>
<defs><linearGradient id="pv" x1="0" x2="0" y1="0" y2="1"><stop offset="0" stop-color="#2f4bb0"/><stop offset="0.25" stop-color="#6a3aa8"/><stop offset="0.5" stop-color="#b3279a"/><stop offset="0.75" stop-color="#dd2760"/><stop offset="1" stop-color="#ee2424"/></linearGradient></defs>
<rect x="310.3" y="355" width="13.4" height="66.4" fill="url(#pv)"/>
<line x1="310.3" y1="370.2" x2="313" y2="370.2" stroke="#fff" stroke-width="0.8"/>
<line x1="321" y1="370.2" x2="323.7" y2="370.2" stroke="#fff" stroke-width="0.8"/>
<text x="327.4" y="373.2" font-size="11">0.03</text>
<line x1="310.3" y1="386.8" x2="313" y2="386.8" stroke="#fff" stroke-width="0.8"/>
<line x1="321" y1="386.8" x2="323.7" y2="386.8" stroke="#fff" stroke-width="0.8"/>
<text x="327.4" y="389.8" font-size="11">0.02</text>
<line x1="310.3" y1="404.4" x2="313" y2="404.4" stroke="#fff" stroke-width="0.8"/>
<line x1="321" y1="404.4" x2="323.7" y2="404.4" stroke="#fff" stroke-width="0.8"/>
<text x="327.4" y="407.4" font-size="11">0.01</text>
</g>
<g id="panel-e">
<text x="341.3" y="230.7" font-size="14.5" font-weight="bold" fill="#231815">e</text>
<line x1="358.4" y1="258.1" x2="516" y2="258.1" stroke="#0a0a0a" stroke-width="1.25"/>
<line x1="358.4" y1="281.7" x2="516" y2="281.7" stroke="#0a0a0a" stroke-width="1.25"/>
<line x1="358.4" y1="305.1" x2="516" y2="305.1" stroke="#0a0a0a" stroke-width="1.25"/>
<line x1="358.4" y1="328.5" x2="516" y2="328.5" stroke="#0a0a0a" stroke-width="1.25"/>
<line x1="358.4" y1="351.8" x2="516" y2="351.8" stroke="#0a0a0a" stroke-width="1.25"/>
<line x1="358.4" y1="375.2" x2="516" y2="375.2" stroke="#0a0a0a" stroke-width="1.25"/>
<line x1="358.4" y1="398.6" x2="516" y2="398.6" stroke="#0a0a0a" stroke-width="1.25"/>
<line x1="522.3" y1="258.1" x2="679.9" y2="258.1" stroke="#0a0a0a" stroke-width="1.25"/>
<line x1="522.3" y1="281.7" x2="679.9" y2="281.7" stroke="#0a0a0a" stroke-width="1.25"/>
<line x1="522.3" y1="305.1" x2="679.9" y2="305.1" stroke="#0a0a0a" stroke-width="1.25"/>
<line x1="522.3" y1="328.5" x2="679.9" y2="328.5" stroke="#0a0a0a" stroke-width="1.25"/>
<line x1="522.3" y1="351.8" x2="679.9" y2="351.8" stroke="#0a0a0a" stroke-width="1.25"/>
<line x1="522.3" y1="375.2" x2="679.9" y2="375.2" stroke="#0a0a0a" stroke-width="1.25"/>
<line x1="522.3" y1="398.6" x2="679.9" y2="398.6" stroke="#0a0a0a" stroke-width="1.25"/>
<text x="386.8" y="272.2" font-size="9.6" text-anchor="middle" fill="#1a1a1a">Motif</text><text x="423" y="272.2" font-size="9.6" text-anchor="middle" fill="#1a1a1a">P-value</text><text x="478.7" y="272.2" font-size="9.6" text-anchor="middle" fill="#1a1a1a">Pattern</text>
<text x="551.6" y="272.2" font-size="9.6" text-anchor="middle" fill="#1a1a1a">Motif</text><text x="589" y="272.2" font-size="9.6" text-anchor="middle" fill="#1a1a1a">P-value</text><text x="644.6" y="272.2" font-size="9.6" text-anchor="middle" fill="#1a1a1a">Pattern</text>
<text x="386.8" y="295.5" font-size="9.6" text-anchor="middle" fill="#1a1a1a">Fra1</text><text x="423" y="295.5" font-size="9.6" text-anchor="middle" fill="#1a1a1a">1e-950</text>
<text x="386.8" y="318.9" font-size="9.6" text-anchor="middle" fill="#1a1a1a">Fos</text><text x="423" y="318.9" font-size="9.6" text-anchor="middle" fill="#1a1a1a">1e-935</text>
<text x="386.8" y="342.25" font-size="9.6" text-anchor="middle" fill="#1a1a1a">Atf3</text><text x="423" y="342.25" font-size="9.6" text-anchor="middle" fill="#1a1a1a">1e-921</text>
<text x="386.8" y="365.6" font-size="9.6" text-anchor="middle" fill="#1a1a1a">JunB</text><text x="423" y="365.6" font-size="9.6" text-anchor="middle" fill="#1a1a1a">1e-906</text>
<text x="386.8" y="389" font-size="9.6" text-anchor="middle" fill="#1a1a1a">Fra2</text><text x="423" y="389" font-size="9.6" text-anchor="middle" fill="#1a1a1a">1e-903</text>
<text x="551.6" y="295.5" font-size="9.6" text-anchor="middle" fill="#1a1a1a">BATF</text><text x="589" y="295.5" font-size="9.6" text-anchor="middle" fill="#1a1a1a">1e-866</text>
<text x="551.6" y="318.9" font-size="9.6" text-anchor="middle" fill="#1a1a1a">AP-1</text><text x="589" y="318.9" font-size="9.6" text-anchor="middle" fill="#1a1a1a">1e-848</text>
<text x="551.6" y="342.25" font-size="9.6" text-anchor="middle" fill="#1a1a1a">Fosl2</text><text x="589" y="342.25" font-size="9.6" text-anchor="middle" fill="#1a1a1a">1e-843</text>
<text x="551.6" y="365.6" font-size="9.6" text-anchor="middle" fill="#1a1a1a">Jun-AP1</text><text x="589" y="365.6" font-size="9.6" text-anchor="middle" fill="#1a1a1a">1e-738</text>
<text x="551.6" y="389" font-size="9.6" text-anchor="middle" fill="#1a1a1a">Bach2</text><text x="589" y="389" font-size="9.6" text-anchor="middle" fill="#1a1a1a">1e-401</text>
<text transform="translate(445.98 298) scale(0.89 0.344)" font-size="10" font-weight="bold" text-anchor="middle" fill="#2ea12e">A</text><text transform="translate(445.98 295.54) scale(0.83 0.344)" font-size="10" font-weight="bold" text-anchor="middle" fill="#2450b8">C</text><text transform="translate(445.98 293.08) scale(0.98 0.515)" font-size="10" font-weight="bold" text-anchor="middle" fill="#e03a22">T</text><text transform="translate(445.98 289.39) scale(0.77 0.515)" font-size="10" font-weight="bold" text-anchor="middle" fill="#eea11d">G</text><text transform="translate(451.95 298) scale(0.83 0.344)" font-size="10" font-weight="bold" text-anchor="middle" fill="#2450b8">C</text><text transform="translate(451.95 295.54) scale(0.98 0.344)" font-size="10" font-weight="bold" text-anchor="middle" fill="#e03a22">T</text><text transform="translate(451.95 293.08) scale(0.89 0.515)" font-size="10" font-weight="bold" text-anchor="middle" fill="#2ea12e">A</text><text transform="translate(451.95 289.39) scale(0.77 0.515)" font-size="10" font-weight="bold" text-anchor="middle" fill="#eea11d">G</text><text transform="translate(457.92 298) scale(0.98 0.172)" font-size="10" font-weight="bold" text-anchor="middle" fill="#e03a22">T</text><text transform="translate(457.92 296.77) scale(0.83 0.344)" font-size="10" font-weight="bold" text-anchor="middle" fill="#2450b8">C</text><text transform="translate(457.92 294.31) scale(0.77 0.515)" font-size="10" font-weight="bold" text-anchor="middle" fill="#eea11d">G</text><text transform="translate(457.92 290.62) scale(0.89 0.687)" font-size="10" font-weight="bold" text-anchor="middle" fill="#2ea12e">A</text><text transform="translate(463.88 298) scale(0.98 1.718)" font-size="10" font-weight="bold" text-anchor="middle" fill="#e03a22">T</text><text transform="translate(469.85 298) scale(0.98 0.172)" font-size="10" font-weight="bold" text-anchor="middle" fill="#e03a22">T</text><text transform="translate(469.85 296.77) scale(0.77 1.546)" font-size="10" font-weight="bold" text-anchor="middle" fill="#eea11d">G</text><text transform="translate(475.82 298) scale(0.89 1.718)" font-size="10" font-weight="bold" text-anchor="middle" fill="#2ea12e">A</text><text transform="translate(481.78 298) scale(0.89 0.172)" font-size="10" font-weight="bold" text-anchor="middle" fill="#2ea12e">A</text><text transform="translate(481.78 296.77) scale(0.83 0.687)" font-size="10" font-weight="bold" text-anchor="middle" fill="#2450b8">C</text><text transform="translate(481.78 291.85) scale(0.77 0.859)" font-size="10" font-weight="bold" text-anchor="middle" fill="#eea11d">G</text><text transform="translate(487.75 298) scale(0.98 1.718)" font-size="10" font-weight="bold" text-anchor="middle" fill="#e03a22">T</text><text transform="translate(493.72 298) scale(0.89 0.172)" font-size="10" font-weight="bold" text-anchor="middle" fill="#2ea12e">A</text><text transform="translate(493.72 296.77) scale(0.83 1.546)" font-size="10" font-weight="bold" text-anchor="middle" fill="#2450b8">C</text><text transform="translate(499.68 298) scale(0.89 1.718)" font-size="10" font-weight="bold" text-anchor="middle" fill="#2ea12e">A</text><text transform="translate(505.65 298) scale(0.89 0.172)" font-size="10" font-weight="bold" text-anchor="middle" fill="#2ea12e">A</text><text transform="translate(505.65 296.77) scale(0.77 0.344)" font-size="10" font-weight="bold" text-anchor="middle" fill="#eea11d">G</text><text transform="translate(505.65 294.31) scale(0.83 0.515)" font-size="10" font-weight="bold" text-anchor="middle" fill="#2450b8">C</text><text transform="translate(505.65 290.62) scale(0.98 0.687)" font-size="10" font-weight="bold" text-anchor="middle" fill="#e03a22">T</text><text transform="translate(511.62 298) scale(0.77 0.344)" font-size="10" font-weight="bold" text-anchor="middle" fill="#eea11d">G</text><text transform="translate(511.62 295.54) scale(0.98 0.344)" font-size="10" font-weight="bold" text-anchor="middle" fill="#e03a22">T</text><text transform="translate(511.62 293.08) scale(0.89 0.515)" font-size="10" font-weight="bold" text-anchor="middle" fill="#2ea12e">A</text><text transform="translate(511.62 289.39) scale(0.83 0.515)" font-size="10" font-weight="bold" text-anchor="middle" fill="#2450b8">C</text>
<text transform="translate(446.89 321.4) scale(0.87 0.344)" font-size="10" font-weight="bold" text-anchor="middle" fill="#2ea12e">A</text><text transform="translate(446.89 318.94) scale(0.8 0.344)" font-size="10" font-weight="bold" text-anchor="middle" fill="#2450b8">C</text><text transform="translate(446.89 316.48) scale(0.95 0.515)" font-size="10" font-weight="bold" text-anchor="middle" fill="#e03a22">T</text><text transform="translate(446.89 312.79) scale(0.74 0.515)" font-size="10" font-weight="bold" text-anchor="middle" fill="#eea11d">G</text><text transform="translate(452.68 321.4) scale(0.8 0.344)" font-size="10" font-weight="bold" text-anchor="middle" fill="#2450b8">C</text><text transform="translate(452.68 318.94) scale(0.87 0.344)" font-size="10" font-weight="bold" text-anchor="middle" fill="#2ea12e">A</text><text transform="translate(452.68 316.48) scale(0.95 0.515)" font-size="10" font-weight="bold" text-anchor="middle" fill="#e03a22">T</text><text transform="translate(452.68 312.79) scale(0.74 0.515)" font-size="10" font-weight="bold" text-anchor="middle" fill="#eea11d">G</text><text transform="translate(458.46 321.4) scale(0.95 0.172)" font-size="10" font-weight="bold" text-anchor="middle" fill="#e03a22">T</text><text transform="translate(458.46 320.17) scale(0.8 0.344)" font-size="10" font-weight="bold" text-anchor="middle" fill="#2450b8">C</text><text transform="translate(458.46 317.71) scale(0.74 0.515)" font-size="10" font-weight="bold" text-anchor="middle" fill="#eea11d">G</text><text transform="translate(458.46 314.02) scale(0.87 0.687)" font-size="10" font-weight="bold" text-anchor="middle" fill="#2ea12e">A</text><text transform="translate(464.24 321.4) scale(0.95 1.718)" font-size="10" font-weight="bold" text-anchor="middle" fill="#e03a22">T</text><text transform="translate(470.02 321.4) scale(0.95 0.172)" font-size="10" font-weight="bold" text-anchor="middle" fill="#e03a22">T</text><text transform="translate(470.02 320.17) scale(0.74 1.546)" font-size="10" font-weight="bold" text-anchor="middle" fill="#eea11d">G</text><text transform="translate(475.81 321.4) scale(0.87 1.718)" font-size="10" font-weight="bold" text-anchor="middle" fill="#2ea12e">A</text><text transform="translate(481.59 321.4) scale(0.87 0.172)" font-size="10" font-weight="bold" text-anchor="middle" fill="#2ea12e">A</text><text transform="translate(481.59 320.17) scale(0.8 0.687)" font-size="10" font-weight="bold" text-anchor="middle" fill="#2450b8">C</text><text transform="translate(481.59 315.25) scale(0.74 0.859)" font-size="10" font-weight="bold" text-anchor="middle" fill="#eea11d">G</text><text transform="translate(487.38 321.4) scale(0.95 1.718)" font-size="10" font-weight="bold" text-anchor="middle" fill="#e03a22">T</text><text transform="translate(493.16 321.4) scale(0.87 0.172)" font-size="10" font-weight="bold" text-anchor="middle" fill="#2ea12e">A</text><text transform="translate(493.16 320.17) scale(0.8 1.546)" font-size="10" font-weight="bold" text-anchor="middle" fill="#2450b8">C</text><text transform="translate(498.94 321.4) scale(0.87 1.718)" font-size="10" font-weight="bold" text-anchor="middle" fill="#2ea12e">A</text><text transform="translate(504.72 321.4) scale(0.87 0.172)" font-size="10" font-weight="bold" text-anchor="middle" fill="#2ea12e">A</text><text transform="translate(504.72 320.17) scale(0.74 0.344)" font-size="10" font-weight="bold" text-anchor="middle" fill="#eea11d">G</text><text transform="translate(504.72 317.71) scale(0.8 0.515)" font-size="10" font-weight="bold" text-anchor="middle" fill="#2450b8">C</text><text transform="translate(504.72 314.02) scale(0.95 0.687)" font-size="10" font-weight="bold" text-anchor="middle" fill="#e03a22">T</text><text transform="translate(510.51 321.4) scale(0.74 0.344)" font-size="10" font-weight="bold" text-anchor="middle" fill="#eea11d">G</text><text transform="translate(510.51 318.94) scale(0.87 0.344)" font-size="10" font-weight="bold" text-anchor="middle" fill="#2ea12e">A</text><text transform="translate(510.51 316.48) scale(0.95 0.515)" font-size="10" font-weight="bold" text-anchor="middle" fill="#e03a22">T</text><text transform="translate(510.51 312.79) scale(0.8 0.515)" font-size="10" font-weight="bold" text-anchor="middle" fill="#2450b8">C</text>
<text transform="translate(446.89 344.75) scale(0.8 0.344)" font-size="10" font-weight="bold" text-anchor="middle" fill="#2450b8">C</text><text transform="translate(446.89 342.29) scale(0.95 0.344)" font-size="10" font-weight="bold" text-anchor="middle" fill="#e03a22">T</text><text transform="translate(446.89 339.83) scale(0.87 0.515)" font-size="10" font-weight="bold" text-anchor="middle" fill="#2ea12e">A</text><text transform="translate(446.89 336.14) scale(0.74 0.515)" font-size="10" font-weight="bold" text-anchor="middle" fill="#eea11d">G</text><text transform="translate(452.68 344.75) scale(0.95 0.172)" font-size="10" font-weight="bold" text-anchor="middle" fill="#e03a22">T</text><text transform="translate(452.68 343.52) scale(0.8 0.344)" font-size="10" font-weight="bold" text-anchor="middle" fill="#2450b8">C</text><text transform="translate(452.68 341.06) scale(0.74 0.515)" font-size="10" font-weight="bold" text-anchor="middle" fill="#eea11d">G</text><text transform="translate(452.68 337.37) scale(0.87 0.687)" font-size="10" font-weight="bold" text-anchor="middle" fill="#2ea12e">A</text><text transform="translate(458.46 344.75) scale(0.95 1.718)" font-size="10" font-weight="bold" text-anchor="middle" fill="#e03a22">T</text><text transform="translate(464.24 344.75) scale(0.95 0.172)" font-size="10" font-weight="bold" text-anchor="middle" fill="#e03a22">T</text><text transform="translate(464.24 343.52) scale(0.74 1.546)" font-size="10" font-weight="bold" text-anchor="middle" fill="#eea11d">G</text><text transform="translate(470.02 344.75) scale(0.87 1.718)" font-size="10" font-weight="bold" text-anchor="middle" fill="#2ea12e">A</text><text transform="translate(475.81 344.75) scale(0.87 0.172)" font-size="10" font-weight="bold" text-anchor="middle" fill="#2ea12e">A</text><text transform="translate(475.81 343.52) scale(0.74 0.687)" font-size="10" font-weight="bold" text-anchor="middle" fill="#eea11d">G</text><text transform="translate(475.81 338.6) scale(0.8 0.859)" font-size="10" font-weight="bold" text-anchor="middle" fill="#2450b8">C</text><text transform="translate(481.59 344.75) scale(0.95 1.718)" font-size="10" font-weight="bold" text-anchor="middle" fill="#e03a22">T</text><text transform="translate(487.38 344.75) scale(0.87 0.172)" font-size="10" font-weight="bold" text-anchor="middle" fill="#2ea12e">A</text><text transform="translate(487.38 343.52) scale(0.8 1.546)" font-size="10" font-weight="bold" text-anchor="middle" fill="#2450b8">C</text><text transform="translate(493.16 344.75) scale(0.87 1.718)" font-size="10" font-weight="bold" text-anchor="middle" fill="#2ea12e">A</text><text transform="translate(498.94 344.75) scale(0.87 0.172)" font-size="10" font-weight="bold" text-anchor="middle" fill="#2ea12e">A</text><text transform="translate(498.94 343.52) scale(0.8 0.344)" font-size="10" font-weight="bold" text-anchor="middle" fill="#2450b8">C</text><text transform="translate(498.94 341.06) scale(0.74 0.515)" font-size="10" font-weight="bold" text-anchor="middle" fill="#eea11d">G</text><text transform="translate(498.94 337.37) scale(0.95 0.687)" font-size="10" font-weight="bold" text-anchor="middle" fill="#e03a22">T</text><text transform="translate(504.72 344.75) scale(0.74 0.344)" font-size="10" font-weight="bold" text-anchor="middle" fill="#eea11d">G</text><text transform="translate(504.72 342.29) scale(0.95 0.344)" font-size="10" font-weight="bold" text-anchor="middle" fill="#e03a22">T</text><text transform="translate(504.72 339.83) scale(0.87 0.515)" font-size="10" font-weight="bold" text-anchor="middle" fill="#2ea12e">A</text><text transform="translate(504.72 336.14) scale(0.8 0.515)" font-size="10" font-weight="bold" text-anchor="middle" fill="#2450b8">C</text><text transform="translate(510.51 344.75) scale(0.74 0.344)" font-size="10" font-weight="bold" text-anchor="middle" fill="#eea11d">G</text><text transform="translate(510.51 342.29) scale(0.95 0.344)" font-size="10" font-weight="bold" text-anchor="middle" fill="#e03a22">T</text><text transform="translate(510.51 339.83) scale(0.87 0.515)" font-size="10" font-weight="bold" text-anchor="middle" fill="#2ea12e">A</text><text transform="translate(510.51 336.14) scale(0.8 0.515)" font-size="10" font-weight="bold" text-anchor="middle" fill="#2450b8">C</text>
<text transform="translate(452 368.1) scale(0.83 0.344)" font-size="10" font-weight="bold" text-anchor="middle" fill="#2450b8">C</text><text transform="translate(452 365.64) scale(0.98 0.344)" font-size="10" font-weight="bold" text-anchor="middle" fill="#e03a22">T</text><text transform="translate(452 363.18) scale(0.9 0.515)" font-size="10" font-weight="bold" text-anchor="middle" fill="#2ea12e">A</text><text transform="translate(452 359.49) scale(0.77 0.515)" font-size="10" font-weight="bold" text-anchor="middle" fill="#eea11d">G</text><text transform="translate(458 368.1) scale(0.98 0.172)" font-size="10" font-weight="bold" text-anchor="middle" fill="#e03a22">T</text><text transform="translate(458 366.87) scale(0.83 0.344)" font-size="10" font-weight="bold" text-anchor="middle" fill="#2450b8">C</text><text transform="translate(458 364.41) scale(0.77 0.515)" font-size="10" font-weight="bold" text-anchor="middle" fill="#eea11d">G</text><text transform="translate(458 360.72) scale(0.9 0.687)" font-size="10" font-weight="bold" text-anchor="middle" fill="#2ea12e">A</text><text transform="translate(464 368.1) scale(0.98 1.718)" font-size="10" font-weight="bold" text-anchor="middle" fill="#e03a22">T</text><text transform="translate(470 368.1) scale(0.98 0.172)" font-size="10" font-weight="bold" text-anchor="middle" fill="#e03a22">T</text><text transform="translate(470 366.87) scale(0.77 1.546)" font-size="10" font-weight="bold" text-anchor="middle" fill="#eea11d">G</text><text transform="translate(476 368.1) scale(0.9 1.718)" font-size="10" font-weight="bold" text-anchor="middle" fill="#2ea12e">A</text><text transform="translate(482 368.1) scale(0.9 0.172)" font-size="10" font-weight="bold" text-anchor="middle" fill="#2ea12e">A</text><text transform="translate(482 366.87) scale(0.77 0.687)" font-size="10" font-weight="bold" text-anchor="middle" fill="#eea11d">G</text><text transform="translate(482 361.95) scale(0.83 0.859)" font-size="10" font-weight="bold" text-anchor="middle" fill="#2450b8">C</text><text transform="translate(488 368.1) scale(0.98 1.718)" font-size="10" font-weight="bold" text-anchor="middle" fill="#e03a22">T</text><text transform="translate(494 368.1) scale(0.9 0.172)" font-size="10" font-weight="bold" text-anchor="middle" fill="#2ea12e">A</text><text transform="translate(494 366.87) scale(0.83 1.546)" font-size="10" font-weight="bold" text-anchor="middle" fill="#2450b8">C</text><text transform="translate(500 368.1) scale(0.9 1.718)" font-size="10" font-weight="bold" text-anchor="middle" fill="#2ea12e">A</text><text transform="translate(506 368.1) scale(0.9 0.172)" font-size="10" font-weight="bold" text-anchor="middle" fill="#2ea12e">A</text><text transform="translate(506 366.87) scale(0.83 0.344)" font-size="10" font-weight="bold" text-anchor="middle" fill="#2450b8">C</text><text transform="translate(506 364.41) scale(0.77 0.515)" font-size="10" font-weight="bold" text-anchor="middle" fill="#eea11d">G</text><text transform="translate(506 360.72) scale(0.98 0.687)" font-size="10" font-weight="bold" text-anchor="middle" fill="#e03a22">T</text>
<text transform="translate(445.98 391.5) scale(0.89 0.344)" font-size="10" font-weight="bold" text-anchor="middle" fill="#2ea12e">A</text><text transform="translate(445.98 389.04) scale(0.83 0.344)" font-size="10" font-weight="bold" text-anchor="middle" fill="#2450b8">C</text><text transform="translate(445.98 386.58) scale(0.98 0.515)" font-size="10" font-weight="bold" text-anchor="middle" fill="#e03a22">T</text><text transform="translate(445.98 382.89) scale(0.77 0.515)" font-size="10" font-weight="bold" text-anchor="middle" fill="#eea11d">G</text><text transform="translate(451.95 391.5) scale(0.83 0.344)" font-size="10" font-weight="bold" text-anchor="middle" fill="#2450b8">C</text><text transform="translate(451.95 389.04) scale(0.89 0.344)" font-size="10" font-weight="bold" text-anchor="middle" fill="#2ea12e">A</text><text transform="translate(451.95 386.58) scale(0.98 0.515)" font-size="10" font-weight="bold" text-anchor="middle" fill="#e03a22">T</text><text transform="translate(451.95 382.89) scale(0.77 0.515)" font-size="10" font-weight="bold" text-anchor="middle" fill="#eea11d">G</text><text transform="translate(457.92 391.5) scale(0.98 0.172)" font-size="10" font-weight="bold" text-anchor="middle" fill="#e03a22">T</text><text transform="translate(457.92 390.27) scale(0.83 0.344)" font-size="10" font-weight="bold" text-anchor="middle" fill="#2450b8">C</text><text transform="translate(457.92 387.81) scale(0.77 0.515)" font-size="10" font-weight="bold" text-anchor="middle" fill="#eea11d">G</text><text transform="translate(457.92 384.12) scale(0.89 0.687)" font-size="10" font-weight="bold" text-anchor="middle" fill="#2ea12e">A</text><text transform="translate(463.88 391.5) scale(0.98 1.718)" font-size="10" font-weight="bold" text-anchor="middle" fill="#e03a22">T</text><text transform="translate(469.85 391.5) scale(0.98 0.172)" font-size="10" font-weight="bold" text-anchor="middle" fill="#e03a22">T</text><text transform="translate(469.85 390.27) scale(0.77 1.546)" font-size="10" font-weight="bold" text-anchor="middle" fill="#eea11d">G</text><text transform="translate(475.82 391.5) scale(0.89 1.718)" font-size="10" font-weight="bold" text-anchor="middle" fill="#2ea12e">A</text><text transform="translate(481.78 391.5) scale(0.89 0.172)" font-size="10" font-weight="bold" text-anchor="middle" fill="#2ea12e">A</text><text transform="translate(481.78 390.27) scale(0.77 0.687)" font-size="10" font-weight="bold" text-anchor="middle" fill="#eea11d">G</text><text transform="translate(481.78 385.35) scale(0.83 0.859)" font-size="10" font-weight="bold" text-anchor="middle" fill="#2450b8">C</text><text transform="translate(487.75 391.5) scale(0.98 1.718)" font-size="10" font-weight="bold" text-anchor="middle" fill="#e03a22">T</text><text transform="translate(493.72 391.5) scale(0.89 0.172)" font-size="10" font-weight="bold" text-anchor="middle" fill="#2ea12e">A</text><text transform="translate(493.72 390.27) scale(0.83 1.546)" font-size="10" font-weight="bold" text-anchor="middle" fill="#2450b8">C</text><text transform="translate(499.68 391.5) scale(0.89 1.718)" font-size="10" font-weight="bold" text-anchor="middle" fill="#2ea12e">A</text><text transform="translate(505.65 391.5) scale(0.89 0.172)" font-size="10" font-weight="bold" text-anchor="middle" fill="#2ea12e">A</text><text transform="translate(505.65 390.27) scale(0.77 0.344)" font-size="10" font-weight="bold" text-anchor="middle" fill="#eea11d">G</text><text transform="translate(505.65 387.81) scale(0.83 0.515)" font-size="10" font-weight="bold" text-anchor="middle" fill="#2450b8">C</text><text transform="translate(505.65 384.12) scale(0.98 0.687)" font-size="10" font-weight="bold" text-anchor="middle" fill="#e03a22">T</text><text transform="translate(511.62 391.5) scale(0.77 0.344)" font-size="10" font-weight="bold" text-anchor="middle" fill="#eea11d">G</text><text transform="translate(511.62 389.04) scale(0.89 0.344)" font-size="10" font-weight="bold" text-anchor="middle" fill="#2ea12e">A</text><text transform="translate(511.62 386.58) scale(0.98 0.515)" font-size="10" font-weight="bold" text-anchor="middle" fill="#e03a22">T</text><text transform="translate(511.62 382.89) scale(0.83 0.515)" font-size="10" font-weight="bold" text-anchor="middle" fill="#2450b8">C</text>
<text transform="translate(618.4 298) scale(0.75 0.344)" font-size="10" font-weight="bold" text-anchor="middle" fill="#eea11d">G</text><text transform="translate(618.4 295.54) scale(0.8 0.344)" font-size="10" font-weight="bold" text-anchor="middle" fill="#2450b8">C</text><text transform="translate(618.4 293.08) scale(0.87 0.515)" font-size="10" font-weight="bold" text-anchor="middle" fill="#2ea12e">A</text><text transform="translate(618.4 289.39) scale(0.95 0.515)" font-size="10" font-weight="bold" text-anchor="middle" fill="#e03a22">T</text><text transform="translate(624.2 298) scale(0.95 0.172)" font-size="10" font-weight="bold" text-anchor="middle" fill="#e03a22">T</text><text transform="translate(624.2 296.77) scale(0.8 0.344)" font-size="10" font-weight="bold" text-anchor="middle" fill="#2450b8">C</text><text transform="translate(624.2 294.31) scale(0.75 0.515)" font-size="10" font-weight="bold" text-anchor="middle" fill="#eea11d">G</text><text transform="translate(624.2 290.62) scale(0.87 0.687)" font-size="10" font-weight="bold" text-anchor="middle" fill="#2ea12e">A</text><text transform="translate(630 298) scale(0.95 1.718)" font-size="10" font-weight="bold" text-anchor="middle" fill="#e03a22">T</text><text transform="translate(635.8 298) scale(0.95 0.172)" font-size="10" font-weight="bold" text-anchor="middle" fill="#e03a22">T</text><text transform="translate(635.8 296.77) scale(0.75 1.546)" font-size="10" font-weight="bold" text-anchor="middle" fill="#eea11d">G</text><text transform="translate(641.6 298) scale(0.87 1.718)" font-size="10" font-weight="bold" text-anchor="middle" fill="#2ea12e">A</text><text transform="translate(647.4 298) scale(0.87 0.172)" font-size="10" font-weight="bold" text-anchor="middle" fill="#2ea12e">A</text><text transform="translate(647.4 296.77) scale(0.8 0.687)" font-size="10" font-weight="bold" text-anchor="middle" fill="#2450b8">C</text><text transform="translate(647.4 291.85) scale(0.75 0.859)" font-size="10" font-weight="bold" text-anchor="middle" fill="#eea11d">G</text><text transform="translate(653.2 298) scale(0.95 1.718)" font-size="10" font-weight="bold" text-anchor="middle" fill="#e03a22">T</text><text transform="translate(659 298) scale(0.87 0.172)" font-size="10" font-weight="bold" text-anchor="middle" fill="#2ea12e">A</text><text transform="translate(659 296.77) scale(0.8 1.546)" font-size="10" font-weight="bold" text-anchor="middle" fill="#2450b8">C</text><text transform="translate(664.8 298) scale(0.87 1.718)" font-size="10" font-weight="bold" text-anchor="middle" fill="#2ea12e">A</text><text transform="translate(670.6 298) scale(0.87 0.172)" font-size="10" font-weight="bold" text-anchor="middle" fill="#2ea12e">A</text><text transform="translate(670.6 296.77) scale(0.8 0.344)" font-size="10" font-weight="bold" text-anchor="middle" fill="#2450b8">C</text><text transform="translate(670.6 294.31) scale(0.75 0.515)" font-size="10" font-weight="bold" text-anchor="middle" fill="#eea11d">G</text><text transform="translate(670.6 290.62) scale(0.95 0.687)" font-size="10" font-weight="bold" text-anchor="middle" fill="#e03a22">T</text>
<text transform="translate(618.4 321.4) scale(0.95 0.172)" font-size="10" font-weight="bold" text-anchor="middle" fill="#e03a22">T</text><text transform="translate(618.4 320.17) scale(0.8 0.344)" font-size="10" font-weight="bold" text-anchor="middle" fill="#2450b8">C</text><text transform="translate(618.4 317.71) scale(0.75 0.515)" font-size="10" font-weight="bold" text-anchor="middle" fill="#eea11d">G</text><text transform="translate(618.4 314.02) scale(0.87 0.687)" font-size="10" font-weight="bold" text-anchor="middle" fill="#2ea12e">A</text><text transform="translate(624.2 321.4) scale(0.95 1.718)" font-size="10" font-weight="bold" text-anchor="middle" fill="#e03a22">T</text><text transform="translate(630 321.4) scale(0.95 0.172)" font-size="10" font-weight="bold" text-anchor="middle" fill="#e03a22">T</text><text transform="translate(630 320.17) scale(0.75 1.546)" font-size="10" font-weight="bold" text-anchor="middle" fill="#eea11d">G</text><text transform="translate(635.8 321.4) scale(0.87 1.718)" font-size="10" font-weight="bold" text-anchor="middle" fill="#2ea12e">A</text><text transform="translate(641.6 321.4) scale(0.87 0.172)" font-size="10" font-weight="bold" text-anchor="middle" fill="#2ea12e">A</text><text transform="translate(641.6 320.17) scale(0.75 0.687)" font-size="10" font-weight="bold" text-anchor="middle" fill="#eea11d">G</text><text transform="translate(641.6 315.25) scale(0.8 0.859)" font-size="10" font-weight="bold" text-anchor="middle" fill="#2450b8">C</text><text transform="translate(647.4 321.4) scale(0.95 1.718)" font-size="10" font-weight="bold" text-anchor="middle" fill="#e03a22">T</text><text transform="translate(653.2 321.4) scale(0.87 0.172)" font-size="10" font-weight="bold" text-anchor="middle" fill="#2ea12e">A</text><text transform="translate(653.2 320.17) scale(0.8 1.546)" font-size="10" font-weight="bold" text-anchor="middle" fill="#2450b8">C</text><text transform="translate(659 321.4) scale(0.87 1.718)" font-size="10" font-weight="bold" text-anchor="middle" fill="#2ea12e">A</text><text transform="translate(664.8 321.4) scale(0.87 0.172)" font-size="10" font-weight="bold" text-anchor="middle" fill="#2ea12e">A</text><text transform="translate(664.8 320.17) scale(0.75 0.344)" font-size="10" font-weight="bold" text-anchor="middle" fill="#eea11d">G</text><text transform="translate(664.8 317.71) scale(0.8 0.515)" font-size="10" font-weight="bold" text-anchor="middle" fill="#2450b8">C</text><text transform="translate(664.8 314.02) scale(0.95 0.687)" font-size="10" font-weight="bold" text-anchor="middle" fill="#e03a22">T</text><text transform="translate(670.6 321.4) scale(0.75 0.344)" font-size="10" font-weight="bold" text-anchor="middle" fill="#eea11d">G</text><text transform="translate(670.6 318.94) scale(0.87 0.344)" font-size="10" font-weight="bold" text-anchor="middle" fill="#2ea12e">A</text><text transform="translate(670.6 316.48) scale(0.95 0.515)" font-size="10" font-weight="bold" text-anchor="middle" fill="#e03a22">T</text><text transform="translate(670.6 312.79) scale(0.8 0.515)" font-size="10" font-weight="bold" text-anchor="middle" fill="#2450b8">C</text>
<text transform="translate(609.05 344.75) scale(0.9 0.344)" font-size="10" font-weight="bold" text-anchor="middle" fill="#2450b8">C</text><text transform="translate(609.05 342.29) scale(1.06 0.344)" font-size="10" font-weight="bold" text-anchor="middle" fill="#e03a22">T</text><text transform="translate(609.05 339.83) scale(0.97 0.515)" font-size="10" font-weight="bold" text-anchor="middle" fill="#2ea12e">A</text><text transform="translate(609.05 336.14) scale(0.83 0.515)" font-size="10" font-weight="bold" text-anchor="middle" fill="#eea11d">G</text><text transform="translate(615.54 344.75) scale(1.06 0.172)" font-size="10" font-weight="bold" text-anchor="middle" fill="#e03a22">T</text><text transform="translate(615.54 343.52) scale(0.9 0.344)" font-size="10" font-weight="bold" text-anchor="middle" fill="#2450b8">C</text><text transform="translate(615.54 341.06) scale(0.83 0.515)" font-size="10" font-weight="bold" text-anchor="middle" fill="#eea11d">G</text><text transform="translate(615.54 337.37) scale(0.97 0.687)" font-size="10" font-weight="bold" text-anchor="middle" fill="#2ea12e">A</text><text transform="translate(622.03 344.75) scale(1.06 1.718)" font-size="10" font-weight="bold" text-anchor="middle" fill="#e03a22">T</text><text transform="translate(628.52 344.75) scale(1.06 0.172)" font-size="10" font-weight="bold" text-anchor="middle" fill="#e03a22">T</text><text transform="translate(628.52 343.52) scale(0.83 1.546)" font-size="10" font-weight="bold" text-anchor="middle" fill="#eea11d">G</text><text transform="translate(635.01 344.75) scale(0.97 1.718)" font-size="10" font-weight="bold" text-anchor="middle" fill="#2ea12e">A</text><text transform="translate(641.5 344.75) scale(0.97 0.172)" font-size="10" font-weight="bold" text-anchor="middle" fill="#2ea12e">A</text><text transform="translate(641.5 343.52) scale(0.9 0.687)" font-size="10" font-weight="bold" text-anchor="middle" fill="#2450b8">C</text><text transform="translate(641.5 338.6) scale(0.83 0.859)" font-size="10" font-weight="bold" text-anchor="middle" fill="#eea11d">G</text><text transform="translate(648 344.75) scale(1.06 1.718)" font-size="10" font-weight="bold" text-anchor="middle" fill="#e03a22">T</text><text transform="translate(654.49 344.75) scale(0.97 0.172)" font-size="10" font-weight="bold" text-anchor="middle" fill="#2ea12e">A</text><text transform="translate(654.49 343.52) scale(0.9 1.546)" font-size="10" font-weight="bold" text-anchor="middle" fill="#2450b8">C</text><text transform="translate(660.98 344.75) scale(0.97 1.718)" font-size="10" font-weight="bold" text-anchor="middle" fill="#2ea12e">A</text><text transform="translate(667.47 344.75) scale(0.97 0.172)" font-size="10" font-weight="bold" text-anchor="middle" fill="#2ea12e">A</text><text transform="translate(667.47 343.52) scale(0.83 0.344)" font-size="10" font-weight="bold" text-anchor="middle" fill="#eea11d">G</text><text transform="translate(667.47 341.06) scale(0.9 0.515)" font-size="10" font-weight="bold" text-anchor="middle" fill="#2450b8">C</text><text transform="translate(667.47 337.37) scale(1.06 0.687)" font-size="10" font-weight="bold" text-anchor="middle" fill="#e03a22">T</text><text transform="translate(673.96 344.75) scale(0.83 0.344)" font-size="10" font-weight="bold" text-anchor="middle" fill="#eea11d">G</text><text transform="translate(673.96 342.29) scale(1.06 0.344)" font-size="10" font-weight="bold" text-anchor="middle" fill="#e03a22">T</text><text transform="translate(673.96 339.83) scale(0.97 0.515)" font-size="10" font-weight="bold" text-anchor="middle" fill="#2ea12e">A</text><text transform="translate(673.96 336.14) scale(0.9 0.515)" font-size="10" font-weight="bold" text-anchor="middle" fill="#2450b8">C</text><text transform="translate(680.45 344.75) scale(0.83 0.344)" font-size="10" font-weight="bold" text-anchor="middle" fill="#eea11d">G</text><text transform="translate(680.45 342.29) scale(1.06 0.344)" font-size="10" font-weight="bold" text-anchor="middle" fill="#e03a22">T</text><text transform="translate(680.45 339.83) scale(0.97 0.515)" font-size="10" font-weight="bold" text-anchor="middle" fill="#2ea12e">A</text><text transform="translate(680.45 336.14) scale(0.9 0.515)" font-size="10" font-weight="bold" text-anchor="middle" fill="#2450b8">C</text>
<text transform="translate(612.51 368.1) scale(0.81 0.344)" font-size="10" font-weight="bold" text-anchor="middle" fill="#2450b8">C</text><text transform="translate(612.51 365.64) scale(0.95 0.344)" font-size="10" font-weight="bold" text-anchor="middle" fill="#e03a22">T</text><text transform="translate(612.51 363.18) scale(0.87 0.515)" font-size="10" font-weight="bold" text-anchor="middle" fill="#2ea12e">A</text><text transform="translate(612.51 359.49) scale(0.75 0.515)" font-size="10" font-weight="bold" text-anchor="middle" fill="#eea11d">G</text><text transform="translate(618.33 368.1) scale(0.95 0.172)" font-size="10" font-weight="bold" text-anchor="middle" fill="#e03a22">T</text><text transform="translate(618.33 366.87) scale(0.81 0.344)" font-size="10" font-weight="bold" text-anchor="middle" fill="#2450b8">C</text><text transform="translate(618.33 364.41) scale(0.75 0.515)" font-size="10" font-weight="bold" text-anchor="middle" fill="#eea11d">G</text><text transform="translate(618.33 360.72) scale(0.87 0.687)" font-size="10" font-weight="bold" text-anchor="middle" fill="#2ea12e">A</text><text transform="translate(624.14 368.1) scale(0.95 1.718)" font-size="10" font-weight="bold" text-anchor="middle" fill="#e03a22">T</text><text transform="translate(629.96 368.1) scale(0.95 0.172)" font-size="10" font-weight="bold" text-anchor="middle" fill="#e03a22">T</text><text transform="translate(629.96 366.87) scale(0.75 1.546)" font-size="10" font-weight="bold" text-anchor="middle" fill="#eea11d">G</text><text transform="translate(635.77 368.1) scale(0.87 1.718)" font-size="10" font-weight="bold" text-anchor="middle" fill="#2ea12e">A</text><text transform="translate(641.59 368.1) scale(0.87 0.172)" font-size="10" font-weight="bold" text-anchor="middle" fill="#2ea12e">A</text><text transform="translate(641.59 366.87) scale(0.75 0.687)" font-size="10" font-weight="bold" text-anchor="middle" fill="#eea11d">G</text><text transform="translate(641.59 361.95) scale(0.81 0.859)" font-size="10" font-weight="bold" text-anchor="middle" fill="#2450b8">C</text><text transform="translate(647.41 368.1) scale(0.95 1.718)" font-size="10" font-weight="bold" text-anchor="middle" fill="#e03a22">T</text><text transform="translate(653.23 368.1) scale(0.87 0.172)" font-size="10" font-weight="bold" text-anchor="middle" fill="#2ea12e">A</text><text transform="translate(653.23 366.87) scale(0.81 1.546)" font-size="10" font-weight="bold" text-anchor="middle" fill="#2450b8">C</text><text transform="translate(659.04 368.1) scale(0.87 1.718)" font-size="10" font-weight="bold" text-anchor="middle" fill="#2ea12e">A</text><text transform="translate(664.86 368.1) scale(0.87 0.172)" font-size="10" font-weight="bold" text-anchor="middle" fill="#2ea12e">A</text><text transform="translate(664.86 366.87) scale(0.75 0.344)" font-size="10" font-weight="bold" text-anchor="middle" fill="#eea11d">G</text><text transform="translate(664.86 364.41) scale(0.81 0.515)" font-size="10" font-weight="bold" text-anchor="middle" fill="#2450b8">C</text><text transform="translate(664.86 360.72) scale(0.95 0.687)" font-size="10" font-weight="bold" text-anchor="middle" fill="#e03a22">T</text><text transform="translate(670.67 368.1) scale(0.75 0.344)" font-size="10" font-weight="bold" text-anchor="middle" fill="#eea11d">G</text><text transform="translate(670.67 365.64) scale(0.95 0.344)" font-size="10" font-weight="bold" text-anchor="middle" fill="#e03a22">T</text><text transform="translate(670.67 363.18) scale(0.87 0.515)" font-size="10" font-weight="bold" text-anchor="middle" fill="#2ea12e">A</text><text transform="translate(670.67 359.49) scale(0.81 0.515)" font-size="10" font-weight="bold" text-anchor="middle" fill="#2450b8">C</text><text transform="translate(676.49 368.1) scale(0.75 0.344)" font-size="10" font-weight="bold" text-anchor="middle" fill="#eea11d">G</text><text transform="translate(676.49 365.64) scale(0.87 0.344)" font-size="10" font-weight="bold" text-anchor="middle" fill="#2ea12e">A</text><text transform="translate(676.49 363.18) scale(0.95 0.515)" font-size="10" font-weight="bold" text-anchor="middle" fill="#e03a22">T</text><text transform="translate(676.49 359.49) scale(0.81 0.515)" font-size="10" font-weight="bold" text-anchor="middle" fill="#2450b8">C</text>
<text transform="translate(618.4 391.5) scale(0.87 0.172)" font-size="10" font-weight="bold" text-anchor="middle" fill="#2ea12e">A</text><text transform="translate(618.4 390.27) scale(0.8 0.172)" font-size="10" font-weight="bold" text-anchor="middle" fill="#2450b8">C</text><text transform="translate(618.4 389.04) scale(0.75 0.172)" font-size="10" font-weight="bold" text-anchor="middle" fill="#eea11d">G</text><text transform="translate(618.4 387.81) scale(0.95 1.203)" font-size="10" font-weight="bold" text-anchor="middle" fill="#e03a22">T</text><text transform="translate(624.2 391.5) scale(0.87 0.172)" font-size="10" font-weight="bold" text-anchor="middle" fill="#2ea12e">A</text><text transform="translate(624.2 390.27) scale(0.95 0.172)" font-size="10" font-weight="bold" text-anchor="middle" fill="#e03a22">T</text><text transform="translate(624.2 389.04) scale(0.8 0.172)" font-size="10" font-weight="bold" text-anchor="middle" fill="#2450b8">C</text><text transform="translate(624.2 387.81) scale(0.75 1.203)" font-size="10" font-weight="bold" text-anchor="middle" fill="#eea11d">G</text><text transform="translate(630 391.5) scale(0.87 0.172)" font-size="10" font-weight="bold" text-anchor="middle" fill="#2ea12e">A</text><text transform="translate(630 390.27) scale(0.75 0.172)" font-size="10" font-weight="bold" text-anchor="middle" fill="#eea11d">G</text><text transform="translate(630 389.04) scale(0.95 0.172)" font-size="10" font-weight="bold" text-anchor="middle" fill="#e03a22">T</text><text transform="translate(630 387.81) scale(0.8 1.203)" font-size="10" font-weight="bold" text-anchor="middle" fill="#2450b8">C</text><text transform="translate(635.8 391.5) scale(0.95 1.718)" font-size="10" font-weight="bold" text-anchor="middle" fill="#e03a22">T</text><text transform="translate(641.6 391.5) scale(0.95 0.172)" font-size="10" font-weight="bold" text-anchor="middle" fill="#e03a22">T</text><text transform="translate(641.6 390.27) scale(0.75 1.546)" font-size="10" font-weight="bold" text-anchor="middle" fill="#eea11d">G</text><text transform="translate(647.4 391.5) scale(0.87 1.718)" font-size="10" font-weight="bold" text-anchor="middle" fill="#2ea12e">A</text><text transform="translate(653.2 391.5) scale(0.87 0.172)" font-size="10" font-weight="bold" text-anchor="middle" fill="#2ea12e">A</text><text transform="translate(653.2 390.27) scale(0.8 0.687)" font-size="10" font-weight="bold" text-anchor="middle" fill="#2450b8">C</text><text transform="translate(653.2 385.35) scale(0.75 0.859)" font-size="10" font-weight="bold" text-anchor="middle" fill="#eea11d">G</text><text transform="translate(659 391.5) scale(0.95 1.718)" font-size="10" font-weight="bold" text-anchor="middle" fill="#e03a22">T</text><text transform="translate(664.8 391.5) scale(0.87 0.172)" font-size="10" font-weight="bold" text-anchor="middle" fill="#2ea12e">A</text><text transform="translate(664.8 390.27) scale(0.8 1.546)" font-size="10" font-weight="bold" text-anchor="middle" fill="#2450b8">C</text><text transform="translate(670.6 391.5) scale(0.87 1.718)" font-size="10" font-weight="bold" text-anchor="middle" fill="#2ea12e">A</text>
</g>
<g id="panel-f">
<text x="16.9" y="479.6" font-size="14.5" font-weight="bold" fill="#231815">f</text>
<text x="151.2" y="474.4" font-size="11.3" font-weight="bold" fill="#e71f27">224 up</text>
<line x1="144.7" y1="476.1" x2="144.7" y2="647.4" stroke="#111" stroke-width="1" stroke-dasharray="2.6 1.9"/>
<line x1="80.7" y1="564.6" x2="302.6" y2="564.6" stroke="#111" stroke-width="1" stroke-dasharray="2.6 1.9"/>
<g fill="#cfcfcf" fill-opacity="0.6">
<circle cx="125.6" cy="509.6" r="2.4"/>
<circle cx="120.6" cy="520" r="2.4"/>
<circle cx="120.6" cy="539" r="2.4"/>
<circle cx="126.5" cy="543" r="2.4"/>
<circle cx="121.5" cy="543.5" r="2.4"/>
<circle cx="120" cy="549" r="2.4"/>
<circle cx="124" cy="549.3" r="2.4"/>
<circle cx="128" cy="549.2" r="2.4"/>
<circle cx="126.8" cy="542.5" r="2.4"/>
</g>
<g fill="#c4c4c4" fill-opacity="0.55">
<circle cx="161.62" cy="587.23" r="2.4"/>
<circle cx="162.19" cy="594.2" r="2.4"/>
<circle cx="174.85" cy="589.98" r="2.4"/>
<circle cx="160.03" cy="583.82" r="2.4"/>
<circle cx="167.92" cy="592.71" r="2.4"/>
<circle cx="162.38" cy="586.05" r="2.4"/>
<circle cx="214.15" cy="583.57" r="2.4"/>
<circle cx="160.31" cy="595.99" r="2.4"/>
<circle cx="166.19" cy="594.99" r="2.4"/>
<circle cx="161.51" cy="596.39" r="2.4"/>
<circle cx="161.2" cy="590.64" r="2.4"/>
<circle cx="163.78" cy="586.98" r="2.4"/>
<circle cx="161.86" cy="594.89" r="2.4"/>
<circle cx="173.64" cy="585.22" r="2.4"/>
<circle cx="191.2" cy="589.88" r="2.4"/>
<circle cx="167.82" cy="592.01" r="2.4"/>
<circle cx="161.18" cy="594.06" r="2.4"/>
<circle cx="183.1" cy="585.05" r="2.4"/>
<circle cx="164.74" cy="587.96" r="2.4"/>
<circle cx="207.41" cy="586.26" r="2.4"/>
<circle cx="160.24" cy="595.44" r="2.4"/>
<circle cx="166.17" cy="589.58" r="2.4"/>
<circle cx="167.2" cy="584.71" r="2.4"/>
<circle cx="167.32" cy="589.27" r="2.4"/>
<circle cx="161.79" cy="589.41" r="2.4"/>
<circle cx="163.83" cy="589.77" r="2.4"/>
<circle cx="163.3" cy="587.76" r="2.4"/>
<circle cx="173.51" cy="584.67" r="2.4"/>
<circle cx="170.35" cy="592.9" r="2.4"/>
<circle cx="164.7" cy="599.17" r="2.4"/>
<circle cx="189.3" cy="591.2" r="2.4"/>
<circle cx="164.24" cy="589.63" r="2.4"/>
<circle cx="178.8" cy="584.69" r="2.4"/>
<circle cx="173.38" cy="585.97" r="2.4"/>
<circle cx="176.33" cy="587.42" r="2.4"/>
<circle cx="164.9" cy="583.62" r="2.4"/>
<circle cx="160.65" cy="594.11" r="2.4"/>
<circle cx="172.33" cy="595.54" r="2.4"/>
<circle cx="162.62" cy="592.93" r="2.4"/>
<circle cx="160.26" cy="584.27" r="2.4"/>
<circle cx="176.4" cy="588.31" r="2.4"/>
<circle cx="165" cy="597.17" r="2.4"/>
<circle cx="177.03" cy="585.48" r="2.4"/>
<circle cx="173.16" cy="588.45" r="2.4"/>
<circle cx="170.41" cy="585.9" r="2.4"/>
<circle cx="169.29" cy="586.51" r="2.4"/>
<circle cx="167.9" cy="587.05" r="2.4"/>
<circle cx="181.24" cy="586.5" r="2.4"/>
<circle cx="160.9" cy="584.89" r="2.4"/>
<circle cx="161.37" cy="587.01" r="2.4"/>
<circle cx="169.59" cy="588.52" r="2.4"/>
<circle cx="166.13" cy="588" r="2.4"/>
<circle cx="161.63" cy="587.77" r="2.4"/>
<circle cx="167.19" cy="586.98" r="2.4"/>
<circle cx="171.17" cy="593.5" r="2.4"/>
<circle cx="160.07" cy="591.65" r="2.4"/>
<circle cx="160.59" cy="585.62" r="2.4"/>
<circle cx="162.62" cy="589.14" r="2.4"/>
<circle cx="163.39" cy="588.99" r="2.4"/>
<circle cx="180.79" cy="583.18" r="2.4"/>
<circle cx="166.29" cy="596.42" r="2.4"/>
<circle cx="168.27" cy="588.8" r="2.4"/>
<circle cx="171.94" cy="590.59" r="2.4"/>
<circle cx="166.71" cy="585.5" r="2.4"/>
<circle cx="160.59" cy="590.08" r="2.4"/>
<circle cx="161.02" cy="588.1" r="2.4"/>
<circle cx="172.84" cy="584.84" r="2.4"/>
<circle cx="168.74" cy="592.79" r="2.4"/>
<circle cx="166.56" cy="584.48" r="2.4"/>
<circle cx="164.62" cy="583.91" r="2.4"/>
<circle cx="162.55" cy="587.23" r="2.4"/>
<circle cx="175.3" cy="583.58" r="2.4"/>
<circle cx="164.38" cy="590.89" r="2.4"/>
<circle cx="168.99" cy="586.51" r="2.4"/>
<circle cx="166.09" cy="585.92" r="2.4"/>
<circle cx="179.91" cy="584.93" r="2.4"/>
<circle cx="169.92" cy="594.99" r="2.4"/>
<circle cx="170.81" cy="588.46" r="2.4"/>
<circle cx="164.39" cy="589.07" r="2.4"/>
<circle cx="175.68" cy="599.8" r="2.4"/>
<circle cx="163.37" cy="587.23" r="2.4"/>
<circle cx="164.47" cy="586.44" r="2.4"/>
<circle cx="163.24" cy="593.09" r="2.4"/>
<circle cx="172.21" cy="589.71" r="2.4"/>
<circle cx="170.96" cy="582.95" r="2.4"/>
<circle cx="163.68" cy="588.66" r="2.4"/>
<circle cx="187.19" cy="587.84" r="2.4"/>
<circle cx="162.64" cy="587.17" r="2.4"/>
<circle cx="162.01" cy="587.64" r="2.4"/>
<circle cx="162.92" cy="594.83" r="2.4"/>
<circle cx="165.17" cy="595.19" r="2.4"/>
<circle cx="162.96" cy="585.52" r="2.4"/>
<circle cx="161.88" cy="592.37" r="2.4"/>
<circle cx="160.31" cy="590.77" r="2.4"/>
<circle cx="160.17" cy="597.9" r="2.4"/>
<circle cx="160.36" cy="590.18" r="2.4"/>
<circle cx="160.07" cy="590.5" r="2.4"/>
<circle cx="160.89" cy="588.92" r="2.4"/>
<circle cx="164.16" cy="588.37" r="2.4"/>
<circle cx="174.12" cy="584.75" r="2.4"/>
<circle cx="161.87" cy="590.48" r="2.4"/>
<circle cx="167.22" cy="587.86" r="2.4"/>
<circle cx="183.33" cy="592.54" r="2.4"/>
<circle cx="160.16" cy="588.68" r="2.4"/>
<circle cx="172.37" cy="586.85" r="2.4"/>
<circle cx="161.88" cy="595.58" r="2.4"/>
<circle cx="168.71" cy="588.13" r="2.4"/>
<circle cx="174.49" cy="585.78" r="2.4"/>
<circle cx="163.18" cy="589.08" r="2.4"/>
<circle cx="179.88" cy="584.7" r="2.4"/>
<circle cx="170.2" cy="583.17" r="2.4"/>
<circle cx="162.83" cy="585.61" r="2.4"/>
<circle cx="170.28" cy="585.55" r="2.4"/>
<circle cx="161.55" cy="595.97" r="2.4"/>
<circle cx="164.72" cy="594.15" r="2.4"/>
<circle cx="171.71" cy="588.52" r="2.4"/>
<circle cx="162.16" cy="581.64" r="2.4"/>
<circle cx="163.91" cy="590.86" r="2.4"/>
<circle cx="171.13" cy="585.79" r="2.4"/>
<circle cx="161.59" cy="593.32" r="2.4"/>
<circle cx="170.24" cy="591.65" r="2.4"/>
<circle cx="173.53" cy="592.92" r="2.4"/>
<circle cx="191.61" cy="585.71" r="2.4"/>
<circle cx="185.6" cy="589.23" r="2.4"/>
<circle cx="163.9" cy="589.08" r="2.4"/>
<circle cx="168.41" cy="582.3" r="2.4"/>
<circle cx="184.04" cy="589.82" r="2.4"/>
<circle cx="179.21" cy="588.72" r="2.4"/>
<circle cx="179.29" cy="583.94" r="2.4"/>
<circle cx="161.77" cy="586.26" r="2.4"/>
<circle cx="175.19" cy="583.36" r="2.4"/>
<circle cx="164.95" cy="587.07" r="2.4"/>
<circle cx="160.24" cy="583.87" r="2.4"/>
<circle cx="183.64" cy="585.54" r="2.4"/>
<circle cx="180.29" cy="584.27" r="2.4"/>
<circle cx="164.97" cy="585.13" r="2.4"/>
<circle cx="173.26" cy="582.6" r="2.4"/>
<circle cx="165.06" cy="592.55" r="2.4"/>
<circle cx="166.05" cy="584.53" r="2.4"/>
<circle cx="160.33" cy="593.85" r="2.4"/>
<circle cx="167.95" cy="588.79" r="2.4"/>
<circle cx="205.27" cy="589.85" r="2.4"/>
<circle cx="164.5" cy="593.94" r="2.4"/>
<circle cx="167.73" cy="587.21" r="2.4"/>
<circle cx="161.97" cy="587.36" r="2.4"/>
<circle cx="165.93" cy="591.64" r="2.4"/>
<circle cx="164.16" cy="587.25" r="2.4"/>
<circle cx="164.44" cy="591.45" r="2.4"/>
<circle cx="168.21" cy="590" r="2.4"/>
<circle cx="164.23" cy="594.5" r="2.4"/>
<circle cx="173.7" cy="586.11" r="2.4"/>
<circle cx="176.94" cy="600.5" r="2.4"/>
<circle cx="160.72" cy="585.11" r="2.4"/>
<circle cx="176.01" cy="591.06" r="2.4"/>
<circle cx="170.32" cy="583.52" r="2.4"/>
<circle cx="166.19" cy="589.58" r="2.4"/>
<circle cx="162.21" cy="587.14" r="2.4"/>
<circle cx="164.13" cy="587.49" r="2.4"/>
<circle cx="161.37" cy="592.72" r="2.4"/>
<circle cx="161.18" cy="589.79" r="2.4"/>
<circle cx="169.57" cy="594.76" r="2.4"/>
<circle cx="165.28" cy="585.37" r="2.4"/>
<circle cx="189.48" cy="587.9" r="2.4"/>
<circle cx="164.1" cy="589.56" r="2.4"/>
<circle cx="172.66" cy="588.73" r="2.4"/>
<circle cx="162.28" cy="591.06" r="2.4"/>
<circle cx="160.18" cy="586.71" r="2.4"/>
<circle cx="167.95" cy="590.02" r="2.4"/>
<circle cx="160.82" cy="589.63" r="2.4"/>
<circle cx="163.56" cy="583.21" r="2.4"/>
<circle cx="162.18" cy="585.84" r="2.4"/>
<circle cx="168.81" cy="587.31" r="2.4"/>
<circle cx="162.25" cy="587.74" r="2.4"/>
<circle cx="164.68" cy="590.68" r="2.4"/>
<circle cx="162.04" cy="583.99" r="2.4"/>
<circle cx="162.5" cy="592.16" r="2.4"/>
<circle cx="160.91" cy="588.32" r="2.4"/>
<circle cx="166.61" cy="593.02" r="2.4"/>
<circle cx="160.08" cy="588.3" r="2.4"/>
<circle cx="163.98" cy="591.01" r="2.4"/>
<circle cx="160.31" cy="599.11" r="2.4"/>
<circle cx="167.8" cy="582.23" r="2.4"/>
<circle cx="183.46" cy="594.67" r="2.4"/>
<circle cx="171.45" cy="592.14" r="2.4"/>
<circle cx="161.61" cy="590.04" r="2.4"/>
<circle cx="163.8" cy="613" r="2.4"/>
<circle cx="169" cy="609.5" r="2.4"/>
<circle cx="181" cy="604" r="2.4"/>
<circle cx="182.5" cy="605" r="2.4"/>
<circle cx="180.5" cy="623" r="2.4"/>
<circle cx="193.5" cy="601" r="2.4"/>
<circle cx="193.8" cy="597" r="2.4"/>
<circle cx="204.5" cy="601.5" r="2.4"/>
<circle cx="213.5" cy="593.8" r="2.4"/>
<circle cx="191.5" cy="592" r="2.4"/>
<circle cx="186" cy="593" r="2.4"/>
<circle cx="200" cy="590" r="2.4"/>
<circle cx="207" cy="586" r="2.4"/>
<circle cx="213" cy="583" r="2.4"/>
<circle cx="221" cy="586" r="2.4"/>
<circle cx="229" cy="587.5" r="2.4"/>
<circle cx="235" cy="590" r="2.4"/>
<circle cx="234" cy="581" r="2.4"/>
<circle cx="244.5" cy="581.3" r="2.4"/>
<circle cx="213.5" cy="581" r="2.4"/>
<circle cx="197" cy="581.5" r="2.4"/>
<circle cx="200" cy="583" r="2.4"/>
<circle cx="205" cy="588" r="2.4"/>
<circle cx="184" cy="588" r="2.4"/>
<circle cx="183" cy="596" r="2.4"/>
<circle cx="170" cy="600" r="2.4"/>
<circle cx="166" cy="601" r="2.4"/>
<circle cx="172" cy="596" r="2.4"/>
<circle cx="176" cy="598" r="2.4"/>
<circle cx="178" cy="593" r="2.4"/>
<circle cx="160" cy="598" r="2.4"/>
<circle cx="163" cy="603" r="2.4"/>
<circle cx="168.5" cy="602" r="2.4"/>
<circle cx="218" cy="585" r="2.4"/>
<circle cx="210" cy="589" r="2.4"/>
</g>
<g fill="#3d63b4" fill-opacity="0.5">
<circle cx="89.8" cy="591.6" r="2.4"/>
<circle cx="110" cy="598.5" r="2.4"/>
<circle cx="120.8" cy="608.5" r="2.4"/>
<circle cx="94.6" cy="641.5" r="2.4"/>
<circle cx="121" cy="594.5" r="2.4"/>
<circle cx="120" cy="594" r="2.4"/>
<circle cx="109" cy="582" r="2.4"/>
<circle cx="111" cy="582.5" r="2.4"/>
<circle cx="113" cy="583" r="2.4"/>
<circle cx="116" cy="581.5" r="2.4"/>
<circle cx="119" cy="581" r="2.4"/>
<circle cx="122" cy="582" r="2.4"/>
<circle cx="125" cy="581" r="2.4"/>
<circle cx="127.5" cy="584" r="2.4"/>
<circle cx="126" cy="582.5" r="2.4"/>
<circle cx="108" cy="589" r="2.4"/>
<circle cx="111" cy="587" r="2.4"/>
<circle cx="114" cy="586.5" r="2.4"/>
<circle cx="116.5" cy="588" r="2.4"/>
<circle cx="119" cy="586.5" r="2.4"/>
<circle cx="122.5" cy="587.5" r="2.4"/>
<circle cx="113" cy="590" r="2.4"/>
<circle cx="117" cy="589.5" r="2.4"/>
<circle cx="121.5" cy="594.6" r="2.4"/>
<circle cx="110.5" cy="583" r="2.4"/>
<circle cx="112" cy="582" r="2.4"/>
<circle cx="124" cy="583.5" r="2.4"/>
<circle cx="123" cy="586" r="2.4"/>
</g>
<g fill="#e9302c" fill-opacity="0.45">
<circle cx="162.75" cy="545.49" r="2.4"/>
<circle cx="159.68" cy="548.58" r="2.4"/>
<circle cx="159.96" cy="548.35" r="2.4"/>
<circle cx="170.32" cy="545.78" r="2.4"/>
<circle cx="160.43" cy="548.45" r="2.4"/>
<circle cx="160.13" cy="546.33" r="2.4"/>
<circle cx="163.39" cy="548.91" r="2.4"/>
<circle cx="162.58" cy="545.11" r="2.4"/>
<circle cx="163.18" cy="546.15" r="2.4"/>
<circle cx="166.22" cy="547.46" r="2.4"/>
<circle cx="164.99" cy="548.12" r="2.4"/>
<circle cx="160.85" cy="547.33" r="2.4"/>
<circle cx="161.84" cy="548.32" r="2.4"/>
<circle cx="160.75" cy="544.82" r="2.4"/>
<circle cx="163.18" cy="549.1" r="2.4"/>
<circle cx="159.53" cy="549.01" r="2.4"/>
<circle cx="173.5" cy="548.28" r="2.4"/>
<circle cx="167" cy="548.92" r="2.4"/>
<circle cx="166.66" cy="547.6" r="2.4"/>
<circle cx="168.63" cy="547.13" r="2.4"/>
<circle cx="162.59" cy="548.62" r="2.4"/>
<circle cx="165.61" cy="545.31" r="2.4"/>
<circle cx="167.53" cy="547.42" r="2.4"/>
<circle cx="162.09" cy="544.95" r="2.4"/>
<circle cx="172.41" cy="549.43" r="2.4"/>
<circle cx="167.26" cy="545.67" r="2.4"/>
<circle cx="167.18" cy="544.51" r="2.4"/>
<circle cx="174.08" cy="548.82" r="2.4"/>
<circle cx="162.08" cy="548.02" r="2.4"/>
<circle cx="185.52" cy="549.3" r="2.4"/>
<circle cx="162.82" cy="546.54" r="2.4"/>
<circle cx="161.53" cy="548.7" r="2.4"/>
<circle cx="170.37" cy="546.62" r="2.4"/>
<circle cx="168.83" cy="545.56" r="2.4"/>
<circle cx="173.7" cy="544.94" r="2.4"/>
<circle cx="171.44" cy="544.43" r="2.4"/>
<circle cx="164.14" cy="546.09" r="2.4"/>
<circle cx="164.35" cy="544.48" r="2.4"/>
<circle cx="166.75" cy="547.72" r="2.4"/>
<circle cx="166.94" cy="548.53" r="2.4"/>
<circle cx="160.27" cy="547.98" r="2.4"/>
<circle cx="160.33" cy="550.28" r="2.4"/>
<circle cx="159.98" cy="547.57" r="2.4"/>
<circle cx="169.39" cy="550.01" r="2.4"/>
<circle cx="166.39" cy="549.63" r="2.4"/>
<circle cx="164.3" cy="548.53" r="2.4"/>
<circle cx="163.43" cy="546.03" r="2.4"/>
<circle cx="163.03" cy="547.95" r="2.4"/>
<circle cx="168.43" cy="549.6" r="2.4"/>
<circle cx="162.3" cy="546.09" r="2.4"/>
<circle cx="171.91" cy="544.42" r="2.4"/>
<circle cx="161.38" cy="546.55" r="2.4"/>
<circle cx="161.92" cy="546.09" r="2.4"/>
<circle cx="172.4" cy="549.49" r="2.4"/>
<circle cx="162.26" cy="544.68" r="2.4"/>
<circle cx="162.34" cy="546.51" r="2.4"/>
<circle cx="171.25" cy="548.63" r="2.4"/>
<circle cx="170.01" cy="550.28" r="2.4"/>
<circle cx="162.21" cy="549.3" r="2.4"/>
<circle cx="162.27" cy="549.02" r="2.4"/>
<circle cx="159.48" cy="545.48" r="2.4"/>
<circle cx="160.63" cy="546.86" r="2.4"/>
<circle cx="164.95" cy="545.2" r="2.4"/>
<circle cx="172.44" cy="546.57" r="2.4"/>
<circle cx="160.6" cy="545.73" r="2.4"/>
<circle cx="160.02" cy="544.73" r="2.4"/>
<circle cx="161.88" cy="548.78" r="2.4"/>
<circle cx="161.01" cy="547.92" r="2.4"/>
<circle cx="170.28" cy="545.17" r="2.4"/>
<circle cx="168.89" cy="545.92" r="2.4"/>
<circle cx="161.26" cy="548.37" r="2.4"/>
<circle cx="161.84" cy="547.7" r="2.4"/>
<circle cx="173.83" cy="544.32" r="2.4"/>
<circle cx="159.91" cy="544.51" r="2.4"/>
<circle cx="176.84" cy="547.53" r="2.4"/>
<circle cx="167.56" cy="545.59" r="2.4"/>
<circle cx="160.75" cy="546.6" r="2.4"/>
<circle cx="174.16" cy="544.83" r="2.4"/>
<circle cx="159.92" cy="546.01" r="2.4"/>
<circle cx="163.97" cy="544.84" r="2.4"/>
<circle cx="160.58" cy="547.01" r="2.4"/>
<circle cx="160.2" cy="545.47" r="2.4"/>
<circle cx="168.28" cy="550.11" r="2.4"/>
<circle cx="161.89" cy="549.45" r="2.4"/>
<circle cx="166.36" cy="546.52" r="2.4"/>
<circle cx="159.75" cy="544.59" r="2.4"/>
<circle cx="182.82" cy="547.66" r="2.4"/>
<circle cx="165.28" cy="548.12" r="2.4"/>
<circle cx="165.82" cy="547.91" r="2.4"/>
<circle cx="163.37" cy="545.8" r="2.4"/>
<circle cx="160.74" cy="548.51" r="2.4"/>
<circle cx="169.4" cy="548.95" r="2.4"/>
<circle cx="159.8" cy="544.83" r="2.4"/>
<circle cx="160.52" cy="547.83" r="2.4"/>
<circle cx="161.93" cy="548.73" r="2.4"/>
<circle cx="162.34" cy="547.08" r="2.4"/>
<circle cx="160.16" cy="547.1" r="2.4"/>
<circle cx="159.67" cy="549.83" r="2.4"/>
<circle cx="160.88" cy="548.86" r="2.4"/>
<circle cx="162.22" cy="548.55" r="2.4"/>
<circle cx="171.99" cy="546.35" r="2.4"/>
<circle cx="163.79" cy="545.67" r="2.4"/>
<circle cx="167.41" cy="548.41" r="2.4"/>
<circle cx="166" cy="545.83" r="2.4"/>
<circle cx="164.65" cy="545.78" r="2.4"/>
<circle cx="176.27" cy="525.65" r="2.4"/>
<circle cx="166.5" cy="538.54" r="2.4"/>
<circle cx="185.39" cy="541.62" r="2.4"/>
<circle cx="183.49" cy="547.15" r="2.4"/>
<circle cx="178.67" cy="545.38" r="2.4"/>
<circle cx="179.38" cy="543.32" r="2.4"/>
<circle cx="173.68" cy="545.57" r="2.4"/>
<circle cx="166.31" cy="530.95" r="2.4"/>
<circle cx="176.55" cy="539.58" r="2.4"/>
<circle cx="162.57" cy="545.05" r="2.4"/>
<circle cx="185.16" cy="546.07" r="2.4"/>
<circle cx="173.75" cy="537.86" r="2.4"/>
<circle cx="173.03" cy="541.13" r="2.4"/>
<circle cx="185.21" cy="535.08" r="2.4"/>
<circle cx="165.78" cy="543.22" r="2.4"/>
<circle cx="170.62" cy="538.21" r="2.4"/>
<circle cx="177.39" cy="545.43" r="2.4"/>
<circle cx="177.85" cy="543.2" r="2.4"/>
<circle cx="159.9" cy="545.07" r="2.4"/>
<circle cx="169.49" cy="546.14" r="2.4"/>
<circle cx="184.19" cy="539.56" r="2.4"/>
<circle cx="182.22" cy="542.25" r="2.4"/>
<circle cx="175.05" cy="528.94" r="2.4"/>
<circle cx="161.08" cy="544.18" r="2.4"/>
<circle cx="169.41" cy="544.45" r="2.4"/>
<circle cx="170.84" cy="547.5" r="2.4"/>
<circle cx="177.5" cy="521.3" r="2.4"/>
<circle cx="165.71" cy="546.25" r="2.4"/>
<circle cx="168.37" cy="534.47" r="2.4"/>
<circle cx="165.5" cy="535.47" r="2.4"/>
<circle cx="164.08" cy="540.32" r="2.4"/>
<circle cx="178.61" cy="538.48" r="2.4"/>
<circle cx="161.74" cy="521.33" r="2.4"/>
<circle cx="181.97" cy="542.43" r="2.4"/>
<circle cx="182.27" cy="540.19" r="2.4"/>
<circle cx="163.97" cy="543.7" r="2.4"/>
<circle cx="181.25" cy="542.7" r="2.4"/>
<circle cx="160.61" cy="546.46" r="2.4"/>
<circle cx="164.43" cy="540.5" r="2.4"/>
<circle cx="176.56" cy="542.95" r="2.4"/>
<circle cx="170.2" cy="520.02" r="2.4"/>
<circle cx="168.59" cy="538.52" r="2.4"/>
<circle cx="164.92" cy="541.87" r="2.4"/>
<circle cx="164.26" cy="546.98" r="2.4"/>
<circle cx="168.42" cy="546.96" r="2.4"/>
<circle cx="169.6" cy="539.01" r="2.4"/>
<circle cx="174.05" cy="534.5" r="2.4"/>
<circle cx="172.15" cy="547.25" r="2.4"/>
<circle cx="178.78" cy="543.63" r="2.4"/>
<circle cx="173.39" cy="545.55" r="2.4"/>
<circle cx="168.98" cy="542.13" r="2.4"/>
<circle cx="167.96" cy="547.09" r="2.4"/>
<circle cx="170.06" cy="538.93" r="2.4"/>
<circle cx="181.12" cy="535.81" r="2.4"/>
<circle cx="182.93" cy="534.26" r="2.4"/>
<circle cx="170.4" cy="539.21" r="2.4"/>
<circle cx="160.93" cy="534.57" r="2.4"/>
<circle cx="178.26" cy="545.38" r="2.4"/>
<circle cx="172.02" cy="545.3" r="2.4"/>
<circle cx="180.57" cy="543.27" r="2.4"/>
<circle cx="218.14" cy="537.12" r="2.4"/>
<circle cx="217.99" cy="547.61" r="2.4"/>
<circle cx="198.41" cy="535.42" r="2.4"/>
<circle cx="223.7" cy="548.95" r="2.4"/>
<circle cx="199.3" cy="542.24" r="2.4"/>
<circle cx="217.04" cy="548.34" r="2.4"/>
<circle cx="203.08" cy="533.69" r="2.4"/>
<circle cx="187.06" cy="548.4" r="2.4"/>
<circle cx="212.89" cy="538.1" r="2.4"/>
<circle cx="225.61" cy="546.83" r="2.4"/>
<circle cx="218.56" cy="532.07" r="2.4"/>
<circle cx="197.83" cy="548.71" r="2.4"/>
<circle cx="194.68" cy="542.37" r="2.4"/>
<circle cx="189.28" cy="546.04" r="2.4"/>
<circle cx="224.84" cy="548.88" r="2.4"/>
<circle cx="211.29" cy="546.23" r="2.4"/>
<circle cx="226.48" cy="546.4" r="2.4"/>
<circle cx="205.09" cy="538.31" r="2.4"/>
<circle cx="216.85" cy="549.22" r="2.4"/>
<circle cx="219.17" cy="547.45" r="2.4"/>
<circle cx="226.59" cy="533.51" r="2.4"/>
<circle cx="205.19" cy="547.31" r="2.4"/>
<circle cx="193.22" cy="548.38" r="2.4"/>
<circle cx="192.27" cy="549.08" r="2.4"/>
<circle cx="215.86" cy="549.74" r="2.4"/>
<circle cx="209.94" cy="545.45" r="2.4"/>
<circle cx="216.1" cy="545.81" r="2.4"/>
<circle cx="224.73" cy="548.35" r="2.4"/>
<circle cx="187.19" cy="545.63" r="2.4"/>
<circle cx="224.48" cy="544.18" r="2.4"/>
<circle cx="220.51" cy="548.6" r="2.4"/>
<circle cx="204.82" cy="547.59" r="2.4"/>
<circle cx="198.53" cy="547.66" r="2.4"/>
<circle cx="204.5" cy="544.69" r="2.4"/>
<circle cx="184.13" cy="546.12" r="2.4"/>
<circle cx="188.76" cy="532.68" r="2.4"/>
<circle cx="207.83" cy="545.55" r="2.4"/>
<circle cx="197.18" cy="543.88" r="2.4"/>
<circle cx="214.95" cy="537.95" r="2.4"/>
<circle cx="209.13" cy="548.43" r="2.4"/>
<circle cx="211.29" cy="549.74" r="2.4"/>
<circle cx="216.48" cy="548.17" r="2.4"/>
<circle cx="215.37" cy="549.29" r="2.4"/>
<circle cx="209.89" cy="549.07" r="2.4"/>
<circle cx="184.64" cy="548.47" r="2.4"/>
<circle cx="257" cy="482.3" r="2.4"/>
<circle cx="258.3" cy="498" r="2.4"/>
<circle cx="166.8" cy="494" r="2.4"/>
<circle cx="175.6" cy="498" r="2.4"/>
<circle cx="166.5" cy="507" r="2.4"/>
<circle cx="175.8" cy="507.3" r="2.4"/>
<circle cx="182.5" cy="509" r="2.4"/>
<circle cx="166" cy="512.5" r="2.4"/>
<circle cx="206.3" cy="507.5" r="2.4"/>
<circle cx="211.3" cy="510.5" r="2.4"/>
<circle cx="203" cy="511.5" r="2.4"/>
<circle cx="191" cy="512.5" r="2.4"/>
<circle cx="197" cy="515" r="2.4"/>
<circle cx="221" cy="518" r="2.4"/>
<circle cx="230" cy="520.5" r="2.4"/>
<circle cx="243.5" cy="521.5" r="2.4"/>
<circle cx="180" cy="521" r="2.4"/>
<circle cx="207" cy="521" r="2.4"/>
<circle cx="165.5" cy="521.5" r="2.4"/>
<circle cx="169" cy="519" r="2.4"/>
<circle cx="172.5" cy="522" r="2.4"/>
<circle cx="174" cy="525" r="2.4"/>
<circle cx="235.5" cy="526.5" r="2.4"/>
<circle cx="245.5" cy="527.5" r="2.4"/>
<circle cx="162" cy="529" r="2.4"/>
<circle cx="171" cy="531" r="2.4"/>
<circle cx="187" cy="523.5" r="2.4"/>
<circle cx="192" cy="528" r="2.4"/>
<circle cx="200" cy="527.5" r="2.4"/>
<circle cx="203" cy="530" r="2.4"/>
<circle cx="210" cy="529" r="2.4"/>
<circle cx="196" cy="536" r="2.4"/>
<circle cx="200" cy="539" r="2.4"/>
<circle cx="208" cy="537" r="2.4"/>
<circle cx="214" cy="540" r="2.4"/>
<circle cx="219" cy="545" r="2.4"/>
<circle cx="222" cy="538" r="2.4"/>
<circle cx="226" cy="541" r="2.4"/>
<circle cx="229" cy="545.5" r="2.4"/>
<circle cx="233" cy="548.5" r="2.4"/>
<circle cx="241" cy="549.5" r="2.4"/>
<circle cx="253.5" cy="548.5" r="2.4"/>
<circle cx="275" cy="541.3" r="2.4"/>
<circle cx="216" cy="534" r="2.4"/>
<circle cx="224" cy="532" r="2.4"/>
<circle cx="190" cy="545" r="2.4"/>
<circle cx="195" cy="546.5" r="2.4"/>
<circle cx="199" cy="549" r="2.4"/>
<circle cx="204" cy="546" r="2.4"/>
<circle cx="207" cy="548" r="2.4"/>
<circle cx="209" cy="544" r="2.4"/>
<circle cx="205" cy="541.5" r="2.4"/>
<circle cx="212" cy="546" r="2.4"/>
<circle cx="217" cy="548" r="2.4"/>
<circle cx="225" cy="546" r="2.4"/>
<circle cx="187" cy="541" r="2.4"/>
<circle cx="183" cy="537" r="2.4"/>
<circle cx="179" cy="533" r="2.4"/>
<circle cx="176" cy="538" r="2.4"/>
<circle cx="170" cy="536" r="2.4"/>
<circle cx="165" cy="534" r="2.4"/>
<circle cx="168" cy="541" r="2.4"/>
<circle cx="173" cy="543" r="2.4"/>
<circle cx="178" cy="545" r="2.4"/>
<circle cx="182" cy="547" r="2.4"/>
<circle cx="186" cy="548.5" r="2.4"/>
<circle cx="196" cy="542" r="2.4"/>
<circle cx="231" cy="540" r="2.4"/>
</g>
<text x="77.3" y="521.9" font-size="8.8" text-anchor="middle" fill="#555">3</text>
<text x="76.6" y="567.2" font-size="8.8" text-anchor="middle" fill="#555">0</text>
<text x="77.3" y="611.9" font-size="8.8" text-anchor="middle" fill="#555">−3</text>
<text x="145.6" y="655.2" font-size="8.8" text-anchor="middle" fill="#555">0</text>
<text x="220.8" y="655.2" font-size="8.8" text-anchor="middle" fill="#555">2</text>
<text x="296" y="655.2" font-size="8.8" text-anchor="middle" fill="#555">4</text>
<text x="169.3" y="491.7" font-size="9.4" font-style="italic">Anpep</text>
<text x="182.9" y="503.4" font-size="9.4" font-style="italic">Arg1</text>
<text x="184.7" y="520" font-size="9.4" font-style="italic">Il1b</text>
<text x="218.2" y="527.5" font-size="9.4" font-style="italic">Csf1</text>
<text x="164.1" y="533.9" font-size="9.4" font-style="italic">S100a1</text>
<text x="207.8" y="533.9" font-size="9.4" font-style="italic">Gatm</text>
<text x="286" y="537.4" font-size="9.4" font-style="italic">Irf4</text>
<text x="230.6" y="541.9" font-size="9.4" font-style="italic">Cxcl1</text>
<text x="165.6" y="543.9" font-size="9.4" font-style="italic">Marco</text>
<text x="193.4" y="545.1" font-size="9.4" font-style="italic">Hif1a</text>
<text font-size="11.1" text-anchor="middle" transform="translate(43 561.9) rotate(-90)">Differential Gene Expression</text>
<text font-size="11" text-anchor="middle" transform="translate(57 560.6) rotate(-90)"><tspan>(Log</tspan><tspan font-size="6.6" dy="2.2">2</tspan><tspan dy="-2.2">FC)</tspan></text>
<text font-size="11" text-anchor="middle" transform="translate(69.5 560.4) rotate(-90)"><tspan font-style="italic">Lyz2</tspan><tspan font-size="6.6" dy="-3.3">cre</tspan><tspan font-style="italic" dy="3.3">Ei24</tspan><tspan font-size="6.6" dy="-3.3">fl/fl</tspan><tspan dy="3.3"> versus </tspan><tspan font-style="italic">Ei24</tspan><tspan font-size="6.6" dy="-3.3">fl/fl</tspan></text>
<text x="190.4" y="666.8" font-size="11.15" text-anchor="middle">Chromatin Accessibility</text>
<text x="191.6" y="680.4" font-size="11" text-anchor="middle"><tspan>(Log</tspan><tspan font-size="6.6" dy="2.2">2</tspan><tspan dy="-2.2">FC)</tspan></text>
<text x="192" y="693.4" font-size="11" text-anchor="middle"><tspan font-style="italic">Lyz2</tspan><tspan font-size="6.6" dy="-3.3">cre</tspan><tspan font-style="italic" dy="3.3">Ei24</tspan><tspan font-size="6.6" dy="-3.3">fl/fl</tspan><tspan dy="3.3"> versus </tspan><tspan font-style="italic">Ei24</tspan><tspan font-size="6.6" dy="-3.3">fl/fl</tspan></text>
<circle cx="261.3" cy="608.6" r="2.4" fill="#9fb2dd"/>
<text x="269.1" y="610.6" font-size="9.2">down</text>
<circle cx="261.3" cy="617.6" r="2.4" fill="#dedede"/>
<text x="269.1" y="619.3" font-size="9.2">not</text>
<circle cx="261.3" cy="626.7" r="2.4" fill="#ec9ea2"/>
<text x="269.1" y="628.5" font-size="9.2">up</text>
</g>
<g id="panel-g">
<text x="369" y="479.7" font-size="14.5" font-weight="bold" fill="#231815">g</text>
<text x="542.4" y="469.2" font-size="11"><tspan font-style="italic">Lyz2</tspan><tspan font-size="6.6" dy="-3.3">cre</tspan><tspan font-style="italic" dy="3.3">Ei24</tspan><tspan font-size="6.6" dy="-3.3">fl/fl</tspan><tspan dy="3.3"> versus </tspan><tspan font-style="italic">Ei24</tspan><tspan font-size="6.6" dy="-3.3">fl/fl</tspan></text>
<rect x="569.3" y="481.15" width="78.2" height="12.7" fill="#231815"/>
<line x1="563.5" y1="487.5" x2="565.5" y2="487.5" stroke="#333" stroke-width="0.8"/>
<text x="562.8" y="489.8" font-size="9.75" text-anchor="end" fill="#424242">Cytokine−cytokine receptor interaction</text>
<rect x="569.3" y="495.36" width="57.5" height="12.7" fill="#231815"/>
<line x1="563.5" y1="501.71" x2="565.5" y2="501.71" stroke="#333" stroke-width="0.8"/>
<text x="562.8" y="504.01" font-size="9.75" text-anchor="end" fill="#424242">MAPK signaling pathway</text>
<rect x="569.3" y="509.57" width="46.7" height="12.7" fill="#231815"/>
<line x1="563.5" y1="515.92" x2="565.5" y2="515.92" stroke="#333" stroke-width="0.8"/>
<text x="562.8" y="518.22" font-size="9.75" text-anchor="end" fill="#424242">PI3K−Akt signaling pathway</text>
<rect x="569.3" y="523.77" width="41.6" height="12.7" fill="#231815"/>
<line x1="563.5" y1="530.12" x2="565.5" y2="530.12" stroke="#333" stroke-width="0.8"/>
<text x="562.8" y="532.42" font-size="9.75" text-anchor="end" fill="#424242">Hematopoietic cell lineage</text>
<rect x="569.3" y="537.98" width="36.5" height="12.7" fill="#231815"/>
<line x1="563.5" y1="544.33" x2="565.5" y2="544.33" stroke="#333" stroke-width="0.8"/>
<text x="562.8" y="546.63" font-size="9.75" text-anchor="end" fill="#424242">JAK−STAT signaling pathway</text>
<rect x="569.3" y="552.19" width="36.5" height="12.7" fill="#231815"/>
<line x1="563.5" y1="558.54" x2="565.5" y2="558.54" stroke="#333" stroke-width="0.8"/>
<text x="562.8" y="560.84" font-size="9.75" text-anchor="end" fill="#424242">Efferocytosis</text>
<rect x="569.3" y="566.4" width="31.4" height="12.7" fill="#231815"/>
<line x1="563.5" y1="572.75" x2="565.5" y2="572.75" stroke="#333" stroke-width="0.8"/>
<text x="562.8" y="575.05" font-size="9.75" text-anchor="end" fill="#424242">C−type lectin receptor signaling pathway</text>
<rect x="569.3" y="580.6" width="26.3" height="12.7" fill="#231815"/>
<line x1="563.5" y1="586.95" x2="565.5" y2="586.95" stroke="#333" stroke-width="0.8"/>
<text x="562.8" y="589.25" font-size="9.75" text-anchor="end" fill="#424242">Fc gamma R−mediated phagocytosis</text>
<rect x="569.3" y="594.81" width="20.7" height="12.7" fill="#231815"/>
<line x1="563.5" y1="601.16" x2="565.5" y2="601.16" stroke="#333" stroke-width="0.8"/>
<text x="562.8" y="599.5" font-size="9.75" text-anchor="end" fill="#424242">Viral protein interaction with</text>
<text x="562.8" y="607.9" font-size="9.75" text-anchor="end" fill="#424242">cytokine and cytokine receptor</text>
<rect x="569.3" y="609.02" width="20.7" height="12.7" fill="#231815"/>
<line x1="563.5" y1="615.37" x2="565.5" y2="615.37" stroke="#333" stroke-width="0.8"/>
<text x="562.8" y="617.67" font-size="9.75" text-anchor="end" fill="#424242">TNF signaling pathway</text>
<rect x="569.3" y="623.23" width="20.7" height="12.7" fill="#231815"/>
<line x1="563.5" y1="629.58" x2="565.5" y2="629.58" stroke="#333" stroke-width="0.8"/>
<text x="562.8" y="631.88" font-size="9.75" text-anchor="end" fill="#424242">TGF−beta signaling pathway</text>
<rect x="569.3" y="637.43" width="20.7" height="12.7" fill="#231815"/>
<line x1="563.5" y1="643.78" x2="565.5" y2="643.78" stroke="#333" stroke-width="0.8"/>
<text x="562.8" y="646.08" font-size="9.75" text-anchor="end" fill="#424242">NF−kappa B signaling pathway</text>
<rect x="569.3" y="651.64" width="15.6" height="12.7" fill="#231815"/>
<line x1="563.5" y1="657.99" x2="565.5" y2="657.99" stroke="#333" stroke-width="0.8"/>
<text x="562.8" y="660.29" font-size="9.75" text-anchor="end" fill="#424242">Antigen processing and presentation</text>
<rect x="569.3" y="665.85" width="10.4" height="12.7" fill="#231815"/>
<line x1="563.5" y1="672.2" x2="565.5" y2="672.2" stroke="#333" stroke-width="0.8"/>
<text x="562.8" y="674.5" font-size="9.75" text-anchor="end" fill="#424242">Apoptosis</text>
<rect x="565.5" y="478.5" width="86" height="202" fill="none" stroke="#333" stroke-width="1"/>
<line x1="569.6" y1="680.5" x2="569.6" y2="682.3" stroke="#333" stroke-width="0.8"/>
<text x="575.1" y="692.2" font-size="9.4" text-anchor="middle" fill="#424242">0.00</text>
<line x1="599.5" y1="680.5" x2="599.5" y2="682.3" stroke="#333" stroke-width="0.8"/>
<text x="605.3" y="692.2" font-size="9.4" text-anchor="middle" fill="#424242">0.05</text>
<line x1="629.3" y1="680.5" x2="629.3" y2="682.3" stroke="#333" stroke-width="0.8"/>
<text x="635.5" y="692.2" font-size="9.4" text-anchor="middle" fill="#424242">0.10</text>
<text x="607.9" y="702.3" font-size="9.5" text-anchor="middle">GeneRatio</text>
</g>
</svg>
</body>
</html>
